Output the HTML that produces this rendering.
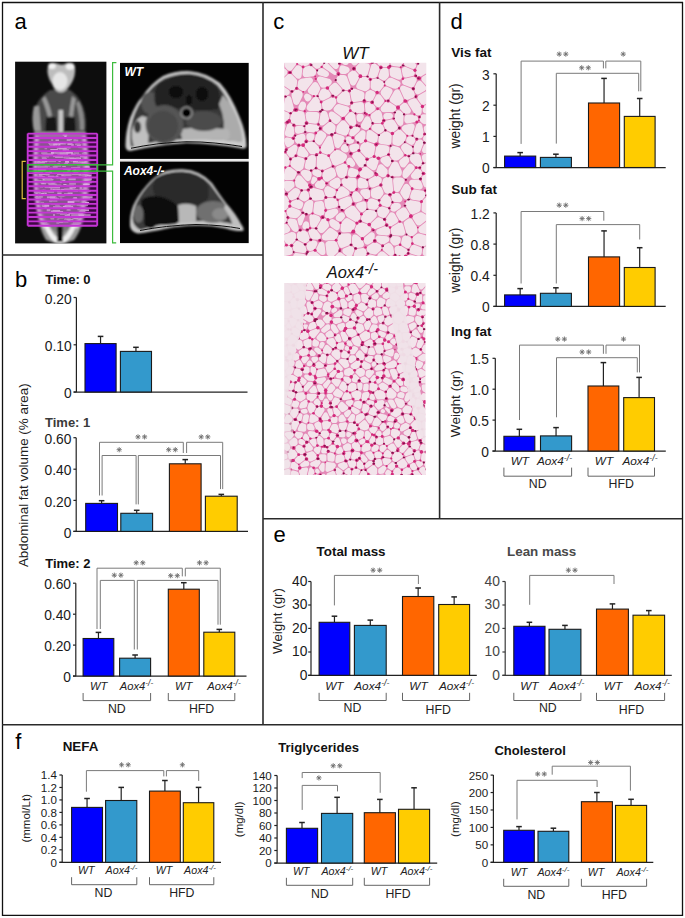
<!DOCTYPE html>
<html><head><meta charset="utf-8"><style>
html,body{margin:0;padding:0;background:#fff;}
svg{display:block;}
text{font-family:"Liberation Sans", sans-serif;}
</style></head><body>
<svg width="685" height="918" viewBox="0 0 685 918" font-family='"Liberation Sans", sans-serif'>
<rect width="685" height="918" fill="#fff"/>
<defs><filter id="mri" x="-10%" y="-10%" width="120%" height="120%"><feGaussianBlur stdDeviation="1.1"/></filter><filter id="mri2" x="-10%" y="-10%" width="120%" height="120%"><feGaussianBlur stdDeviation="0.6"/></filter><clipPath id="cor"><rect x="15.1" y="61.7" width="91.3" height="181.7"/></clipPath><clipPath id="ax1"><rect x="120" y="62.9" width="128.7" height="96"/></clipPath><clipPath id="ax2"><rect x="120" y="161.7" width="128.7" height="81.4"/></clipPath></defs>
<text x="14.6" y="28.9" font-size="22" fill="#000">a</text>
<rect x="15.1" y="61.7" width="91.3" height="181.7" fill="#0d0d0d"/>
<g clip-path="url(#cor)"><g filter="url(#mri)">
<path d="M50 90 L70 90 Q82 98 85 114 Q87 126 85 133 L35 133 Q31 122 34 110 Q39 97 50 90 Z" fill="#4a4a4a"/>
<path d="M34 106 Q31 118 34 131 L41 131 Q40 117 39 106 Z" fill="#9a9a9a"/>
<path d="M79 101 Q85 112 84 130 L80 130 Q80 115 76 103 Z" fill="#8a8a8a"/>
<path d="M45 96 Q50 105 52 116 L48 117 Q45 106 42 99 Z" fill="#9a9a9a"/>
<path d="M72 96 Q70 106 69 116 L73 117 Q74 106 76 99 Z" fill="#9a9a9a"/>
<path d="M46 117 L56 117 L57 133 L45 133 Z" fill="#151515"/>
<path d="M65 117 L75 117 L76 133 L64 133 Z" fill="#151515"/>
<rect x="58.5" y="110" width="4.5" height="22" fill="#c8c8c8"/>
<path d="M34 132 Q32 160 34 190 Q37 226 46 240 Q60 247 74 240 Q85 226 89 190 Q91 160 86 132 Z" fill="#9a9a9a"/>
<path d="M39 138 Q37 175 41 205 Q46 229 60 234 Q75 229 80 205 Q84 175 82 138 Z" fill="#7a7a7a"/>
<path d="M43 224 Q51 244 60 244 Q69 244 77 224 L72 224 Q66 238 60 238 Q54 238 48 224 Z" fill="#eeeeee"/>
<path d="M37 136 Q34 165 36 192 Q38 215 45 228" fill="none" stroke="#e0e0e0" stroke-width="3"/>
<path d="M84 136 Q87 165 85 192 Q83 215 76 228" fill="none" stroke="#e0e0e0" stroke-width="3"/>
<rect x="57" y="226" width="6" height="16" fill="#111"/>
<path d="M48 66 Q51 61.5 57 63.5 Q62 66 67 63 Q74 61.5 75 67 Q76 76 71 84 Q66 92.5 61 92.5 Q55 92.5 52 84 Q46 75 48 66 Z" fill="#bdbdbd"/>
<ellipse cx="60" cy="81" rx="7.5" ry="9" fill="#e6e6e6"/>
<ellipse cx="52" cy="66" rx="3.8" ry="3" fill="#f2f2f2"/>
<ellipse cx="70" cy="66.5" rx="4.2" ry="3.2" fill="#f2f2f2"/>
</g>
<g filter="url(#mri2)" opacity="0.9"><rect x="67.6" y="200.8" width="6.8" height="2.3" fill="rgb(247,247,247)"/><rect x="35.6" y="175.9" width="7.7" height="1.9" fill="rgb(200,200,200)"/><rect x="40.1" y="176.2" width="3.5" height="1.8" fill="rgb(211,211,211)"/><rect x="49.1" y="216.5" width="6.6" height="1.2" fill="rgb(189,189,189)"/><rect x="41.5" y="189.6" width="2.8" height="1.0" fill="rgb(180,180,180)"/><rect x="45.3" y="153.4" width="7.9" height="2.2" fill="rgb(217,217,217)"/><rect x="50.9" y="151.9" width="7.3" height="1.9" fill="rgb(203,203,203)"/><rect x="84.8" y="196.2" width="7.8" height="2.3" fill="rgb(218,218,218)"/><rect x="35.2" y="171.3" width="7.6" height="1.4" fill="rgb(222,222,222)"/><rect x="50.3" y="188.3" width="2.0" height="1.9" fill="rgb(223,223,223)"/><rect x="37.6" y="166.0" width="3.8" height="2.0" fill="rgb(203,203,203)"/><rect x="60.0" y="197.4" width="2.3" height="2.4" fill="rgb(182,182,182)"/><rect x="85.3" y="166.2" width="4.4" height="1.8" fill="rgb(233,233,233)"/><rect x="53.8" y="186.1" width="2.1" height="1.1" fill="rgb(203,203,203)"/><rect x="67.7" y="219.9" width="2.7" height="1.3" fill="rgb(239,239,239)"/><rect x="52.6" y="165.9" width="5.1" height="2.1" fill="rgb(193,193,193)"/><rect x="65.8" y="204.3" width="4.2" height="1.4" fill="rgb(235,235,235)"/><rect x="52.4" y="189.0" width="7.5" height="1.5" fill="rgb(249,249,249)"/><rect x="39.0" y="195.7" width="3.8" height="2.1" fill="rgb(199,199,199)"/><rect x="72.9" y="161.8" width="4.9" height="2.0" fill="rgb(190,190,190)"/><rect x="87.3" y="182.0" width="4.4" height="1.3" fill="rgb(224,224,224)"/><rect x="78.6" y="175.0" width="4.5" height="1.1" fill="rgb(184,184,184)"/><rect x="77.3" y="164.1" width="3.2" height="2.4" fill="rgb(196,196,196)"/><rect x="68.0" y="204.9" width="2.6" height="1.6" fill="rgb(199,199,199)"/><rect x="37.2" y="171.9" width="2.8" height="2.3" fill="rgb(201,201,201)"/><rect x="86.7" y="174.8" width="4.9" height="2.0" fill="rgb(241,241,241)"/><rect x="48.8" y="176.3" width="7.4" height="1.2" fill="rgb(248,248,248)"/><rect x="85.8" y="190.4" width="5.0" height="1.5" fill="rgb(191,191,191)"/><rect x="60.6" y="180.4" width="5.3" height="1.7" fill="rgb(188,188,188)"/><rect x="76.4" y="203.7" width="6.2" height="1.9" fill="rgb(219,219,219)"/><rect x="53.6" y="197.4" width="3.7" height="1.7" fill="rgb(217,217,217)"/><rect x="85.7" y="164.6" width="3.1" height="2.2" fill="rgb(240,240,240)"/><rect x="63.5" y="156.6" width="6.0" height="1.6" fill="rgb(244,244,244)"/><rect x="69.0" y="205.8" width="4.1" height="1.9" fill="rgb(232,232,232)"/><rect x="52.9" y="209.9" width="7.2" height="2.0" fill="rgb(226,226,226)"/><rect x="85.7" y="180.6" width="5.2" height="1.2" fill="rgb(226,226,226)"/><rect x="84.6" y="177.0" width="6.1" height="2.0" fill="rgb(233,233,233)"/><rect x="43.3" y="204.2" width="5.5" height="1.9" fill="rgb(233,233,233)"/><rect x="50.3" y="183.8" width="7.2" height="1.4" fill="rgb(183,183,183)"/><rect x="44.6" y="186.8" width="5.7" height="1.3" fill="rgb(203,203,203)"/><rect x="68.1" y="137.8" width="4.8" height="1.3" fill="rgb(186,186,186)"/><rect x="86.3" y="177.4" width="5.3" height="1.6" fill="rgb(224,224,224)"/><rect x="54.5" y="189.1" width="5.5" height="1.3" fill="rgb(227,227,227)"/><rect x="49.0" y="170.9" width="2.7" height="2.2" fill="rgb(227,227,227)"/><rect x="86.1" y="183.5" width="3.8" height="1.4" fill="rgb(245,245,245)"/><rect x="52.3" y="186.3" width="7.7" height="2.1" fill="rgb(233,233,233)"/><rect x="56.1" y="184.8" width="5.2" height="1.7" fill="rgb(200,200,200)"/><rect x="66.2" y="184.7" width="7.7" height="2.4" fill="rgb(191,191,191)"/><rect x="53.0" y="214.4" width="2.0" height="1.2" fill="rgb(249,249,249)"/><rect x="41.6" y="190.7" width="7.3" height="1.5" fill="rgb(235,235,235)"/><rect x="86.7" y="178.4" width="4.9" height="2.0" fill="rgb(229,229,229)"/><rect x="66.2" y="157.4" width="7.9" height="1.7" fill="rgb(233,233,233)"/><rect x="50.6" y="217.7" width="2.9" height="1.0" fill="rgb(236,236,236)"/><rect x="41.4" y="169.3" width="4.9" height="1.8" fill="rgb(211,211,211)"/><rect x="84.5" y="204.4" width="3.5" height="1.4" fill="rgb(199,199,199)"/><rect x="73.0" y="159.7" width="5.0" height="2.4" fill="rgb(246,246,246)"/><rect x="68.8" y="188.3" width="6.5" height="1.2" fill="rgb(196,196,196)"/><rect x="50.2" y="182.0" width="4.0" height="1.4" fill="rgb(247,247,247)"/><rect x="70.8" y="207.1" width="2.8" height="1.0" fill="rgb(250,250,250)"/><rect x="58.6" y="216.5" width="7.3" height="1.8" fill="rgb(181,181,181)"/><rect x="57.2" y="206.7" width="5.6" height="2.0" fill="rgb(241,241,241)"/><rect x="80.4" y="209.7" width="4.9" height="2.0" fill="rgb(205,205,205)"/><rect x="82.5" y="175.9" width="6.5" height="1.4" fill="rgb(180,180,180)"/><rect x="71.5" y="173.0" width="3.7" height="2.1" fill="rgb(219,219,219)"/><rect x="41.7" y="177.1" width="5.3" height="1.7" fill="rgb(222,222,222)"/><rect x="63.0" y="172.3" width="5.2" height="1.1" fill="rgb(209,209,209)"/><rect x="48.4" y="141.7" width="2.4" height="2.3" fill="rgb(222,222,222)"/><rect x="73.0" y="222.1" width="8.0" height="2.0" fill="rgb(186,186,186)"/><rect x="67.2" y="208.2" width="2.7" height="2.3" fill="rgb(217,217,217)"/><rect x="72.1" y="173.4" width="3.1" height="1.3" fill="rgb(200,200,200)"/><rect x="64.0" y="193.4" width="6.5" height="1.4" fill="rgb(195,195,195)"/><rect x="74.1" y="213.1" width="2.8" height="1.6" fill="rgb(220,220,220)"/><rect x="71.0" y="178.0" width="4.1" height="1.9" fill="rgb(187,187,187)"/><rect x="41.5" y="160.5" width="5.4" height="1.9" fill="rgb(217,217,217)"/><rect x="83.2" y="183.9" width="5.7" height="1.4" fill="rgb(250,250,250)"/><rect x="46.7" y="208.9" width="3.7" height="2.4" fill="rgb(210,210,210)"/><rect x="80.6" y="174.8" width="4.3" height="1.2" fill="rgb(182,182,182)"/><rect x="69.4" y="141.7" width="6.0" height="1.1" fill="rgb(195,195,195)"/><rect x="61.3" y="174.8" width="4.3" height="1.6" fill="rgb(221,221,221)"/><rect x="39.8" y="181.8" width="5.3" height="1.5" fill="rgb(199,199,199)"/><rect x="85.0" y="172.6" width="6.8" height="2.0" fill="rgb(190,190,190)"/><rect x="86.5" y="193.9" width="6.9" height="1.2" fill="rgb(228,228,228)"/><rect x="53.1" y="155.2" width="4.0" height="1.9" fill="rgb(224,224,224)"/><rect x="77.0" y="168.0" width="6.3" height="1.5" fill="rgb(217,217,217)"/><rect x="77.4" y="173.0" width="7.1" height="1.7" fill="rgb(207,207,207)"/><rect x="74.0" y="169.6" width="2.6" height="1.0" fill="rgb(205,205,205)"/><rect x="44.6" y="178.1" width="7.6" height="1.9" fill="rgb(224,224,224)"/><rect x="82.0" y="189.8" width="4.6" height="1.7" fill="rgb(192,192,192)"/><rect x="44.3" y="192.8" width="2.4" height="2.2" fill="rgb(240,240,240)"/><rect x="42.2" y="156.9" width="3.7" height="1.2" fill="rgb(216,216,216)"/><rect x="70.3" y="137.0" width="7.4" height="1.5" fill="rgb(227,227,227)"/><rect x="51.1" y="139.3" width="2.1" height="1.6" fill="rgb(199,199,199)"/><rect x="40.4" y="194.2" width="3.7" height="1.9" fill="rgb(200,200,200)"/><rect x="35.8" y="198.3" width="5.4" height="1.9" fill="rgb(231,231,231)"/><rect x="83.2" y="197.6" width="6.1" height="1.3" fill="rgb(226,226,226)"/><rect x="49.3" y="199.9" width="6.3" height="1.2" fill="rgb(210,210,210)"/><rect x="43.5" y="152.8" width="2.3" height="1.9" fill="rgb(214,214,214)"/><rect x="76.1" y="170.9" width="2.3" height="1.8" fill="rgb(246,246,246)"/><rect x="64.5" y="218.6" width="6.3" height="1.3" fill="rgb(242,242,242)"/><rect x="39.0" y="176.4" width="6.1" height="1.9" fill="rgb(243,243,243)"/><rect x="55.5" y="139.4" width="3.5" height="1.6" fill="rgb(219,219,219)"/><rect x="68.6" y="212.8" width="7.7" height="1.3" fill="rgb(245,245,245)"/><rect x="68.6" y="150.9" width="3.4" height="2.3" fill="rgb(193,193,193)"/><rect x="73.4" y="190.2" width="4.6" height="1.5" fill="rgb(234,234,234)"/><rect x="64.9" y="167.9" width="5.8" height="2.0" fill="rgb(219,219,219)"/><rect x="71.2" y="214.2" width="8.0" height="1.8" fill="rgb(197,197,197)"/><rect x="50.8" y="141.9" width="6.6" height="2.1" fill="rgb(220,220,220)"/><rect x="41.2" y="182.3" width="4.8" height="2.0" fill="rgb(234,234,234)"/><rect x="86.3" y="194.0" width="3.7" height="1.7" fill="rgb(211,211,211)"/><rect x="49.4" y="167.6" width="2.6" height="1.6" fill="rgb(220,220,220)"/><rect x="54.5" y="203.2" width="2.0" height="1.4" fill="rgb(196,196,196)"/><rect x="65.0" y="173.8" width="6.9" height="1.9" fill="rgb(182,182,182)"/><rect x="73.3" y="197.1" width="3.6" height="2.1" fill="rgb(228,228,228)"/><rect x="64.3" y="162.9" width="3.8" height="1.2" fill="rgb(243,243,243)"/><rect x="70.5" y="159.7" width="2.4" height="2.1" fill="rgb(183,183,183)"/><rect x="41.0" y="166.1" width="7.2" height="2.3" fill="rgb(182,182,182)"/><rect x="46.5" y="172.6" width="4.2" height="1.5" fill="rgb(181,181,181)"/><rect x="42.8" y="189.7" width="3.0" height="2.4" fill="rgb(214,214,214)"/><rect x="62.6" y="149.4" width="6.3" height="1.6" fill="rgb(235,235,235)"/><rect x="76.9" y="144.6" width="3.9" height="2.3" fill="rgb(239,239,239)"/><rect x="66.2" y="149.4" width="2.3" height="1.9" fill="rgb(200,200,200)"/><rect x="62.8" y="221.3" width="5.6" height="1.1" fill="rgb(233,233,233)"/><rect x="71.0" y="152.7" width="2.0" height="2.3" fill="rgb(210,210,210)"/><rect x="60.0" y="213.4" width="4.4" height="1.3" fill="rgb(215,215,215)"/><rect x="78.4" y="161.3" width="5.1" height="2.1" fill="rgb(210,210,210)"/><rect x="53.8" y="206.8" width="6.9" height="1.9" fill="rgb(187,187,187)"/><rect x="67.4" y="170.1" width="2.9" height="2.2" fill="rgb(242,242,242)"/><rect x="54.6" y="142.4" width="4.4" height="2.1" fill="rgb(216,216,216)"/><rect x="77.0" y="163.2" width="6.1" height="2.2" fill="rgb(191,191,191)"/><rect x="77.2" y="167.9" width="2.1" height="1.7" fill="rgb(203,203,203)"/><rect x="70.6" y="188.9" width="5.1" height="1.7" fill="rgb(249,249,249)"/><rect x="72.0" y="169.9" width="7.9" height="2.1" fill="rgb(187,187,187)"/><rect x="63.0" y="205.9" width="4.2" height="1.8" fill="rgb(246,246,246)"/><rect x="45.2" y="159.8" width="2.2" height="2.1" fill="rgb(232,232,232)"/><rect x="50.6" y="217.6" width="3.6" height="2.0" fill="rgb(189,189,189)"/><rect x="53.0" y="206.1" width="7.6" height="1.8" fill="rgb(206,206,206)"/><rect x="60.1" y="142.3" width="2.7" height="1.5" fill="rgb(249,249,249)"/><rect x="56.9" y="221.2" width="6.0" height="1.5" fill="rgb(247,247,247)"/><rect x="82.6" y="215.9" width="5.7" height="1.5" fill="rgb(193,193,193)"/><rect x="79.5" y="214.0" width="6.1" height="2.4" fill="rgb(211,211,211)"/><rect x="81.9" y="153.1" width="3.8" height="1.4" fill="rgb(189,189,189)"/><rect x="68.2" y="203.0" width="3.3" height="1.1" fill="rgb(249,249,249)"/><rect x="73.3" y="171.5" width="4.6" height="1.7" fill="rgb(211,211,211)"/><rect x="50.3" y="159.3" width="5.6" height="2.4" fill="rgb(203,203,203)"/><rect x="56.8" y="147.4" width="3.8" height="1.8" fill="rgb(203,203,203)"/><rect x="57.4" y="163.3" width="2.6" height="2.1" fill="rgb(222,222,222)"/><rect x="73.4" y="139.5" width="4.9" height="2.2" fill="rgb(189,189,189)"/><rect x="51.2" y="210.5" width="5.9" height="2.3" fill="rgb(209,209,209)"/><rect x="82.2" y="189.4" width="6.8" height="2.2" fill="rgb(180,180,180)"/><rect x="44.5" y="148.1" width="2.6" height="1.2" fill="rgb(193,193,193)"/><rect x="65.0" y="173.7" width="3.9" height="2.1" fill="rgb(203,203,203)"/><rect x="72.5" y="217.2" width="7.7" height="1.9" fill="rgb(193,193,193)"/><rect x="53.7" y="207.3" width="3.2" height="1.5" fill="rgb(202,202,202)"/><rect x="58.8" y="195.2" width="6.5" height="1.1" fill="rgb(231,231,231)"/><rect x="84.8" y="175.9" width="2.0" height="2.4" fill="rgb(227,227,227)"/><rect x="54.6" y="164.8" width="6.5" height="1.7" fill="rgb(217,217,217)"/><rect x="44.6" y="164.9" width="2.8" height="2.3" fill="rgb(191,191,191)"/><rect x="65.1" y="160.6" width="4.0" height="2.2" fill="rgb(246,246,246)"/><rect x="57.3" y="153.8" width="7.9" height="1.4" fill="rgb(189,189,189)"/><rect x="41.9" y="221.1" width="5.3" height="1.6" fill="rgb(203,203,203)"/><rect x="63.2" y="168.8" width="7.6" height="1.1" fill="rgb(225,225,225)"/><rect x="78.2" y="146.7" width="6.9" height="1.0" fill="rgb(238,238,238)"/><rect x="44.5" y="206.3" width="2.1" height="1.7" fill="rgb(215,215,215)"/><rect x="66.3" y="209.5" width="4.8" height="1.0" fill="rgb(200,200,200)"/><rect x="55.2" y="204.1" width="4.6" height="1.8" fill="rgb(184,184,184)"/><rect x="45.6" y="171.9" width="6.3" height="2.1" fill="rgb(235,235,235)"/><rect x="83.4" y="168.1" width="8.0" height="2.1" fill="rgb(223,223,223)"/><rect x="42.0" y="204.3" width="4.5" height="2.4" fill="rgb(227,227,227)"/><rect x="45.7" y="171.9" width="3.6" height="1.7" fill="rgb(216,216,216)"/><rect x="34.1" y="191.0" width="6.6" height="2.1" fill="rgb(189,189,189)"/><rect x="38.0" y="168.3" width="7.4" height="2.2" fill="rgb(205,205,205)"/><rect x="69.0" y="201.3" width="5.0" height="1.4" fill="rgb(238,238,238)"/><rect x="41.4" y="155.3" width="7.5" height="2.3" fill="rgb(183,183,183)"/><rect x="69.3" y="164.1" width="3.3" height="1.4" fill="rgb(191,191,191)"/><rect x="49.3" y="143.5" width="4.4" height="1.4" fill="rgb(241,241,241)"/><rect x="63.6" y="173.9" width="7.2" height="2.4" fill="rgb(197,197,197)"/><rect x="48.2" y="183.1" width="6.4" height="1.2" fill="rgb(241,241,241)"/><rect x="69.9" y="139.0" width="2.1" height="1.3" fill="rgb(209,209,209)"/><rect x="61.2" y="188.9" width="6.8" height="1.1" fill="rgb(244,244,244)"/><rect x="46.9" y="196.3" width="7.3" height="2.1" fill="rgb(218,218,218)"/><rect x="57.7" y="143.2" width="2.7" height="2.3" fill="rgb(247,247,247)"/><rect x="48.9" y="186.5" width="5.6" height="1.5" fill="rgb(228,228,228)"/><rect x="50.3" y="149.0" width="7.6" height="1.1" fill="rgb(237,237,237)"/><rect x="67.4" y="142.9" width="5.1" height="2.1" fill="rgb(227,227,227)"/><rect x="78.8" y="146.4" width="4.1" height="1.7" fill="rgb(206,206,206)"/><rect x="64.6" y="137.8" width="6.5" height="1.2" fill="rgb(198,198,198)"/><rect x="54.2" y="164.7" width="6.9" height="1.7" fill="rgb(198,198,198)"/><rect x="74.0" y="157.6" width="7.0" height="1.9" fill="rgb(229,229,229)"/><rect x="43.0" y="205.0" width="6.2" height="1.8" fill="rgb(236,236,236)"/><rect x="83.4" y="209.3" width="5.6" height="1.8" fill="rgb(225,225,225)"/><rect x="64.3" y="134.9" width="2.3" height="2.2" fill="rgb(243,243,243)"/><rect x="70.4" y="192.5" width="2.2" height="1.6" fill="rgb(232,232,232)"/><rect x="72.9" y="189.0" width="5.7" height="1.3" fill="rgb(194,194,194)"/><rect x="72.1" y="198.7" width="5.6" height="1.1" fill="rgb(238,238,238)"/><rect x="50.4" y="181.2" width="5.2" height="2.2" fill="rgb(214,214,214)"/><rect x="40.5" y="201.9" width="3.6" height="1.4" fill="rgb(180,180,180)"/><rect x="81.5" y="163.1" width="5.9" height="1.7" fill="rgb(228,228,228)"/><rect x="42.4" y="153.5" width="3.6" height="2.3" fill="rgb(206,206,206)"/><rect x="58.7" y="147.5" width="8.0" height="1.9" fill="rgb(236,236,236)"/><rect x="67.6" y="192.6" width="3.0" height="1.2" fill="rgb(242,242,242)"/><rect x="43.2" y="179.2" width="7.6" height="1.5" fill="rgb(182,182,182)"/><rect x="41.8" y="158.1" width="5.0" height="1.8" fill="rgb(207,207,207)"/><rect x="64.0" y="193.6" width="4.5" height="2.1" fill="rgb(220,220,220)"/><rect x="49.9" y="143.7" width="3.6" height="1.5" fill="rgb(246,246,246)"/><rect x="48.3" y="190.6" width="5.8" height="2.3" fill="rgb(194,194,194)"/><rect x="71.2" y="143.9" width="2.6" height="2.2" fill="rgb(216,216,216)"/><rect x="79.6" y="186.4" width="2.3" height="2.4" fill="rgb(229,229,229)"/><rect x="43.3" y="164.1" width="6.6" height="1.1" fill="rgb(222,222,222)"/><rect x="81.7" y="162.1" width="3.8" height="1.5" fill="rgb(232,232,232)"/><rect x="37.4" y="161.1" width="3.1" height="2.3" fill="rgb(244,244,244)"/><rect x="56.0" y="175.6" width="2.4" height="1.6" fill="rgb(249,249,249)"/><rect x="49.7" y="143.7" width="5.1" height="2.3" fill="rgb(189,189,189)"/><rect x="59.2" y="143.2" width="6.6" height="1.2" fill="rgb(248,248,248)"/><rect x="39.1" y="192.9" width="6.0" height="1.5" fill="rgb(194,194,194)"/><rect x="48.7" y="183.6" width="7.8" height="1.6" fill="rgb(206,206,206)"/><rect x="41.2" y="193.1" width="3.1" height="1.3" fill="rgb(247,247,247)"/><rect x="37.8" y="161.6" width="7.1" height="1.9" fill="rgb(219,219,219)"/><rect x="57.9" y="216.6" width="5.4" height="1.7" fill="rgb(216,216,216)"/><rect x="43.0" y="190.6" width="4.7" height="1.6" fill="rgb(192,192,192)"/><rect x="41.2" y="152.2" width="6.2" height="2.0" fill="rgb(193,193,193)"/><rect x="58.0" y="155.1" width="3.5" height="1.9" fill="rgb(237,237,237)"/><rect x="47.9" y="175.8" width="6.1" height="2.1" fill="rgb(241,241,241)"/><rect x="39.7" y="186.2" width="3.5" height="1.5" fill="rgb(186,186,186)"/><rect x="63.3" y="184.0" width="3.2" height="1.0" fill="rgb(241,241,241)"/><rect x="68.5" y="178.0" width="7.2" height="2.3" fill="rgb(216,216,216)"/><rect x="66.7" y="139.2" width="3.7" height="1.7" fill="rgb(217,217,217)"/><rect x="56.4" y="221.9" width="2.8" height="1.9" fill="rgb(184,184,184)"/><rect x="50.9" y="210.8" width="6.0" height="1.6" fill="rgb(239,239,239)"/><rect x="52.4" y="199.9" width="5.0" height="2.0" fill="rgb(181,181,181)"/><rect x="42.6" y="178.5" width="2.0" height="2.1" fill="rgb(239,239,239)"/><rect x="62.9" y="177.1" width="2.7" height="1.3" fill="rgb(201,201,201)"/><rect x="80.0" y="155.4" width="7.0" height="1.9" fill="rgb(229,229,229)"/><rect x="56.6" y="211.7" width="5.9" height="2.3" fill="rgb(206,206,206)"/><rect x="69.5" y="186.3" width="6.5" height="1.7" fill="rgb(235,235,235)"/><rect x="65.4" y="154.1" width="2.6" height="1.8" fill="rgb(250,250,250)"/><rect x="74.9" y="174.0" width="6.1" height="1.1" fill="rgb(213,213,213)"/><rect x="62.7" y="134.2" width="4.6" height="1.6" fill="rgb(204,204,204)"/><rect x="75.4" y="143.6" width="4.7" height="1.6" fill="rgb(240,240,240)"/><rect x="59.7" y="181.0" width="2.1" height="2.1" fill="rgb(239,239,239)"/><rect x="79.1" y="189.3" width="6.3" height="2.2" fill="rgb(206,206,206)"/><rect x="37.6" y="164.6" width="2.6" height="1.5" fill="rgb(191,191,191)"/><rect x="43.3" y="169.6" width="2.2" height="1.1" fill="rgb(204,204,204)"/><rect x="73.4" y="169.0" width="3.0" height="2.3" fill="rgb(229,229,229)"/><rect x="71.2" y="153.5" width="4.4" height="1.6" fill="rgb(232,232,232)"/><rect x="62.3" y="152.1" width="6.1" height="2.2" fill="rgb(214,214,214)"/><rect x="75.2" y="212.4" width="7.5" height="2.1" fill="rgb(233,233,233)"/><rect x="78.5" y="215.0" width="5.4" height="2.2" fill="rgb(236,236,236)"/><rect x="73.6" y="152.2" width="5.5" height="2.0" fill="rgb(185,185,185)"/><rect x="44.4" y="182.0" width="7.0" height="1.5" fill="rgb(192,192,192)"/><rect x="72.3" y="173.0" width="6.9" height="1.9" fill="rgb(203,203,203)"/><rect x="57.0" y="143.4" width="2.0" height="1.8" fill="rgb(221,221,221)"/><rect x="73.2" y="213.7" width="4.9" height="1.5" fill="rgb(187,187,187)"/><rect x="73.0" y="167.3" width="7.3" height="1.4" fill="rgb(237,237,237)"/><rect x="81.8" y="163.6" width="7.8" height="1.6" fill="rgb(230,230,230)"/><rect x="57.0" y="173.6" width="6.9" height="1.3" fill="rgb(217,217,217)"/><rect x="39.9" y="180.3" width="6.7" height="1.7" fill="rgb(190,190,190)"/><rect x="69.9" y="187.5" width="2.6" height="2.0" fill="rgb(232,232,232)"/><rect x="43.4" y="165.5" width="6.6" height="1.1" fill="rgb(195,195,195)"/><rect x="84.1" y="214.1" width="6.6" height="2.2" fill="rgb(190,190,190)"/><rect x="36.2" y="180.2" width="4.8" height="1.6" fill="rgb(199,199,199)"/><rect x="56.9" y="189.4" width="5.4" height="2.4" fill="rgb(246,246,246)"/><rect x="47.2" y="160.1" width="2.5" height="1.4" fill="rgb(228,228,228)"/><rect x="49.8" y="142.6" width="4.1" height="2.3" fill="rgb(191,191,191)"/><rect x="53.2" y="143.4" width="4.0" height="2.2" fill="rgb(243,243,243)"/><rect x="51.7" y="195.7" width="4.7" height="2.2" fill="rgb(187,187,187)"/><rect x="66.1" y="214.1" width="3.9" height="1.6" fill="rgb(244,244,244)"/><rect x="62.4" y="180.2" width="2.6" height="1.7" fill="rgb(237,237,237)"/><rect x="56.3" y="151.7" width="6.4" height="2.3" fill="rgb(195,195,195)"/><rect x="41.1" y="173.5" width="7.3" height="1.4" fill="rgb(226,226,226)"/><rect x="56.7" y="218.6" width="2.6" height="1.0" fill="rgb(198,198,198)"/><rect x="73.6" y="137.7" width="2.7" height="2.1" fill="rgb(186,186,186)"/><rect x="67.8" y="159.6" width="5.9" height="1.0" fill="rgb(238,238,238)"/><rect x="50.0" y="196.5" width="5.2" height="2.4" fill="rgb(230,230,230)"/><rect x="79.5" y="189.7" width="7.1" height="1.2" fill="rgb(240,240,240)"/><rect x="38.8" y="173.4" width="3.6" height="2.3" fill="rgb(223,223,223)"/><rect x="55.1" y="211.1" width="8.0" height="1.2" fill="rgb(249,249,249)"/><rect x="58.7" y="159.0" width="3.0" height="1.6" fill="rgb(231,231,231)"/><rect x="51.0" y="151.5" width="2.9" height="2.3" fill="rgb(246,246,246)"/><rect x="58.5" y="159.8" width="2.2" height="2.1" fill="rgb(231,231,231)"/><rect x="47.2" y="178.9" width="5.5" height="1.7" fill="rgb(194,194,194)"/><rect x="76.0" y="161.6" width="4.0" height="1.9" fill="rgb(200,200,200)"/><rect x="59.7" y="152.4" width="7.5" height="2.4" fill="rgb(222,222,222)"/><rect x="76.6" y="153.9" width="4.7" height="1.0" fill="rgb(195,195,195)"/><rect x="75.0" y="143.8" width="6.2" height="1.2" fill="rgb(188,188,188)"/><rect x="68.3" y="203.5" width="7.4" height="1.8" fill="rgb(224,224,224)"/><rect x="76.3" y="157.0" width="3.0" height="1.4" fill="rgb(188,188,188)"/><rect x="55.1" y="155.7" width="7.8" height="2.2" fill="rgb(219,219,219)"/><rect x="59.4" y="154.9" width="2.3" height="2.0" fill="rgb(207,207,207)"/><rect x="54.7" y="185.6" width="3.7" height="1.1" fill="rgb(213,213,213)"/><rect x="74.0" y="217.2" width="3.9" height="1.3" fill="rgb(242,242,242)"/><rect x="62.2" y="165.8" width="3.6" height="1.3" fill="rgb(217,217,217)"/><rect x="58.5" y="195.7" width="5.6" height="1.3" fill="rgb(180,180,180)"/><rect x="64.5" y="142.0" width="3.4" height="1.5" fill="rgb(207,207,207)"/><rect x="49.2" y="199.8" width="3.2" height="2.3" fill="rgb(195,195,195)"/><rect x="66.7" y="189.4" width="7.0" height="1.8" fill="rgb(208,208,208)"/><rect x="81.1" y="190.6" width="6.1" height="1.1" fill="rgb(203,203,203)"/><rect x="65.8" y="206.1" width="5.9" height="1.9" fill="rgb(224,224,224)"/><rect x="64.7" y="219.0" width="7.9" height="1.0" fill="rgb(181,181,181)"/><rect x="64.2" y="188.5" width="5.9" height="1.4" fill="rgb(215,215,215)"/><rect x="79.3" y="210.7" width="5.6" height="1.5" fill="rgb(204,204,204)"/><rect x="58.1" y="184.4" width="3.2" height="1.1" fill="rgb(182,182,182)"/><rect x="63.5" y="151.9" width="6.3" height="1.4" fill="rgb(214,214,214)"/><rect x="38.3" y="165.7" width="6.2" height="1.9" fill="rgb(182,182,182)"/><rect x="66.6" y="218.9" width="6.8" height="1.5" fill="rgb(212,212,212)"/><rect x="37.6" y="169.5" width="7.9" height="1.6" fill="rgb(241,241,241)"/><rect x="66.3" y="152.1" width="6.6" height="1.4" fill="rgb(244,244,244)"/><rect x="71.0" y="167.1" width="5.7" height="1.9" fill="rgb(200,200,200)"/><rect x="84.0" y="197.7" width="6.3" height="2.0" fill="rgb(209,209,209)"/><rect x="64.6" y="204.7" width="6.0" height="1.4" fill="rgb(209,209,209)"/><rect x="56.5" y="177.2" width="7.1" height="1.2" fill="rgb(239,239,239)"/><rect x="60.0" y="178.2" width="5.8" height="1.3" fill="rgb(210,210,210)"/><rect x="51.5" y="198.3" width="7.7" height="1.1" fill="rgb(237,237,237)"/><rect x="69.2" y="182.6" width="6.7" height="2.2" fill="rgb(198,198,198)"/><rect x="34.7" y="196.8" width="6.1" height="1.2" fill="rgb(194,194,194)"/><rect x="77.4" y="208.6" width="2.4" height="1.6" fill="rgb(203,203,203)"/><rect x="85.1" y="202.0" width="4.0" height="2.1" fill="rgb(248,248,248)"/><rect x="87.4" y="180.8" width="6.5" height="1.5" fill="rgb(208,208,208)"/><rect x="86.4" y="178.4" width="5.0" height="1.9" fill="rgb(221,221,221)"/><rect x="51.2" y="179.0" width="2.3" height="1.3" fill="rgb(212,212,212)"/><rect x="49.0" y="160.9" width="6.9" height="1.3" fill="rgb(188,188,188)"/><rect x="64.7" y="214.7" width="4.9" height="1.5" fill="rgb(213,213,213)"/><rect x="45.7" y="173.3" width="3.9" height="2.1" fill="rgb(210,210,210)"/><rect x="51.0" y="203.2" width="7.7" height="1.5" fill="rgb(211,211,211)"/><rect x="64.2" y="156.8" width="5.2" height="1.9" fill="rgb(185,185,185)"/><rect x="41.8" y="204.7" width="2.6" height="1.6" fill="rgb(198,198,198)"/><rect x="63.3" y="212.6" width="3.9" height="2.3" fill="rgb(185,185,185)"/><rect x="57.3" y="192.6" width="4.3" height="1.2" fill="rgb(247,247,247)"/><rect x="72.7" y="200.4" width="6.9" height="1.0" fill="rgb(219,219,219)"/><rect x="64.3" y="146.5" width="6.3" height="1.9" fill="rgb(226,226,226)"/></g>
<rect x="27.7" y="133.6" width="69.5" height="92.2" fill="#b000c0" opacity="0.3"/>
<path d="M27.7 133.60H97.2M27.7 137.99H97.2M27.7 142.38H97.2M27.7 146.77H97.2M27.7 151.16H97.2M27.7 155.55H97.2M27.7 159.94H97.2M27.7 164.33H97.2M27.7 168.72H97.2M27.7 173.11H97.2M27.7 177.50H97.2M27.7 181.90H97.2M27.7 186.29H97.2M27.7 190.68H97.2M27.7 195.07H97.2M27.7 199.46H97.2M27.7 203.85H97.2M27.7 208.24H97.2M27.7 212.63H97.2M27.7 217.02H97.2M27.7 221.41H97.2M27.7 225.80H97.2M27.7 133.6V225.8M97.2 133.6V225.8" stroke="#c535d5" stroke-width="1.9" fill="none"/>
</g>
<rect x="27.9" y="164.8" width="69.5" height="6.3" fill="none" stroke="#3dbb3d" stroke-width="1.6"/>
<polyline points="97.4,164.8 112.6,164.8 112.6,62.6 116.4,62.6" fill="none" stroke="#3dbb3d" stroke-width="1.2"/>
<polyline points="97.4,171.1 112.6,171.1 112.6,242.8 116.2,242.8" fill="none" stroke="#3dbb3d" stroke-width="1.2"/>
<polyline points="25.8,161.3 22.2,161.3 22.2,198.7 25.8,198.7" fill="none" stroke="#e0c040" stroke-width="1.2"/>
<rect x="120" y="62.9" width="128.7" height="96" fill="#030303"/>
<g clip-path="url(#ax1)"><g filter="url(#mri)">
<path d="M190.4 71.2 Q206 72.5 220 83 Q231 95 240 118 Q246 132 246.5 146 Q246 149 242 148.5 Q215 143.5 186.5 143 Q157 145 130 151 Q125 150.5 125.5 145 Q125.5 132 130 118 Q136 103 142 97 Q150 84 163 76 Q176 70.5 190.4 71.2 Z" fill="#cdcdcd"/>
<path d="M190 73.8 Q205 75 217.5 85 Q228 97 235 116 Q240 130 240.5 141.5 Q214 138 186 139 Q158 140 131 146.8 Q128.5 133 132.5 120 Q137.5 104 144.5 97 Q152.5 85 164 78.5 Q177 73.2 190 73.8 Z" fill="#383838"/>
<ellipse cx="150" cy="103" rx="9" ry="11" fill="#555"/>
<path d="M158 84 Q175 74 190 75 Q207 76 218 88 Q222 100 218 109 Q200 112 186 108 Q170 110 156 106 Q152 95 158 84 Z" fill="#202020"/>
<ellipse cx="176" cy="92" rx="7" ry="6" fill="#0c0c0c"/>
<ellipse cx="202" cy="94" rx="6" ry="7" fill="#0c0c0c"/>
<ellipse cx="189" cy="100" rx="3" ry="5" fill="#111"/>
<path d="M223 95 Q235 108 240 126 Q243 138 242 142 L222 140 Q227 122 219 104 Z" fill="#ababab"/>
<path d="M132 130 Q134 120 142 116 L150 118 L148 146 L134 147 Q131 140 132 130 Z" fill="#c0c0c0"/>
<ellipse cx="137.5" cy="127" rx="3.5" ry="6" fill="#3a3a3a"/>
<path d="M180 129 Q200 126 228 129 Q232 135 228 140 Q205 139 182 140 Z" fill="#b4b4b4"/>
<ellipse cx="164.5" cy="124.5" rx="19" ry="19.5" fill="#555"/>
<ellipse cx="163" cy="126" rx="15" ry="15" fill="#4a4a4a"/>
<ellipse cx="204" cy="121" rx="18" ry="10" fill="#4c4c4c"/>
<circle cx="186.5" cy="112.8" r="6.5" fill="#888"/>
<circle cx="186.5" cy="112.8" r="4.6" fill="#050505"/>
</g>
<path d="M131 148.3 Q158 142.5 186.5 141.8 Q215 142 242 146.5" fill="none" stroke="#111" stroke-width="1.1" filter="url(#mri2)"/>
</g>
<text x="124.4" y="76.2" font-size="12" font-weight="bold" font-style="italic" fill="#fff">WT</text>
<rect x="120" y="159.4" width="128.7" height="2.2" fill="#e6e6e6"/>
<rect x="120" y="161.6" width="128.7" height="81.5" fill="#030303"/>
<g clip-path="url(#ax2)"><g filter="url(#mri)">
<path d="M182.6 169.3 Q200 170 212 183 Q220 195 226 203 Q236 214 241 224 Q245 229 243 231 Q236 231.5 226 228.4 Q210 225 196 225.5 Q180 226 167 228.4 Q150 232 138 233.5 Q131 232 130 226 Q129.5 215 133 206 Q138 195 146 186 Q155 175 166 171 Q174 169 182.6 169.3 Z" fill="#c8c8c8"/>
<path d="M182.5 171.6 Q199 172.5 210 184 Q218 195 224 203 Q233 213 238.5 225 Q224 222 212 221 Q196 220.5 181 222 Q160 224 140.5 230 Q132.5 226 132.5 218 Q133.5 207 139.5 197 Q146.5 186 156 177.5 Q168 171.4 182.5 171.6 Z" fill="#3a3a3a"/>
<path d="M156 178 Q168 171 183 172 Q198 173 207 183 Q212 194 205 204 Q190 208 176 206 Q162 204 155 196 Q150 186 156 178 Z" fill="#2c2c2c"/>
<path d="M141 200 Q150 194 162 197 Q176 201 180 210 Q181 220 176 224 Q160 226 148 224 Q140 215 141 200 Z" fill="#0c0c0c"/>
<circle cx="150.5" cy="222" r="6.5" fill="#080808"/>
<ellipse cx="138.5" cy="214" rx="5" ry="9" fill="#6a6a6a"/>
<path d="M178 205 Q188 202 196 206 L196 221 Q186 224 179 222 Z" fill="#b8b8b8"/>
<ellipse cx="213" cy="212" rx="17" ry="11" fill="#707070"/>
<ellipse cx="220" cy="214" rx="8" ry="6" fill="#8a8a8a"/>
<path d="M226 204 Q236 214 240 226 L233 226 Q230 216 224 208 Z" fill="#c0c0c0"/>
</g>
<path d="M140 230.5 Q165 225.5 196 224.5 Q222 225 240 228.5" fill="none" stroke="#111" stroke-width="1.0" filter="url(#mri2)"/>
</g>
<text x="123.9" y="174.6" font-size="12" font-weight="bold" font-style="italic" fill="#fff">Aox4-/-</text>
<defs><filter id="soft" x="-5%" y="-5%" width="110%" height="110%"><feGaussianBlur stdDeviation="0.5"/></filter></defs>
<text x="273.3" y="28.9" font-size="22" fill="#000">c</text>
<text x="355.4" y="58.6" font-size="17" font-style="italic" text-anchor="middle" fill="#111">WT</text>
<text x="326.8" y="278.2" font-size="16.4" font-style="italic" fill="#111">Aox4<tspan font-size="14" dy="-4.6" letter-spacing="0.3">-/-</tspan></text>
<clipPath id="clip11"><rect x="284.2" y="62.8" width="142.10000000000002" height="193.2"/></clipPath>
<g clip-path="url(#clip11)" filter="url(#soft)">
<rect x="284.2" y="62.8" width="142.10000000000002" height="193.2" fill="#e48ab7"/>
<path d="M292.9 53.4L293.1 55.2L294.4 56.5L295.8 57.3L297.2 57.6L298.6 57.3L300.0 56.5L301.2 55.3L301.6 53.6L300.6 42.2L300.1 40.9L299.1 39.9L297.7 39.5L296.3 39.8L295.2 40.7L294.6 42.0ZM314.6 50.0L315.3 48.5L317.2 37.7L317.2 36.9L307.4 -70.9L306.9 -72.3L305.8 -73.3L304.3 -73.6L302.9 -73.2L301.8 -72.1L301.4 -70.7L299.0 14.1L299.0 14.4L302.4 53.3L303.1 55.0L304.7 56.0L306.6 56.4L308.1 56.4L309.5 55.6ZM323.1 59.9L324.3 61.0L325.9 61.2L327.4 60.6L329.6 58.9L330.5 57.7L330.7 56.2L330.2 54.8L322.1 44.0L320.7 42.9L319.0 42.8L317.5 43.7L316.7 45.2L316.2 48.2L316.7 50.4ZM337.5 58.2L338.5 58.7L339.7 58.7L345.3 57.8L346.5 57.3L347.4 56.3L351.6 48.8L351.9 47.5L351.7 46.2L348.5 38.7L347.4 37.4L345.7 36.9L344.1 37.4L343.0 38.7L336.2 54.4L336.0 55.7L336.4 57.0L337.2 58.0ZM372.7 57.8L373.3 59.2L374.5 60.2L376.1 60.4L377.6 59.8L382.1 56.1L383.1 54.5L383.0 52.6L380.0 45.4L379.0 44.1L377.5 43.5L375.9 43.8L374.7 44.9L372.4 48.7L371.9 50.6ZM385.6 41.2L384.2 40.3L382.5 40.3L381.1 41.2L380.3 42.7L380.5 44.3L384.3 53.6L385.5 55.1L387.8 56.4L389.1 56.8L390.4 56.7L391.5 56.0L393.2 54.3L393.9 53.0L394.0 51.5L393.3 50.2ZM280.4 67.8L282.2 67.5L283.4 66.1L283.7 64.4L282.7 58.6L281.6 56.7L281.5 56.6L280.0 56.0L278.4 56.2L267.7 61.0L266.5 62.0L265.9 63.4L266.2 65.0L267.1 66.2L268.6 66.7ZM287.6 69.9L289.1 70.8L290.8 70.7L292.1 69.7L296.1 64.6L296.7 62.8L296.7 60.6L296.3 59.0L295.1 57.9L292.9 56.7L291.0 56.3L286.4 57.1L285.0 57.7L284.1 59.0L283.9 60.5L284.8 66.3L285.6 67.9ZM297.5 61.8L298.0 63.4L299.2 64.6L302.1 66.0L304.2 66.2L307.3 65.4L308.7 64.6L309.5 63.2L309.4 61.6L308.6 59.2L307.8 58.0L306.5 57.3L303.4 56.5L301.3 56.8L299.2 57.9L298.0 59.0L297.6 60.5ZM322.8 64.4L323.3 62.7L322.8 61.0L317.6 53.4L316.3 52.2L314.5 52.1L312.9 53.0L310.1 56.1L309.4 57.5L309.5 59.1L311.1 63.9L311.9 65.2L315.2 68.1L316.4 68.7L317.7 68.8L319.0 68.3L320.9 66.9L321.6 66.2ZM333.7 68.2L335.1 69.0L336.8 68.9L338.1 67.9L338.8 66.4L339.0 64.0L338.9 62.9L338.3 60.6L337.2 59.0L335.7 58.0L334.6 57.5L333.4 57.4L333.4 57.4L332.1 58.0L330.0 59.7L329.0 61.0L328.9 62.7L329.7 64.2ZM344.3 58.8L342.9 59.4L342.0 60.7L341.8 62.3L342.5 63.7L343.7 64.6L344.8 65.0L346.3 65.1L347.7 64.5L348.6 63.3L348.8 61.8L348.3 60.4L347.9 59.9L346.6 58.9L345.0 58.7ZM348.4 56.2L348.1 57.9L348.6 59.4L352.1 64.3L353.5 65.4L355.3 65.5L356.8 64.6L358.2 63.1L358.8 62.0L358.9 60.7L357.9 53.3L356.8 51.3L355.6 50.4L354.0 49.8L352.4 50.1L351.1 51.3ZM361.4 51.7L360.1 52.3L359.2 53.5L359.0 55.0L359.6 59.4L360.1 60.7L361.0 61.6L362.3 62.0L368.8 62.5L370.5 62.1L371.7 60.9L372.0 59.2L371.4 53.2L370.8 51.7L369.5 50.7L367.8 50.5ZM389.5 60.1L389.1 58.6L388.0 57.5L386.1 56.4L384.4 56.0L382.7 56.7L378.3 60.3L377.3 61.8L377.3 63.6L378.4 65.0L380.2 66.3L382.0 66.9L386.6 66.9L388.1 66.4L389.1 65.3L389.5 63.8ZM404.1 55.1L403.6 53.7L402.4 52.7L400.9 52.4L397.0 52.7L395.1 53.5L391.2 57.4L390.5 58.4L390.3 59.6L390.3 63.1L390.7 64.5L391.7 65.6L393.1 66.1L399.2 66.7L400.5 66.5L401.6 65.8L401.8 65.6L402.5 64.4L404.3 59.4L404.5 58.1ZM408.1 60.4L406.5 60.3L405.1 60.9L404.2 62.2L404.2 62.4L404.0 63.9L404.6 65.3L405.9 66.2L412.0 68.7L413.6 68.9L415.0 68.3L415.9 67.1L416.1 66.7L416.3 65.1L415.7 63.7L414.4 62.7ZM407.8 52.3L406.3 52.8L405.3 54.1L405.0 55.7L405.1 56.7L405.8 58.2L407.1 59.2L416.3 62.5L417.8 62.7L419.2 62.1L421.0 60.8L421.9 59.7L422.2 58.4L421.9 57.1L421.1 56.0L416.7 52.6L414.7 51.9ZM428.8 57.1L427.6 57.8L426.8 59.0L426.6 60.3L427.1 61.6L431.5 68.5L432.5 69.5L433.9 69.9L435.3 69.6L474.4 50.8L475.5 49.8L476.1 48.5L475.9 47.0L475.1 45.8L473.8 45.1L472.3 45.2ZM256.2 66.4L255.1 66.5L238.9 71.0L237.5 71.8L236.7 73.3L236.9 75.0L238.0 76.3L239.5 76.9L270.9 78.5L272.2 78.3L273.3 77.4L276.9 73.0L277.6 71.6L277.4 70.0L276.4 68.7L274.9 68.2ZM286.6 74.5L287.4 73.1L287.5 71.6L286.7 70.2L285.7 69.2L284.3 68.4L282.7 68.4L282.5 68.5L281.0 69.4L276.2 75.3L275.6 76.6L275.7 78.1L276.4 79.3L277.7 80.1L278.2 80.2L279.8 80.2L281.1 79.5ZM292.6 70.5L292.0 71.8L292.1 73.2L292.8 74.4L296.4 78.0L297.8 78.8L299.5 78.7L300.8 77.7L301.5 76.2L302.3 69.3L302.0 67.5L300.7 66.2L299.4 65.6L298.1 65.3L296.8 65.6L295.7 66.4ZM313.2 76.3L314.9 75.5L315.8 73.9L316.2 72.1L316.1 70.5L315.2 69.2L312.0 66.4L310.7 65.7L309.3 65.8L305.4 66.8L303.9 67.7L303.2 69.3L302.6 73.8L302.9 75.6L304.2 76.9L306.0 77.2ZM325.2 76.9L326.9 76.9L328.3 76.0L329.0 74.5L328.8 72.8L327.7 71.5L323.3 68.6L321.6 68.1L319.9 68.6L318.3 69.8L317.1 71.6L317.1 71.7L317.2 73.1L317.9 74.4L319.2 75.2ZM333.9 74.7L334.7 75.0L335.6 74.9L336.3 74.4L336.7 73.6L336.7 72.7L336.2 71.9L327.5 63.1L326.5 62.6L325.4 62.7L325.2 62.9L324.4 63.5L323.2 65.3L322.9 66.2L323.1 67.1L323.7 67.8ZM339.1 70.8L339.4 72.5L340.6 73.7L342.3 74.1L345.5 73.9L347.1 73.3L348.6 72.2L349.5 71.0L349.7 69.4L349.1 67.9L347.8 67.0L343.5 65.4L341.7 65.3L340.2 66.2L339.5 67.9ZM356.2 66.5L355.5 67.8L355.5 69.2L356.1 70.5L359.8 74.8L360.7 75.5L361.9 75.9L364.7 76.1L366.0 75.9L367.2 75.1L367.8 73.9L369.8 67.0L369.7 65.3L368.7 63.8L367.1 63.2L361.2 62.7L359.8 62.9L358.7 63.7ZM368.5 74.7L368.4 76.3L369.2 77.6L370.5 78.4L372.0 78.5L375.4 77.7L376.7 77.0L377.5 75.7L379.6 69.6L379.7 67.7L378.6 66.2L375.7 64.1L374.4 63.5L372.9 63.6L371.7 64.4L371.0 65.7ZM378.6 75.2L378.5 76.5L378.9 77.8L379.9 78.7L382.2 80.1L383.5 80.6L384.8 80.4L385.9 79.7L388.2 77.4L388.8 76.3L389.0 75.0L388.6 70.5L388.2 69.1L387.1 68.1L385.6 67.7L383.3 67.8L381.5 68.3L380.5 69.8ZM392.7 66.9L391.0 67.2L389.8 68.4L389.5 70.1L389.8 74.4L390.4 76.0L391.6 77.0L397.9 79.6L399.5 79.8L401.0 79.2L401.9 77.9L402.0 76.3L400.8 69.8L399.9 68.2L398.1 67.4ZM405.9 67.1L404.3 66.9L402.8 67.5L401.9 68.8L401.8 70.4L402.7 75.1L403.4 76.5L404.7 77.4L406.3 77.5L412.5 76.1L413.8 75.4L414.7 74.2L414.8 72.8L414.8 72.4L414.2 70.9L412.9 70.0ZM415.7 69.7L415.5 71.2L415.9 74.4L416.9 76.3L417.1 76.5L418.9 77.2L420.6 76.8L428.9 71.7L430.0 70.5L430.3 69.0L429.8 67.5L426.2 61.9L425.0 60.8L423.4 60.6L421.9 61.1L418.9 63.4L417.9 64.6ZM209.1 92.7L209.7 92.8L274.6 92.2L276.1 91.8L277.1 90.7L280.2 85.9L280.6 84.5L280.4 83.1L280.2 82.8L279.5 81.7L278.3 81.1L272.8 79.5L272.2 79.4L218.9 76.6L218.4 76.6L180.5 81.6L178.9 82.3L178.0 83.6L177.9 85.3L178.8 86.8L180.3 87.5ZM291.9 74.6L290.6 73.9L289.1 73.8L287.7 74.6L282.1 79.8L281.2 81.4L281.4 83.2L281.5 83.5L282.5 84.7L290.3 90.0L292.0 90.5L293.7 89.9L295.2 88.9L296.1 88.0L296.5 86.8L297.2 81.6L297.0 80.3L296.3 79.1ZM302.5 90.9L303.8 91.3L305.1 91.0L306.2 90.2L312.4 82.4L313.0 81.1L312.9 79.7L312.2 78.5L311.1 77.7L309.7 77.6L302.3 78.5L301.3 78.8L299.7 79.6L298.5 80.5L298.0 81.9L297.4 86.0L297.7 87.8L299.0 89.1ZM313.2 95.4L314.7 95.7L315.4 95.7L316.9 95.2L317.9 94.0L319.9 89.8L320.2 88.4L319.8 87.0L317.8 83.5L316.8 82.5L315.5 82.0L314.0 82.3L312.9 83.1L308.3 88.9L307.7 90.5L308.1 92.2L309.3 93.4ZM320.7 76.5L319.3 76.4L318.1 77.0L317.2 78.1L316.9 79.5L317.3 80.8L320.3 86.3L321.5 87.4L323.1 87.8L326.1 87.6L328.0 86.9L330.9 84.2L331.7 82.9L331.8 81.3L331.0 79.9L329.7 79.1ZM336.4 78.8L336.2 80.4L336.9 81.9L342.9 89.0L345.0 90.0L347.3 90.2L348.7 90.0L349.9 89.1L350.5 87.7L350.3 86.2L347.0 76.9L345.8 75.4L344.0 74.9L340.0 75.1L338.0 76.1L337.3 76.8L336.8 77.8ZM350.3 83.7L351.4 85.1L353.0 85.7L354.6 85.3L355.8 84.1L359.0 78.0L359.3 76.3L358.6 74.7L355.8 71.4L354.6 70.5L353.1 70.3L351.7 70.9L348.8 73.1L347.7 74.7L347.8 76.5ZM356.5 84.7L356.1 86.3L356.7 87.9L358.0 88.9L363.8 91.1L365.1 91.3L366.4 90.9L368.3 89.8L369.4 88.7L369.8 87.2L369.8 80.8L369.6 79.6L368.9 78.6L368.0 77.8L366.3 77.1L362.6 76.8L360.9 77.1L359.7 78.4ZM373.0 79.1L371.8 79.7L371.0 80.7L370.7 82.0L370.6 86.9L371.1 88.6L372.3 89.7L376.5 91.6L377.8 91.9L379.1 91.6L380.1 90.7L383.6 86.2L384.2 84.0L384.1 83.6L383.7 82.3L382.7 81.4L378.3 78.7L376.0 78.4ZM385.9 80.9L385.1 82.2L385.1 83.6L385.7 84.9L386.8 85.8L393.5 88.6L395.6 88.7L397.6 88.1L399.3 86.7L400.2 85.1L400.6 83.5L400.0 81.9L398.7 80.9L391.5 77.8L389.8 77.7L388.2 78.5ZM402.3 80.4L401.9 82.1L402.5 83.7L403.8 84.8L410.5 87.3L412.0 87.5L413.3 86.9L414.3 85.8L416.6 81.0L416.8 79.3L416.2 77.8L414.9 76.9L413.2 76.8L404.4 78.8L403.3 79.2L402.5 80.1ZM415.0 92.4L416.0 93.8L417.7 94.4L419.3 94.0L424.9 90.8L426.1 89.5L426.4 87.8L425.7 86.2L421.7 81.8L420.5 81.0L419.1 80.8L417.7 81.4L416.8 82.5L414.3 87.7L414.0 88.9L414.2 90.0ZM427.3 86.7L428.6 87.6L430.1 87.7L431.5 87.0L435.0 83.9L435.9 82.5L435.9 80.8L434.0 74.0L433.4 72.8L432.2 72.0L430.9 71.8L429.6 72.3L422.8 76.4L421.7 77.7L421.4 79.4L422.1 81.0ZM279.2 99.0L279.7 97.6L279.6 96.2L278.7 95.0L277.2 93.7L275.2 93.0L234.9 93.4L233.3 93.9L232.2 95.2L232.0 96.9L232.7 98.4L234.2 99.3L268.9 108.4L270.2 108.4L271.9 108.1L273.8 106.9ZM284.8 96.0L285.5 95.9L287.8 95.1L289.2 94.2L289.8 92.7L289.6 91.0L288.5 89.8L284.2 86.9L282.7 86.4L281.1 86.7L280.0 87.8L278.4 90.3L278.0 91.6L278.2 93.0L279.0 94.2L280.6 95.4L282.7 96.1ZM293.4 102.8L294.1 104.1L295.3 104.8L296.7 105.0L298.1 104.4L299.0 103.4L302.4 96.6L302.7 95.3L302.7 93.9L302.3 92.3L301.1 91.2L298.4 89.7L296.8 89.4L295.2 89.9L293.1 91.5L292.1 92.7L291.6 93.7L291.5 95.7ZM308.3 93.9L306.9 93.6L305.5 93.9L304.5 94.9L304.0 96.3L304.2 97.7L305.0 99.6L305.9 100.8L307.3 101.4L308.9 101.2L310.1 100.3L311.0 99.2L311.6 97.6L311.2 95.9L309.9 94.7ZM318.6 94.5L318.3 95.9L318.7 97.3L319.9 99.2L320.9 100.2L322.3 100.6L323.8 100.3L329.2 97.5L330.5 96.3L330.9 94.7L330.4 93.1L328.1 89.8L327.0 88.8L325.5 88.5L323.1 88.6L321.6 89.2L320.5 90.4ZM334.1 96.1L335.8 96.3L337.4 95.6L340.9 92.3L341.7 91.0L341.8 89.5L341.1 88.1L337.3 83.7L336.0 82.8L334.4 82.7L333.0 83.4L329.8 86.3L329.0 87.5L328.9 88.9L329.4 90.2L332.7 95.0L334.0 96.1ZM347.2 105.6L348.6 105.6L349.8 105.0L350.7 104.0L350.8 103.7L351.0 101.9L349.5 93.5L348.5 91.8L346.8 91.0L345.0 90.9L343.8 91.0L342.7 91.7L337.6 96.5L336.9 97.7L336.7 99.1L337.0 100.9L337.7 102.4L339.2 103.3ZM351.5 99.6L352.1 101.0L353.3 101.9L354.8 102.0L361.6 101.0L362.8 100.5L363.7 99.6L364.2 98.3L364.5 94.7L364.1 92.8L362.6 91.6L355.3 88.7L353.3 88.7L352.5 88.9L351.4 89.6L351.1 89.8L350.3 91.1L350.2 92.6ZM365.0 97.8L365.3 99.3L366.1 100.4L367.4 101.1L369.6 101.5L371.5 101.3L372.9 99.9L375.2 95.4L375.5 93.8L375.0 92.3L373.8 91.3L371.6 90.3L370.2 90.0L368.8 90.4L366.9 91.6L365.9 92.6L365.4 93.9ZM384.2 98.5L385.3 99.5L386.8 99.7L388.2 99.3L389.2 98.2L392.3 92.6L392.7 91.0L392.1 89.4L390.8 88.4L387.0 86.8L385.7 86.5L384.5 86.9L383.5 87.7L381.1 90.8L380.5 92.6L381.1 94.4ZM399.9 91.0L399.0 89.9L397.7 89.3L396.3 89.4L395.9 89.5L394.2 90.9L390.1 98.3L389.7 99.8L390.1 101.2L391.1 102.3L396.0 105.4L397.9 105.8L399.6 105.1L402.7 102.3L403.6 100.7L403.4 98.8ZM404.1 85.8L402.7 85.6L401.4 86.1L400.4 87.1L400.0 88.4L400.3 89.8L404.1 98.2L405.0 99.3L406.4 99.9L407.9 99.7L412.9 97.8L414.2 96.9L414.8 95.5L414.7 94.0L413.4 90.5L412.8 89.4L411.7 88.7ZM418.9 95.2L417.7 96.4L417.4 98.0L417.9 99.6L420.9 103.7L422.0 104.7L423.5 105.0L424.9 104.6L431.5 100.8L432.6 99.8L433.0 98.4L432.7 96.9L430.6 92.3L429.5 91.0L428.0 90.5L426.4 90.9ZM431.8 87.8L430.9 89.4L431.1 91.3L434.3 98.3L435.7 99.8L441.8 102.7L443.2 103.0L486.6 100.8L488.2 100.2L489.2 98.9L489.4 97.2L488.6 95.7L487.1 94.8L438.5 83.6L437.1 83.6L435.8 84.2ZM282.8 105.5L282.7 103.9L281.7 102.6L280.2 101.9L278.6 102.1L277.4 103.2L276.7 104.1L276.2 105.5L276.4 107.0L277.3 108.2L278.6 108.8L279.1 108.9L280.6 108.7L281.8 107.9L282.5 106.6ZM287.2 96.2L285.9 97.0L285.2 98.4L283.3 107.1L283.3 108.5L283.9 109.7L285.0 110.6L289.0 112.2L290.5 112.4L292.0 111.7L292.9 111.0L293.9 109.6L293.9 107.9L291.3 98.2L290.5 96.8L289.1 96.0L287.5 96.1ZM302.0 110.5L303.4 110.4L304.5 109.6L305.3 108.4L306.0 106.3L306.0 104.2L305.6 103.2L304.5 101.9L302.9 101.4L301.3 101.8L300.1 103.0L298.6 106.0L298.3 107.3L298.6 108.7L299.5 109.7L300.8 110.3ZM306.7 106.9L306.6 108.3L307.1 109.6L308.1 110.5L309.5 110.9L318.5 111.1L320.2 110.6L321.3 109.3L321.6 107.6L320.8 102.8L320.4 101.7L318.1 98.0L317.1 97.0L315.8 96.5L314.3 96.8L313.2 97.7L307.5 105.0L307.0 105.9ZM335.9 99.4L335.4 98.1L334.3 97.2L333.0 96.9L331.6 97.2L323.5 101.3L322.2 102.6L321.9 104.4L322.4 107.7L323.2 109.3L324.8 110.2L326.5 110.5L327.8 110.5L330.3 109.9L332.0 108.8L335.7 104.0L336.2 102.9L336.3 101.7ZM341.0 116.4L342.3 117.0L343.8 116.8L345.0 116.0L349.0 111.5L349.6 110.4L349.7 109.2L349.7 109.0L349.0 107.5L347.5 106.5L339.0 104.1L337.3 104.2L335.9 105.2L334.1 107.5L333.4 109.0L333.7 110.5L334.6 111.8ZM361.5 112.9L363.1 112.4L364.1 111.2L364.4 109.7L364.0 104.7L363.5 103.2L362.2 102.2L360.6 102.0L353.5 103.1L352.2 103.6L351.2 104.8L350.6 106.0L350.4 107.7L350.5 108.9L351.0 110.2L352.1 111.1L355.0 112.7L356.5 113.0ZM368.5 102.1L367.1 102.2L365.9 102.8L365.1 104.0L364.9 105.3L365.4 111.4L366.1 113.0L367.6 114.0L367.8 114.1L369.2 114.2L370.5 113.6L374.4 110.7L375.4 109.4L375.6 107.8L374.9 106.3L372.5 103.6L370.9 102.6ZM376.0 106.3L377.4 107.3L379.2 107.2L380.6 106.3L383.5 102.8L384.0 101.6L384.1 100.3L383.5 99.1L380.9 95.5L379.8 94.6L378.3 94.3L376.8 94.8L375.8 96.0L373.5 100.6L373.2 102.3L373.9 103.9ZM396.0 109.9L396.5 108.4L396.1 106.9L395.0 105.7L388.8 101.8L387.2 101.4L387.1 101.4L385.8 101.7L384.8 102.5L381.2 106.9L380.6 108.1L380.6 109.4L381.1 110.6L381.4 111.0L382.5 111.9L383.9 112.2L393.1 112.0L394.5 111.6L395.5 110.6ZM400.6 105.2L399.8 106.6L399.7 108.2L400.5 109.6L403.5 112.8L405.6 113.7L407.9 113.8L409.5 113.4L410.6 112.3L411.0 110.7L410.5 109.2L407.3 104.0L406.0 102.9L404.3 102.7L402.8 103.4ZM416.9 99.6L415.9 98.7L414.7 98.3L413.4 98.5L409.9 99.8L408.5 100.9L407.9 102.6L408.4 104.3L414.3 113.4L415.4 114.5L417.0 115.3L418.3 115.6L419.6 115.4L420.7 114.5L421.0 114.2L421.6 112.5L421.9 107.6L421.3 105.7ZM435.9 100.8L434.4 100.5L433.1 100.9L424.2 105.9L423.1 106.9L422.7 108.3L422.6 110.3L422.9 111.8L423.9 112.9L425.4 113.4L431.7 113.9L433.1 113.7L434.2 112.8L439.3 106.6L440.0 104.9L439.6 103.2L438.3 102.0ZM275.3 109.0L273.7 109.2L272.4 110.2L271.8 111.7L272.1 113.3L275.6 120.7L276.8 122.0L278.5 122.4L286.3 121.9L287.5 121.6L288.5 120.7L289.0 119.5L289.7 116.0L289.7 114.6L289.0 113.4L287.9 112.6L282.4 110.4L281.8 110.2ZM290.0 119.1L290.1 120.6L290.9 121.9L293.3 124.1L295.1 124.9L302.6 125.4L304.2 125.1L305.3 124.0L305.4 124.0L305.9 121.8L304.5 113.8L303.7 112.2L302.1 111.3L296.6 110.4L295.3 110.5L294.2 111.0L291.9 112.9L290.8 114.6ZM308.7 111.7L307.0 112.1L305.8 113.4L305.6 115.2L306.5 120.5L307.4 122.1L309.1 122.9L315.1 123.7L316.6 123.5L317.8 122.6L318.4 121.2L319.4 115.4L319.2 113.7L318.1 112.4L316.5 111.9ZM319.1 122.2L319.2 123.6L319.9 124.9L321.2 125.6L322.6 125.6L323.9 125.0L328.0 121.7L329.0 120.2L329.0 118.5L327.3 113.1L326.5 111.8L325.1 111.1L324.1 110.9L322.6 111.0L321.2 111.9L320.6 113.3ZM333.5 112.0L332.1 111.4L330.6 111.6L329.4 112.4L328.8 113.8L328.8 115.3L330.1 119.5L331.1 120.9L334.2 123.4L335.5 124.0L337.0 123.9L338.3 123.0L340.2 120.9L340.9 119.5L340.7 117.8L339.7 116.5ZM355.3 115.3L354.9 114.0L353.8 113.0L352.5 112.3L351.2 112.0L349.9 112.2L348.9 113.0L345.8 116.4L345.1 117.6L345.1 119.0L345.7 120.3L349.8 125.3L351.2 126.2L352.9 126.2L354.0 125.9L355.2 125.2L356.0 124.1L356.2 122.7ZM356.7 119.4L357.2 120.7L358.3 121.7L359.8 122.0L361.2 121.6L362.2 120.5L363.5 118.3L363.9 116.8L363.5 115.2L362.4 114.1L360.9 113.8L359.3 113.8L357.7 114.3L356.7 115.5L356.4 117.1ZM380.4 111.0L379.1 110.0L377.6 109.8L376.1 110.4L371.7 113.8L370.6 115.3L370.7 117.3L372.2 121.2L373.4 122.6L375.1 123.1L380.2 122.9L381.8 122.4L382.9 121.0L383.0 119.3L381.8 113.5L381.3 112.3ZM390.6 118.8L391.9 118.2L392.8 117.0L393.0 115.6L392.5 114.2L391.3 113.2L389.9 112.9L386.2 113.0L384.6 113.5L383.5 114.9L383.3 116.6L383.5 117.3L384.1 118.7L385.5 119.5L387.0 119.6ZM400.7 111.0L399.1 110.2L397.3 110.3L396.0 111.5L395.6 112.1L395.2 113.1L394.4 117.4L394.7 119.5L397.8 124.5L398.9 125.6L400.3 126.0L401.8 125.6L402.9 124.6L403.3 123.1L403.7 115.5L403.5 114.3L402.9 113.3ZM416.0 121.7L417.3 121.0L418.1 119.9L418.3 118.4L417.8 117.1L416.7 116.1L414.9 115.2L413.6 114.8L407.5 114.6L406.0 115.0L404.9 116.0L404.4 117.5L404.3 120.4L404.8 122.1L406.1 123.3L407.9 123.4ZM433.2 124.9L434.8 124.6L436.0 123.5L436.5 122.0L436.1 120.5L433.9 116.3L432.9 115.2L431.5 114.7L423.7 114.2L422.3 114.4L421.2 115.3L420.2 116.4L419.6 118.0L419.5 118.9L419.6 120.2L420.2 121.3L421.9 123.1L423.8 124.0ZM280.9 136.2L282.5 135.6L283.5 134.1L285.6 126.8L285.6 125.4L285.0 124.1L283.9 123.3L282.5 123.0L278.0 123.3L276.7 123.7L275.7 124.7L273.5 128.4L273.0 130.1L273.6 131.8L276.4 135.3L277.6 136.2L279.0 136.4ZM291.8 123.9L290.5 123.2L289.0 123.2L287.7 124.0L286.9 125.3L284.8 132.6L284.8 134.3L285.6 135.7L287.1 136.4L290.8 137.2L292.2 137.1L293.4 136.5L294.2 135.3L294.4 133.9L293.6 126.5L292.6 124.6ZM294.9 131.2L295.6 132.8L297.0 133.8L298.8 133.8L302.5 132.7L303.7 132.0L304.5 130.8L304.6 129.4L304.5 128.7L304.0 127.5L303.0 126.5L301.7 126.1L297.9 125.9L296.2 126.3L295.0 127.5L294.7 129.2ZM305.5 129.5L305.9 130.8L307.0 131.7L308.3 132.1L314.6 132.5L316.6 131.9L318.2 130.6L319.1 129.6L319.4 128.2L319.0 126.9L318.7 126.3L317.8 125.2L316.4 124.7L308.5 123.7L306.9 124.0L305.7 125.0L305.6 125.1L305.2 127.1ZM323.6 126.4L322.6 127.9L322.7 129.7L323.7 131.1L327.2 133.7L329.0 134.3L331.0 134.3L332.5 133.9L333.5 133.3L334.5 132.4L335.0 131.3L335.6 127.7L335.5 126.1L334.6 124.8L331.9 122.6L330.7 122.1L329.4 122.1L328.1 122.7ZM345.5 121.4L344.1 120.5L342.4 120.4L341.0 121.3L337.4 125.3L336.7 126.8L336.1 130.0L336.1 131.4L336.9 132.7L338.1 133.4L344.2 135.5L345.7 135.6L347.1 134.9L348.0 133.7L349.8 129.0L349.9 127.4L349.3 126.0ZM359.0 131.4L359.9 130.1L359.9 128.5L359.3 127.2L358.0 126.3L357.8 126.3L356.0 126.2L352.6 127.2L351.4 127.9L350.7 129.0L349.3 132.5L349.1 134.0L349.7 135.3L350.8 136.3L350.9 136.3L352.7 136.6L354.2 135.8ZM370.2 118.2L369.2 116.9L367.6 116.3L366.0 116.6L364.8 117.8L361.1 124.2L360.7 125.5L360.9 126.8L361.6 127.9L362.1 128.3L362.9 128.8L364.8 129.8L366.3 130.1L367.7 129.6L368.9 128.9L369.9 127.8L371.6 124.7L371.9 123.5L371.7 122.2ZM382.9 125.5L381.7 124.2L380.1 123.8L374.7 123.9L373.2 124.4L372.1 125.5L371.7 126.3L371.3 127.7L371.7 129.1L372.6 130.2L377.0 133.3L378.7 133.9L380.4 133.4L382.9 131.7L383.9 130.7L384.3 129.3L384.0 127.9ZM385.6 120.8L384.1 121.6L383.3 123.2L383.5 125.0L385.5 129.1L387.0 130.6L390.7 132.3L392.3 132.5L393.7 132.0L396.8 129.7L397.7 128.6L397.9 127.1L397.5 125.7L394.6 120.9L393.2 119.7L391.4 119.5ZM409.9 135.4L411.7 134.8L412.8 133.3L414.6 127.5L414.7 125.9L414.0 124.5L412.7 123.7L411.1 123.6L404.6 125.0L403.3 125.7L402.8 126.1L401.9 127.4L401.8 129.1L402.6 130.5L406.6 134.5L407.6 135.2L408.7 135.4ZM421.4 123.8L420.1 123.0L418.5 122.9L417.2 123.6L416.3 124.9L413.5 133.6L413.5 135.4L414.6 136.9L416.1 138.1L418.0 138.6L420.0 138.6L421.5 138.1L422.6 137.0L423.6 135.1L423.8 133.1L422.2 125.3L421.5 123.9ZM427.5 133.5L429.2 132.8L431.7 130.7L432.6 129.2L432.6 127.5L431.6 126.1L430.0 125.4L427.0 125.2L425.6 125.4L424.5 126.2L423.8 127.4L423.8 128.8L424.3 131.2L424.9 132.4L426.1 133.3L427.5 133.5ZM287.7 137.4L286.2 137.5L284.9 138.3L284.2 139.7L284.3 141.2L285.4 144.9L286.1 146.1L287.3 146.9L288.7 147.0L290.0 146.4L293.0 144.3L293.9 143.3L294.2 142.0L294.0 140.7L293.7 140.0L292.8 138.8L291.5 138.2ZM296.4 135.4L294.6 136.8L294.6 136.9L294.2 138.2L294.4 139.5L295.4 141.9L296.6 143.2L298.3 144.3L299.9 144.8L301.5 144.7L302.8 144.5L303.8 143.7L305.0 142.2L305.7 140.1L305.4 136.5L304.8 134.8L303.3 133.8L301.6 133.8ZM314.5 136.9L314.4 135.1L313.3 133.7L311.7 133.2L309.4 133.0L307.8 133.4L306.6 134.6L306.3 136.3L306.4 138.1L306.9 139.6L308.0 140.6L309.5 140.9L311.2 140.8L313.0 140.2L314.0 138.6ZM325.9 137.1L326.3 135.7L326.0 134.3L325.1 133.1L322.4 131.2L320.6 130.6L318.8 131.2L317.1 132.6L316.0 134.3L314.7 139.5L314.7 140.9L315.4 142.2L317.2 144.1L318.3 144.8L319.7 145.0L321.0 144.6L321.9 143.6ZM336.8 133.9L335.2 133.8L333.8 134.5L333.0 135.8L332.9 137.4L334.7 145.8L335.5 147.3L337.0 148.1L338.7 148.0L340.1 146.9L344.1 141.3L344.6 139.8L344.7 139.0L344.5 137.6L343.8 136.5L342.7 135.8ZM349.8 136.7L348.4 136.4L347.0 136.8L346.0 137.8L345.5 139.1L345.5 139.6L346.0 141.6L346.7 142.7L348.0 143.8L349.8 143.9L351.6 143.6L353.0 142.9L353.9 141.5L353.9 139.9L353.1 138.5L352.9 138.4L352.1 137.8ZM358.3 142.3L358.5 142.5L358.6 142.6L360.4 143.3L362.2 142.7L364.0 141.4L364.9 140.4L365.2 139.2L365.7 133.5L365.5 132.0L364.6 130.9L363.3 130.3L361.9 130.3L360.7 131.0L355.8 135.5L354.9 136.9L354.9 138.5L355.7 139.9ZM368.0 130.4L367.0 131.4L366.6 132.7L366.2 138.2L366.3 139.5L367.1 140.6L368.2 141.3L373.5 143.1L375.2 143.2L376.7 142.3L377.4 140.7L378.0 137.0L377.8 135.4L376.7 134.2L371.5 130.4L369.8 129.9L368.2 130.3ZM388.1 144.9L389.7 144.7L391.0 143.7L391.5 142.1L391.8 135.8L391.4 134.1L390.1 132.9L387.2 131.6L385.7 131.3L384.3 131.8L380.2 134.5L379.3 135.4L378.9 136.6L378.3 140.5L378.5 142.1L379.4 143.3L380.9 143.9ZM401.4 130.5L400.2 129.7L398.8 129.6L397.5 130.2L393.9 132.9L393.1 133.9L392.7 135.1L392.4 142.1L392.6 143.4L393.4 144.5L394.6 145.1L397.7 146.0L399.2 146.0L400.5 145.3L404.0 142.3L404.8 141.1L406.1 137.7L406.2 136.0L405.4 134.5ZM415.2 141.5L415.5 140.1L415.2 138.8L414.3 137.7L413.1 136.8L411.3 136.2L409.6 136.2L407.9 136.8L406.8 138.1L406.3 139.5L406.1 140.8L406.6 142.2L407.6 143.1L410.1 144.6L411.7 145.0L413.2 144.5L414.3 143.3ZM424.1 141.3L425.6 142.5L435.2 145.9L436.7 146.0L438.0 145.5L438.9 144.4L439.2 143.0L438.9 141.6L437.9 140.6L429.4 134.9L427.5 134.4L426.4 134.4L425.0 134.9L424.0 136.0L423.3 137.3L423.0 138.9L423.5 140.4ZM440.4 126.3L438.8 126.2L437.4 126.9L432.3 131.3L431.5 132.4L431.3 133.7L431.7 135.0L432.6 136.0L446.5 145.3L447.6 145.8L448.8 145.8L465.7 141.9L467.1 141.2L467.9 140.0L468.0 138.5L467.4 137.1L466.2 136.2ZM282.8 139.3L282.1 138.1L281.0 137.4L279.7 137.2L279.1 137.2L277.7 137.8L276.7 138.9L273.7 144.8L273.4 146.2L273.8 147.6L274.8 148.7L278.5 151.1L280.1 151.6L282.4 151.6L283.8 151.3L284.9 150.4L285.4 149.1L285.3 147.7ZM287.4 149.3L286.5 150.6L286.2 152.1L286.8 153.6L289.0 156.4L290.2 157.3L291.6 157.5L292.9 157.1L294.6 156.2L295.9 154.4L297.5 148.6L297.6 147.2L296.9 145.8L295.7 145.0L294.2 144.8L292.9 145.4ZM297.3 152.6L297.3 154.2L298.0 155.5L299.4 156.3L304.2 157.6L305.7 157.6L307.0 157.0L307.5 156.5L308.3 155.3L308.5 153.8L307.9 152.5L303.9 147.0L302.6 145.9L300.9 145.8L299.5 146.5L298.6 147.9ZM315.7 154.3L317.2 153.9L318.2 153.3L319.4 152.1L319.7 150.5L319.6 148.9L318.8 147.0L314.6 142.6L313.6 141.9L312.3 141.6L307.7 141.8L306.5 142.1L305.6 142.9L305.2 143.4L304.5 144.5L304.5 145.8L305.0 147.1L309.4 153.1L310.5 154.0L311.8 154.3ZM332.2 138.3L331.6 137.0L330.5 136.1L329.1 135.9L327.7 136.3L326.7 137.3L320.9 146.9L320.4 148.7L320.5 150.4L321.1 152.0L322.5 153.0L326.9 154.6L328.5 154.7L330.0 153.9L333.4 150.7L334.2 149.4L334.3 147.9ZM347.6 145.9L346.6 144.6L345.2 144.0L343.6 144.2L342.3 145.2L341.3 146.7L340.7 148.2L341.1 149.8L342.2 151.0L344.3 152.2L345.7 152.6L347.1 152.3L348.2 151.4L348.8 150.0L348.6 148.5ZM350.2 150.4L351.1 151.6L352.5 152.3L354.1 152.1L357.1 150.8L358.3 150.0L358.9 148.8L359.3 147.3L359.3 145.8L358.5 144.5L357.3 143.7L355.8 143.6L351.7 144.4L350.2 145.2L349.3 146.7L349.4 148.4ZM372.2 156.7L373.4 155.8L374.0 154.4L375.3 147.3L375.2 145.9L374.5 144.7L373.3 144.0L367.1 141.8L365.7 141.7L364.3 142.2L361.6 144.2L360.5 145.9L359.8 148.9L359.8 150.3L360.5 151.6L365.8 157.2L367.3 158.1L369.1 157.9ZM377.3 157.4L379.6 157.5L386.7 154.9L387.9 154.0L388.6 152.7L389.4 149.2L389.3 147.6L388.3 146.3L386.9 145.6L379.6 144.6L378.1 144.8L376.8 145.7L376.2 147.0L375.0 153.9L375.3 155.8L376.7 157.1ZM394.2 145.9L392.6 145.9L391.2 146.7L390.5 148.1L389.3 153.4L389.7 155.6L391.9 159.1L393.0 160.2L394.5 160.6L396.6 160.5L398.5 159.9L402.4 156.9L403.4 155.7L403.6 154.2L403.1 152.8L399.8 148.1L398.1 147.0ZM412.7 148.7L412.3 147.2L411.2 146.2L406.8 143.6L405.0 143.3L403.3 144.0L402.0 145.2L401.2 146.4L401.0 147.8L401.5 149.2L404.9 153.9L406.6 155.1L407.2 155.2L408.4 155.3L409.6 154.8L411.4 153.6L412.4 152.5L412.7 151.1ZM423.3 144.0L423.5 142.6L423.0 141.2L422.7 140.7L421.6 139.8L420.2 139.4L418.9 139.5L417.4 139.9L416.3 141.1L413.8 146.2L413.5 147.6L413.6 149.9L413.9 151.3L414.9 152.4L416.3 152.8L417.4 152.9L419.3 152.5L420.5 151.1ZM422.2 149.1L422.0 150.6L422.5 152.0L423.7 152.9L425.2 153.2L434.5 152.7L436.1 152.1L437.1 150.9L437.3 149.3L436.7 147.8L435.4 146.8L427.4 144.0L425.9 143.8L424.5 144.5L423.6 145.7ZM273.0 148.6L271.8 148.1L270.6 148.2L224.0 161.5L222.6 162.3L221.9 163.8L222.0 165.5L223.1 166.8L224.6 167.3L261.5 170.1L262.7 170.0L274.0 166.2L275.3 165.4L276.0 164.0L278.2 154.2L278.0 152.4L276.9 151.1ZM285.8 153.6L284.7 152.7L283.4 152.4L281.9 152.4L280.6 152.7L279.5 153.6L278.9 154.8L277.2 162.6L277.3 164.2L278.2 165.5L279.7 166.2L284.5 166.9L285.9 166.8L287.6 166.3L289.0 165.3L289.6 163.7L290.0 160.4L289.4 158.2ZM296.6 170.7L298.3 171.3L300.0 170.9L302.1 169.6L303.0 168.8L303.5 167.6L304.8 161.6L304.7 160.1L304.0 158.8L302.7 158.1L297.2 156.6L296.0 156.5L294.9 156.9L292.2 158.5L291.2 159.5L290.8 160.8L290.4 164.1L290.7 165.6L291.6 166.8ZM310.2 170.0L312.0 169.7L314.0 168.8L315.3 167.7L315.7 166.2L316.0 158.3L315.7 156.7L314.6 155.6L313.0 155.1L311.4 155.1L309.4 155.9L307.0 158.1L306.1 159.7L304.8 165.8L304.8 167.4L305.7 168.7L307.2 169.4ZM316.6 165.9L317.0 167.6L318.4 168.8L321.2 170.0L322.4 170.3L323.6 170.0L329.9 167.1L331.1 166.2L331.6 164.8L331.4 163.3L328.9 157.2L328.2 156.2L327.2 155.6L321.6 153.5L320.3 153.4L319.1 153.8L318.4 154.1L317.4 155.2L316.9 156.6ZM332.6 163.9L333.5 165.1L335.0 165.7L336.5 165.5L343.7 162.5L345.2 161.1L346.8 158.0L347.1 156.5L346.7 155.1L345.7 154.0L339.5 150.3L337.8 149.9L336.4 150.0L334.4 150.8L330.7 154.4L329.9 155.9L330.0 157.7ZM352.3 158.7L351.1 157.7L349.7 157.5L348.2 157.9L347.2 159.1L346.5 160.4L346.2 162.2L347.0 163.9L348.6 165.5L349.8 166.2L351.3 166.8L352.8 166.9L354.1 166.3L355.0 165.1L355.2 163.6L354.7 162.2ZM353.9 153.1L352.5 154.2L352.0 155.9L352.5 157.6L358.5 166.2L359.7 167.2L361.3 167.4L362.8 166.9L364.2 165.8L365.3 164.2L366.2 160.9L366.2 159.4L365.4 158.1L360.2 152.6L358.7 151.7L356.9 151.8ZM371.8 169.7L373.1 170.3L374.5 170.2L375.7 169.4L376.5 168.2L378.5 161.9L378.5 159.9L378.5 159.8L377.9 158.8L376.9 158.1L375.3 157.4L374.1 157.1L372.9 157.3L368.8 158.9L367.7 159.7L367.0 160.9L366.4 163.3L366.5 165.0L367.5 166.4ZM382.4 157.3L381.2 158.2L380.5 159.5L380.5 161.0L381.3 162.3L385.1 166.0L386.3 166.8L387.7 166.9L389.0 166.3L389.9 165.3L391.3 162.5L391.6 161.0L391.2 159.6L389.7 157.2L388.8 156.3L387.5 155.8L386.1 156.0ZM408.8 158.3L408.0 157.1L406.8 156.3L405.4 156.1L404.0 156.7L400.2 159.7L399.4 160.7L399.0 162.0L399.3 163.3L400.4 165.8L401.4 167.0L402.8 167.6L404.3 167.4L405.5 166.5L408.6 162.5L409.2 161.3L409.2 159.9ZM420.5 156.0L419.5 154.5L417.9 153.8L414.4 153.5L412.4 154.0L410.9 155.0L409.7 156.4L409.6 158.3L410.2 160.5L411.0 161.8L415.6 166.5L417.7 167.3L418.0 167.3L419.3 167.0L420.4 166.1L421.7 164.4L422.2 163.1L422.1 161.8ZM434.4 158.0L434.7 156.5L434.2 155.0L433.0 154.0L431.5 153.7L424.6 154.1L423.0 154.7L421.9 156.2L421.9 157.9L422.6 160.4L423.3 161.6L424.4 162.4L425.8 162.6L430.7 162.2L432.2 161.7L433.2 160.5ZM279.1 181.2L280.4 181.0L281.5 180.1L282.1 178.9L284.0 171.0L283.9 169.4L283.0 168.0L281.6 167.3L276.8 166.6L275.3 166.7L268.8 168.9L267.4 169.8L266.8 171.3L267.0 172.9L268.0 174.2L277.4 180.7L279.0 181.2ZM296.5 174.6L296.8 173.3L296.5 172.0L295.6 171.0L291.0 167.4L289.7 166.8L288.2 166.9L287.2 167.3L285.9 168.1L285.2 169.4L283.5 176.6L283.5 177.9L284.1 179.2L285.2 180.0L286.6 180.3L292.2 180.1L293.7 179.6L294.8 178.3ZM311.7 175.7L311.7 174.2L311.3 172.8L310.5 171.4L309.0 170.6L304.8 169.8L302.7 170.2L302.2 170.5L301.0 171.8L300.8 173.5L301.5 175.1L305.7 180.0L307.1 180.9L308.7 181.0L310.1 180.2L310.9 178.8ZM317.1 177.1L318.5 177.5L319.9 177.2L321.0 176.3L321.5 174.9L321.7 173.5L321.3 171.6L319.9 170.4L317.4 169.2L316.1 169.0L314.8 169.3L313.9 169.8L312.8 170.6L312.3 171.8L312.3 173.2L312.4 173.4L312.9 174.5L313.8 175.3ZM334.7 169.6L333.7 168.2L332.2 167.5L330.6 167.8L324.3 170.6L323.2 171.6L322.6 173.0L322.2 176.4L322.3 177.7L323.0 178.8L324.9 180.9L326.0 181.6L327.4 181.8L328.7 181.3L334.9 177.2L336.0 175.7L336.1 173.8ZM337.4 175.1L338.3 176.5L339.5 177.5L340.9 178.1L342.3 178.0L344.4 177.4L345.8 176.5L346.5 175.1L348.0 168.1L348.0 166.6L347.3 165.3L346.3 164.4L344.7 163.5L343.0 163.7L337.3 166.1L336.1 167.0L335.5 168.3L335.6 169.8ZM355.2 177.0L356.6 176.8L357.7 175.9L358.3 174.6L358.6 172.9L358.6 171.5L357.9 170.2L356.7 169.5L352.3 168.0L350.7 167.9L349.2 168.7L348.4 170.2L347.8 173.2L347.9 175.0L348.9 176.3L350.6 176.9ZM359.4 173.5L359.4 174.9L360.1 176.2L361.3 176.9L366.1 178.7L367.3 178.9L368.6 178.5L372.3 176.4L373.4 175.4L373.9 174.0L373.6 172.6L372.7 171.4L367.2 167.3L365.4 166.7L363.6 167.3L361.0 169.2L359.9 171.0ZM376.3 171.3L376.2 172.6L376.7 173.9L377.7 174.8L381.6 177.0L383.0 177.3L384.4 177.0L386.0 176.2L387.2 175.2L387.6 173.6L387.7 171.1L387.5 169.9L386.8 168.9L382.9 165.1L381.6 164.3L380.1 164.3L378.8 165.0L378.0 166.3ZM398.3 163.2L397.2 161.9L395.6 161.4L394.7 161.4L393.1 161.8L392.0 163.0L388.9 169.1L388.5 170.4L388.5 173.1L389.0 174.9L390.6 176.0L392.0 176.5L392.9 176.6L398.7 176.6L400.1 176.3L401.2 175.3L401.7 173.9L401.9 172.0L401.6 170.5ZM402.4 175.0L402.7 176.5L403.6 177.7L405.0 178.3L406.5 178.1L407.7 177.2L413.9 169.9L414.6 168.5L414.5 167.1L413.8 165.8L412.4 164.5L411.0 163.7L409.3 163.8L408.0 164.7L403.3 170.6L402.7 172.2ZM420.4 169.6L419.4 168.6L418.1 168.2L416.7 168.4L415.6 169.3L411.6 173.9L410.9 175.5L411.2 177.2L412.4 178.5L414.0 178.9L418.5 178.7L420.0 178.2L421.0 177.1L422.1 175.1L422.4 173.5L422.0 172.0ZM421.4 166.1L420.9 167.8L421.3 169.5L422.9 172.0L423.8 172.9L425.0 173.3L431.4 174.3L432.9 174.1L434.1 173.3L434.8 171.9L434.7 170.4L433.1 165.2L432.4 164.0L431.3 163.3L430.0 163.1L424.6 163.6L423.4 163.9L422.4 164.8ZM276.3 184.1L276.6 182.7L276.3 181.3L275.3 180.3L262.7 171.5L261.2 171.0L205.7 166.8L205.2 166.8L-256.3 200.0L-257.8 200.5L-258.8 201.6L-259.1 203.1L-258.7 204.5L-257.6 205.6L-256.1 206.0L195.8 207.2L196.4 207.1L270.8 192.7L272.0 192.2L272.9 191.1ZM285.7 181.1L284.3 181.5L283.3 182.6L282.9 183.9L283.1 185.4L285.1 189.7L285.9 190.8L287.1 191.5L288.5 191.4L289.7 190.8L293.5 187.6L294.4 186.4L294.5 184.9L294.3 183.5L293.8 182.1L292.7 181.2L291.2 180.9ZM301.4 176.2L300.1 175.4L298.7 175.2L297.3 175.8L296.4 176.9L295.1 179.6L294.8 181.4L295.4 185.0L295.9 186.2L296.9 187.2L301.0 189.3L302.5 189.7L306.4 189.6L308.0 189.0L309.1 187.8L309.3 186.1L308.6 184.6ZM311.0 181.8L311.1 182.8L311.5 183.6L312.4 184.0L313.3 184.0L314.1 183.5L316.9 180.6L317.4 179.6L317.2 178.5L316.5 177.8L314.6 176.7L313.9 176.5L313.0 176.7L312.4 177.2L312.0 177.9ZM323.0 180.0L321.6 179.2L320.0 179.2L318.6 180.0L315.8 183.0L315.0 184.3L315.0 185.9L315.8 187.2L317.2 188.0L320.9 188.9L322.2 188.9L323.4 188.4L324.3 187.4L325.3 185.5L325.6 183.7L324.9 182.1ZM330.5 181.1L329.5 182.3L329.2 183.8L329.7 185.2L330.8 186.3L334.8 188.4L336.1 188.8L337.4 188.5L338.5 187.7L340.2 185.7L340.8 184.6L340.9 183.4L340.5 180.4L339.4 178.4L339.0 178.1L337.2 177.4L335.4 177.9ZM355.3 190.0L356.3 189.0L356.7 187.6L356.8 180.9L356.5 179.4L355.4 178.3L353.9 177.8L347.0 177.6L346.0 177.7L343.6 178.5L342.4 179.2L341.6 180.4L341.5 181.8L341.7 183.4L342.1 184.5L342.9 185.4L350.2 190.9L351.9 191.5L353.7 191.1ZM361.7 178.0L360.3 177.8L359.0 178.3L358.1 179.4L357.7 180.7L357.6 185.3L357.9 186.9L359.1 188.0L360.6 188.4L365.5 188.3L367.2 187.7L368.2 186.3L368.3 184.5L367.5 181.5L366.8 180.2L365.6 179.4ZM369.4 185.3L370.2 186.7L371.7 187.5L373.3 187.4L379.2 185.1L380.3 184.4L381.0 183.2L381.8 180.7L381.8 179.4L381.3 178.1L380.3 177.2L377.9 175.9L376.5 175.5L375.0 175.9L370.0 178.7L369.0 179.6L368.5 180.8L368.5 182.1ZM384.5 177.9L383.5 178.7L382.9 179.7L381.7 183.9L381.8 185.9L384.3 191.7L385.1 192.8L386.4 193.5L388.7 194.0L390.9 193.7L391.6 193.3L392.8 192.1L393.2 190.4L392.2 179.3L391.5 177.7L390.0 176.7L389.2 176.5L387.0 176.7ZM404.3 182.6L404.7 181.2L404.4 179.8L403.5 178.7L402.5 178.0L400.8 177.5L396.1 177.4L394.6 177.9L393.4 179.1L393.1 180.7L393.9 189.4L394.4 190.8L395.5 191.8L396.9 192.2L397.2 192.2L398.6 191.8L399.7 190.7ZM411.8 179.8L410.3 180.3L409.3 181.6L409.0 183.1L409.6 184.6L411.6 187.3L413.5 188.5L419.3 189.4L420.9 189.2L422.2 188.3L422.8 186.9L422.6 185.3L421.0 181.4L419.8 180.0L418.1 179.5ZM425.7 174.3L423.9 174.5L422.6 175.8L421.6 177.8L421.2 179.0L421.5 180.3L423.6 185.7L424.5 186.9L425.8 187.5L427.3 187.4L428.5 186.7L430.2 185.1L431.0 183.7L432.3 178.6L432.3 177.0L431.3 175.6L429.8 174.9ZM432.4 181.7L432.4 183.2L433.1 184.5L434.4 185.3L449.8 190.1L451.2 190.2L482.6 184.6L484.1 183.9L484.9 182.4L484.9 180.7L483.9 179.3L482.3 178.7L437.3 173.9L435.2 174.4L434.9 174.7L433.8 176.3ZM282.2 185.3L281.1 184.0L279.5 183.5L277.8 183.9L276.7 185.2L274.5 189.7L274.2 191.3L274.8 192.8L276.0 193.8L278.8 195.0L280.4 195.1L282.3 194.9L283.5 194.4L284.4 193.3L284.8 192.0L284.6 190.7ZM288.6 192.9L287.8 194.0L287.5 195.3L287.9 196.6L289.0 198.7L289.9 199.7L291.3 200.2L292.7 200.1L296.2 198.7L297.9 197.2L299.9 192.9L300.1 191.4L299.7 190.0L298.6 189.0L297.1 188.2L295.4 187.9L293.7 188.5ZM308.1 199.6L309.2 198.2L309.3 196.4L308.5 192.8L307.9 191.5L306.8 190.7L305.5 190.4L303.7 190.5L302.1 191.0L301.1 192.2L299.4 195.9L299.1 197.4L299.6 198.8L300.7 199.8L302.9 201.1L304.4 201.4L306.0 201.0ZM312.8 187.7L311.0 187.8L309.6 188.8L309.5 188.9L309.0 190.1L309.0 191.3L310.4 197.3L311.6 199.1L313.2 200.2L315.2 200.7L322.2 199.9L323.4 199.6L324.3 198.8L324.4 198.6L325.0 197.3L324.9 195.9L323.6 191.9L322.8 190.6L321.5 189.9ZM335.7 192.7L335.9 191.3L335.3 190.0L334.3 189.1L329.2 186.4L327.7 186.0L326.2 186.5L325.1 187.6L324.5 188.9L324.1 190.0L324.2 191.2L325.4 194.9L326.5 196.4L328.3 197.0L332.2 196.9L333.9 196.3L335.0 194.9ZM335.9 194.9L335.8 196.6L336.6 198.0L338.1 198.8L339.8 198.6L347.6 195.7L348.8 194.8L349.5 193.3L349.3 191.8L348.3 190.5L343.8 187.1L342.4 186.6L340.9 186.7L339.7 187.6L337.8 189.8L337.2 190.8ZM352.9 200.1L353.7 201.5L355.1 202.3L356.7 202.3L360.4 201.2L361.6 200.4L362.4 199.1L362.4 197.6L361.7 196.3L358.1 192.2L356.9 191.4L355.5 191.2L354.2 191.7L353.2 192.4L351.9 194.0L351.9 194.0L351.8 195.6ZM363.1 189.2L361.5 189.7L360.4 191.0L360.2 192.7L361.0 194.2L364.5 198.2L365.7 199.0L367.2 199.2L368.5 198.6L369.0 198.3L369.9 197.2L370.2 195.8L370.1 192.0L369.6 190.5L368.5 189.5L367.0 189.1ZM381.8 188.1L380.9 186.9L379.5 186.3L378.0 186.5L372.8 188.5L371.4 189.6L370.9 191.4L371.0 195.2L371.6 196.9L373.1 197.9L377.0 199.3L378.9 199.3L380.4 198.3L383.0 194.8L383.6 193.3L383.4 191.8ZM399.4 202.2L401.0 201.7L402.1 200.6L402.5 199.0L402.0 197.5L399.8 194.3L398.7 193.3L397.3 193.0L394.6 193.0L393.2 193.4L392.6 193.7L391.6 194.7L391.1 195.9L391.2 197.3L392.1 200.0L393.2 201.5L394.9 202.1ZM403.4 198.1L404.7 199.2L406.3 199.4L407.8 198.7L408.8 197.4L411.1 190.2L411.3 188.8L410.7 187.5L408.8 185.0L407.6 184.1L406.2 183.8L404.8 184.2L403.8 185.3L400.6 190.9L400.2 192.5L400.7 194.1ZM414.9 189.5L413.5 189.6L412.3 190.4L411.6 191.5L410.2 195.8L410.1 197.5L411.0 199.0L412.6 199.7L419.6 200.8L421.2 200.7L422.4 199.8L424.9 196.7L425.5 195.4L425.5 194.0L425.3 193.0L424.4 191.6L422.8 190.8ZM426.8 189.6L426.0 190.9L426.0 192.5L426.3 193.9L427.0 195.1L428.0 195.9L432.2 197.7L433.4 198.0L434.6 197.7L442.3 194.1L443.4 193.2L444.0 191.9L443.9 190.5L443.2 189.3L441.9 188.5L433.0 185.7L431.4 185.7L430.0 186.5ZM278.1 198.6L278.2 197.1L277.6 195.8L276.4 194.9L273.3 193.6L271.6 193.4L219.3 203.5L217.8 204.3L217.0 205.8L217.1 207.4L218.0 208.8L219.6 209.5L262.7 213.7L263.8 213.5L272.6 210.9L273.8 210.1L274.6 208.9ZM288.7 206.7L289.4 204.9L289.6 202.4L289.2 200.8L287.1 197.0L285.8 195.7L284.0 195.4L281.6 195.8L280.1 196.5L279.2 197.8L276.3 206.5L276.2 207.9L276.7 209.2L277.7 210.1L279.0 210.5L283.9 210.6L285.2 210.4L286.3 209.6ZM292.5 201.0L291.3 201.9L290.6 203.1L290.6 204.6L291.3 205.9L292.5 206.7L298.5 208.9L300.1 209.1L301.5 208.4L302.4 207.1L303.1 205.0L303.3 203.6L302.8 202.3L301.8 201.4L298.9 199.8L297.6 199.4L296.4 199.6ZM302.6 209.2L302.5 210.6L303.0 211.9L304.1 212.8L306.0 213.7L306.8 214.0L307.9 214.2L309.3 214.1L310.3 213.7L311.7 212.8L312.4 211.2L313.3 203.2L313.1 201.6L312.1 200.4L311.9 200.3L310.3 199.8L308.6 200.3L305.7 202.1L304.5 203.7ZM323.9 203.4L323.2 202.0L322.0 201.1L320.6 200.9L316.7 201.4L315.5 201.8L314.5 202.7L314.1 204.0L313.3 210.8L313.4 212.1L314.1 213.3L315.2 214.0L320.2 215.8L321.8 216.0L323.2 215.3L324.1 213.9L324.9 211.2L325.0 209.8ZM327.5 197.9L326.2 198.2L325.1 199.0L325.0 199.2L324.4 200.4L324.4 201.6L325.3 206.8L326.1 208.3L327.4 209.2L329.0 209.2L335.9 207.4L337.2 206.7L338.0 205.4L338.1 203.8L337.4 201.1L336.5 199.5L335.3 198.5L333.3 197.7ZM340.9 208.4L342.1 209.2L343.5 209.4L344.9 209.0L351.1 204.9L352.3 203.5L352.4 201.7L351.7 198.7L350.9 197.2L349.4 196.4L347.7 196.6L340.5 199.3L339.3 200.1L338.7 201.3L338.7 202.8L339.5 206.1L340.1 207.4ZM358.1 202.7L356.8 203.5L356.1 204.7L356.0 206.2L356.6 207.5L359.5 211.1L360.8 212.0L362.4 212.2L363.8 211.5L365.5 210.0L366.3 208.9L366.5 207.6L366.5 204.1L366.1 202.8L365.2 201.8L364.0 201.3L362.6 201.4ZM368.5 199.7L367.6 200.8L367.3 202.2L367.4 206.3L367.7 207.6L368.7 208.7L370.0 209.2L374.3 209.8L375.9 209.6L377.1 208.6L378.9 206.2L379.4 205.1L379.4 203.8L379.2 202.5L378.5 201.1L377.2 200.3L372.2 198.6L370.8 198.4L369.5 199.0ZM380.2 203.2L380.9 204.6L382.2 205.5L386.7 207.0L388.1 207.1L389.3 206.6L390.3 205.6L391.4 203.5L391.7 202.4L391.6 201.1L390.1 196.7L389.3 195.4L388.0 194.7L386.7 194.4L384.9 194.5L383.6 195.5L380.5 199.6L380.0 200.7L379.9 201.9ZM390.5 207.0L390.1 208.6L390.7 210.2L392.1 211.2L392.9 211.6L394.3 211.7L395.6 211.2L399.7 208.4L400.7 207.3L401.0 205.9L400.6 204.4L399.5 203.4L398.1 203.0L394.5 202.9L393.0 203.3L391.8 204.5ZM406.7 201.1L405.6 202.3L405.2 203.9L405.3 204.6L405.7 205.9L409.8 213.0L410.8 214.0L412.2 214.5L413.6 214.2L418.9 211.9L420.1 210.8L420.6 209.3L420.9 204.6L420.6 203.2L419.7 202.0L418.4 201.5L409.7 200.1L407.7 200.5ZM425.6 213.6L426.9 214.0L428.3 213.7L429.5 212.8L434.1 206.5L434.7 205.2L434.6 203.8L433.5 200.3L432.9 199.2L431.8 198.5L428.6 197.0L426.7 196.9L425.0 197.9L422.5 200.9L421.8 202.7L421.5 209.3L421.8 210.9L423.0 212.1ZM287.2 218.4L287.1 216.7L285.9 213.4L284.9 212.0L283.2 211.4L275.0 211.2L274.0 211.3L269.4 212.7L268.1 213.6L267.3 215.0L267.4 216.6L268.3 217.9L276.3 224.7L277.8 225.4L279.4 225.2L284.8 223.0L286.0 222.2L286.6 220.9ZM291.9 207.3L290.1 207.2L288.5 208.2L287.1 209.8L286.5 211.3L286.6 212.8L287.6 215.5L288.5 216.8L289.9 217.4L295.2 218.2L296.6 218.1L297.7 217.4L300.2 215.0L300.9 213.7L301.0 212.2L300.3 210.9L299.1 210.0ZM298.6 224.2L299.0 225.0L299.8 225.5L300.7 225.5L301.5 225.1L302.0 224.4L305.1 216.1L305.2 215.1L304.8 214.3L304.0 213.7L303.0 213.7L302.2 214.2L298.0 218.3L297.5 219.1L297.5 220.0ZM313.5 214.3L311.5 214.2L311.4 214.3L310.2 215.0L309.5 216.1L309.3 217.4L310.1 225.1L310.6 226.5L311.6 227.4L313.0 227.8L314.0 227.8L315.5 227.5L316.6 226.4L320.1 220.5L320.5 218.8L319.9 217.2L318.6 216.1ZM337.4 213.8L338.2 212.4L338.3 210.9L337.5 209.5L336.2 208.7L334.6 208.6L327.5 210.5L326.2 211.2L325.4 212.5L324.8 214.6L324.8 216.5L326.0 218.0L326.8 218.5L328.0 219.0L329.3 218.9L332.0 218.2L333.3 217.5ZM344.2 213.8L342.9 212.5L341.2 212.2L339.5 212.9L336.6 215.6L335.9 216.7L335.7 218.1L336.1 219.4L337.1 220.4L338.4 221.1L339.7 221.5L341.0 221.4L342.1 220.6L344.3 218.3L345.1 216.6L344.8 214.8ZM345.9 209.3L344.9 210.4L344.5 211.8L344.9 213.2L346.2 215.7L347.3 216.9L355.4 221.7L357.0 222.1L358.5 221.7L358.6 221.6L359.5 220.8L360.0 219.6L360.7 215.6L360.7 214.3L360.1 213.2L354.9 206.7L353.7 205.8L352.3 205.6L350.9 206.0ZM376.4 212.8L375.5 211.3L373.9 210.6L368.5 209.8L367.2 209.9L366.1 210.6L362.6 213.7L361.6 215.4L361.0 218.4L361.1 219.8L361.8 221.0L363.0 221.8L367.4 223.4L369.0 223.5L370.5 222.7L376.0 217.3L376.8 216.0L376.9 214.4ZM382.4 206.4L380.5 206.4L379.0 207.5L377.6 209.4L377.0 210.6L377.1 211.9L377.8 214.5L378.4 215.7L379.4 216.5L382.3 217.8L383.7 218.1L385.0 217.7L386.0 216.8L388.9 212.7L389.4 211.4L389.3 210.0L388.6 208.8L387.4 208.1ZM392.8 212.4L391.6 212.3L390.3 212.6L389.4 213.5L386.1 218.2L385.6 219.5L385.7 220.9L386.8 223.9L387.9 225.4L388.4 225.8L390.1 226.4L391.7 226.0L396.7 223.0L397.8 221.9L398.2 220.4L397.7 218.9L394.7 213.8L393.1 212.5ZM399.3 219.9L400.5 221.0L402.1 221.4L403.6 220.8L408.3 217.6L409.2 216.5L409.6 215.0L409.2 213.6L406.4 208.8L405.2 207.7L403.6 207.3L402.1 207.8L397.3 211.1L396.3 212.2L396.0 213.7L396.4 215.1ZM414.3 214.8L413.1 215.9L412.6 217.5L413.0 219.1L416.1 224.1L417.4 225.3L419.0 225.6L420.5 224.9L426.8 220.0L427.7 218.9L428.0 217.5L427.5 216.1L426.5 215.1L422.2 212.6L420.9 212.2L419.5 212.5ZM430.3 213.0L429.7 214.4L429.9 215.8L430.7 217.0L432.0 217.7L433.4 217.7L442.6 215.5L443.8 214.8L444.6 213.7L444.8 212.2L444.3 210.9L443.3 209.9L437.9 207.1L436.6 206.8L435.2 207.1L434.1 208.0ZM278.4 231.7L278.8 233.0L279.7 234.0L281.0 234.5L282.4 234.4L288.2 232.4L289.3 231.6L290.1 230.4L290.2 229.1L289.7 227.8L287.8 225.2L286.9 224.3L285.6 223.9L284.3 224.2L280.1 225.8L278.7 227.0L278.2 228.8ZM297.0 221.2L296.1 219.7L294.5 219.0L290.9 218.4L289.5 218.6L288.2 219.4L287.6 220.7L287.4 221.4L287.4 222.6L287.9 223.8L292.4 230.2L293.7 231.3L294.6 231.7L296.2 231.9L297.7 231.2L298.6 229.8L298.7 228.2ZM309.1 223.9L308.6 222.5L307.3 221.5L305.7 221.3L304.3 221.9L303.3 223.2L302.5 225.4L302.3 226.9L302.9 228.2L304.0 229.2L305.4 229.5L306.2 229.5L307.7 229.1L307.9 228.9L309.0 227.7L309.3 226.0ZM325.7 218.8L324.2 218.3L322.6 218.7L321.5 219.8L317.5 226.6L317.1 228.2L317.6 229.9L319.1 232.0L320.5 233.0L322.2 233.1L323.7 232.3L328.2 227.6L329.0 226.2L328.9 224.6L327.8 221.0L326.6 219.4ZM335.0 229.6L336.5 230.2L338.1 229.9L339.3 228.9L339.8 227.4L340.0 225.0L339.6 223.4L338.5 222.2L334.0 219.5L332.8 219.1L331.7 219.2L331.4 219.2L330.0 220.0L329.3 221.4L329.3 223.0L330.0 225.2L331.1 226.8ZM340.5 229.4L340.9 231.1L342.1 232.3L343.7 232.6L350.9 232.1L352.4 231.6L353.5 230.3L355.4 225.7L355.7 224.3L355.2 222.9L354.2 221.9L348.4 218.5L347.1 218.1L345.8 218.3L344.7 219.1L341.7 222.3L340.9 224.1ZM370.2 231.4L371.1 230.2L371.3 228.8L370.7 227.4L369.5 225.7L368.1 224.6L361.5 222.2L360.2 222.0L358.9 222.4L358.1 222.9L356.9 224.3L354.8 229.3L354.6 231.2L355.7 232.8L360.4 236.7L361.6 237.3L363.0 237.2L364.2 236.6ZM372.0 227.8L373.0 228.7L374.3 229.1L375.6 228.9L383.5 225.9L384.7 225.0L385.4 223.6L385.2 222.1L384.8 220.9L384.2 219.9L383.2 219.2L379.7 217.6L378.0 217.3L376.4 218.2L371.6 222.8L370.9 224.0L370.7 225.4L371.2 226.7ZM378.0 228.9L376.7 229.8L376.1 231.3L376.3 232.8L377.3 234.1L378.8 234.7L386.9 235.4L388.6 235.1L389.8 233.8L390.1 232.1L389.8 229.0L389.4 227.8L388.5 226.9L388.0 226.5L386.6 226.0L385.2 226.1ZM403.1 224.6L402.1 223.1L400.4 222.4L398.7 222.8L392.1 226.7L391.0 227.9L390.7 229.6L391.0 232.6L391.5 233.9L392.5 234.8L393.8 235.2L401.4 235.7L402.6 235.6L403.2 235.4L404.4 234.6L405.1 233.2L405.1 231.7ZM412.3 219.6L411.2 218.5L409.6 218.2L408.1 218.7L405.0 220.9L403.9 222.3L403.8 224.1L406.4 233.1L407.0 234.3L408.0 235.0L410.1 236.0L411.7 236.2L413.2 235.7L416.2 233.3L417.1 232.2L417.4 230.9L417.4 228.5L416.9 227.1ZM431.1 222.9L430.3 221.7L429.1 220.9L427.7 220.8L426.4 221.4L419.4 226.9L418.5 228.0L418.2 229.3L418.3 230.0L418.9 231.8L420.5 232.9L425.0 234.1L426.5 234.1L427.8 233.4L431.5 230.1L432.4 228.6L432.4 226.9ZM452.0 214.3L450.9 214.3L433.9 218.5L432.5 219.3L431.7 220.7L431.8 222.3L433.3 227.0L434.1 228.2L435.4 229.0L445.6 231.7L446.9 231.7L485.0 224.8L486.5 224.0L487.4 222.6L487.3 220.9L486.4 219.5L484.9 218.8ZM281.2 236.8L280.0 235.6L278.4 235.3L276.9 235.8L271.1 239.9L270.1 241.2L269.9 242.7L270.5 244.2L271.8 245.2L279.1 247.9L280.4 248.1L281.7 247.6L283.5 246.6L284.5 245.4L284.9 244.0L284.5 242.5ZM296.1 235.1L295.6 233.5L294.3 232.4L293.7 232.2L291.5 232.1L284.9 234.4L283.5 235.4L282.9 237.0L283.3 238.7L286.0 243.4L287.0 244.4L288.4 244.9L289.9 244.9L291.3 244.7L292.4 243.9L295.5 240.2L296.2 238.2ZM301.0 230.5L299.2 231.2L298.0 232.2L297.2 233.2L296.9 234.6L297.0 237.5L297.4 239.0L298.5 240.1L303.5 242.8L305.2 243.2L306.8 242.5L308.7 241.0L309.6 239.4L309.6 237.6L307.6 232.3L306.4 230.9L304.7 230.4ZM311.5 228.6L310.1 228.9L309.0 229.9L308.4 231.2L308.6 232.7L310.4 237.5L311.4 238.9L313.0 239.5L317.7 239.8L319.3 239.5L320.5 238.2L320.9 236.5L320.9 236.5L320.3 235.1L316.6 229.9L315.6 229.0L314.2 228.7ZM334.3 239.9L335.7 239.4L336.7 238.2L337.9 235.8L338.2 234.5L337.9 233.1L337.0 232.1L332.1 228.5L330.8 228.0L329.4 228.1L328.2 228.9L322.6 234.7L321.9 235.8L321.8 237.1L321.8 237.5L322.3 238.9L323.4 239.9L323.9 240.1L325.4 240.5ZM337.3 239.0L337.0 240.2L337.2 241.4L339.0 246.1L340.0 247.4L341.4 248.0L342.9 247.8L349.1 245.3L350.4 244.3L351.0 242.7L351.3 236.3L351.0 234.7L349.8 233.5L348.1 233.2L341.6 233.6L340.2 234.1L339.1 235.3ZM357.0 235.0L355.5 234.4L353.9 234.6L352.7 235.6L352.1 237.1L351.8 243.2L352.0 244.6L352.8 245.7L354.7 247.3L355.8 247.8L357.0 247.9L361.3 247.5L362.6 247.0L363.6 246.0L364.0 244.7L363.8 243.3L362.3 239.8L361.4 238.6ZM374.6 234.1L373.8 232.9L372.5 232.2L371.1 232.2L369.8 232.9L364.5 237.5L363.5 239.1L363.7 240.9L364.5 242.9L365.6 244.2L367.2 244.7L368.9 244.3L373.2 241.5L374.1 240.5L374.5 239.2L374.8 235.5L374.6 234.1ZM378.7 235.5L377.2 235.7L376.0 236.7L375.4 238.2L375.4 238.8L375.7 240.4L376.8 241.6L381.1 244.3L382.6 244.7L384.2 244.3L387.9 242.0L388.8 241.2L389.3 240.0L389.4 239.8L389.2 238.2L388.2 236.9L386.7 236.3ZM390.2 240.1L390.2 241.4L390.8 242.6L392.5 244.5L393.8 245.4L395.4 245.4L398.0 244.8L399.4 244.0L400.2 242.6L400.8 240.0L400.7 238.3L399.7 236.9L398.1 236.3L393.6 236.0L392.2 236.3L391.1 237.2L390.5 238.5ZM405.8 247.8L407.3 248.3L408.9 247.9L410.0 246.8L411.4 244.3L411.8 242.5L411.6 239.3L411.0 237.8L409.8 236.8L407.4 235.7L405.3 235.6L404.0 236.0L402.8 236.8L402.1 238.2L401.1 242.5L401.2 244.3L402.4 245.7ZM413.6 236.4L412.6 237.6L412.4 239.0L412.6 241.4L413.2 242.9L414.5 243.9L421.6 246.6L422.9 246.8L424.1 246.5L426.7 245.0L427.8 244.1L428.3 242.9L428.2 241.5L426.8 236.9L426.0 235.6L424.7 234.9L419.4 233.4L418.1 233.4L416.8 234.0ZM442.4 236.1L443.0 234.8L443.0 233.3L442.2 232.0L440.9 231.3L435.2 229.8L433.7 229.7L432.4 230.4L428.6 233.8L427.7 235.2L427.7 236.9L429.4 242.5L429.9 243.6L430.9 244.4L431.9 244.9L433.2 245.2L434.5 245.0L435.6 244.2ZM281.5 253.4L282.1 255.0L283.5 255.9L285.1 256.0L290.6 254.7L292.0 254.0L292.8 252.6L292.8 251.0L291.9 247.9L290.9 246.4L289.2 245.7L287.6 245.6L285.8 246.1L282.6 248.1L281.5 249.3L281.2 251.0ZM303.0 253.1L304.5 252.9L305.7 252.1L306.4 250.7L306.3 249.2L305.3 245.8L303.9 244.0L298.9 241.2L297.6 240.9L296.2 241.1L295.1 241.9L293.1 244.3L292.5 245.7L292.5 247.1L293.3 249.9L294.2 251.3L295.8 252.0ZM317.2 244.8L317.5 243.3L317.1 242.0L316.1 240.9L314.7 240.5L312.1 240.3L310.0 241.0L307.3 243.2L306.4 244.6L306.3 246.3L307.1 248.8L307.8 250.1L309.1 250.8L310.6 250.9L313.3 250.2L314.5 249.7L315.3 248.6ZM324.5 244.2L324.0 242.8L322.8 241.9L321.3 241.6L319.8 242.2L318.9 243.3L316.5 248.1L316.2 249.3L316.5 250.6L317.3 251.7L320.6 254.5L321.9 255.1L323.3 255.1L324.6 254.4L325.4 253.2L325.5 251.8ZM336.8 242.6L335.6 241.2L333.8 240.7L328.2 241.1L326.7 241.7L325.6 242.9L325.4 244.5L326.6 253.7L327.4 255.3L328.9 256.2L331.2 256.7L332.7 256.7L333.9 256.0L338.4 251.7L339.2 250.2L339.1 248.5ZM344.2 248.2L342.9 249.1L342.3 250.6L342.5 252.1L343.5 253.4L347.8 256.6L349.5 257.2L351.2 256.7L352.3 255.3L354.2 250.7L354.4 248.8L353.4 247.2L352.5 246.5L351.1 245.9L349.5 246.1ZM353.9 253.7L353.7 255.3L354.4 256.7L355.7 257.6L357.3 257.7L364.6 256.2L366.1 255.4L366.9 253.9L366.8 252.2L366.0 250.1L365.3 249.0L364.2 248.3L362.9 248.1L357.6 248.7L356.2 249.3L355.2 250.6ZM367.9 245.9L367.0 246.9L366.5 248.2L366.7 249.5L367.6 251.7L368.4 253.0L369.8 253.6L374.4 254.6L375.8 254.5L377.0 253.8L380.7 250.2L381.6 248.6L381.7 247.9L381.5 246.2L380.4 244.8L376.4 242.4L374.8 242.0L373.2 242.4ZM389.3 255.4L390.8 256.1L392.4 255.8L392.4 255.8L393.5 255.1L394.1 253.9L394.2 252.6L393.3 247.3L392.6 245.9L391.0 244.0L389.9 243.2L388.5 243.0L387.2 243.4L384.1 245.3L383.2 246.1L382.7 247.3L382.6 247.8L382.7 249.4L383.6 250.7ZM395.1 253.2L395.8 254.6L397.0 255.5L398.9 256.2L400.2 256.4L404.2 256.1L405.3 255.8L406.3 255.0L407.2 253.8L407.8 252.4L407.9 252.2L407.6 250.5L406.5 249.2L401.1 245.9L400.0 245.5L398.8 245.5L396.7 246.0L395.4 246.7L394.6 247.9L394.5 249.4ZM409.5 249.4L409.1 251.2L409.7 252.8L411.2 253.8L417.9 255.7L419.6 255.7L421.1 254.8L421.7 253.2L422.1 250.2L422.0 248.9L421.3 247.7L420.2 247.0L414.9 245.0L413.5 244.8L412.2 245.3L411.2 246.3ZM430.8 245.3L429.4 244.9L428.0 245.3L424.6 247.1L423.6 248.1L423.1 249.4L422.6 252.8L422.9 254.5L424.1 255.8L425.9 256.2L433.6 255.5L435.0 255.1L435.9 254.0L436.3 252.6L436.0 251.2L434.2 247.7L432.9 246.4ZM291.0 278.8L291.9 279.9L293.2 280.6L294.7 280.5L295.9 279.7L296.7 278.5L296.7 277.0L292.8 258.2L292.1 256.8L290.8 256.0L289.2 255.9L285.8 256.7L284.3 257.6L283.6 259.1L283.7 260.8ZM296.7 253.0L295.3 253.1L294.1 253.9L293.4 255.1L293.3 256.6L299.4 285.6L300.1 287.0L301.5 287.9L303.0 287.9L304.4 287.2L305.2 285.8L307.5 277.7L307.6 276.7L306.3 256.8L305.9 255.5L305.0 254.5L303.7 254.0ZM309.3 252.0L308.1 252.6L307.3 253.8L307.0 255.1L307.9 268.0L308.3 269.4L309.3 270.4L310.7 270.8L312.1 270.6L313.2 269.6L320.9 259.6L321.5 258.2L321.3 256.7L320.4 255.5L316.0 251.7L314.8 251.1L313.4 251.1ZM343.4 295.2L344.3 296.6L345.8 297.4L347.5 297.2L348.8 296.1L349.3 294.5L350.5 261.3L350.3 259.9L349.3 258.8L341.7 253.1L340.5 252.6L339.1 252.6L337.9 253.3L334.7 256.4L333.8 257.8L333.8 259.4ZM353.7 259.4L352.5 259.9L351.7 260.9L351.4 262.2L349.3 317.1L349.3 317.5L354.1 361.1L354.6 362.5L355.7 363.4L357.1 363.8L358.5 363.4L359.6 362.3L360.0 360.9L365.8 260.7L365.6 259.3L364.8 258.2L363.6 257.6L362.2 257.5ZM358.5 401.8L358.5 402.2L360.8 439.2L361.3 440.6L362.3 441.6L363.8 442.0L365.2 441.7L366.3 440.7L366.8 439.4L378.7 333.0L378.7 332.8L382.6 268.9L382.2 267.2L376.4 256.9L375.6 255.9L374.4 255.4L370.4 254.6L368.7 254.8L367.4 255.8L366.8 257.4ZM380.8 262.9L381.8 264.0L383.2 264.5L384.7 264.2L385.9 263.2L388.5 259.4L389.0 258.0L388.8 256.6L387.9 255.4L383.9 252.0L382.6 251.4L381.1 251.5L379.9 252.2L378.2 253.8L377.5 254.9L377.3 256.2L377.7 257.4ZM384.0 267.4L383.4 268.9L381.6 299.1L381.9 300.5L382.8 301.6L384.1 302.2L385.5 302.1L386.8 301.3L387.5 300.0L398.3 259.7L398.3 258.3L397.6 257.0L396.4 256.1L396.2 256.0L393.9 256.1L391.7 257.1L390.4 258.1ZM410.5 254.5L408.9 254.5L407.5 255.3L406.7 256.7L406.8 258.4L414.8 280.9L415.7 282.3L417.2 282.9L418.9 282.7L420.1 281.6L420.6 280.0L421.0 259.8L420.7 258.5L420.0 257.5L418.8 256.8Z" fill="#f3e4eb"/>
<g fill="#d42c7c"><circle cx="385.5" cy="101.0" r="0.9"/><circle cx="292.1" cy="91.6" r="1.4"/><circle cx="296.7" cy="88.3" r="1.6"/><circle cx="327.4" cy="88.0" r="1.8"/><circle cx="303.1" cy="145.1" r="1.9"/><circle cx="306.2" cy="141.4" r="1.8"/><circle cx="320.3" cy="152.6" r="1.3"/><circle cx="417.8" cy="227.6" r="0.9"/><circle cx="422.9" cy="247.6" r="1.0"/><circle cx="421.7" cy="256.9" r="1.1"/><circle cx="417.9" cy="63.6" r="1.1"/><circle cx="418.4" cy="78.1" r="1.6"/><circle cx="419.1" cy="78.2" r="1.9"/><circle cx="384.3" cy="81.9" r="0.9"/><circle cx="384.7" cy="85.4" r="0.9"/><circle cx="388.1" cy="101.0" r="1.5"/><circle cx="315.2" cy="76.4" r="0.9"/><circle cx="332.9" cy="96.1" r="1.6"/><circle cx="306.5" cy="123.1" r="1.9"/><circle cx="303.2" cy="91.8" r="0.9"/><circle cx="390.6" cy="145.7" r="0.9"/><circle cx="289.8" cy="166.0" r="1.0"/><circle cx="319.9" cy="147.6" r="1.1"/><circle cx="313.8" cy="141.2" r="1.1"/><circle cx="315.8" cy="133.0" r="1.4"/><circle cx="331.9" cy="134.7" r="1.7"/><circle cx="290.7" cy="113.3" r="1.2"/><circle cx="294.9" cy="109.9" r="1.7"/><circle cx="408.5" cy="199.5" r="0.8"/><circle cx="328.7" cy="155.7" r="1.4"/><circle cx="335.1" cy="149.6" r="0.9"/><circle cx="305.9" cy="158.5" r="1.5"/><circle cx="316.6" cy="154.7" r="1.6"/><circle cx="377.2" cy="92.4" r="1.6"/><circle cx="388.8" cy="67.3" r="1.7"/><circle cx="303.1" cy="66.9" r="1.4"/><circle cx="330.0" cy="120.6" r="1.3"/><circle cx="318.3" cy="124.5" r="1.3"/><circle cx="320.4" cy="128.5" r="1.7"/><circle cx="305.4" cy="132.2" r="0.9"/><circle cx="304.6" cy="125.9" r="1.0"/><circle cx="315.7" cy="78.9" r="1.1"/><circle cx="321.1" cy="102.1" r="1.4"/><circle cx="317.4" cy="96.0" r="1.0"/><circle cx="313.9" cy="96.2" r="1.1"/><circle cx="320.5" cy="111.6" r="1.1"/><circle cx="322.3" cy="110.1" r="1.0"/><circle cx="296.2" cy="109.9" r="1.9"/><circle cx="304.8" cy="111.2" r="1.1"/><circle cx="310.9" cy="64.9" r="1.3"/><circle cx="372.1" cy="102.4" r="1.8"/><circle cx="364.3" cy="100.9" r="1.7"/><circle cx="285.3" cy="167.5" r="1.2"/><circle cx="285.2" cy="96.4" r="1.2"/><circle cx="298.9" cy="145.2" r="1.6"/><circle cx="295.9" cy="155.8" r="1.5"/><circle cx="290.6" cy="159.0" r="1.5"/><circle cx="285.1" cy="152.0" r="1.6"/><circle cx="286.3" cy="149.6" r="1.6"/><circle cx="426.3" cy="195.6" r="1.0"/><circle cx="421.5" cy="201.5" r="1.5"/><circle cx="392.6" cy="161.0" r="1.2"/><circle cx="388.6" cy="154.6" r="1.5"/><circle cx="286.5" cy="245.2" r="1.4"/><circle cx="405.2" cy="201.5" r="1.0"/><circle cx="392.4" cy="177.0" r="1.2"/><circle cx="388.0" cy="175.7" r="1.7"/><circle cx="393.8" cy="192.6" r="1.4"/><circle cx="389.9" cy="194.7" r="1.8"/><circle cx="372.7" cy="62.2" r="1.4"/><circle cx="371.3" cy="63.1" r="0.9"/><circle cx="380.9" cy="67.4" r="1.8"/><circle cx="377.3" cy="77.7" r="0.8"/><circle cx="370.3" cy="79.3" r="1.6"/><circle cx="367.5" cy="76.7" r="1.0"/><circle cx="402.9" cy="78.7" r="1.2"/><circle cx="415.6" cy="75.8" r="1.5"/><circle cx="415.0" cy="70.3" r="1.6"/><circle cx="360.4" cy="76.2" r="1.9"/><circle cx="351.7" cy="88.8" r="1.3"/><circle cx="297.1" cy="64.0" r="0.9"/><circle cx="289.4" cy="72.4" r="1.5"/><circle cx="290.4" cy="72.6" r="1.5"/><circle cx="293.9" cy="125.2" r="1.6"/><circle cx="289.2" cy="120.9" r="1.8"/><circle cx="287.3" cy="122.3" r="1.8"/><circle cx="293.4" cy="138.2" r="1.7"/><circle cx="294.9" cy="135.4" r="1.2"/><circle cx="335.4" cy="80.3" r="0.9"/><circle cx="317.0" cy="70.2" r="1.0"/><circle cx="345.0" cy="140.8" r="1.3"/><circle cx="350.9" cy="127.2" r="1.8"/><circle cx="347.8" cy="135.3" r="0.9"/><circle cx="335.1" cy="132.9" r="0.9"/><circle cx="343.0" cy="118.4" r="1.5"/><circle cx="343.5" cy="118.3" r="1.5"/><circle cx="378.7" cy="135.0" r="1.1"/><circle cx="376.2" cy="144.5" r="1.9"/><circle cx="377.4" cy="143.9" r="1.1"/><circle cx="369.9" cy="128.8" r="1.1"/><circle cx="343.5" cy="90.3" r="1.1"/><circle cx="349.4" cy="90.8" r="1.6"/><circle cx="336.0" cy="97.4" r="1.2"/><circle cx="364.2" cy="101.1" r="1.4"/><circle cx="350.3" cy="110.7" r="1.4"/><circle cx="351.6" cy="102.9" r="1.7"/><circle cx="425.2" cy="190.6" r="1.3"/><circle cx="412.1" cy="188.7" r="1.4"/><circle cx="405.9" cy="179.9" r="1.0"/><circle cx="291.6" cy="245.5" r="1.8"/><circle cx="293.5" cy="252.1" r="0.8"/><circle cx="286.5" cy="194.1" r="1.7"/><circle cx="333.1" cy="166.2" r="1.3"/><circle cx="412.3" cy="243.6" r="1.3"/><circle cx="411.8" cy="237.2" r="1.1"/><circle cx="392.5" cy="202.4" r="1.2"/><circle cx="390.9" cy="235.4" r="1.1"/><circle cx="390.0" cy="227.5" r="1.2"/><circle cx="406.4" cy="234.8" r="0.8"/><circle cx="386.7" cy="225.1" r="1.8"/><circle cx="390.0" cy="66.2" r="1.2"/><circle cx="402.7" cy="65.3" r="1.1"/><circle cx="400.8" cy="67.2" r="0.9"/><circle cx="385.6" cy="130.4" r="1.1"/><circle cx="354.3" cy="68.0" r="1.1"/><circle cx="353.8" cy="68.8" r="1.8"/><circle cx="354.1" cy="68.7" r="1.6"/><circle cx="339.5" cy="63.4" r="1.5"/><circle cx="321.6" cy="66.9" r="1.1"/><circle cx="324.4" cy="62.7" r="1.0"/><circle cx="338.6" cy="74.8" r="1.1"/><circle cx="338.4" cy="73.6" r="1.7"/><circle cx="352.8" cy="137.7" r="1.5"/><circle cx="365.5" cy="140.8" r="1.6"/><circle cx="356.9" cy="125.5" r="1.5"/><circle cx="359.3" cy="126.3" r="1.3"/><circle cx="355.6" cy="113.5" r="1.1"/><circle cx="366.4" cy="114.1" r="1.4"/><circle cx="365.1" cy="113.2" r="1.2"/><circle cx="372.7" cy="123.5" r="1.3"/><circle cx="369.4" cy="115.0" r="1.1"/><circle cx="382.3" cy="123.3" r="1.3"/><circle cx="377.6" cy="108.8" r="1.4"/><circle cx="420.5" cy="179.0" r="1.5"/><circle cx="423.4" cy="173.5" r="1.8"/><circle cx="286.6" cy="222.8" r="1.0"/><circle cx="296.6" cy="239.5" r="1.1"/><circle cx="400.1" cy="244.8" r="1.2"/><circle cx="399.5" cy="256.8" r="1.6"/><circle cx="405.7" cy="256.4" r="1.9"/><circle cx="408.1" cy="253.4" r="1.5"/><circle cx="408.6" cy="250.1" r="1.1"/><circle cx="306.5" cy="254.0" r="0.9"/><circle cx="294.3" cy="180.4" r="1.0"/><circle cx="298.1" cy="172.3" r="1.1"/><circle cx="316.0" cy="228.3" r="1.2"/><circle cx="327.9" cy="219.7" r="1.6"/><circle cx="399.9" cy="221.6" r="1.2"/><circle cx="404.9" cy="205.4" r="1.0"/><circle cx="411.0" cy="215.9" r="1.3"/><circle cx="410.8" cy="216.3" r="1.8"/><circle cx="384.7" cy="219.4" r="1.6"/><circle cx="389.3" cy="208.3" r="1.2"/><circle cx="345.0" cy="162.4" r="1.2"/><circle cx="358.9" cy="150.6" r="1.6"/><circle cx="358.1" cy="142.7" r="1.3"/><circle cx="347.6" cy="144.8" r="1.1"/><circle cx="351.0" cy="153.8" r="1.8"/><circle cx="367.1" cy="159.2" r="1.8"/><circle cx="374.1" cy="156.4" r="1.5"/><circle cx="378.4" cy="158.3" r="1.8"/><circle cx="392.4" cy="133.5" r="1.7"/><circle cx="399.7" cy="128.2" r="0.8"/><circle cx="399.5" cy="128.2" r="1.4"/><circle cx="405.3" cy="155.2" r="1.2"/><circle cx="383.7" cy="120.7" r="1.8"/><circle cx="394.9" cy="112.4" r="1.0"/><circle cx="393.7" cy="118.6" r="1.2"/><circle cx="285.5" cy="211.1" r="1.0"/><circle cx="287.9" cy="217.5" r="1.5"/><circle cx="303.0" cy="212.8" r="1.4"/><circle cx="307.1" cy="229.9" r="1.6"/><circle cx="300.3" cy="230.1" r="1.6"/><circle cx="310.0" cy="228.2" r="1.2"/><circle cx="306.2" cy="214.3" r="1.5"/><circle cx="305.3" cy="244.3" r="1.4"/><circle cx="307.6" cy="252.0" r="1.3"/><circle cx="310.8" cy="239.7" r="1.5"/><circle cx="353.4" cy="231.5" r="1.9"/><circle cx="357.0" cy="223.1" r="1.6"/><circle cx="360.1" cy="221.2" r="1.8"/><circle cx="369.2" cy="224.6" r="1.8"/><circle cx="322.5" cy="217.2" r="1.9"/><circle cx="325.6" cy="210.5" r="1.4"/><circle cx="312.5" cy="213.5" r="1.1"/><circle cx="361.4" cy="214.2" r="1.4"/><circle cx="340.5" cy="222.9" r="1.1"/><circle cx="360.2" cy="169.3" r="1.8"/><circle cx="365.4" cy="165.4" r="1.2"/><circle cx="375.4" cy="172.9" r="1.0"/><circle cx="416.8" cy="121.9" r="1.5"/><circle cx="407.3" cy="135.8" r="1.0"/><circle cx="404.9" cy="142.0" r="0.8"/><circle cx="412.4" cy="135.8" r="1.0"/><circle cx="408.6" cy="156.0" r="1.2"/><circle cx="423.0" cy="163.3" r="1.2"/><circle cx="416.3" cy="167.7" r="1.4"/><circle cx="419.7" cy="167.8" r="1.6"/><circle cx="290.0" cy="201.5" r="1.3"/><circle cx="289.8" cy="206.1" r="1.6"/><circle cx="339.7" cy="251.0" r="0.9"/><circle cx="355.6" cy="248.5" r="1.5"/><circle cx="365.5" cy="247.4" r="1.2"/><circle cx="395.0" cy="255.2" r="1.4"/><circle cx="382.6" cy="245.7" r="1.5"/><circle cx="390.5" cy="236.2" r="1.2"/><circle cx="362.4" cy="238.8" r="1.7"/><circle cx="374.8" cy="240.9" r="1.9"/><circle cx="373.5" cy="230.1" r="1.2"/><circle cx="372.9" cy="229.7" r="1.5"/><circle cx="309.8" cy="185.3" r="1.7"/><circle cx="298.5" cy="172.2" r="1.3"/><circle cx="322.4" cy="171.0" r="1.4"/><circle cx="316.1" cy="168.2" r="1.4"/><circle cx="311.2" cy="170.6" r="1.3"/><circle cx="310.4" cy="187.1" r="1.7"/><circle cx="367.0" cy="209.2" r="0.8"/><circle cx="376.3" cy="210.5" r="0.8"/><circle cx="379.2" cy="200.5" r="1.3"/><circle cx="380.1" cy="205.2" r="1.5"/><circle cx="366.8" cy="200.4" r="1.4"/><circle cx="337.6" cy="199.9" r="1.1"/><circle cx="339.2" cy="207.0" r="1.2"/><circle cx="353.3" cy="204.0" r="1.7"/><circle cx="341.9" cy="210.2" r="1.2"/><circle cx="343.1" cy="210.6" r="1.2"/><circle cx="359.6" cy="170.0" r="1.5"/><circle cx="346.5" cy="177.2" r="1.5"/><circle cx="348.8" cy="166.4" r="1.4"/><circle cx="404.2" cy="114.1" r="0.9"/><circle cx="398.0" cy="107.0" r="1.1"/><circle cx="398.0" cy="107.5" r="1.9"/><circle cx="414.4" cy="114.4" r="1.1"/><circle cx="418.9" cy="120.4" r="0.9"/><circle cx="419.3" cy="117.0" r="1.5"/><circle cx="420.3" cy="153.9" r="0.8"/><circle cx="315.0" cy="250.3" r="1.5"/><circle cx="319.8" cy="240.4" r="1.7"/><circle cx="339.9" cy="249.4" r="1.2"/><circle cx="352.0" cy="232.5" r="0.9"/><circle cx="351.2" cy="244.9" r="1.4"/><circle cx="367.8" cy="253.7" r="1.3"/><circle cx="301.6" cy="190.2" r="1.3"/><circle cx="308.3" cy="189.9" r="1.7"/><circle cx="297.7" cy="198.6" r="1.0"/><circle cx="310.3" cy="198.7" r="1.4"/><circle cx="311.4" cy="186.9" r="1.6"/><circle cx="321.6" cy="177.9" r="1.3"/><circle cx="319.2" cy="178.8" r="1.9"/><circle cx="334.6" cy="197.3" r="1.3"/><circle cx="325.8" cy="197.5" r="1.6"/><circle cx="380.9" cy="184.9" r="1.7"/><circle cx="376.5" cy="174.6" r="1.8"/><circle cx="356.4" cy="189.8" r="1.2"/><circle cx="351.9" cy="192.7" r="1.1"/><circle cx="351.2" cy="194.8" r="1.1"/><circle cx="365.6" cy="200.0" r="0.9"/><circle cx="422.4" cy="106.5" r="1.7"/><circle cx="404.9" cy="101.0" r="1.4"/><circle cx="405.8" cy="101.0" r="1.5"/><circle cx="399.0" cy="88.1" r="0.9"/><circle cx="413.3" cy="88.8" r="1.7"/><circle cx="416.0" cy="96.4" r="1.4"/><circle cx="415.7" cy="97.2" r="0.9"/><circle cx="424.5" cy="134.2" r="1.4"/><circle cx="413.2" cy="153.0" r="0.9"/><circle cx="413.1" cy="146.8" r="0.9"/><circle cx="416.8" cy="139.1" r="1.6"/><circle cx="424.4" cy="142.5" r="0.9"/><circle cx="339.6" cy="233.4" r="1.3"/><circle cx="336.2" cy="240.2" r="1.4"/><circle cx="381.8" cy="249.8" r="0.9"/><circle cx="366.5" cy="256.2" r="0.8"/><circle cx="326.6" cy="183.3" r="1.4"/><circle cx="341.5" cy="184.8" r="1.2"/><circle cx="337.0" cy="190.1" r="1.2"/><circle cx="357.0" cy="188.9" r="1.1"/><circle cx="369.8" cy="188.6" r="1.0"/><circle cx="367.4" cy="179.6" r="1.1"/><circle cx="357.4" cy="177.5" r="1.2"/><circle cx="358.4" cy="176.3" r="1.7"/></g>
<g fill="#7a1449"><ellipse cx="291.9" cy="91.4" rx="1.2" ry="0.8"/><ellipse cx="296.2" cy="88.1" rx="0.7" ry="0.7"/><ellipse cx="306.2" cy="141.9" rx="0.9" ry="0.8"/><ellipse cx="422.9" cy="247.2" rx="1.0" ry="0.9"/><ellipse cx="421.6" cy="257.2" rx="1.1" ry="1.0"/><ellipse cx="418.3" cy="63.8" rx="1.1" ry="0.7"/><ellipse cx="418.5" cy="78.3" rx="1.2" ry="0.7"/><ellipse cx="384.3" cy="82.0" rx="0.8" ry="0.8"/><ellipse cx="388.1" cy="100.7" rx="0.9" ry="0.9"/><ellipse cx="332.8" cy="95.8" rx="1.3" ry="0.7"/><ellipse cx="306.5" cy="123.3" rx="1.3" ry="0.8"/><ellipse cx="390.6" cy="145.9" rx="0.9" ry="0.9"/><ellipse cx="313.7" cy="141.4" rx="1.0" ry="0.6"/><ellipse cx="331.7" cy="134.6" rx="1.4" ry="1.0"/><ellipse cx="290.5" cy="113.2" rx="1.0" ry="0.7"/><ellipse cx="295.3" cy="110.0" rx="0.8" ry="0.9"/><ellipse cx="408.6" cy="199.6" rx="1.4" ry="0.9"/><ellipse cx="306.1" cy="158.7" rx="0.9" ry="0.7"/><ellipse cx="316.4" cy="155.2" rx="1.2" ry="0.8"/><ellipse cx="330.3" cy="121.1" rx="1.0" ry="0.7"/><ellipse cx="318.7" cy="124.0" rx="0.9" ry="0.6"/><ellipse cx="319.9" cy="128.4" rx="1.1" ry="1.0"/><ellipse cx="305.1" cy="132.0" rx="1.2" ry="0.8"/><ellipse cx="304.2" cy="126.2" rx="0.9" ry="0.8"/><ellipse cx="317.9" cy="96.3" rx="1.0" ry="0.8"/><ellipse cx="320.4" cy="111.4" rx="1.3" ry="0.9"/><ellipse cx="322.2" cy="109.9" rx="1.3" ry="0.8"/><ellipse cx="296.2" cy="109.6" rx="1.2" ry="0.6"/><ellipse cx="311.4" cy="65.0" rx="1.3" ry="0.7"/><ellipse cx="372.4" cy="102.1" rx="1.1" ry="0.8"/><ellipse cx="364.1" cy="100.4" rx="0.9" ry="0.8"/><ellipse cx="285.7" cy="96.7" rx="1.2" ry="0.6"/><ellipse cx="299.0" cy="145.2" rx="0.7" ry="1.0"/><ellipse cx="295.8" cy="155.9" rx="0.9" ry="0.7"/><ellipse cx="290.3" cy="159.3" rx="0.9" ry="1.0"/><ellipse cx="285.4" cy="151.6" rx="0.8" ry="0.6"/><ellipse cx="286.2" cy="149.9" rx="1.1" ry="0.6"/><ellipse cx="426.3" cy="195.2" rx="1.3" ry="0.8"/><ellipse cx="392.1" cy="160.9" rx="1.2" ry="1.0"/><ellipse cx="388.4" cy="154.5" rx="1.2" ry="0.6"/><ellipse cx="392.0" cy="177.2" rx="1.4" ry="0.8"/><ellipse cx="388.4" cy="175.8" rx="0.8" ry="0.6"/><ellipse cx="389.9" cy="194.4" rx="1.4" ry="0.7"/><ellipse cx="372.5" cy="62.6" rx="1.4" ry="0.9"/><ellipse cx="380.9" cy="67.7" rx="0.8" ry="0.8"/><ellipse cx="377.8" cy="78.1" rx="1.2" ry="0.7"/><ellipse cx="370.4" cy="79.6" rx="0.7" ry="0.7"/><ellipse cx="367.5" cy="76.4" rx="1.1" ry="0.7"/><ellipse cx="416.1" cy="75.9" rx="1.0" ry="0.8"/><ellipse cx="352.1" cy="88.8" rx="1.1" ry="0.8"/><ellipse cx="290.1" cy="72.5" rx="1.1" ry="0.8"/><ellipse cx="293.6" cy="125.0" rx="1.0" ry="0.7"/><ellipse cx="287.6" cy="122.0" rx="1.2" ry="0.8"/><ellipse cx="293.4" cy="138.6" rx="0.7" ry="0.7"/><ellipse cx="295.3" cy="135.7" rx="1.0" ry="0.7"/><ellipse cx="335.8" cy="80.1" rx="1.0" ry="1.0"/><ellipse cx="317.4" cy="70.6" rx="0.8" ry="0.9"/><ellipse cx="345.3" cy="141.3" rx="0.8" ry="0.9"/><ellipse cx="350.5" cy="127.5" rx="0.9" ry="1.0"/><ellipse cx="334.9" cy="133.1" rx="0.8" ry="0.7"/><ellipse cx="379.1" cy="135.2" rx="0.9" ry="0.9"/><ellipse cx="376.2" cy="144.5" rx="0.7" ry="0.8"/><ellipse cx="343.2" cy="90.7" rx="1.4" ry="0.6"/><ellipse cx="349.8" cy="90.8" rx="0.8" ry="0.8"/><ellipse cx="351.7" cy="102.7" rx="1.0" ry="0.9"/><ellipse cx="425.3" cy="190.6" rx="0.7" ry="0.8"/><ellipse cx="405.9" cy="179.8" rx="1.0" ry="0.7"/><ellipse cx="291.7" cy="245.8" rx="0.9" ry="0.7"/><ellipse cx="293.7" cy="252.1" rx="0.9" ry="0.8"/><ellipse cx="286.3" cy="193.7" rx="1.2" ry="0.9"/><ellipse cx="332.8" cy="166.6" rx="0.7" ry="0.8"/><ellipse cx="392.4" cy="202.0" rx="0.7" ry="1.0"/><ellipse cx="391.0" cy="235.2" rx="1.0" ry="1.0"/><ellipse cx="406.6" cy="234.3" rx="0.9" ry="0.9"/><ellipse cx="386.6" cy="225.4" rx="1.0" ry="0.9"/><ellipse cx="390.0" cy="65.9" rx="0.8" ry="0.7"/><ellipse cx="403.2" cy="65.5" rx="1.3" ry="0.7"/><ellipse cx="385.3" cy="130.2" rx="1.0" ry="1.0"/><ellipse cx="353.9" cy="68.4" rx="1.0" ry="0.9"/><ellipse cx="353.6" cy="68.7" rx="0.8" ry="1.0"/><ellipse cx="353.6" cy="68.6" rx="0.9" ry="0.6"/><ellipse cx="339.3" cy="63.4" rx="1.1" ry="0.7"/><ellipse cx="324.2" cy="62.9" rx="1.0" ry="0.8"/><ellipse cx="338.3" cy="74.3" rx="0.7" ry="0.9"/><ellipse cx="356.9" cy="125.4" rx="0.7" ry="0.8"/><ellipse cx="359.0" cy="126.2" rx="1.0" ry="0.7"/><ellipse cx="355.4" cy="113.4" rx="0.8" ry="0.8"/><ellipse cx="364.7" cy="113.1" rx="0.7" ry="0.8"/><ellipse cx="372.5" cy="123.1" rx="0.9" ry="1.0"/><ellipse cx="420.4" cy="178.8" rx="1.3" ry="1.0"/><ellipse cx="423.0" cy="173.5" rx="0.9" ry="0.7"/><ellipse cx="286.8" cy="222.5" rx="0.7" ry="0.8"/><ellipse cx="296.8" cy="239.5" rx="1.1" ry="0.8"/><ellipse cx="408.2" cy="253.2" rx="0.9" ry="0.9"/><ellipse cx="408.4" cy="249.8" rx="1.1" ry="0.7"/><ellipse cx="306.7" cy="253.6" rx="1.0" ry="0.9"/><ellipse cx="298.4" cy="172.2" rx="1.2" ry="0.7"/><ellipse cx="316.2" cy="228.6" rx="1.3" ry="0.8"/><ellipse cx="405.0" cy="205.8" rx="1.4" ry="0.7"/><ellipse cx="384.3" cy="219.2" rx="1.2" ry="1.0"/><ellipse cx="389.3" cy="208.3" rx="1.0" ry="0.7"/><ellipse cx="359.2" cy="150.2" rx="0.8" ry="0.6"/><ellipse cx="357.9" cy="142.3" rx="1.1" ry="0.7"/><ellipse cx="347.6" cy="144.7" rx="0.9" ry="0.6"/><ellipse cx="350.6" cy="153.5" rx="1.0" ry="1.0"/><ellipse cx="367.0" cy="159.5" rx="1.0" ry="0.6"/><ellipse cx="399.3" cy="127.7" rx="1.0" ry="0.9"/><ellipse cx="399.2" cy="128.6" rx="0.7" ry="0.8"/><ellipse cx="383.9" cy="120.5" rx="1.3" ry="0.6"/><ellipse cx="394.8" cy="112.5" rx="1.3" ry="0.7"/><ellipse cx="394.1" cy="118.4" rx="0.8" ry="0.7"/><ellipse cx="287.5" cy="217.2" rx="0.9" ry="0.8"/><ellipse cx="302.8" cy="212.8" rx="1.4" ry="0.7"/><ellipse cx="307.6" cy="229.8" rx="1.4" ry="0.7"/><ellipse cx="300.1" cy="230.2" rx="1.4" ry="0.7"/><ellipse cx="306.4" cy="214.0" rx="1.1" ry="1.0"/><ellipse cx="304.9" cy="244.6" rx="1.2" ry="0.8"/><ellipse cx="307.3" cy="252.1" rx="1.1" ry="0.8"/><ellipse cx="310.9" cy="239.8" rx="1.4" ry="0.7"/><ellipse cx="360.6" cy="221.2" rx="0.9" ry="0.9"/><ellipse cx="322.9" cy="217.4" rx="0.9" ry="0.9"/><ellipse cx="364.9" cy="165.2" rx="1.3" ry="0.9"/><ellipse cx="375.7" cy="173.0" rx="1.3" ry="0.6"/><ellipse cx="404.7" cy="142.2" rx="0.9" ry="0.8"/><ellipse cx="412.6" cy="135.8" rx="0.8" ry="0.6"/><ellipse cx="409.1" cy="156.2" rx="1.2" ry="0.7"/><ellipse cx="423.1" cy="163.2" rx="1.3" ry="0.8"/><ellipse cx="419.8" cy="167.6" rx="1.3" ry="0.7"/><ellipse cx="339.5" cy="251.0" rx="1.4" ry="0.7"/><ellipse cx="355.5" cy="248.2" rx="1.3" ry="0.7"/><ellipse cx="395.4" cy="254.7" rx="1.0" ry="0.7"/><ellipse cx="383.0" cy="246.1" rx="0.7" ry="0.9"/><ellipse cx="390.3" cy="236.4" rx="1.1" ry="1.0"/><ellipse cx="374.7" cy="240.8" rx="1.2" ry="0.7"/><ellipse cx="373.4" cy="230.4" rx="0.8" ry="0.7"/><ellipse cx="298.8" cy="172.7" rx="1.3" ry="0.6"/><ellipse cx="322.0" cy="171.3" rx="0.9" ry="0.8"/><ellipse cx="315.7" cy="168.2" rx="0.9" ry="0.9"/><ellipse cx="310.9" cy="170.5" rx="1.1" ry="0.8"/><ellipse cx="310.8" cy="187.1" rx="1.0" ry="0.8"/><ellipse cx="367.3" cy="209.4" rx="1.2" ry="0.7"/><ellipse cx="376.1" cy="210.9" rx="1.2" ry="0.9"/><ellipse cx="379.0" cy="200.1" rx="1.3" ry="0.7"/><ellipse cx="339.2" cy="206.9" rx="1.0" ry="0.8"/><ellipse cx="353.3" cy="204.0" rx="1.0" ry="0.7"/><ellipse cx="341.9" cy="209.9" rx="1.2" ry="0.8"/><ellipse cx="346.3" cy="177.3" rx="1.1" ry="0.7"/><ellipse cx="403.9" cy="114.4" rx="1.0" ry="0.9"/><ellipse cx="419.7" cy="117.1" rx="0.7" ry="1.0"/><ellipse cx="320.1" cy="240.3" rx="1.0" ry="0.8"/><ellipse cx="350.9" cy="244.7" rx="1.4" ry="0.8"/><ellipse cx="368.2" cy="253.3" rx="1.3" ry="0.8"/><ellipse cx="301.8" cy="190.6" rx="1.0" ry="0.9"/><ellipse cx="308.5" cy="189.6" rx="1.1" ry="0.7"/><ellipse cx="297.8" cy="198.7" rx="1.0" ry="0.8"/><ellipse cx="310.8" cy="198.5" rx="1.2" ry="0.7"/><ellipse cx="311.2" cy="186.5" rx="1.3" ry="0.8"/><ellipse cx="334.9" cy="196.9" rx="0.9" ry="0.9"/><ellipse cx="325.9" cy="197.3" rx="0.8" ry="1.0"/><ellipse cx="380.6" cy="185.0" rx="1.1" ry="0.6"/><ellipse cx="350.7" cy="194.8" rx="0.9" ry="0.7"/><ellipse cx="365.3" cy="199.8" rx="0.9" ry="0.8"/><ellipse cx="413.3" cy="88.7" rx="1.2" ry="1.0"/><ellipse cx="415.7" cy="96.8" rx="0.8" ry="1.0"/><ellipse cx="425.0" cy="134.0" rx="1.3" ry="0.6"/><ellipse cx="413.3" cy="153.4" rx="1.2" ry="0.9"/><ellipse cx="412.8" cy="146.8" rx="0.9" ry="0.8"/><ellipse cx="416.8" cy="138.7" rx="1.0" ry="0.8"/><ellipse cx="424.3" cy="142.7" rx="1.4" ry="1.0"/><ellipse cx="339.8" cy="233.5" rx="1.1" ry="1.0"/><ellipse cx="326.8" cy="183.6" rx="0.7" ry="0.6"/><ellipse cx="341.0" cy="185.1" rx="0.9" ry="0.8"/><ellipse cx="369.8" cy="188.9" rx="0.9" ry="0.7"/><ellipse cx="367.2" cy="180.0" rx="0.8" ry="0.7"/><ellipse cx="358.0" cy="176.6" rx="0.9" ry="0.7"/></g>
</g>
<clipPath id="clip23"><rect x="284.2" y="283.0" width="141.40000000000003" height="192.0"/></clipPath>
<g clip-path="url(#clip23)" filter="url(#soft)">
<rect x="284.2" y="283.0" width="141.40000000000003" height="192.0" fill="#e389b7"/>
<path d="M342.4 275.7L342.3 276.7L342.7 277.6L343.6 278.2L343.9 278.3L344.9 278.4L345.9 278.0L348.6 275.7L349.1 274.9L349.3 273.9L349.0 273.0L347.4 270.6L346.6 269.9L345.4 269.7L344.4 270.2L343.8 271.1ZM363.7 278.9L364.9 279.1L366.0 278.5L368.4 276.3L369.0 274.9L369.6 256.3L369.3 255.2L368.5 254.4L367.3 254.2L366.3 254.6L365.7 255.6L359.4 274.7L359.3 275.6L359.6 276.5L360.4 277.1ZM374.5 251.0L374.1 250.1L373.4 249.5L372.4 249.4L371.5 249.7L370.8 250.4L370.6 251.3L369.9 274.6L370.1 275.6L370.8 276.3L374.7 278.9L375.5 279.2L376.5 279.1L377.6 278.7L378.4 278.2L378.8 277.4L378.9 276.4ZM395.5 275.5L395.5 276.5L395.9 277.3L396.7 277.9L397.6 278.1L401.4 277.7L402.4 277.3L403.0 276.6L403.2 275.6L402.9 274.6L400.4 270.6L399.6 269.8L398.5 269.6L397.4 270.1L396.8 271.1ZM414.2 281.3L415.0 281.8L415.8 281.8L416.6 281.5L420.0 279.4L420.8 278.5L420.9 277.3L418.7 266.6L418.3 265.7L417.5 265.1L416.5 265.0L415.6 265.3L414.9 266.1L410.4 275.8L410.2 277.1L410.8 278.2ZM284.9 279.9L285.1 281.1L285.9 282.0L290.0 284.3L291.1 284.5L292.1 284.2L292.8 283.3L292.9 282.1L292.0 277.9L291.7 277.0L290.9 276.4L290.1 276.1L289.3 275.9L288.5 276.1L286.3 277.0L285.6 277.6L285.2 278.5ZM293.5 281.1L294.0 282.0L294.7 282.5L295.7 282.7L296.6 282.4L297.2 282.0L297.8 281.4L298.1 280.6L298.4 278.6L298.3 277.7L297.8 276.9L297.0 276.4L296.1 276.3L294.7 276.6L293.8 277.0L293.2 277.9L293.1 278.9ZM307.6 282.0L308.0 281.1L308.0 280.0L307.4 279.1L304.6 276.7L303.9 276.3L303.1 276.2L301.1 276.3L300.3 276.6L299.7 277.2L299.3 278.0L299.0 280.1L299.2 281.3L300.0 282.2L303.6 284.1L304.9 284.3L306.0 283.7ZM314.9 288.3L315.8 289.1L316.9 289.3L318.0 288.9L319.4 287.7L319.9 287.0L320.1 286.2L319.9 285.3L317.6 280.5L317.0 279.8L316.2 279.4L313.7 279.0L312.2 279.3L312.0 279.5L311.3 280.2L311.1 281.2L311.4 282.1ZM326.3 278.5L325.8 277.3L324.7 276.7L323.2 276.3L322.3 276.3L321.6 276.7L319.3 278.4L318.7 279.1L318.5 279.9L318.7 280.8L319.9 283.3L320.6 284.2L321.7 284.5L322.8 284.2L325.4 282.5L326.2 281.7L326.4 280.7ZM330.3 284.3L331.2 284.7L332.1 284.7L332.9 284.2L335.7 281.6L336.3 280.7L336.3 279.7L335.9 278.8L332.6 275.1L331.8 274.6L330.8 274.5L329.9 274.8L327.9 276.2L327.3 277.0L327.1 278.0L327.2 281.0L327.5 281.8L328.0 282.4ZM339.6 279.2L338.8 280.0L338.6 281.1L339.0 282.2L342.0 286.0L342.9 286.7L344.1 286.7L346.0 286.2L346.8 285.7L347.4 285.0L347.5 284.0L347.2 283.2L345.1 280.1L344.2 279.3L342.2 278.5L341.3 278.4L340.5 278.7ZM347.9 282.8L348.6 283.4L349.5 283.7L350.4 283.5L353.2 282.3L353.9 281.8L354.3 281.1L354.8 279.7L354.9 278.8L354.6 278.0L354.0 277.4L351.8 275.9L350.6 275.6L349.4 276.1L347.0 278.1L346.4 278.9L346.3 279.9L346.6 280.8ZM365.0 284.5L365.6 283.5L365.5 282.3L365.0 281.0L364.0 280.0L359.3 277.5L358.4 277.3L357.4 277.6L356.8 278.0L355.9 279.0L355.2 281.2L355.1 282.1L355.4 283.0L358.3 287.5L359.2 288.2L360.3 288.3L361.4 287.8ZM373.6 281.7L374.0 280.7L373.8 279.6L373.1 278.8L370.8 277.3L369.9 277.0L369.1 277.1L368.3 277.5L366.5 279.2L365.9 280.2L366.0 281.4L366.5 282.6L366.9 283.2L367.6 283.7L369.6 284.5L370.4 284.7L371.3 284.5L371.9 283.9ZM372.6 284.5L372.2 285.4L372.3 286.4L372.9 287.2L375.9 289.6L376.7 290.0L377.6 290.0L378.4 289.5L380.4 287.9L380.9 287.2L381.1 286.4L381.2 281.2L381.0 280.2L380.3 279.5L379.4 279.1L378.5 279.2L376.3 280.0L375.4 280.7ZM385.2 288.5L386.0 288.6L386.9 288.4L387.5 287.8L388.1 287.0L388.5 285.9L388.6 281.5L388.4 280.4L387.5 279.6L386.4 279.4L383.7 279.8L382.9 280.1L382.2 280.8L382.0 281.7L381.9 285.8L382.3 287.0L383.2 287.7ZM391.5 279.7L390.5 280.0L389.8 280.7L389.5 281.6L389.4 284.5L389.6 285.5L390.2 286.2L391.0 286.6L393.6 287.0L394.7 286.8L395.5 286.2L395.9 285.1L395.7 284.1L394.0 280.8L393.2 280.0L392.2 279.7ZM397.1 279.0L396.1 279.3L395.5 280.0L395.3 280.9L395.5 281.9L397.1 285.1L397.9 285.9L399.0 286.1L401.0 286.1L402.1 285.7L402.8 284.7L404.1 281.1L404.2 280.1L403.8 279.2L403.0 278.6L402.0 278.5ZM410.9 285.3L411.7 285.0L412.4 284.5L413.0 283.7L413.3 282.8L413.2 281.9L412.7 281.1L409.8 278.4L409.0 277.9L408.1 277.9L407.1 278.1L406.1 278.5L405.6 279.4L404.4 282.8L404.3 283.8L404.7 284.7L405.4 285.3L406.4 285.5ZM419.4 288.4L420.1 289.2L421.0 289.5L421.9 289.4L422.7 288.9L425.9 285.5L426.4 284.1L426.3 282.2L425.9 281.1L425.0 280.4L422.6 279.6L421.8 279.5L421.0 279.8L418.2 281.6L417.5 282.3L417.2 283.2L417.4 284.1ZM427.2 284.0L427.8 285.4L430.2 287.8L431.2 288.3L432.3 288.3L441.8 284.7L442.6 284.2L443.0 283.2L443.0 282.2L442.4 281.4L441.5 280.9L432.2 278.7L430.8 278.8L428.2 280.2L427.5 280.9L427.2 282.0ZM281.8 291.7L282.7 292.7L283.9 292.9L289.1 292.1L290.0 291.8L290.6 291.1L290.8 290.2L290.9 287.0L290.6 285.9L289.9 285.2L285.8 282.9L284.9 282.6L284.0 282.8L283.3 283.3L280.6 286.3L280.1 287.3L280.3 288.4ZM292.3 292.8L293.4 293.4L294.6 293.2L297.7 291.6L298.5 290.9L298.8 289.7L298.4 288.7L296.0 285.3L295.2 284.7L294.2 284.5L293.3 284.8L292.7 285.2L292.0 285.9L291.7 286.9L291.6 291.2L291.8 292.0L292.2 292.7ZM300.1 283.2L299.1 282.9L298.1 283.3L297.4 284.1L297.2 285.1L297.6 286.1L300.0 289.4L300.8 290.1L301.7 290.3L302.5 290.2L303.4 290.0L304.1 289.3L304.4 288.4L304.5 286.9L304.3 285.7L303.5 284.9ZM311.1 283.3L310.4 282.6L309.5 282.3L308.6 282.4L307.9 282.9L305.9 285.0L305.4 286.2L305.3 287.7L305.5 288.6L306.1 289.4L307.0 289.8L311.4 290.3L312.5 290.2L313.4 289.4L313.7 288.4L313.4 287.3ZM327.4 293.8L327.5 292.9L327.2 292.0L326.5 291.3L321.6 288.6L320.4 288.3L319.4 288.8L318.2 289.7L317.6 290.5L317.5 291.5L317.8 292.4L318.5 293.4L319.1 294.0L319.8 294.3L325.2 295.2L326.1 295.1L326.8 294.7L327.4 294.0ZM323.0 285.0L322.3 285.8L322.1 286.8L322.4 287.7L323.1 288.5L327.6 290.9L328.6 291.2L329.6 290.9L330.2 290.5L330.9 289.8L331.1 288.9L331.2 287.2L331.0 286.3L330.5 285.5L328.0 283.5L326.8 283.1L325.6 283.4ZM332.0 288.7L332.3 289.8L333.1 290.5L335.8 291.9L336.9 292.0L338.0 291.5L340.9 289.0L341.4 288.1L341.5 287.2L341.1 286.3L338.6 283.1L337.7 282.4L336.6 282.3L335.7 282.8L332.7 285.6L332.1 287.0ZM345.0 287.3L344.0 288.0L343.6 289.0L343.8 290.2L345.7 293.9L346.4 294.6L347.3 294.9L348.3 294.8L348.7 294.6L349.5 294.0L349.9 293.0L349.7 292.0L348.1 288.3L347.5 287.5L346.7 287.1L345.7 287.1ZM349.7 284.8L348.9 285.4L348.5 286.4L348.6 287.4L351.0 292.9L351.5 293.6L352.2 294.0L352.6 294.1L353.9 294.1L357.7 292.8L358.7 292.1L359.1 291.0L359.1 290.8L358.8 289.7L355.1 284.2L354.5 283.5L353.6 283.3L352.7 283.4ZM360.8 289.5L360.2 290.5L360.2 291.6L360.9 292.6L362.0 293.0L365.2 293.2L366.2 293.0L367.0 292.4L369.9 288.2L370.3 287.1L370.0 286.0L369.1 285.2L367.7 284.7L366.6 284.5L365.6 285.0ZM374.4 292.7L375.0 292.0L375.2 291.1L375.0 290.2L374.4 289.5L373.3 288.6L372.3 288.2L371.2 288.3L370.4 289.0L368.1 292.2L367.8 293.1L367.9 294.1L368.4 294.9L368.5 295.0L369.3 295.4L370.2 295.5L371.0 295.1ZM378.8 290.3L378.2 291.4L378.3 292.7L378.9 293.9L379.5 294.6L380.3 295.0L381.3 294.9L382.1 294.5L384.5 292.2L385.0 291.3L385.1 290.3L384.7 289.4L383.8 288.9L382.7 288.4L381.6 288.3L380.6 288.8ZM388.1 288.5L387.7 289.7L388.1 290.9L389.6 292.6L390.3 293.2L391.2 293.4L392.1 293.1L394.0 292.0L394.9 291.0L395.1 290.5L395.2 289.3L394.6 288.3L393.5 287.8L390.3 287.3L389.2 287.4L388.3 288.1ZM398.6 287.0L397.8 287.2L397.1 287.8L397.1 287.8L396.7 288.4L396.0 290.6L395.9 291.7L396.6 292.7L398.8 294.7L399.6 295.1L400.6 295.1L401.4 294.7L403.6 292.9L404.2 292.2L404.4 291.3L404.2 290.5L402.9 288.0L402.1 287.2L401.0 286.9ZM406.2 286.3L405.2 286.6L404.5 287.3L404.2 288.3L404.5 289.2L405.4 291.1L406.4 292.0L407.5 292.4L409.0 292.4L409.3 292.3L410.2 291.7L410.6 290.8L411.0 288.6L410.9 287.4L410.1 286.5L409.0 286.2ZM411.6 290.1L411.6 291.1L412.1 291.9L413.0 292.4L416.8 293.5L418.1 293.5L418.5 293.3L419.3 292.7L419.7 291.7L419.6 290.6L416.8 284.8L416.2 284.1L415.2 283.7L414.2 283.9L413.4 284.5L412.7 285.5L412.4 286.2ZM422.1 290.9L421.6 291.9L421.7 293.0L422.4 293.8L423.4 294.2L427.5 294.5L428.4 294.3L429.1 293.8L429.5 293.0L430.3 290.5L430.3 289.4L429.7 288.5L428.3 287.1L427.4 286.6L426.3 286.6L425.4 287.2ZM432.4 289.2L431.6 289.7L431.1 290.5L430.2 293.8L430.2 294.8L430.7 295.7L431.8 296.7L432.8 297.3L485.3 306.3L485.6 306.3L799.3 302.0L799.3 302.0L838.2 300.1L839.2 299.8L839.9 299.0L840.1 298.0L839.8 297.1L839.1 296.3L838.2 296.1L449.8 282.8L449.0 282.9ZM259.8 300.0L258.9 300.5L258.4 301.4L258.3 302.4L258.8 303.3L259.6 303.8L260.6 303.9L280.1 300.5L281.0 300.1L281.6 299.3L281.7 298.4L281.7 297.1L281.3 296.0L280.4 295.3L279.2 295.3ZM284.2 293.7L283.3 294.1L282.6 294.8L282.5 295.8L282.6 299.1L282.9 300.0L283.5 300.7L284.4 301.0L287.8 301.4L288.8 301.3L289.6 300.8L292.6 297.4L293.0 296.6L293.1 295.7L293.0 295.2L292.4 294.1L291.7 293.4L291.0 292.9L290.0 292.8ZM295.3 293.8L294.5 294.5L294.2 295.4L294.3 296.4L294.9 297.2L296.9 298.7L298.2 299.1L302.7 298.8L303.7 298.4L304.4 297.6L304.5 296.5L304.1 292.8L303.7 291.9L303.0 291.3L302.0 291.1L301.0 291.1L300.2 291.3ZM307.1 290.7L306.0 290.9L305.1 291.7L304.9 292.9L305.6 298.1L306.2 299.3L306.8 299.8L307.8 300.4L309.0 300.2L309.9 299.4L312.9 294.2L313.1 293.2L312.9 292.3L312.3 291.5L311.4 291.2ZM311.3 298.6L311.0 299.6L311.2 300.5L311.9 301.3L312.8 301.6L313.8 301.5L317.0 300.1L317.9 299.4L318.2 298.3L318.3 295.3L318.0 294.2L317.6 293.6L316.8 292.9L315.8 292.6L314.9 292.9L314.1 293.6ZM322.8 301.8L323.8 302.0L324.8 301.7L325.9 301.1L326.6 300.3L326.9 299.2L326.7 297.8L326.5 297.0L325.9 296.4L325.1 296.0L321.4 295.4L320.3 295.6L319.4 296.3L319.1 297.4L319.0 298.4L319.3 299.5L320.1 300.2ZM330.6 301.7L331.5 301.8L332.3 301.6L336.9 299.2L337.5 298.6L337.9 297.8L337.8 296.9L337.0 294.1L336.6 293.4L335.9 292.9L332.5 291.2L331.5 291.0L330.6 291.3L329.5 291.9L328.7 292.9L327.6 295.5L327.5 296.4L327.7 299.2L328.1 300.2L328.9 300.9ZM338.6 296.7L339.1 297.5L339.9 298.0L340.8 298.1L343.5 297.8L344.8 297.2L344.9 297.0L345.4 295.9L345.2 294.7L343.4 291.2L342.5 290.3L341.3 290.1L340.2 290.6L338.5 292.2L337.9 293.2L337.9 294.3ZM346.1 296.9L345.7 297.7L345.6 298.6L346.0 299.5L346.7 300.5L347.5 301.2L348.5 301.3L349.5 301.0L351.6 299.6L352.2 298.9L352.5 298.1L352.6 297.0L352.4 296.0L351.8 295.2L350.8 294.9L349.8 295.0L347.0 296.2L346.3 296.7ZM360.0 295.4L359.5 294.4L358.6 293.8L357.4 293.8L354.9 294.7L353.9 295.3L353.5 296.4L353.3 298.5L353.6 299.7L355.4 302.9L356.2 303.6L357.3 303.9L358.3 303.5L359.9 302.4L360.6 301.5L360.8 300.4ZM369.2 298.7L369.4 297.9L369.2 297.0L368.7 296.3L366.9 294.6L365.7 294.1L363.1 293.9L362.0 294.2L361.2 295.0L361.0 296.2L361.6 300.5L362.0 301.4L362.8 302.0L364.9 302.9L365.8 303.1L366.8 302.8L367.5 302.0ZM372.4 295.2L371.7 296.0L371.6 297.1L372.0 298.0L372.9 298.7L375.0 299.5L376.2 299.5L377.3 298.9L378.4 297.4L378.8 296.4L378.7 295.3L378.0 294.0L377.3 293.2L376.2 292.9L375.1 293.3ZM388.4 292.6L387.6 292.0L386.5 291.9L385.5 292.4L383.1 294.6L382.6 295.4L382.5 296.4L382.9 297.2L383.6 297.9L385.4 298.8L386.3 299.0L387.3 298.8L388.4 298.2L389.0 297.7L389.4 296.9L389.8 295.6L389.8 294.6L389.4 293.8ZM391.6 294.3L391.0 294.9L390.7 295.6L390.4 296.6L390.4 297.8L391.1 298.7L394.3 301.0L395.1 301.4L396.0 301.3L396.8 300.9L399.0 298.9L399.6 297.5L399.6 297.5L399.4 296.6L398.9 295.9L396.0 293.4L394.9 292.9L393.8 293.2ZM401.5 295.7L400.9 296.5L400.7 297.5L401.0 298.4L401.7 299.0L404.2 300.4L405.0 300.7L405.9 300.6L406.6 300.1L407.3 299.4L407.7 298.7L407.9 297.9L407.9 294.8L407.5 293.7L406.6 293.0L406.6 293.0L405.6 292.8L404.6 293.2ZM412.5 300.1L413.5 300.2L414.4 299.8L415.1 299.0L416.1 296.5L416.2 295.4L415.7 294.4L414.8 293.8L411.4 292.9L410.1 292.9L410.0 293.0L409.0 293.7L408.7 294.9L408.7 297.3L409.1 298.4L410.0 299.1ZM415.6 299.9L415.5 300.9L415.9 301.9L416.7 302.5L417.7 302.6L420.5 302.3L421.5 301.9L422.1 301.2L422.3 300.3L422.2 295.7L422.0 294.9L421.4 294.2L421.4 294.1L420.4 293.7L419.4 293.9L418.6 294.2L417.9 294.6L417.4 295.3ZM425.2 295.2L424.1 295.4L423.4 296.2L423.1 297.2L423.2 301.3L423.4 302.3L424.1 303.0L425.1 303.6L426.1 304.0L427.1 303.8L427.9 303.1L430.6 299.0L430.9 298.1L430.8 297.2L430.3 296.5L429.8 296.0L428.5 295.4ZM264.1 304.2L263.1 304.7L262.5 305.6L262.5 306.8L263.2 307.7L264.3 308.1L279.2 309.4L280.2 309.3L281.0 308.7L281.4 307.8L282.0 303.7L281.9 302.7L281.4 301.9L280.6 301.4L279.7 301.4ZM285.1 301.9L284.1 302.1L283.3 302.7L282.9 303.6L282.3 307.1L282.4 308.2L283.1 309.1L284.1 309.4L288.5 309.8L289.5 309.6L290.2 309.0L290.6 308.1L290.5 307.1L289.2 303.5L288.6 302.7L287.6 302.3ZM295.2 298.5L294.3 298.1L293.3 298.2L292.5 298.7L290.3 301.2L289.9 302.2L290.0 303.2L291.4 307.1L292.0 307.9L292.8 308.3L293.8 308.3L295.0 308.0L296.1 307.3L296.5 306.2L296.9 300.8L296.7 299.9L296.1 299.1ZM297.4 305.6L297.6 306.7L298.4 307.5L299.5 307.7L300.6 307.3L305.1 304.0L305.6 303.3L306.1 302.4L306.3 301.4L306.0 300.4L305.2 299.7L304.2 299.5L299.5 299.9L298.6 300.1L297.9 300.8L297.6 301.7ZM309.8 301.7L308.7 301.5L307.7 301.7L307.0 302.5L306.6 303.4L306.4 304.8L308.1 311.8L308.7 312.8L309.8 313.3L310.2 313.3L311.3 313.1L312.1 312.4L313.9 309.5L314.2 308.6L314.0 307.6L312.1 303.5L311.3 302.6ZM320.0 308.3L321.2 307.9L322.0 306.9L322.8 304.6L322.8 303.7L322.5 302.8L321.9 302.2L319.4 300.8L318.6 300.6L317.7 300.7L314.6 302.0L313.8 302.7L313.4 303.7L313.6 304.7L314.6 307.0L315.4 307.9L316.4 308.2ZM327.0 312.7L327.8 313.0L328.7 312.9L329.5 312.5L330.0 311.7L331.7 307.1L331.8 306.0L331.3 303.8L330.9 303.0L330.2 302.4L328.4 301.6L327.4 301.4L326.5 301.7L324.8 302.7L323.9 303.8L322.6 307.7L322.5 308.6L322.8 309.5L323.0 309.7L323.5 310.2ZM332.4 305.0L332.9 306.0L333.9 306.5L337.8 307.5L338.9 307.5L339.8 306.9L340.3 306.0L340.2 305.0L339.3 301.6L338.6 300.6L337.6 300.2L336.4 300.4L333.3 302.1L332.4 303.0L332.3 304.2ZM341.8 298.8L340.7 299.3L340.1 300.2L340.1 301.4L341.7 307.2L342.3 308.1L343.2 308.6L344.3 308.6L346.2 308.0L346.9 307.5L347.4 306.8L347.5 305.9L347.4 303.4L347.0 302.3L344.9 299.5L344.1 298.8L343.1 298.7ZM348.4 306.2L348.8 307.2L349.7 307.9L352.1 308.8L353.0 308.9L353.9 308.6L354.2 308.3L355.0 307.5L355.5 306.3L355.7 305.4L355.4 304.5L353.8 301.7L353.0 301.0L352.0 300.7L350.9 301.0L349.2 302.2L348.5 303.0L348.3 304.0ZM357.2 305.3L356.5 306.1L356.5 306.2L356.3 307.3L356.7 308.2L357.5 308.9L362.3 311.0L363.5 311.2L364.5 310.7L366.9 308.4L367.5 307.3L367.3 306.1L366.8 305.2L365.8 304.3L362.5 302.8L361.5 302.6L360.5 303.0ZM371.9 299.2L370.9 299.1L370.0 299.4L369.4 300.1L367.7 303.3L367.5 304.2L367.7 305.2L368.4 306.4L368.9 307.0L369.6 307.4L372.2 308.2L373.0 308.3L373.8 308.0L375.0 307.3L375.8 306.6L376.0 305.6L376.0 302.2L375.7 301.0L374.8 300.3ZM381.3 297.7L380.5 297.4L379.6 297.6L378.9 298.2L377.3 300.1L376.9 301.3L376.9 304.9L377.1 305.8L377.7 306.5L378.6 306.8L380.5 307.1L381.8 306.9L383.8 305.7L384.4 305.2L384.7 304.5L385.5 301.5L385.5 300.6L385.1 299.8L384.4 299.3ZM390.5 299.3L389.5 298.9L388.4 299.1L387.5 299.6L386.8 300.2L386.5 300.9L385.7 304.0L385.8 305.2L386.6 306.2L387.3 306.6L388.0 306.9L388.8 306.8L393.6 305.7L394.6 305.1L395.1 304.1L395.0 303.0L394.4 302.1ZM401.3 299.7L400.1 299.5L399.0 300.0L396.8 302.0L396.3 302.8L396.2 303.7L396.4 304.9L396.7 305.8L397.7 307.3L398.4 308.0L399.4 308.2L400.4 307.9L404.2 305.5L405.0 304.8L405.2 303.8L405.2 303.1L404.9 302.1L404.2 301.4ZM406.6 301.3L406.0 302.7L406.1 303.8L406.3 304.8L407.0 305.5L408.4 306.3L409.7 306.6L412.7 306.1L413.7 305.7L414.3 304.7L414.5 303.9L414.5 302.8L414.5 302.6L414.0 301.9L413.3 301.4L409.7 299.9L408.5 299.8L407.5 300.4ZM416.8 303.6L415.7 304.0L415.1 305.0L415.0 305.4L414.9 306.2L415.2 307.0L415.7 307.8L416.4 308.5L417.4 308.8L418.3 308.6L419.1 307.9L420.0 306.5L420.4 305.5L420.1 304.4L419.3 303.6L418.2 303.4ZM421.3 306.2L420.9 307.2L421.1 308.3L421.8 309.1L422.9 309.4L425.0 309.4L425.9 309.2L426.6 308.6L427.0 307.8L426.9 306.8L426.7 306.3L425.9 305.2L424.9 304.5L423.9 304.2L422.9 304.3L422.1 305.0ZM428.1 304.2L427.8 305.2L428.0 306.2L428.8 307.0L429.8 307.3L465.0 307.7L465.9 307.4L466.7 306.8L467.0 305.9L466.8 304.9L466.2 304.1L465.3 303.7L433.5 298.2L432.4 298.4L431.5 299.1ZM278.3 318.6L279.4 318.8L280.3 318.4L281.0 317.6L281.1 316.6L280.8 312.1L280.5 311.2L279.8 310.6L278.9 310.3L266.9 309.2L265.8 309.4L265.0 310.2L264.7 311.2L265.1 312.3L265.9 313.0ZM283.8 310.3L282.7 310.5L281.9 311.3L281.6 312.4L282.0 316.4L282.3 317.4L283.1 318.0L284.1 318.2L287.9 318.0L288.9 317.7L289.9 317.0L290.5 316.3L290.7 315.3L290.6 312.6L290.4 311.7L289.7 311.0L288.8 310.7ZM292.9 309.4L292.1 309.9L291.6 310.6L291.4 311.5L291.6 315.2L291.9 316.2L292.6 316.9L297.3 319.5L298.7 319.6L298.8 319.6L299.7 319.2L300.7 318.3L301.1 317.7L301.8 316.2L302.0 315.3L301.8 314.4L299.3 309.8L298.3 308.9L297.4 308.6L296.2 308.6ZM306.2 307.6L305.8 306.8L305.0 306.2L304.0 306.1L303.1 306.5L301.2 307.9L300.6 308.7L300.4 309.6L300.6 310.5L302.2 313.3L302.8 314.0L303.6 314.3L304.5 314.2L305.8 313.8L306.7 313.3L307.2 312.4L307.2 311.4ZM313.9 317.1L314.6 317.8L315.5 318.1L316.5 317.9L317.3 317.3L320.9 312.3L321.3 311.3L321.1 310.2L320.4 309.4L319.3 309.1L316.3 309.0L315.3 309.3L314.5 310.0L312.8 313.0L312.5 313.9L312.7 314.9ZM321.8 312.5L321.4 313.4L321.5 314.4L322.1 315.2L323.0 315.7L324.0 315.6L324.8 315.1L324.9 315.0L325.4 314.0L325.3 312.9L324.6 312.0L324.6 312.0L323.6 311.6L322.6 311.8L321.8 312.5ZM331.4 310.3L331.3 311.3L331.7 312.2L332.5 312.8L333.5 313.0L334.4 312.6L336.2 311.4L337.0 310.5L337.1 309.4L336.6 308.4L335.6 307.8L334.3 307.5L333.4 307.5L332.5 307.9L332.0 308.7ZM334.4 313.7L333.8 314.4L333.6 315.5L333.9 316.4L334.7 317.1L335.8 317.3L339.7 316.9L340.6 316.6L341.2 315.9L342.0 314.5L342.3 313.7L342.4 312.1L342.2 311.0L341.4 310.2L340.3 309.9L339.3 310.3ZM347.9 315.9L348.9 316.0L349.9 315.6L350.5 314.8L351.7 311.8L351.9 310.7L351.4 309.7L350.6 309.1L348.7 308.5L347.4 308.4L344.7 309.3L343.8 310.0L343.3 311.0L343.2 312.5L343.5 313.7L344.5 314.5ZM358.0 310.0L357.0 309.9L356.1 310.2L355.4 311.0L355.2 311.9L355.5 312.9L357.1 315.7L357.8 316.5L358.8 316.7L359.9 316.5L361.9 315.2L362.7 314.5L362.9 313.4L362.5 312.4L361.7 311.7ZM366.9 318.3L367.8 318.9L368.9 319.0L369.9 318.4L372.7 315.6L373.2 314.9L373.3 314.0L372.9 310.5L372.4 309.5L371.5 308.9L369.7 308.3L368.6 308.3L367.7 308.8L364.6 311.7L364.0 313.1L364.0 313.9L364.4 315.2ZM381.3 309.3L380.7 308.3L379.7 307.9L377.2 307.5L375.9 307.7L374.6 308.5L373.9 309.3L373.7 310.4L374.1 313.8L374.4 314.7L375.1 315.3L375.6 315.6L376.3 315.9L377.1 315.8L380.8 314.8L381.7 314.3L382.2 313.4L382.2 312.3ZM385.9 306.7L384.9 306.4L383.8 306.7L383.1 307.1L382.5 307.7L382.1 308.5L382.2 309.4L383.4 313.7L384.1 314.7L385.0 315.4L385.8 315.8L386.7 315.8L387.8 315.5L388.8 315.0L389.3 314.1L389.3 313.0L387.8 308.5L387.0 307.4ZM390.6 307.3L389.6 307.8L389.1 308.8L389.1 309.8L390.2 313.1L390.7 314.0L391.5 314.4L392.5 314.5L393.3 314.1L397.0 311.1L397.6 310.3L397.7 309.4L397.4 308.5L396.6 307.2L395.7 306.4L394.5 306.4ZM400.8 308.6L400.0 309.5L399.9 310.7L400.4 311.7L403.8 315.1L404.8 315.7L406.0 315.6L406.3 315.4L407.1 314.8L407.5 313.8L408.3 308.7L408.1 307.5L407.3 306.7L406.7 306.3L405.6 306.0L404.6 306.3ZM414.8 307.9L413.9 307.1L412.8 307.0L410.8 307.3L409.7 307.9L409.1 309.0L408.5 313.0L408.6 314.0L409.2 314.8L410.2 315.2L413.3 315.7L414.3 315.6L415.2 315.0L415.6 314.1L416.1 310.9L415.8 309.6ZM418.8 310.1L417.9 310.3L417.2 310.9L416.8 311.8L416.6 313.1L416.7 314.1L417.2 314.9L418.1 315.3L421.5 316.2L422.3 316.2L423.0 315.9L425.5 314.3L426.2 313.5L426.4 312.5L426.3 312.1L426.0 311.2L425.3 310.5L424.4 310.2ZM453.8 312.3L454.6 311.9L455.2 311.1L455.3 310.2L455.0 309.3L454.3 308.6L453.3 308.4L429.2 308.1L428.1 308.4L427.3 309.3L427.3 309.5L427.1 310.5L427.2 312.8L427.5 313.6L428.0 314.2L431.0 316.7L431.8 317.1L432.7 317.1ZM282.8 319.1L281.4 319.8L281.3 319.8L280.8 320.8L280.6 321.9L280.8 323.2L281.8 324.1L283.7 325.0L284.6 325.2L285.6 324.9L286.3 324.2L287.6 322.0L287.8 321.0L287.6 320.0L286.8 319.2L285.7 319.0ZM291.2 325.6L291.9 326.5L293.0 326.8L294.1 326.5L294.9 325.7L296.5 322.2L296.7 321.2L296.4 320.2L295.7 319.5L292.3 317.7L291.3 317.5L290.2 317.8L289.9 318.0L289.3 318.8L289.1 319.8L289.1 320.5L289.3 321.2ZM302.3 319.3L301.7 319.2L301.1 319.3L300.6 319.8L300.5 320.4L300.6 321.0L301.7 322.8L302.2 323.2L302.7 323.4L305.0 323.4L305.6 323.3L306.1 322.9L306.3 322.3L306.1 321.6L305.6 321.2ZM312.7 321.0L313.5 320.3L313.8 319.3L313.6 318.2L311.9 315.2L311.3 314.5L310.4 314.2L308.6 314.0L307.7 314.1L303.9 315.3L303.2 315.7L302.7 316.4L302.7 316.4L302.5 317.4L302.8 318.3L303.5 319.0L308.7 322.0L309.6 322.2L310.5 322.0ZM317.8 319.6L316.8 319.8L316.1 320.5L315.8 321.4L316.0 322.4L318.1 327.1L318.7 327.9L318.8 328.0L319.6 328.3L320.5 328.3L321.3 327.9L324.1 325.5L324.7 324.6L324.8 323.5L324.3 322.6L321.9 320.1L321.3 319.7L320.5 319.5ZM328.4 314.0L327.3 314.0L326.5 314.6L323.4 317.7L322.9 318.6L322.9 319.6L323.4 320.5L325.7 322.9L326.6 323.4L327.6 323.4L329.5 322.9L330.4 322.4L330.6 322.3L331.2 321.3L331.6 318.7L331.5 317.5L330.8 316.0L330.5 315.5L329.9 314.8L328.8 314.1ZM332.1 320.6L332.3 321.7L333.0 322.6L334.7 323.7L335.5 324.0L336.4 323.9L340.7 322.5L341.6 321.9L342.0 320.8L341.8 319.7L341.3 318.8L340.5 318.0L339.4 317.8L334.0 318.3L332.9 318.8L332.3 319.9ZM344.5 315.4L343.5 315.3L342.6 315.7L342.0 316.4L341.7 317.3L342.0 318.3L343.7 321.3L344.5 322.1L345.6 322.3L346.6 321.9L348.7 320.4L349.4 319.6L349.5 318.5L349.1 317.5L348.2 316.9ZM350.6 318.2L351.0 319.2L351.8 319.8L354.4 320.8L355.5 320.9L356.4 320.5L357.0 319.6L357.2 319.0L357.3 318.1L357.1 317.3L355.2 314.1L354.4 313.3L353.3 313.1L352.3 313.5L351.6 314.3L350.6 316.7L350.5 317.7ZM357.7 320.0L357.7 321.1L358.2 322.0L359.1 322.6L361.8 323.4L363.0 323.4L363.9 322.8L365.7 320.8L366.1 319.9L366.1 319.0L365.7 318.2L364.5 316.7L363.7 316.1L362.8 315.9L361.9 316.2L359.0 318.0L358.1 319.0ZM375.6 323.8L376.7 323.7L377.5 323.1L377.9 322.1L377.8 321.0L376.2 317.4L375.4 316.5L375.2 316.4L374.4 316.1L373.5 316.2L372.8 316.7L371.0 318.5L370.5 319.2L370.5 320.1L370.8 321.0L371.7 322.5L372.3 323.1L373.1 323.4ZM379.0 321.8L379.6 322.5L380.4 322.9L381.3 322.9L381.8 322.8L382.6 322.4L383.2 321.6L384.6 318.0L384.7 316.7L384.0 315.7L384.0 315.7L383.1 315.3L382.2 315.3L379.0 316.2L378.1 316.8L377.6 317.8L377.8 318.9ZM384.1 321.4L384.1 322.7L384.8 323.7L386.7 325.2L387.8 325.6L388.9 325.3L392.5 323.2L393.2 322.5L393.5 321.6L393.4 320.7L392.1 317.2L391.5 316.4L390.7 316.0L389.7 316.0L387.0 316.6L386.1 317.0L385.5 317.8ZM397.8 323.6L398.8 323.8L399.7 323.5L402.2 322.0L403.1 320.8L403.9 317.8L403.9 316.7L403.4 315.9L399.8 312.3L398.9 311.8L398.0 311.7L397.1 312.1L393.6 315.0L392.9 316.0L393.0 317.2L394.6 321.4L395.5 322.5ZM404.1 320.3L404.2 321.5L405.0 322.4L406.6 323.4L407.5 323.7L408.5 323.6L413.1 321.4L414.0 320.6L414.3 319.5L414.2 318.4L414.0 317.5L413.4 316.8L412.5 316.5L408.3 315.8L407.3 315.9L405.9 316.5L405.2 317.0L404.7 317.8ZM417.5 316.1L416.6 316.1L415.8 316.5L415.3 317.2L415.1 318.1L415.1 320.4L415.5 321.4L417.4 324.3L418.1 325.0L419.0 325.2L420.5 325.2L421.5 325.0L422.2 324.4L422.4 324.2L422.7 322.7L422.2 318.5L421.7 317.4L420.7 316.8ZM423.3 320.8L423.8 321.8L424.7 322.5L425.8 322.5L428.8 321.7L429.5 321.3L430.1 320.5L430.6 319.3L430.7 318.1L430.0 317.0L428.0 315.3L426.8 314.9L425.6 315.2L423.9 316.3L423.2 317.2L423.0 318.3ZM285.4 330.4L286.2 329.5L286.4 328.3L285.9 327.3L285.5 326.9L284.9 326.5L281.4 324.8L280.1 324.7L279.0 325.3L277.7 326.9L277.3 327.7L277.3 328.7L277.7 329.5L279.7 331.9L280.4 332.4L281.4 332.6L282.3 332.3ZM289.7 329.0L290.4 329.0L290.9 328.6L291.1 328.0L291.0 327.4L289.6 324.0L289.2 323.5L288.6 323.3L287.9 323.4L287.4 323.8L286.5 325.5L286.3 326.2L286.6 326.9L288.1 328.5L288.8 328.8ZM300.7 322.7L299.9 321.9L298.9 321.7L297.9 322.0L297.2 322.8L296.1 325.1L295.9 326.0L296.1 326.9L296.7 327.6L300.1 330.1L301.1 330.4L302.1 330.3L302.9 329.6L303.3 328.6L303.1 327.6L301.5 324.1L301.4 323.9ZM304.5 328.7L305.0 329.2L305.7 329.4L306.3 329.2L306.7 328.6L307.8 326.0L307.9 325.4L307.7 324.9L307.3 324.5L306.7 324.4L304.4 324.3L303.8 324.4L303.4 324.8L303.2 325.4L303.3 326.0ZM308.2 327.2L308.1 328.3L308.6 329.3L309.6 329.9L310.7 329.9L315.3 328.3L316.2 327.7L316.6 326.7L316.5 325.6L315.3 322.9L314.7 322.1L313.7 321.8L312.6 322.0L310.5 323.0L309.6 323.8L309.5 324.1L309.4 324.3ZM321.7 328.7L321.1 329.7L321.1 330.9L321.8 331.8L322.9 332.6L324.1 332.9L325.2 332.6L329.4 329.6L330.0 328.8L330.2 327.8L330.1 326.1L329.7 325.0L328.7 324.3L327.6 324.3L327.0 324.4L326.2 324.8ZM334.0 324.3L332.9 323.9L331.9 324.2L331.1 325.0L330.9 326.1L331.1 328.4L331.5 329.4L334.1 332.9L334.9 333.6L335.8 333.7L336.7 333.5L337.8 332.8L338.5 332.0L338.8 331.0L338.4 330.0L335.4 325.3L334.8 324.8ZM339.5 330.0L340.4 330.8L341.6 330.8L343.4 330.4L344.6 329.5L344.9 329.0L345.1 327.9L344.9 324.7L344.5 323.5L343.5 322.9L342.3 322.9L338.6 324.1L337.8 324.6L337.3 325.3L337.2 326.3L337.5 327.1ZM351.4 320.6L350.4 320.4L349.5 320.8L346.6 323.0L345.9 323.8L345.8 324.8L345.9 326.1L346.2 327.1L347.0 327.8L348.0 328.0L353.0 327.7L354.0 327.3L354.7 326.4L355.5 324.3L355.6 323.2L355.2 322.3L354.4 321.7ZM358.7 323.3L357.7 323.3L356.9 323.7L356.3 324.6L355.3 327.1L355.2 327.9L355.4 328.7L357.5 332.5L358.2 333.3L359.3 333.5L360.3 333.2L363.5 331.1L364.1 330.5L364.4 329.7L364.3 328.8L363.2 325.5L362.7 324.7L361.9 324.3ZM365.2 328.7L365.9 329.6L367.0 330.0L368.1 329.8L368.9 328.9L371.0 324.7L371.2 323.7L370.9 322.7L369.9 321.1L369.2 320.5L368.3 320.2L367.4 320.4L366.7 320.9L364.4 323.4L364.0 324.4L364.1 325.4ZM369.7 329.1L369.5 330.2L370.0 331.2L370.9 331.9L372.0 331.9L375.7 331.0L376.8 330.3L377.1 329.9L377.5 328.9L377.8 327.0L377.7 326.0L377.1 325.2L376.2 324.8L373.7 324.3L372.4 324.5L371.5 325.4ZM380.4 324.0L379.3 324.6L378.8 325.7L378.5 327.7L378.6 328.6L379.1 329.4L379.9 329.9L384.7 331.6L385.7 331.6L386.6 331.3L387.2 330.6L387.4 329.6L387.4 327.7L387.1 326.8L386.6 326.2L383.7 324.0L383.0 323.6L382.1 323.6ZM389.2 326.2L388.4 326.9L388.2 327.9L388.2 330.9L388.4 331.7L389.0 332.4L389.8 332.8L393.7 333.7L394.5 333.7L395.3 333.4L397.6 331.7L398.2 331.0L398.4 330.1L398.4 326.1L398.1 325.0L397.3 324.3L395.5 323.4L394.5 323.2L393.6 323.5ZM407.3 332.1L408.2 331.9L408.9 331.2L409.2 330.3L409.0 329.3L407.4 325.4L406.6 324.5L404.3 323.0L403.2 322.7L402.2 323.0L400.2 324.2L399.5 325.0L399.2 326.0L399.3 329.9L399.5 330.9L400.3 331.6L401.2 332.1L402.2 332.3ZM409.9 329.1L410.4 329.8L411.2 330.3L412.2 330.3L413.0 329.8L415.9 327.3L416.1 327.0L416.4 326.7L416.8 325.6L416.4 324.4L415.5 323.1L414.9 322.4L414.0 322.2L413.0 322.4L409.8 323.9L409.0 324.5L408.6 325.5L408.8 326.5ZM419.5 326.1L418.5 326.3L417.7 327.0L417.5 328.1L417.7 329.1L419.4 332.0L420.1 332.6L421.0 332.9L421.9 332.8L422.7 332.2L423.1 331.4L423.4 330.1L423.1 328.6L422.1 327.0L421.4 326.3L420.5 326.1ZM428.2 329.0L429.4 328.6L430.4 328.0L431.0 327.3L431.3 326.4L431.1 325.5L430.4 323.9L429.9 323.1L429.0 322.7L428.1 322.8L424.2 323.8L423.1 324.6L423.1 324.6L422.7 325.7L423.0 326.8L423.7 327.9L424.4 328.6L425.3 328.8ZM283.3 332.6L282.7 333.3L282.4 334.2L282.5 335.1L283.1 335.9L285.0 337.5L285.9 337.9L286.9 337.8L287.8 337.3L290.5 334.5L290.9 333.6L291.0 332.7L290.7 331.3L290.1 330.3L289.1 329.8L289.0 329.7L287.6 330.0ZM296.1 336.0L297.2 336.2L298.2 335.9L298.9 335.2L300.0 333.1L300.2 332.2L300.0 331.3L299.4 330.6L295.8 328.0L294.7 327.6L293.7 327.9L292.5 328.5L292.0 328.9L291.9 329.0L291.5 329.8L291.4 330.7L291.8 332.7L292.2 333.5L292.8 334.0ZM299.3 336.2L299.1 337.2L299.4 338.3L300.2 339.0L301.8 339.7L302.5 339.9L303.3 339.8L307.6 338.2L308.4 337.7L308.9 336.7L308.8 335.7L307.7 332.1L307.0 331.2L306.9 331.0L305.8 330.5L305.3 330.5L304.2 330.6L302.3 331.5L301.3 332.4ZM311.4 338.3L312.2 338.6L313.1 338.5L314.1 338.2L315.0 337.5L319.4 332.1L319.9 331.1L319.7 330.1L319.1 329.2L318.7 329.0L317.8 328.6L316.8 328.6L310.2 330.9L309.4 331.5L308.9 332.4L309.0 333.4L310.1 336.9L310.9 337.9ZM319.5 341.0L320.7 341.3L324.4 341.1L325.4 340.8L326.1 340.0L326.3 339.5L326.5 338.5L326.1 337.6L323.9 334.5L323.5 334.0L322.1 333.1L321.2 332.7L320.2 332.8L319.4 333.4L316.9 336.6L316.5 337.6L316.6 338.7L317.3 339.5ZM326.7 336.9L327.6 337.6L328.7 337.8L332.5 337.0L333.4 336.6L334.0 335.8L334.1 334.8L333.8 333.9L331.8 331.3L331.0 330.6L330.0 330.5L329.0 330.8L326.3 332.8L325.6 333.6L325.4 334.7L325.8 335.6ZM336.4 341.2L337.3 342.1L338.5 342.2L340.0 341.9L341.0 341.4L341.6 340.4L341.5 339.3L340.0 335.2L339.3 334.3L338.2 333.9L337.1 334.2L335.8 335.0L335.1 335.7L334.8 336.3L334.5 337.3L334.8 338.3ZM341.9 331.6L340.9 332.2L340.4 333.2L340.5 334.3L342.8 340.4L343.3 341.1L344.2 341.6L345.1 341.6L346.0 341.2L347.8 339.7L348.3 338.9L348.4 338.0L348.1 337.1L345.0 332.2L344.1 331.5L342.9 331.4ZM347.4 328.9L346.4 329.2L345.8 330.0L345.5 331.0L345.9 332.0L348.9 336.7L349.6 337.3L350.5 337.6L351.4 337.4L355.7 335.4L356.5 334.7L356.8 333.7L356.6 332.6L354.9 329.5L354.1 328.7L353.0 328.5ZM369.1 338.8L369.9 338.0L370.2 336.9L370.0 333.8L369.8 333.1L369.3 332.4L368.5 331.8L367.6 331.4L366.2 331.1L364.7 331.3L360.7 334.0L360.0 334.7L359.7 335.6L359.9 336.5L361.8 340.3L362.5 341.1L363.4 341.4L364.5 341.2ZM372.5 339.5L373.3 339.9L374.3 340.0L375.1 339.6L377.5 337.7L378.1 337.0L378.3 336.1L378.1 335.3L377.1 333.2L376.5 332.5L375.7 332.1L374.8 332.1L372.4 332.7L371.6 333.1L371.0 333.9L370.9 334.8L371.1 337.4L371.3 338.2L371.7 338.8ZM380.8 331.1L379.6 331.0L378.6 331.6L378.2 332.7L378.3 333.8L379.2 335.7L379.7 336.3L380.5 336.7L382.8 337.4L383.6 337.4L384.5 337.1L385.0 336.5L385.7 335.3L386.0 334.2L385.6 333.1L384.6 332.4ZM385.4 337.5L385.2 338.5L385.5 339.6L386.4 340.3L387.3 340.7L388.4 340.8L389.4 340.3L392.5 337.5L393.0 336.6L393.1 335.5L392.5 334.6L391.6 334.1L389.3 333.5L388.1 333.6L387.2 334.5ZM396.0 333.9L395.3 334.8L395.2 336.0L396.7 341.4L397.3 342.4L398.3 342.9L399.5 342.7L401.3 341.8L402.0 341.3L402.4 340.5L402.4 339.6L401.3 334.0L401.0 333.1L400.3 332.6L400.0 332.4L398.9 332.2L397.9 332.5ZM411.0 334.2L410.2 333.2L409.0 332.9L404.4 333.1L403.3 333.4L402.6 334.3L402.5 335.4L403.3 339.7L403.8 340.7L404.9 341.3L405.7 341.4L406.8 341.3L407.7 340.6L410.8 336.2L411.2 335.3L411.0 334.3ZM412.3 331.6L411.7 332.6L411.7 333.8L412.0 334.4L412.9 335.4L417.6 337.9L418.6 338.1L419.6 337.8L420.3 337.0L420.6 336.1L420.3 335.1L417.4 330.2L416.6 329.4L415.4 329.2L414.4 329.7ZM423.0 335.8L423.1 336.8L423.6 337.6L424.4 338.1L425.4 338.1L428.1 337.6L429.0 337.1L429.6 336.2L429.7 335.2L428.9 331.4L428.6 330.6L427.9 330.0L427.1 329.8L426.0 329.7L425.1 329.9L424.4 330.5L424.0 331.3ZM446.5 336.1L447.3 335.5L447.8 334.7L447.8 333.7L447.3 332.8L446.5 332.2L433.3 328.0L432.4 327.9L431.5 328.2L430.5 328.9L429.8 329.8L429.7 330.9L430.6 335.8L431.2 336.8L432.2 337.4L438.0 338.5L438.9 338.4ZM282.5 336.4L281.5 336.0L280.5 336.1L279.6 336.7L275.0 342.3L274.6 343.2L274.7 344.1L275.1 344.9L275.9 345.5L280.1 347.0L281.6 347.0L285.3 345.4L286.2 344.6L286.5 343.4L286.2 340.3L286.0 339.5L285.5 338.9ZM296.9 339.9L297.2 338.9L297.0 337.8L296.2 337.0L293.1 335.2L292.2 334.9L291.4 335.0L290.6 335.5L287.6 338.7L287.1 339.5L287.0 340.3L287.3 342.7L287.6 343.6L288.2 344.2L289.1 344.5L292.1 344.7L293.1 344.6L293.9 343.9ZM302.2 347.7L303.0 346.8L303.1 345.6L302.3 341.8L302.0 341.0L301.2 340.4L300.0 339.8L299.1 339.6L298.2 339.8L297.5 340.4L294.8 344.0L294.5 345.2L294.9 346.4L296.8 348.9L297.5 349.5L298.5 349.7L299.4 349.4ZM308.6 348.2L309.8 348.1L310.8 347.4L311.1 347.0L311.4 346.0L311.7 340.6L311.4 339.6L310.7 338.8L310.7 338.8L309.9 338.5L309.0 338.6L304.6 340.2L303.8 340.7L303.4 341.5L303.3 342.5L304.0 345.7L304.4 346.6L305.4 347.2ZM312.3 344.4L312.6 345.4L313.2 346.1L314.2 346.5L316.4 346.7L317.3 346.5L318.0 346.0L318.5 345.3L319.0 343.4L319.0 342.1L318.2 341.1L315.6 339.4L314.8 339.0L313.9 339.1L313.9 339.1L312.9 339.8L312.5 340.9ZM324.5 345.0L324.8 344.0L324.5 343.0L323.7 342.3L322.7 342.1L321.7 342.1L320.5 342.5L319.9 343.5L319.2 345.8L319.2 347.0L319.8 347.9L320.1 348.2L321.2 348.6L322.3 348.4L323.1 347.6ZM326.6 340.9L326.5 342.2L327.1 343.2L332.2 347.8L333.3 348.3L334.4 348.1L334.5 348.1L335.2 347.5L335.6 346.8L336.3 343.8L336.1 342.3L334.2 339.0L333.3 338.1L332.1 338.0L328.6 338.6L327.8 339.0L327.2 339.8ZM336.5 346.2L336.7 347.5L337.5 348.5L340.3 350.0L341.1 350.2L342.0 350.1L342.4 349.9L343.2 349.4L343.7 348.6L344.7 344.8L344.7 343.8L344.2 342.9L343.4 342.4L342.4 342.3L338.5 343.1L337.5 343.6L336.9 344.6ZM347.0 341.4L346.4 342.3L346.4 343.5L347.0 344.4L349.2 346.3L350.0 346.8L350.9 346.8L351.8 346.4L351.9 346.3L352.5 345.5L352.7 344.6L352.4 343.7L350.8 341.2L350.0 340.4L348.9 340.2L347.8 340.7ZM352.4 337.9L351.6 338.6L351.3 339.6L351.5 340.7L353.8 344.4L354.8 345.2L358.1 346.5L359.4 346.6L360.4 346.0L361.4 344.7L361.9 343.8L361.9 343.4L361.8 342.2L359.2 336.9L358.5 336.1L357.5 335.7L356.5 335.9ZM365.2 341.8L364.4 342.5L364.1 343.6L364.4 344.7L365.3 345.4L368.2 346.6L369.2 346.8L372.0 346.5L373.0 346.1L373.7 345.2L373.9 344.5L374.0 343.2L373.6 341.9L373.0 341.0L371.7 339.9L370.6 339.4L369.4 339.6ZM376.1 339.8L375.5 340.6L375.4 341.6L375.7 342.5L376.4 343.2L377.4 343.4L381.4 343.4L382.4 343.1L383.2 342.3L383.8 341.0L384.0 339.9L383.5 338.8L382.5 338.2L380.4 337.6L379.4 337.5L378.6 337.9ZM383.6 343.2L383.5 344.5L384.4 348.3L384.9 349.2L385.8 349.8L386.9 349.7L391.2 348.4L392.1 347.8L392.6 346.9L392.5 345.8L391.9 344.9L388.5 342.2L388.1 341.9L386.7 341.3L385.7 341.2L384.8 341.5L384.1 342.3ZM393.0 344.7L393.9 345.1L394.9 345.1L395.7 344.5L396.2 343.6L396.2 342.7L395.4 339.9L394.9 339.0L394.0 338.5L393.0 338.5L392.1 338.9L390.9 340.1L390.3 341.1L390.3 342.2L391.0 343.1ZM399.3 343.7L398.5 344.4L398.1 345.5L398.4 346.5L399.2 347.3L401.4 348.4L402.8 348.5L406.6 347.5L407.5 346.9L408.0 345.9L407.9 344.8L407.3 343.4L406.7 342.6L405.8 342.3L403.9 341.9L402.7 342.1ZM417.3 340.6L417.4 339.6L417.0 338.8L416.3 338.1L413.6 336.7L412.7 336.5L411.7 336.7L411.0 337.3L408.3 341.2L407.9 342.1L408.1 343.2L409.6 346.6L410.1 347.2L410.4 347.5L411.5 348.0L412.6 347.9L414.3 347.1L415.0 346.6L415.4 345.9ZM422.8 338.7L421.4 338.5L419.8 338.9L418.9 339.3L418.3 340.1L416.6 345.1L416.5 346.1L416.9 347.0L417.6 347.6L418.9 348.2L419.9 348.4L420.8 348.1L421.5 347.3L423.9 342.7L424.1 341.4L423.8 340.0L423.4 339.3L422.8 338.7ZM435.8 341.8L436.2 340.9L436.1 339.9L435.5 339.1L434.6 338.7L430.9 338.0L430.1 338.0L426.4 338.8L425.5 339.3L424.9 340.1L424.9 341.2L425.0 341.5L425.4 342.3L429.0 346.7L430.0 347.4L431.2 347.4L432.1 346.7ZM280.3 353.0L280.7 351.7L280.6 349.3L280.2 348.3L279.3 347.6L272.9 345.2L272.1 345.1L198.3 348.1L197.4 348.4L196.7 349.1L196.4 350.1L196.6 351.0L197.3 351.8L198.2 352.1L273.9 359.9L274.9 359.8L275.7 359.2ZM284.6 355.4L285.6 355.9L286.6 355.9L287.5 355.3L288.2 354.6L288.7 353.7L288.6 352.6L286.9 347.9L286.3 347.0L285.3 346.6L284.2 346.8L282.6 347.4L281.7 348.2L281.4 349.4L281.6 351.6L282.1 352.9ZM289.9 345.4L288.9 345.6L288.1 346.2L287.8 347.1L287.9 348.1L289.4 352.3L290.0 353.2L291.0 353.6L292.4 353.7L293.5 353.5L295.5 352.6L296.3 351.8L296.6 350.6L296.2 349.5L293.8 346.4L293.1 345.8L292.3 345.6ZM299.5 350.4L298.8 351.1L298.6 352.1L298.8 353.0L300.1 355.3L301.0 356.2L302.3 356.3L307.0 355.3L308.0 354.7L308.5 353.6L308.9 350.9L308.8 350.0L308.3 349.2L307.5 348.7L304.7 347.9L303.9 347.8L303.1 348.1ZM309.3 353.8L309.5 355.0L310.3 355.8L311.4 356.1L314.0 356.0L315.1 355.6L315.8 354.6L315.8 353.5L315.2 352.5L313.0 350.4L312.0 350.0L311.0 350.1L310.1 350.7L309.7 351.6ZM316.3 347.5L315.4 347.7L314.6 348.3L314.2 349.2L314.3 350.2L314.8 351.0L318.1 353.9L318.8 354.3L319.7 354.4L320.5 354.1L321.1 353.7L321.9 352.8L322.0 351.6L321.9 351.3L321.2 350.1L318.6 348.0L317.5 347.6ZM331.8 350.8L332.1 349.9L331.9 349.0L331.4 348.3L328.1 345.3L327.1 344.8L325.9 345.0L325.0 345.8L322.9 349.8L322.7 351.1L322.8 351.7L323.3 352.6L324.1 353.2L326.8 354.2L328.0 354.3L329.2 354.0L329.9 353.6L330.5 353.0ZM334.0 349.3L333.2 350.1L331.6 352.7L331.3 353.6L331.5 354.4L331.9 355.2L336.0 359.2L336.9 359.7L337.8 359.8L338.7 359.4L339.5 358.7L340.0 358.1L340.2 357.3L340.6 352.4L340.3 351.3L339.5 350.5L336.6 348.9L335.7 348.7L334.8 348.9ZM346.7 350.7L347.7 350.9L348.7 350.5L349.3 349.6L349.4 349.4L349.5 348.2L348.9 347.2L348.1 346.5L347.2 346.0L346.2 346.1L345.3 346.6L344.8 347.5L344.7 348.0L344.7 348.9L345.1 349.8L345.8 350.3ZM350.1 353.4L350.8 354.1L351.8 354.4L353.6 354.3L354.4 354.1L355.1 353.5L357.7 350.0L358.1 348.9L357.8 347.7L356.9 346.9L355.0 346.2L354.0 346.1L353.0 346.5L351.2 347.9L350.6 348.7L349.6 351.1L349.5 352.0L349.8 352.9ZM360.9 346.6L360.5 347.5L360.5 348.4L361.0 349.2L363.8 352.5L364.8 353.1L365.9 353.2L366.8 352.6L367.3 351.6L367.8 349.1L367.8 348.2L367.4 347.4L366.6 346.9L363.7 345.6L362.4 345.5L361.3 346.1ZM373.9 348.7L373.1 347.7L371.8 347.4L370.4 347.5L369.3 348.0L368.6 349.1L368.0 352.6L368.1 353.8L368.8 354.6L369.9 355.0L373.4 355.1L374.4 354.8L375.1 354.2L375.5 353.3L375.3 352.3ZM374.3 346.1L374.3 347.5L376.3 352.5L377.0 353.4L378.0 353.8L380.8 354.1L381.9 353.9L382.7 353.1L383.7 351.5L383.9 350.8L383.9 350.0L382.9 345.7L382.5 344.9L381.8 344.4L380.9 344.2L376.3 344.3L375.1 344.6L374.4 345.6ZM385.9 350.9L385.1 351.5L384.6 352.3L384.5 353.3L385.0 354.2L385.8 354.7L390.8 356.5L391.9 356.6L392.9 356.0L393.4 355.0L394.1 351.5L394.1 350.4L393.5 349.6L392.6 349.1L391.6 349.2ZM399.9 348.6L398.9 348.4L397.8 348.8L397.2 349.7L397.1 350.8L397.6 351.8L398.8 353.0L399.7 353.5L400.8 353.5L401.7 353.0L402.2 352.0L402.1 351.0L401.9 350.3L401.5 349.6L400.9 349.1ZM403.8 353.6L404.2 354.4L404.9 354.9L406.6 355.7L407.6 355.8L408.6 355.5L409.5 354.9L410.1 354.2L410.4 353.4L410.8 350.1L410.7 349.2L410.1 348.4L410.1 348.4L409.3 347.9L408.3 347.9L404.6 348.9L403.6 349.5L403.1 350.4L403.2 351.5ZM412.8 348.7L412.0 349.4L411.6 350.3L411.3 353.0L411.5 354.2L412.3 355.0L415.1 356.7L416.2 356.9L417.2 356.6L421.0 354.1L421.7 353.3L421.8 352.3L421.5 351.3L420.9 350.4L420.1 349.7L416.3 347.9L415.4 347.7L414.6 347.9ZM423.1 352.1L424.2 352.9L426.9 353.6L428.2 353.5L428.6 353.3L429.5 352.7L429.9 351.7L430.0 350.4L430.0 349.6L429.6 348.8L426.7 345.3L425.9 344.7L424.9 344.5L424.0 344.9L423.4 345.6L421.9 348.5L421.7 349.5L422.0 350.6ZM284.5 360.3L285.3 359.7L285.7 358.8L285.6 357.9L285.1 357.1L282.9 354.8L281.9 354.3L280.8 354.3L279.9 355.0L277.0 358.8L276.6 359.7L276.8 360.8L277.4 361.6L278.2 362.1L279.2 362.5L280.2 362.3ZM287.6 356.5L287.1 357.4L287.1 358.4L287.6 359.3L288.4 359.8L289.4 359.9L290.3 359.7L291.4 359.1L291.9 358.1L292.1 357.1L292.0 356.0L291.5 355.2L290.6 354.7L289.5 354.8L288.7 355.3ZM294.6 360.5L295.5 360.7L296.4 360.4L298.9 359.1L299.6 358.3L299.9 357.3L299.7 356.3L298.5 354.1L297.8 353.4L296.8 353.1L295.8 353.3L294.3 354.0L293.6 354.6L293.3 355.5L292.8 358.0L292.8 358.9L293.2 359.7L293.9 360.2ZM302.7 357.1L301.8 357.5L301.3 358.2L301.1 359.1L301.3 360.0L302.7 362.5L303.3 363.2L304.3 363.5L305.2 363.3L306.0 362.7L308.6 359.4L309.0 358.5L308.9 357.5L308.4 356.7L307.5 356.2L306.6 356.2ZM313.1 356.8L312.2 357.2L311.5 357.9L311.3 358.9L311.6 359.9L312.8 361.8L313.7 362.6L314.8 362.7L315.9 362.2L317.6 360.6L318.2 359.3L318.2 358.8L318.0 357.7L317.2 356.9L316.1 356.7ZM320.0 355.4L319.4 356.1L319.2 357.0L319.0 359.0L319.2 359.9L319.8 360.7L322.7 362.9L323.7 363.2L324.7 363.1L325.5 362.5L325.9 361.6L326.6 356.7L326.6 355.8L326.1 355.1L325.4 354.6L323.7 354.0L322.8 353.8L321.9 354.2ZM331.0 355.4L330.1 354.9L329.1 354.9L329.0 354.9L328.0 355.5L327.5 356.5L326.7 361.9L326.8 362.8L327.3 363.6L328.1 364.1L329.0 364.1L334.2 363.3L335.4 362.7L335.4 362.6L335.9 361.7L335.9 360.6L335.4 359.8ZM349.2 355.9L349.6 354.8L349.3 353.7L348.8 352.9L347.9 352.2L344.5 350.7L343.0 350.6L342.7 350.7L341.8 351.4L341.4 352.5L341.1 356.0L341.3 357.0L342.0 357.8L343.0 358.1L346.3 358.4L347.3 358.2L348.1 357.5ZM351.7 355.2L350.8 355.4L350.1 356.1L348.7 358.1L348.4 359.0L348.4 359.9L349.0 361.8L349.5 362.6L350.3 363.1L351.2 363.2L352.1 362.8L355.6 360.3L356.2 359.5L356.4 358.5L356.1 357.6L355.1 356.1L354.4 355.4L353.4 355.2ZM356.1 353.6L355.7 354.8L356.0 355.9L357.8 358.6L358.4 359.2L360.5 360.4L361.5 360.7L362.6 360.3L362.8 360.2L363.5 359.5L364.8 357.0L365.1 355.8L364.6 354.7L361.2 350.8L360.2 350.2L359.1 350.2L358.1 350.9ZM367.6 355.8L366.6 356.1L365.8 356.8L365.1 358.2L364.9 359.2L365.2 360.2L366.0 361.0L369.2 362.6L370.1 362.8L371.1 362.6L371.8 361.9L373.1 360.0L373.4 359.2L373.5 358.2L373.4 357.1L372.7 356.2L371.6 355.9ZM381.9 356.4L381.2 355.3L380.1 354.8L377.4 354.5L376.0 354.9L375.5 355.3L374.7 356.5L374.3 358.7L374.4 359.6L374.8 360.4L377.1 362.9L377.9 363.4L378.8 363.5L381.1 363.3L382.1 362.9L382.8 362.0L382.8 360.9ZM385.7 355.6L384.6 355.5L383.7 355.9L383.1 356.8L383.0 357.9L383.8 361.3L384.2 362.2L384.9 362.7L385.8 362.9L386.7 362.7L390.3 360.8L391.1 360.0L391.4 358.9L391.0 357.8L390.0 357.1ZM394.0 358.5L394.7 359.3L395.7 359.7L396.7 359.5L397.5 358.9L399.0 356.7L399.3 355.8L399.3 354.9L398.8 354.2L397.8 353.2L396.9 352.7L395.8 352.7L394.9 353.3L394.4 354.2L393.8 357.2L394.0 358.4ZM401.6 355.6L400.8 355.8L400.2 356.4L397.6 360.2L397.3 361.2L397.5 362.3L397.5 362.3L398.3 363.1L399.3 363.3L403.8 363.2L405.0 362.8L405.7 361.8L406.7 358.5L406.7 357.6L406.3 356.7L405.6 356.1L404.2 355.5L403.1 355.3ZM416.0 359.7L415.8 358.5L415.0 357.6L411.8 355.7L410.7 355.4L409.6 355.8L408.6 356.5L407.9 357.5L406.7 361.4L406.7 362.4L407.1 363.2L407.9 363.8L412.3 365.6L413.4 365.7L414.5 365.2L415.0 364.2ZM419.0 356.4L418.3 357.2L418.1 358.2L418.5 359.2L419.3 359.9L422.8 361.5L423.9 361.6L424.9 361.1L425.5 360.2L426.5 356.4L426.5 355.4L426.0 354.5L425.1 354.0L424.2 353.7L423.4 353.7L422.6 354.0ZM426.2 360.8L426.1 361.7L426.5 362.5L427.1 363.1L429.2 364.3L430.2 364.6L431.2 364.4L432.0 363.6L435.0 358.6L435.3 357.6L435.0 356.5L434.2 355.8L430.9 354.0L430.1 353.8L429.2 354.0L428.9 354.1L428.1 354.6L427.7 355.4ZM287.5 362.4L286.9 361.4L285.9 360.9L284.7 361.1L281.1 362.8L280.4 363.4L280.0 364.2L280.0 365.1L280.5 367.1L280.8 367.8L281.5 368.4L283.7 369.6L284.6 369.8L285.5 369.6L286.2 369.1L287.9 367.0L288.3 366.1L288.3 365.2ZM294.7 363.2L294.7 362.3L294.3 361.5L293.6 361.0L292.6 360.5L291.4 360.4L290.1 360.6L289.2 361.1L288.6 362.0L288.6 363.1L289.0 364.6L289.6 365.6L290.7 366.0L292.3 366.2L293.2 366.0L294.0 365.5L294.4 364.6ZM295.1 365.2L295.2 366.2L295.7 367.1L296.6 367.6L300.6 368.5L301.8 368.4L302.7 367.5L303.1 367.0L303.3 366.0L303.1 365.0L301.0 361.2L300.3 360.4L299.3 360.1L298.3 360.3L296.7 361.2L296.0 361.8L295.7 362.6ZM307.0 362.8L306.6 363.8L306.7 364.8L307.4 365.7L308.4 366.0L309.6 366.2L310.4 366.1L311.3 365.7L312.3 365.0L312.7 363.9L312.4 362.8L311.5 361.4L310.8 360.7L309.9 360.4L309.0 360.6L308.2 361.2ZM315.4 363.8L314.9 364.6L314.8 365.5L315.2 366.4L316.4 367.9L317.2 368.5L318.3 368.6L322.4 367.8L323.4 367.3L323.9 366.3L323.8 365.1L323.2 364.2L319.9 361.8L319.1 361.4L318.2 361.5L317.4 361.9ZM327.2 365.3L326.2 365.8L325.6 366.8L325.5 366.9L325.7 368.3L327.2 371.4L327.8 372.1L328.6 372.5L329.5 372.5L330.3 372.1L333.7 369.1L334.4 367.7L334.5 366.6L334.2 365.4L333.3 364.6L332.1 364.5ZM338.9 363.6L337.9 363.1L336.8 363.1L335.8 363.8L335.4 364.8L335.2 367.4L335.4 368.4L336.1 369.2L337.9 370.5L339.2 370.9L341.0 370.9L342.1 370.5L342.8 369.6L342.9 368.5L342.4 367.5ZM339.4 359.8L338.8 360.7L338.7 361.8L339.2 362.8L343.7 367.6L344.7 368.2L346.0 368.1L348.0 367.2L348.8 366.6L349.2 365.7L349.1 364.8L347.8 360.6L347.1 359.6L346.0 359.2L341.5 358.9L340.1 359.3ZM351.3 364.4L350.7 365.2L350.5 366.1L350.7 367.0L351.4 367.7L353.7 369.2L354.7 369.5L355.7 369.2L359.7 366.9L360.3 366.3L360.6 365.4L360.9 363.0L360.8 361.9L360.0 361.1L358.9 360.4L357.8 360.2L356.7 360.5ZM364.7 361.3L363.8 361.0L362.9 361.3L362.2 361.9L361.8 362.8L361.5 365.4L361.6 366.4L362.2 367.2L364.9 369.3L365.8 369.7L366.7 369.6L369.5 368.8L370.4 368.4L370.9 367.5L370.9 366.6L370.7 365.2L370.4 364.3L369.6 363.7ZM371.6 365.1L372.0 366.1L372.9 366.7L374.0 366.7L375.0 366.2L375.7 365.4L376.2 364.5L376.2 363.5L375.8 362.6L375.5 362.3L374.4 361.7L373.3 361.8L372.3 362.6L371.8 363.3L371.5 364.8ZM375.0 367.4L374.5 368.2L374.5 369.2L374.9 370.1L375.8 370.6L376.7 370.7L382.7 369.9L384.0 369.2L384.2 368.9L384.6 368.2L384.6 367.3L384.3 365.6L383.9 364.8L383.1 364.2L382.1 364.0L378.6 364.4L377.3 365.0ZM396.3 361.9L395.7 361.2L394.9 360.6L393.9 360.2L392.8 360.4L386.2 363.8L385.4 364.8L385.2 366.0L385.4 366.7L385.9 367.7L386.8 368.3L388.0 368.6L388.7 368.6L394.4 367.8L395.3 367.4L395.9 366.7L396.9 364.7L397.1 363.8L396.9 362.9ZM399.3 364.2L398.3 364.5L397.6 365.3L396.6 367.2L396.4 368.0L396.6 368.9L398.1 372.2L398.8 373.0L399.8 373.4L400.8 373.1L403.8 371.6L404.6 370.9L404.8 369.8L404.9 366.1L404.6 365.1L403.9 364.3L402.8 364.1ZM408.5 365.0L407.5 364.8L406.6 365.2L406.0 365.9L405.7 366.8L405.7 369.9L405.9 370.9L406.6 371.6L408.2 372.6L409.3 372.9L410.4 372.5L413.5 370.3L414.1 369.5L414.3 368.5L413.9 367.5L413.1 366.8ZM415.8 367.9L416.4 368.6L417.2 368.9L418.1 368.9L420.3 368.2L421.4 367.4L422.9 365.0L423.2 363.9L422.9 362.8L422.1 362.1L419.1 360.7L417.9 360.6L416.9 361.1L416.3 362.1L415.4 366.3L415.6 367.7ZM426.9 363.9L425.9 363.7L424.9 363.9L424.2 364.6L423.0 366.5L422.6 367.5L422.9 368.5L423.6 369.3L424.9 370.0L425.8 370.3L426.8 370.1L427.6 369.4L428.8 367.5L429.2 366.5L428.9 365.5L428.2 364.7ZM285.2 371.9L284.3 370.8L281.5 369.4L280.4 369.1L279.3 369.6L275.1 373.2L274.5 373.9L274.4 374.9L274.7 375.8L275.4 376.5L280.3 379.2L281.4 379.5L282.5 379.1L285.4 376.9L286.0 376.1L286.1 375.9L286.1 374.5ZM293.8 369.7L294.0 368.8L293.7 367.9L293.0 367.3L292.1 367.0L290.2 366.8L289.3 367.0L288.5 367.6L286.5 370.1L286.0 371.0L286.1 372.0L286.5 373.2L287.0 373.9L287.8 374.4L288.7 374.5L291.1 374.1L292.1 373.7L292.7 372.8ZM297.0 368.5L296.1 368.5L295.2 369.0L294.7 369.8L293.7 372.5L293.6 373.4L293.9 374.3L294.6 375.0L298.0 376.9L299.2 377.1L300.2 376.7L301.1 376.0L301.6 375.3L302.1 374.4L302.3 373.3L302.0 371.0L301.5 369.9L300.4 369.3ZM305.6 366.6L304.5 366.8L303.7 367.6L303.0 368.8L302.7 370.0L302.9 371.8L303.3 372.7L304.0 373.3L304.9 373.5L307.6 373.5L308.6 373.3L309.4 372.5L309.6 371.5L309.6 368.8L309.4 367.9L308.7 367.2L307.8 366.8ZM314.6 367.0L313.6 366.3L312.4 366.3L311.8 366.5L310.8 367.2L310.5 368.4L310.5 372.5L310.8 373.5L311.6 374.2L312.6 374.8L313.8 374.9L314.8 374.4L315.5 373.5L316.2 370.4L316.3 369.5L315.9 368.6ZM316.0 374.7L316.0 375.7L316.4 376.5L317.3 377.1L318.2 377.2L325.6 376.1L326.5 375.8L327.1 375.1L327.4 374.2L327.2 373.3L325.4 369.6L324.8 368.9L324.0 368.5L323.2 368.5L318.5 369.4L317.5 369.9L317.0 370.9ZM329.4 374.0L328.9 374.8L328.8 375.7L329.1 376.6L329.3 376.9L329.7 377.3L330.2 377.7L331.0 378.1L331.8 378.1L332.3 378.0L333.5 377.2L336.6 373.1L336.9 372.1L336.8 371.1L336.1 370.3L336.1 370.2L335.2 369.9L334.3 369.9L333.5 370.3ZM339.5 371.7L338.7 372.0L338.0 372.6L336.2 375.0L335.8 376.0L336.0 377.0L336.6 377.8L337.6 378.2L340.5 378.5L341.7 378.2L342.5 377.4L343.2 376.0L343.3 375.0L343.2 373.5L342.9 372.6L342.2 371.9L341.2 371.7ZM344.2 370.8L344.0 371.8L344.1 373.7L344.4 374.6L344.9 375.2L345.8 375.5L349.9 376.3L351.0 376.2L351.8 375.5L353.9 372.9L354.3 371.9L354.1 370.8L353.4 370.0L350.4 368.1L349.4 367.7L348.5 367.9L345.5 369.2L344.5 370.1ZM356.3 369.8L355.5 370.7L355.3 371.9L355.8 372.9L358.9 376.3L360.0 376.9L361.2 376.8L363.5 375.8L364.3 375.1L364.7 374.2L365.0 371.7L364.9 370.7L364.3 369.8L361.9 368.0L360.8 367.6L359.7 367.9ZM372.8 369.9L371.9 369.4L370.8 369.4L367.3 370.3L366.3 370.9L365.8 372.0L365.5 374.3L365.6 375.3L366.2 376.1L367.7 377.4L368.6 377.9L369.7 377.8L370.5 377.2L373.6 373.4L374.0 372.5L374.0 371.6L373.6 370.8ZM377.4 371.5L376.5 371.8L375.9 372.6L375.7 373.5L376.0 374.5L377.0 376.2L377.7 376.9L378.6 377.2L381.2 377.4L382.2 377.2L383.0 376.6L383.0 376.5L383.4 375.3L383.3 372.9L383.0 371.9L382.2 371.1L381.1 371.0ZM386.6 369.1L385.7 369.1L384.9 369.5L384.3 370.2L384.2 371.1L384.2 374.6L384.5 375.6L385.4 376.4L387.6 377.3L388.5 377.5L389.4 377.2L390.1 376.6L390.4 375.7L390.2 374.7L388.4 370.4L387.9 369.6L387.1 369.2ZM392.7 378.4L393.3 379.2L394.1 379.6L395.1 379.6L395.9 379.1L397.4 377.8L398.0 376.7L398.2 375.3L398.1 374.2L396.1 369.9L395.2 368.9L394.0 368.7L391.5 369.1L390.4 369.6L389.8 370.6L389.9 371.8ZM400.4 374.3L399.5 375.1L399.3 376.2L399.7 377.3L400.6 378.0L402.9 378.8L403.6 378.9L406.8 378.9L407.7 378.7L408.5 378.0L408.8 377.0L408.9 375.2L408.6 374.2L407.9 373.4L406.2 372.4L405.2 372.1L404.2 372.3ZM409.7 375.3L410.0 376.4L410.9 377.2L412.1 377.3L416.1 376.5L417.1 376.0L417.6 375.1L417.7 374.1L417.2 372.1L416.8 371.2L416.0 370.7L415.0 370.6L414.1 370.9L410.5 373.5L410.0 374.1L409.7 375.0ZM419.0 375.9L419.2 376.5L419.3 376.6L420.0 377.3L421.0 377.6L421.9 377.3L425.8 375.3L426.6 374.6L426.9 373.6L426.7 372.6L426.6 372.4L425.8 371.6L422.0 369.3L421.2 369.0L420.4 369.1L419.4 369.4L418.5 369.9L418.0 370.8L418.0 371.7ZM427.9 370.5L427.5 371.6L427.9 372.7L428.7 373.5L429.8 373.6L433.9 373.0L434.9 372.6L435.5 371.6L435.5 370.5L434.9 369.6L432.7 367.5L431.6 367.0L430.5 367.1L429.6 367.8ZM282.7 379.9L282.0 380.9L282.0 382.1L283.7 388.1L284.2 389.0L285.0 389.5L286.0 389.5L286.9 389.1L287.5 388.3L289.5 383.0L289.6 381.9L289.1 380.9L287.3 378.8L286.5 378.3L285.5 378.2L284.6 378.5ZM289.4 375.2L288.4 375.7L287.8 376.5L287.7 377.6L288.2 378.5L290.1 380.8L291.4 381.5L294.5 381.9L295.9 381.6L297.2 380.7L297.9 379.9L298.1 379.0L297.8 378.0L297.1 377.3L293.1 375.1L291.8 374.9ZM301.6 384.2L302.3 384.8L303.2 385.1L304.1 385.0L304.8 384.4L306.3 382.8L306.7 381.8L306.6 380.8L306.0 379.9L303.0 377.5L302.2 377.2L301.3 377.2L300.5 377.5L300.1 377.9L299.4 378.9L299.3 379.3L299.3 380.1L299.6 380.9ZM306.1 374.4L305.2 374.6L304.4 375.3L304.1 376.2L304.3 377.1L304.9 377.9L307.9 380.4L309.0 380.8L312.7 381.0L313.6 380.9L314.3 380.4L314.8 379.6L315.0 378.7L315.1 377.8L314.7 376.9L314.0 376.3L310.4 374.6L309.5 374.4ZM315.4 380.4L315.4 381.5L315.9 382.4L316.8 382.9L320.6 384.0L321.7 384.1L322.6 383.5L325.5 380.6L326.0 379.8L326.0 378.8L325.6 377.9L324.8 377.3L323.8 377.2L317.3 378.2L316.3 378.6L315.7 379.6ZM330.4 382.5L330.7 381.5L330.6 380.6L330.0 379.8L329.1 379.4L328.1 379.5L327.3 380.0L323.6 383.7L323.1 384.5L323.0 385.4L323.4 386.3L324.0 387.2L324.7 387.9L325.7 388.1L326.6 387.9L327.3 387.2ZM333.7 378.7L332.5 378.9L331.7 379.8L331.5 380.9L331.6 381.2L332.0 382.2L335.4 386.0L336.2 386.6L337.1 386.7L338.0 386.4L338.7 385.7L340.6 382.1L340.9 381.2L340.6 380.2L340.0 379.5L339.0 379.2ZM343.2 377.9L343.0 379.2L343.7 380.3L346.8 383.1L347.9 383.6L349.2 383.3L350.2 382.6L351.0 381.8L351.2 380.7L351.0 378.8L350.7 378.0L350.1 377.3L349.3 377.0L345.5 376.4L344.3 376.6L343.4 377.5ZM356.4 374.8L355.5 374.2L354.3 374.3L353.4 374.9L352.2 376.4L351.8 377.8L352.0 380.4L352.5 381.5L353.5 382.1L355.5 382.6L356.4 382.6L357.2 382.1L358.3 381.3L358.9 380.1L359.2 379.0L359.1 378.1L358.7 377.3ZM359.9 379.4L360.1 380.7L360.9 381.6L362.7 382.7L364.0 383.0L367.3 382.6L368.4 382.2L369.0 381.2L369.0 380.1L368.4 379.1L365.8 376.9L364.8 376.5L363.7 376.6L361.1 377.8L360.4 378.4L360.0 379.2ZM370.5 378.5L370.1 379.5L370.3 380.5L370.9 381.4L371.9 381.7L373.4 381.9L374.6 381.6L375.4 380.7L376.4 378.5L376.6 377.5L376.3 376.6L376.0 376.1L375.3 375.4L374.4 375.1L373.4 375.3L372.7 375.8ZM376.8 383.3L378.0 383.7L379.2 383.4L381.2 381.9L381.8 381.2L382.0 380.3L382.0 380.2L381.8 379.2L381.1 378.5L380.2 378.1L378.9 378.0L377.8 378.3L377.0 379.2L376.2 380.9L376.0 381.8L376.2 382.6L376.8 383.3ZM385.7 377.4L384.8 377.3L383.8 377.6L383.2 378.3L382.9 379.2L382.9 380.2L383.1 381.2L383.8 381.9L388.3 384.8L389.2 385.1L390.2 385.0L391.0 384.4L392.1 383.0L392.5 381.9L392.2 380.7L391.3 379.9ZM401.5 385.8L402.4 385.4L403.0 384.7L403.1 383.7L402.9 380.9L402.5 379.9L401.6 379.2L399.5 378.5L398.4 378.4L397.5 378.9L396.6 379.7L396.0 380.6L396.0 381.7L396.5 382.6L399.2 385.4L400.1 385.9L401.0 385.9ZM406.3 386.4L407.4 386.5L408.5 386.0L409.0 384.9L409.4 382.7L409.3 381.5L409.0 380.9L408.3 380.1L407.2 379.8L405.8 379.8L404.8 380.1L404.0 380.9L403.8 381.9L404.0 384.3L404.4 385.3L405.3 386.0ZM414.4 377.7L413.6 378.1L413.0 378.9L412.8 379.8L413.2 380.8L413.9 381.4L414.8 381.6L417.6 381.7L418.6 381.4L419.4 380.7L419.7 379.7L419.7 379.5L419.4 378.4L419.2 378.1L418.3 377.3L417.1 377.1ZM420.4 381.4L420.7 382.4L421.4 383.1L422.4 383.4L427.1 383.6L428.0 383.4L428.7 382.8L429.1 382.0L429.0 381.0L428.1 377.8L427.5 376.8L426.4 376.3L425.3 376.5L421.6 378.5L420.8 379.2L420.5 380.2ZM430.4 374.4L429.4 374.8L428.8 375.8L428.8 376.9L430.5 383.0L430.8 383.7L431.4 384.2L434.7 386.0L435.7 386.2L468.5 385.9L469.6 385.6L470.3 384.7L470.5 383.6L470.0 382.6L469.1 382.0L439.3 373.3L438.4 373.2ZM281.8 384.6L281.2 383.6L280.0 383.1L278.9 383.4L271.2 387.9L270.5 388.6L270.2 389.6L270.5 390.6L271.1 391.3L272.1 391.6L274.2 391.8L275.0 391.7L281.3 389.6L282.1 389.1L282.6 388.2L282.5 387.2ZM291.6 390.5L292.5 390.3L293.2 389.7L293.6 388.9L294.4 384.9L294.3 383.8L293.7 383.0L292.7 382.5L292.3 382.5L291.4 382.5L290.6 383.0L290.1 383.7L288.6 387.8L288.5 388.7L288.8 389.6L289.5 390.3L290.4 390.5ZM302.7 387.7L302.4 386.9L299.7 382.6L298.9 381.9L297.8 381.6L296.8 382.0L296.4 382.3L295.6 383.5L294.4 389.3L294.5 390.5L295.3 391.4L295.5 391.6L296.7 391.9L301.0 391.6L302.1 391.2L302.8 390.4L302.9 389.3ZM303.9 390.0L304.3 391.0L305.3 391.6L306.4 391.6L307.3 391.0L312.5 385.1L313.0 384.1L312.9 383.0L312.2 382.2L311.2 381.8L309.4 381.7L308.5 381.8L307.8 382.3L304.1 386.6L303.6 387.3L303.6 388.2ZM309.7 389.6L309.2 390.6L309.4 391.7L310.1 392.6L311.2 392.9L315.3 393.0L316.2 392.8L317.0 392.1L317.3 391.2L317.2 390.3L315.9 387.0L315.3 386.1L314.4 385.7L313.4 385.8L312.5 386.4ZM319.3 384.5L318.2 384.5L317.3 385.1L316.8 386.1L316.9 387.2L318.6 391.5L319.3 392.5L320.5 392.8L323.0 392.7L324.0 392.4L324.7 391.7L324.9 390.6L324.6 389.6L322.1 385.8L321.0 385.0ZM326.7 389.8L326.3 390.8L326.6 391.8L327.2 392.5L328.2 392.9L330.6 393.0L331.5 392.8L332.3 392.3L334.8 389.2L335.3 388.4L335.2 387.4L334.8 386.6L333.0 384.6L332.3 384.1L331.4 383.9L330.5 384.2L329.9 384.8ZM344.4 382.1L343.3 381.6L342.2 381.8L341.3 382.6L339.3 386.3L339.0 387.2L339.2 388.2L339.9 388.9L343.3 391.3L344.2 391.7L345.2 391.5L345.5 391.4L346.3 390.8L346.7 389.9L347.2 385.8L347.1 384.9L346.6 384.1ZM356.4 385.0L355.9 383.9L354.8 383.3L352.6 382.8L351.1 383.1L349.0 384.4L348.4 385.0L348.1 385.8L347.6 389.5L347.7 390.4L348.1 391.1L348.8 391.6L349.3 391.8L350.8 391.8L355.5 389.9L356.2 389.4L356.6 388.7L356.7 387.8ZM360.4 382.3L359.3 382.0L358.1 382.5L357.8 382.7L357.3 383.5L357.2 384.5L357.6 388.4L358.0 389.2L358.7 389.9L359.2 390.2L360.2 390.4L361.1 390.2L361.8 389.6L362.2 388.7L362.6 385.0L362.4 383.8L361.6 383.0ZM363.0 389.1L363.1 390.0L363.6 390.8L364.4 391.3L365.3 391.3L367.0 391.0L367.8 390.6L368.4 390.0L368.6 389.1L368.8 385.6L368.5 384.5L367.7 383.8L366.6 383.5L365.2 383.7L364.3 384.0L363.7 384.6L363.4 385.4ZM371.9 382.6L370.8 382.8L370.0 383.5L369.7 384.5L369.4 389.7L369.7 390.7L370.4 391.4L370.5 391.5L371.1 391.8L372.2 392.0L373.0 392.0L373.8 391.7L377.1 389.3L377.7 388.5L377.9 387.4L377.7 385.8L376.9 384.5L375.4 383.2L374.3 382.8ZM388.0 388.1L388.4 387.1L388.2 386.1L387.5 385.3L383.6 382.8L382.5 382.5L381.3 382.9L379.4 384.3L378.7 385.1L378.6 386.2L378.7 387.4L379.1 388.3L379.9 389.0L384.1 390.8L385.0 390.9L385.8 390.7L386.5 390.1ZM395.9 383.2L394.9 382.6L393.8 382.7L392.9 383.3L391.8 384.7L391.4 385.6L391.4 386.6L391.9 387.4L396.1 391.5L396.9 391.9L397.8 392.0L398.7 391.6L399.3 390.9L399.5 390.0L399.4 387.6L398.9 386.2ZM407.7 391.4L408.4 390.6L408.7 389.5L408.3 388.4L407.4 387.8L404.2 386.5L403.1 386.4L401.9 386.6L401.1 387.0L400.5 387.7L400.3 388.6L400.3 389.6L400.5 390.4L401.1 391.1L401.9 391.5L405.0 392.2L406.4 392.0ZM409.4 387.1L409.5 388.0L409.9 388.8L410.7 389.3L411.6 389.4L412.5 389.1L416.8 386.1L417.5 385.4L417.7 384.4L417.4 383.5L416.7 382.8L415.7 382.5L412.0 382.5L411.1 382.7L410.4 383.2L410.0 384.1ZM414.5 388.7L413.9 389.5L413.6 390.4L413.9 391.4L414.6 392.1L415.5 392.4L416.5 392.2L419.8 390.7L420.8 389.9L421.0 388.6L420.9 387.9L420.5 386.9L419.7 386.3L418.7 386.2L417.8 386.5ZM423.6 384.3L422.5 384.6L421.7 385.5L421.6 386.6L422.0 389.6L422.4 390.6L423.0 391.3L423.7 391.8L425.5 392.7L426.6 392.9L427.7 392.4L432.1 388.6L432.7 387.9L432.8 386.9L432.5 386.0L431.8 385.4L430.6 384.7L429.7 384.5ZM169.8 398.2L168.9 398.5L168.2 399.3L168.0 400.3L168.2 401.2L169.0 401.9L169.9 402.2L259.0 404.4L259.6 404.3L276.2 399.4L277.1 398.9L277.6 398.1L277.6 397.1L277.2 396.2L275.0 393.4L274.3 392.8L273.6 392.6L264.7 391.8L264.4 391.8ZM281.1 399.2L282.1 399.5L283.2 399.3L284.0 398.5L285.5 395.9L285.7 395.1L286.1 392.6L285.9 391.4L285.1 390.6L284.3 390.2L283.5 389.9L282.7 390.0L278.0 391.6L277.2 392.1L276.7 392.9L276.7 393.9L277.1 394.7L279.9 398.2L280.3 398.6ZM288.8 391.3L287.9 391.6L287.2 392.2L286.8 393.1L286.7 394.3L286.9 395.4L287.6 396.2L291.4 398.8L292.4 399.1L293.3 399.0L294.1 398.4L294.5 397.5L295.2 393.9L295.1 392.7L294.3 391.8L293.9 391.6L292.9 391.3ZM304.2 392.7L302.9 392.3L297.9 392.6L297.0 392.9L296.4 393.4L296.0 394.2L295.4 397.5L295.5 398.8L296.4 399.7L299.3 401.2L300.3 401.5L301.3 401.2L304.8 399.1L305.5 398.3L305.7 397.2L305.5 394.5L305.2 393.7L304.7 393.1ZM308.5 393.7L307.4 394.0L306.7 394.8L306.5 395.9L306.6 397.8L307.1 399.0L308.5 400.6L309.5 401.2L311.0 401.5L312.0 401.5L312.9 401.0L316.5 397.2L317.1 396.2L316.9 395.0L316.2 394.2L315.1 393.8ZM320.4 393.7L319.2 394.1L318.5 395.0L318.3 395.8L318.2 396.6L318.5 397.4L319.8 399.4L320.5 400.1L321.6 400.3L322.6 400.0L323.2 399.2L324.6 396.5L324.9 395.5L324.5 394.5L323.8 393.8L322.8 393.6ZM328.8 393.7L327.7 394.0L327.0 394.7L326.7 395.7L327.0 396.8L328.6 399.5L329.4 400.2L330.4 400.4L331.4 400.2L332.1 399.4L333.1 397.6L333.3 396.4L332.9 395.3L332.2 394.5L331.5 394.0L330.8 393.9ZM338.5 389.0L337.6 388.6L336.6 388.8L335.8 389.3L333.5 392.2L333.0 393.0L333.1 393.9L333.5 394.8L334.2 395.6L335.0 396.2L339.2 397.6L340.1 397.7L341.0 397.3L341.6 396.6L342.9 394.1L343.1 393.2L342.8 392.3L342.2 391.6ZM342.2 397.3L342.0 398.4L342.4 399.4L343.2 400.1L344.3 400.2L350.0 399.3L350.8 398.9L351.4 398.2L351.6 397.3L351.4 396.4L350.1 393.6L349.0 392.6L347.7 392.1L346.9 391.9L346.2 392.1L345.1 392.5L344.1 393.4ZM361.5 394.0L361.3 392.7L360.5 391.8L358.2 390.6L357.3 390.3L356.5 390.5L352.6 392.0L351.7 392.7L351.3 393.7L351.5 394.7L353.4 398.7L353.7 399.1L354.2 399.6L355.0 400.2L356.0 400.3L358.9 399.9L360.0 399.4L360.6 398.3ZM362.2 401.0L363.0 401.5L363.9 401.5L364.8 401.2L367.5 399.2L368.2 398.2L369.4 394.4L369.5 393.4L369.0 392.4L368.2 391.9L367.1 391.8L363.9 392.5L362.9 393.0L362.3 394.0L361.3 398.8L361.4 399.8L361.9 400.7ZM373.8 394.9L373.2 394.2L372.3 393.8L371.3 393.9L370.5 394.4L370.1 395.2L369.5 396.9L369.5 398.0L370.0 398.9L370.8 399.4L372.5 400.0L373.6 400.0L374.6 399.4L375.1 398.3L374.9 397.2ZM385.4 393.4L385.1 392.4L384.2 391.8L379.6 389.7L378.6 389.6L377.6 390.0L375.0 391.8L374.4 392.5L374.2 393.4L374.4 394.3L376.4 398.4L377.2 399.2L378.3 399.5L383.9 399.2L384.9 398.9L385.6 398.1L385.8 397.0ZM391.7 388.4L390.7 387.8L389.6 387.9L388.7 388.6L386.6 391.4L386.2 392.8L386.6 396.6L386.9 397.4L387.5 398.1L388.4 398.4L392.5 398.7L393.9 398.3L395.3 397.3L396.0 396.3L396.5 394.5L396.5 393.4L396.0 392.5ZM404.6 395.2L404.6 394.1L404.1 393.2L403.2 392.6L400.9 392.1L400.1 392.1L399.3 392.4L398.3 393.1L397.5 394.2L397.3 395.0L397.2 396.0L397.7 396.9L398.6 397.4L401.5 398.3L402.5 398.4L403.4 397.9L404.0 397.0ZM411.0 392.3L410.2 391.8L409.3 391.6L408.5 391.9L406.9 392.8L405.9 393.9L404.4 398.6L404.4 400.1L404.7 400.6L405.3 401.3L406.1 401.7L407.1 401.6L407.9 401.2L412.3 396.8L412.8 395.9L412.8 394.8L412.8 394.8L412.4 394.1ZM415.6 393.5L414.8 394.1L414.4 395.0L414.5 396.0L415.1 396.8L415.5 397.3L416.7 397.8L416.9 397.8L417.8 397.6L418.6 397.0L419.5 395.9L419.9 395.0L419.7 393.9L419.1 393.1L418.1 392.7L417.1 392.9ZM420.2 396.3L419.8 397.4L420.0 398.5L420.8 399.3L423.7 400.8L424.7 401.1L425.7 400.8L426.4 400.0L426.7 398.9L426.4 395.2L426.1 394.2L425.3 393.6L424.6 393.2L423.7 393.0L422.8 393.2L422.1 393.8ZM427.5 398.6L427.9 399.8L429.0 400.4L435.9 402.1L436.5 402.1L531.9 396.3L532.8 396.0L533.5 395.3L533.8 394.4L533.6 393.4L532.9 392.7L532.0 392.3L484.9 386.6L484.7 386.6L435.9 387.1L434.7 387.6L427.9 393.3L427.4 394.1L427.2 395.0ZM271.8 401.6L270.9 402.2L270.4 403.1L270.6 404.2L271.2 405.1L272.3 405.5L278.7 406.0L279.6 405.9L280.3 405.4L282.0 403.6L282.5 402.6L282.4 401.4L281.7 400.6L280.5 399.8L279.7 399.5L278.8 399.5ZM283.8 400.4L283.6 401.5L283.9 402.6L284.8 403.3L288.6 404.8L289.7 404.9L290.6 404.4L291.2 403.6L291.8 401.9L292.0 401.1L291.7 400.2L291.1 399.6L288.0 397.5L287.0 397.2L285.9 397.4L285.2 398.1ZM291.6 404.9L291.5 405.8L291.8 406.7L292.5 407.4L293.4 407.6L296.2 407.7L297.4 407.4L298.2 406.5L299.1 404.1L299.3 403.2L298.9 402.3L298.2 401.6L295.8 400.3L294.7 400.0L293.6 400.4L293.0 401.3ZM299.4 405.7L299.2 406.8L299.7 407.8L300.5 408.4L301.6 408.5L305.3 407.8L306.3 407.3L306.8 406.4L307.9 402.5L308.0 401.6L307.5 400.7L307.3 400.5L306.6 399.9L305.7 399.8L304.8 400.1L301.2 402.2L300.4 403.2ZM319.4 405.9L320.2 405.6L320.9 405.0L321.2 404.1L321.2 404.1L320.9 402.7L318.9 399.6L318.0 398.8L316.8 398.7L315.7 399.3L314.3 400.8L313.8 401.7L313.8 402.8L314.4 403.7L316.5 405.5L317.2 405.9L318.0 406.0ZM325.1 408.0L326.0 408.3L327.0 408.1L329.0 407.3L329.9 406.5L330.2 405.2L330.1 403.8L329.8 403.0L327.6 399.3L326.8 398.6L325.8 398.4L324.8 398.7L324.1 399.5L322.3 403.1L322.1 403.7L321.9 404.6L322.1 405.7L322.9 406.6ZM331.2 402.7L330.9 403.9L331.0 404.9L331.4 405.9L332.2 406.5L333.2 406.7L335.5 406.4L336.3 406.1L336.9 405.6L339.9 401.5L340.2 400.6L340.2 399.7L339.7 398.9L338.9 398.4L336.1 397.4L335.2 397.3L334.3 397.6L333.7 398.3ZM343.1 402.2L342.1 401.7L341.0 401.8L340.2 402.5L338.1 405.4L337.7 406.2L337.7 407.1L338.2 407.9L341.1 411.4L341.9 411.9L342.9 412.1L343.8 411.7L347.3 409.4L348.0 408.5L348.1 407.3L347.5 406.3ZM353.2 402.8L353.4 401.8L353.1 400.7L352.2 400.0L351.1 399.9L347.3 400.5L346.3 401.0L345.7 402.0L345.7 403.1L346.3 404.0L348.5 406.0L349.3 406.4L350.3 406.5L351.1 406.0L351.4 405.8L351.9 405.2ZM356.0 401.2L355.1 401.5L354.5 402.2L353.6 403.8L353.4 404.8L353.7 405.9L354.5 406.6L358.7 408.7L359.6 408.9L360.5 408.7L361.2 408.1L361.5 407.2L362.2 403.3L362.1 402.4L361.6 401.6L361.2 401.2L360.4 400.7L359.5 400.6ZM374.1 403.7L374.3 402.6L373.8 401.6L372.9 401.0L369.4 399.9L368.5 399.8L367.7 400.2L367.4 400.4L366.7 401.1L366.5 402.1L366.8 403.1L367.5 403.8L370.4 405.3L371.1 405.6L371.9 405.5L372.6 405.3L373.4 404.9L373.9 404.2ZM376.1 401.4L375.8 401.9L374.8 404.2L374.6 405.3L375.1 406.3L377.3 409.1L378.1 409.7L379.0 409.8L379.9 409.5L382.4 407.9L383.2 407.0L383.9 405.4L384.0 405.0L384.5 402.5L384.3 401.3L383.6 400.4L382.4 400.1L377.8 400.4L377.0 400.6L376.4 401.1ZM387.4 402.6L387.0 402.3L386.5 402.1L385.9 402.2L385.5 402.5L385.2 403.1L385.0 404.4L385.0 405.1L385.5 405.6L387.4 407.0L388.0 407.2L388.7 407.1L389.2 406.7L389.3 406.0L389.1 405.4ZM390.1 399.4L389.1 399.6L388.3 400.3L388.0 401.4L388.3 402.4L391.6 407.8L392.3 408.5L393.2 408.7L394.1 408.6L395.1 408.1L395.9 407.4L396.3 406.4L396.1 405.4L393.7 400.6L393.0 399.9L392.1 399.5ZM404.6 405.2L405.1 404.2L404.9 403.1L403.7 400.6L403.2 399.9L402.5 399.5L397.2 397.9L396.3 397.8L395.4 398.2L395.3 398.4L394.7 399.1L394.5 400.0L394.7 400.8L397.6 406.4L398.7 407.4L400.4 408.0L401.6 408.1L402.6 407.5ZM408.4 401.9L407.8 402.7L407.8 403.8L408.3 404.7L409.2 405.2L412.0 406.0L413.1 406.0L414.1 405.4L414.6 404.4L415.2 400.2L415.1 399.2L414.5 398.4L413.6 398.0L412.6 398.0L411.8 398.5ZM418.9 399.2L417.9 399.0L417.0 399.2L416.3 399.8L415.9 400.7L415.4 404.8L415.6 406.0L416.5 406.9L417.5 407.3L418.4 407.5L419.2 407.3L422.4 405.8L423.4 404.8L423.7 403.8L423.9 402.9L423.5 402.0L422.8 401.3ZM425.8 401.9L425.0 402.8L424.3 404.7L424.2 405.7L424.5 406.6L426.4 409.2L427.4 409.9L428.5 409.9L429.5 409.3L433.1 405.3L433.6 404.4L433.5 403.4L433.0 402.5L432.1 402.0L428.1 401.1L427.3 401.1L426.5 401.4ZM-62.9 416.0L-62.9 416.0L196.4 424.6L196.6 424.6L273.1 418.6L274.3 418.1L280.0 412.5L280.5 411.6L280.5 410.6L279.9 408.3L279.2 407.3L278.1 406.8L259.4 405.3L259.3 405.3L117.5 401.8L117.4 401.8L-131.1 408.3L-132.1 408.6L-132.8 409.3L-133.1 410.2L-132.8 411.2L-132.1 412.0L-131.2 412.3ZM281.1 405.8L280.6 406.7L280.6 407.7L281.4 410.8L282.4 412.0L285.3 413.6L286.5 413.9L288.0 413.6L288.9 413.3L289.5 412.5L291.1 409.0L291.2 408.0L290.9 407.1L290.8 406.9L289.8 406.1L284.4 404.1L283.3 404.0L282.3 404.6ZM290.3 412.7L290.1 413.8L290.6 414.8L292.7 417.6L293.5 418.2L294.5 418.3L295.4 418.0L296.1 417.3L298.8 412.6L299.0 411.1L298.7 410.1L298.0 409.0L296.9 408.6L293.6 408.5L292.5 408.8L291.7 409.6ZM302.5 409.2L301.6 409.5L301.0 410.3L300.8 411.2L301.1 412.1L301.8 412.8L302.8 413.5L304.1 413.8L305.9 413.6L306.8 413.3L307.4 412.6L307.7 411.8L307.6 410.8L307.2 409.9L306.7 409.2L305.9 408.7L305.0 408.7ZM307.5 407.2L307.5 408.5L309.0 412.2L309.6 413.0L310.4 413.4L311.4 413.4L312.3 413.1L313.1 412.7L313.6 412.1L315.7 408.0L316.0 407.1L315.8 406.3L315.3 405.6L312.4 403.0L311.6 402.6L310.9 402.4L309.9 402.4L309.0 402.9L308.5 403.8ZM324.4 410.8L324.6 409.8L324.4 408.8L323.7 408.1L321.8 406.9L320.5 406.6L318.3 406.8L317.4 407.1L316.7 407.9L314.8 411.7L314.5 412.6L314.7 413.5L315.2 414.2L318.2 416.7L319.2 417.1L320.3 416.9L321.2 416.1ZM328.4 408.4L327.6 409.1L327.2 410.0L327.4 411.1L329.3 415.4L330.0 416.3L331.1 416.6L332.2 416.3L332.4 416.2L333.2 415.2L333.3 414.0L332.2 409.4L331.6 408.4L330.6 407.9L329.5 408.0ZM337.1 408.0L336.3 407.4L335.4 407.3L334.8 407.3L333.8 407.8L333.2 408.7L333.1 409.8L334.2 414.2L334.7 415.1L335.6 415.6L336.9 416.0L338.0 416.0L338.9 415.5L340.1 414.2L340.6 413.4L340.6 412.4L340.2 411.5ZM350.8 413.4L351.2 412.3L350.9 411.2L350.6 410.7L349.8 410.0L348.8 409.7L347.8 410.1L344.9 412.0L344.2 412.8L344.0 413.8L344.3 414.8L345.3 416.4L346.0 417.0L347.0 417.3L347.9 417.1L348.6 416.5ZM353.7 407.1L352.7 406.9L351.8 407.2L351.1 408.0L350.8 409.0L351.1 410.0L352.3 411.8L352.7 412.3L354.9 414.0L355.9 414.4L357.0 414.2L358.8 413.3L359.6 412.6L359.9 411.5L359.6 410.5L358.8 409.7ZM361.9 410.2L361.9 410.9L362.0 411.2L362.3 411.9L362.9 412.5L364.5 413.5L365.6 413.7L366.6 413.4L367.4 412.6L369.6 408.1L369.8 407.1L369.5 406.1L368.8 405.4L365.7 403.7L364.8 403.4L363.9 403.6L363.1 404.2L362.7 405.1ZM374.3 415.9L375.3 416.0L376.2 415.6L376.8 414.8L377.7 412.7L377.8 412.1L377.8 412.0L377.7 411.2L377.4 410.5L374.5 406.9L373.5 406.3L372.4 406.3L372.2 406.3L371.5 406.7L370.9 407.3L368.8 411.7L368.6 412.8L369.0 413.9L369.9 414.5ZM381.6 409.5L380.9 410.3L380.7 411.5L381.2 412.5L382.2 413.1L382.5 413.2L383.6 413.2L384.4 412.7L385.0 411.8L385.0 410.8L384.5 409.9L384.3 409.7L383.6 409.2L382.7 409.0L381.8 409.3ZM386.7 407.5L386.2 407.3L385.6 407.4L385.1 407.7L384.9 408.2L384.9 408.8L385.1 409.3L388.2 412.7L388.6 413.0L389.2 413.1L389.7 412.9L390.1 412.5L390.6 411.6L390.7 411.1L390.6 410.5L390.2 410.1ZM390.9 412.7L390.6 413.8L390.9 414.8L391.7 415.5L394.7 417.1L395.8 417.3L396.8 417.0L401.1 414.2L401.8 413.3L402.0 412.2L401.6 410.4L401.2 409.5L400.4 408.9L398.4 408.2L396.9 408.2L393.0 410.0L392.4 410.4L392.2 410.7L391.9 411.0ZM407.1 405.4L405.9 405.4L405.0 406.0L402.9 408.4L402.5 409.2L402.4 410.1L402.7 411.5L403.3 412.5L404.4 413.1L409.0 413.5L409.9 413.4L410.6 412.9L411.1 412.1L412.0 409.0L412.0 408.0L411.5 407.1L410.7 406.5ZM411.8 412.9L411.7 413.9L412.3 414.9L413.4 415.9L414.2 416.3L415.1 416.4L415.9 416.0L416.5 415.3L417.8 412.7L418.0 411.7L418.0 409.7L417.7 408.7L416.8 408.0L415.8 407.4L414.6 407.3L413.6 407.7L413.0 408.7ZM420.0 407.9L419.1 408.7L418.8 409.8L418.8 410.6L419.2 411.8L420.2 412.5L424.3 413.8L425.3 413.8L426.2 413.4L426.7 412.6L426.9 411.6L426.5 410.7L424.3 407.7L423.6 407.1L422.7 406.9L421.8 407.1ZM428.6 414.1L429.1 415.1L430.0 415.7L432.5 416.4L433.0 416.5L490.0 418.4L490.4 418.4L604.6 402.4L605.5 402.0L606.1 401.3L606.3 400.3L606.1 399.4L605.4 398.7L604.5 398.4L558.7 395.5L558.4 395.5L437.2 402.9L435.8 403.6L428.9 411.2L428.5 412.0L428.4 412.9ZM276.7 416.9L276.2 417.7L276.2 418.6L276.5 419.5L277.3 420.1L280.3 421.5L281.4 421.7L282.4 421.3L283.0 420.4L284.6 416.2L284.8 415.2L284.4 414.4L283.8 413.7L282.7 413.1L281.4 412.9L280.3 413.4ZM284.0 420.1L283.9 421.1L284.2 422.0L285.0 422.6L285.9 422.9L289.4 422.9L290.3 422.7L291.1 422.1L292.2 420.6L292.6 419.4L292.2 418.2L289.9 415.2L289.0 414.6L288.0 414.5L287.2 414.6L286.3 415.0L285.7 415.9ZM298.7 420.9L299.6 421.2L300.5 421.0L301.3 420.4L301.7 419.6L302.5 415.8L302.4 414.6L301.6 413.7L301.5 413.7L300.5 413.3L299.5 413.6L298.7 414.4L296.9 417.5L296.7 418.5L296.9 419.5L297.6 420.2ZM305.5 423.2L306.6 423.3L307.6 422.7L308.1 421.7L309.0 416.7L309.0 415.8L308.5 415.0L307.8 414.5L306.9 414.3L305.1 414.5L303.9 415.0L303.3 416.1L302.4 420.2L302.4 421.2L302.9 422.0L303.7 422.6ZM317.5 421.0L318.3 420.4L318.7 419.4L318.6 418.4L318.0 417.6L314.2 414.4L313.3 414.0L312.4 414.0L311.5 414.2L310.6 414.8L310.0 415.8L309.2 420.5L309.3 421.5L309.9 422.4L310.9 422.8L312.4 423.0L313.4 422.8ZM321.4 417.5L321.1 418.5L321.4 419.6L322.2 420.3L323.3 420.5L327.5 420.1L328.4 419.8L329.1 419.2L329.4 418.3L329.2 417.3L327.5 413.4L326.8 412.6L325.8 412.2L324.7 412.4L323.9 413.2ZM331.1 418.0L330.2 419.3L330.2 419.3L330.2 420.2L330.6 421.0L331.7 422.3L332.4 422.9L333.2 423.0L335.5 423.1L336.4 422.8L337.2 422.1L337.5 421.2L337.7 418.7L337.5 417.9L337.0 417.1L336.2 416.7L335.1 416.3L334.2 416.3L333.4 416.6ZM343.6 415.3L342.7 414.5L341.5 414.4L340.5 415.0L339.1 416.5L338.6 417.7L338.4 420.1L338.7 421.2L339.6 422.0L340.8 422.2L344.4 421.5L345.3 421.1L345.9 420.3L346.0 419.4L345.7 418.4ZM348.0 418.8L347.6 419.8L347.8 420.9L348.5 421.7L349.6 422.0L352.5 421.9L353.4 421.7L354.1 421.1L354.5 420.3L355.1 416.6L355.0 415.5L354.4 414.6L353.8 414.2L352.9 413.8L351.8 414.0L351.0 414.6ZM357.1 415.0L356.4 415.6L356.0 416.5L355.2 421.1L355.2 422.1L355.8 422.9L356.1 423.2L356.9 423.6L357.9 423.7L358.7 423.2L364.0 418.7L364.7 417.5L364.9 416.1L364.7 414.9L363.9 414.1L362.7 413.3L361.8 413.1L360.8 413.3ZM368.3 414.8L367.1 414.8L366.1 415.4L365.7 416.5L365.5 417.6L365.8 419.0L368.4 422.7L369.2 423.4L370.2 423.6L371.1 423.2L371.8 422.4L373.5 418.9L373.7 417.8L373.3 416.8L372.3 416.2ZM372.5 423.1L372.3 424.0L372.5 425.0L373.2 425.6L374.2 425.9L377.5 426.1L378.4 426.0L379.1 425.5L380.8 423.6L381.2 422.7L381.2 421.7L380.7 420.8L377.8 418.0L377.0 417.5L376.1 417.4L375.2 417.8L374.6 418.5ZM380.1 413.4L379.2 413.4L378.3 413.8L377.8 414.6L377.6 414.8L377.5 416.0L378.1 417.0L382.0 420.9L383.1 421.5L384.3 421.3L385.2 420.5L386.8 417.8L387.1 416.9L386.9 416.0L386.4 415.2L385.6 414.8ZM391.0 416.1L390.0 415.9L389.1 416.1L388.3 416.8L387.5 418.2L387.2 419.2L387.5 420.2L388.2 420.9L389.2 421.2L392.9 421.4L393.9 421.1L394.7 420.4L395.0 419.4L394.7 418.3L393.9 417.6ZM397.1 417.8L396.5 418.5L396.2 419.4L396.4 420.3L397.0 421.0L400.0 423.4L401.1 423.8L402.2 423.5L403.5 422.8L404.2 422.2L404.5 421.3L404.4 420.4L403.1 416.8L402.4 415.9L401.3 415.5L400.1 415.8ZM406.0 414.1L405.0 414.2L404.2 414.8L403.8 415.7L403.9 416.7L405.6 421.1L406.6 422.2L408.6 423.2L409.9 423.4L410.9 422.8L413.6 420.1L414.2 419.2L414.1 418.2L413.6 417.3L411.2 415.0L410.1 414.5ZM416.8 416.7L416.6 417.7L416.9 418.7L417.7 419.4L420.6 420.7L421.5 420.9L422.4 420.6L423.8 419.8L424.3 419.4L425.6 418.1L426.1 417.2L426.1 416.2L425.6 415.3L424.7 414.8L420.3 413.4L419.4 413.3L418.5 413.7L417.9 414.4ZM426.3 418.6L425.8 419.5L425.8 420.5L426.3 421.4L427.3 422.4L428.1 423.0L429.2 423.0L430.1 422.5L430.6 421.7L431.4 419.2L431.5 418.1L431.0 417.2L430.1 416.6L429.8 416.5L428.7 416.5L427.8 417.0ZM220.9 423.5L220.0 423.8L219.3 424.5L219.0 425.5L219.3 426.4L219.9 427.2L220.8 427.5L259.0 432.1L259.4 432.1L279.5 430.7L280.4 430.5L281.1 429.9L281.4 429.0L281.9 424.8L281.7 423.6L280.8 422.7L274.4 419.7L273.3 419.5ZM282.2 429.4L282.3 430.3L282.8 431.1L283.6 431.6L284.5 431.6L289.6 430.9L290.6 430.4L291.2 429.6L291.3 428.5L290.6 425.3L290.3 424.5L289.6 424.0L288.7 423.7L284.7 423.7L283.8 423.9L283.1 424.5L282.7 425.4ZM292.4 429.6L292.8 430.5L293.6 431.0L294.6 431.1L295.5 430.8L296.1 430.0L298.9 424.1L299.1 423.1L298.8 422.2L298.1 421.5L295.8 420.1L294.9 419.9L294.0 420.1L293.2 420.7L291.6 422.7L291.3 423.5L291.3 424.3ZM302.4 423.0L301.4 422.9L300.5 423.3L299.9 424.0L297.8 428.4L297.6 429.3L297.9 430.2L298.5 430.9L299.4 431.2L304.0 431.7L305.0 431.6L305.1 431.5L306.1 430.6L306.1 430.5L306.3 429.6L306.3 425.8L305.9 424.6L305.0 423.9ZM309.4 423.4L308.3 423.6L307.4 424.4L307.1 425.4L307.1 428.0L307.4 429.0L308.0 429.7L308.9 430.0L312.4 430.4L313.5 430.3L314.3 429.6L314.6 428.6L314.5 427.6L313.2 424.9L312.5 424.1L311.6 423.7ZM321.1 423.1L320.8 422.2L320.1 421.6L319.2 421.4L318.3 421.6L315.4 422.8L314.6 423.5L314.2 424.5L314.4 425.5L316.8 430.5L317.5 431.4L318.0 431.7L318.9 432.0L319.8 431.9L320.6 431.4L321.4 430.6L321.8 429.8L321.9 428.9ZM330.0 421.6L329.3 421.0L328.3 420.9L323.8 421.3L322.8 421.7L322.2 422.5L322.0 423.6L322.6 427.9L323.0 428.8L323.7 429.4L324.6 429.6L327.1 429.7L328.2 429.4L328.9 428.6L331.0 424.7L331.2 423.6L330.8 422.5ZM329.9 428.7L329.6 429.8L330.1 430.9L331.0 431.5L335.8 433.1L337.0 433.1L338.0 432.4L338.7 431.5L339.1 430.6L339.1 429.6L337.7 425.3L336.9 424.3L335.8 423.9L333.6 423.9L332.6 424.2L331.8 425.0ZM340.2 423.1L339.2 423.6L338.7 424.6L338.7 425.7L339.7 428.9L340.5 429.9L341.7 430.3L344.1 430.3L345.3 429.9L346.0 428.9L347.3 424.8L347.4 423.8L346.9 422.9L346.1 422.3L345.0 422.2ZM353.2 432.6L354.4 432.7L355.3 432.1L357.5 429.8L358.0 428.9L357.9 427.8L357.2 425.6L356.6 424.8L354.9 423.3L353.6 422.8L350.3 422.8L349.1 423.2L348.4 424.2L347.0 428.4L347.0 429.4L347.4 430.3L348.3 430.9ZM364.0 430.2L365.1 430.3L367.0 429.8L368.2 428.9L369.1 427.4L369.4 426.3L369.1 425.2L366.1 420.9L365.3 420.2L364.2 420.1L363.2 420.5L358.9 424.2L358.3 425.2L358.3 426.3L358.8 427.8L359.3 428.5L360.1 429.0ZM371.8 426.7L370.7 426.9L370.0 427.6L369.4 428.6L369.1 429.8L369.6 431.0L371.9 433.4L372.9 434.0L374.1 433.9L375.0 433.2L377.2 430.0L377.5 429.0L377.3 428.0L376.6 427.2L375.6 426.9ZM379.8 425.9L379.3 426.7L379.3 427.6L379.6 428.4L380.8 430.1L381.7 430.8L382.8 430.9L383.9 430.4L386.1 428.2L386.6 427.4L386.6 426.5L386.3 425.6L385.1 423.8L384.1 423.0L382.9 423.0L381.9 423.6ZM388.8 422.1L387.7 422.3L386.9 423.1L386.7 424.1L387.0 425.2L387.8 426.4L388.5 426.9L389.9 427.8L390.8 428.1L391.7 428.0L392.5 427.4L392.9 426.7L393.4 424.7L393.4 423.5L392.7 422.6L391.6 422.2ZM397.7 422.7L396.9 422.3L395.9 422.4L395.1 422.9L394.6 423.7L394.0 425.8L394.0 426.8L394.6 427.8L395.5 428.3L397.1 428.6L398.0 428.6L398.8 428.2L399.4 427.5L399.9 426.2L400.1 425.4L399.8 424.6L399.3 423.9ZM406.5 423.1L405.5 422.9L404.6 423.2L401.9 424.7L401.1 425.6L399.8 428.5L399.7 429.4L400.0 430.3L400.1 430.5L400.8 431.2L401.7 431.4L402.7 431.2L408.8 428.1L409.7 427.2L409.8 426.0L409.8 425.7L409.4 424.8L408.7 424.2ZM416.9 419.9L415.7 419.8L414.6 420.3L411.2 423.8L410.7 424.6L410.6 425.5L410.9 427.0L411.2 427.9L412.4 429.5L413.5 430.2L414.8 430.6L415.8 430.5L420.2 429.2L421.0 428.8L421.5 428.0L421.6 427.1L421.2 423.0L420.9 422.0L420.1 421.4ZM422.4 426.9L422.8 427.9L423.6 428.5L424.6 428.7L427.4 428.5L428.5 428.2L429.1 427.3L429.2 426.2L428.7 425.2L425.6 421.8L424.7 421.3L423.7 421.3L422.9 421.7L422.3 422.4L422.1 423.4ZM430.3 425.2L430.3 426.2L430.5 427.5L430.8 428.3L431.6 428.9L437.4 431.8L438.8 432.0L474.2 422.7L475.1 422.1L475.6 421.1L475.5 419.9L474.8 419.1L473.7 418.7L434.4 417.4L433.2 417.8L432.5 418.8ZM269.0 432.3L268.0 432.7L267.4 433.5L267.2 434.5L267.5 435.5L268.4 436.1L277.5 440.2L278.6 440.3L279.6 439.9L280.2 439.1L282.1 434.3L282.2 433.3L281.8 432.4L281.1 431.7L280.1 431.6ZM286.4 432.2L285.5 432.6L284.9 433.4L284.7 434.5L285.1 435.4L287.8 438.7L288.7 439.4L289.7 439.5L290.7 439.0L293.2 436.6L293.7 435.9L293.9 435.1L293.8 433.4L293.5 432.5L292.9 431.8L292.7 431.8L291.4 431.5ZM296.9 431.8L295.8 432.0L294.9 432.8L294.7 433.9L294.7 435.2L295.4 436.5L297.2 438.2L298.1 438.7L299.1 438.6L300.8 438.1L301.5 437.7L302.0 437.0L302.8 435.1L303.0 434.2L302.7 433.3L302.1 432.6L301.2 432.3ZM307.4 434.6L306.6 433.9L305.6 433.6L304.6 434.0L303.9 434.8L303.1 436.7L302.9 438.0L303.6 439.0L305.7 440.8L306.7 441.3L307.9 441.1L308.7 440.4L309.2 439.7L309.5 438.6L309.2 437.5ZM310.0 431.0L308.9 431.2L308.1 431.9L307.7 433.0L308.0 434.0L309.9 437.0L310.7 437.8L311.9 438.0L315.3 437.5L316.5 436.9L317.9 435.4L318.4 434.4L318.2 433.2L317.5 432.4L316.9 432.0L316.1 431.7ZM320.7 432.5L320.2 433.4L320.2 434.5L320.7 435.3L323.3 437.8L324.0 438.3L324.9 438.3L326.9 438.0L328.0 437.5L328.6 436.5L329.3 433.0L329.3 431.8L328.5 430.9L327.4 430.5L323.5 430.5L322.7 430.6L322.1 431.1ZM336.0 436.7L336.3 435.9L336.3 434.9L335.8 434.2L335.0 433.7L332.5 432.9L331.4 432.8L330.4 433.4L329.9 434.3L329.3 436.9L329.4 438.0L330.0 438.9L331.1 439.9L332.1 440.3L333.2 440.2L334.1 439.5ZM338.4 433.3L337.9 434.2L338.0 435.2L338.6 436.0L339.0 436.4L340.0 436.9L343.1 437.4L344.3 437.3L345.2 436.5L345.4 435.3L345.3 433.0L345.0 432.1L344.3 431.4L343.3 431.1L341.0 431.2L340.2 431.4L339.5 431.9ZM348.9 432.0L347.9 431.9L347.0 432.3L346.4 433.0L346.2 434.0L346.3 435.4L346.7 436.4L347.6 437.1L348.7 437.2L349.7 436.7L350.7 435.7L351.2 434.8L351.3 433.8L350.8 432.9L350.0 432.4ZM356.2 438.1L356.6 438.9L357.3 439.5L358.2 439.7L359.1 439.5L362.6 437.7L363.4 437.0L363.7 436.1L364.0 432.7L363.8 431.9L363.3 431.1L362.6 430.7L360.1 429.9L359.0 429.9L358.1 430.4L356.0 432.6L355.5 433.4L355.5 434.4ZM364.5 436.6L364.8 437.9L365.6 439.2L366.4 439.9L367.4 440.1L368.4 439.8L369.1 439.1L371.0 435.7L371.2 434.5L370.7 433.4L368.7 431.3L367.8 430.7L366.8 430.7L366.3 430.8L365.3 431.5L364.8 432.6ZM375.9 433.3L375.6 434.4L375.9 435.5L376.7 436.2L377.8 436.4L379.9 436.2L380.8 435.9L381.5 435.2L381.7 434.2L381.7 433.5L381.3 432.4L380.6 431.3L379.9 430.7L378.9 430.4L378.0 430.7L377.3 431.3ZM382.6 434.3L382.9 435.4L383.9 436.1L385.1 436.2L388.5 435.2L389.5 434.6L390.0 433.5L390.3 430.4L390.1 429.3L389.4 428.5L389.2 428.4L388.4 428.1L387.5 428.2L386.8 428.7L383.1 432.3L382.7 433.0L382.5 433.8ZM393.6 428.7L392.5 428.8L391.6 429.4L391.2 430.4L390.8 434.0L390.9 434.9L391.4 435.7L393.7 437.8L394.6 438.3L395.6 438.3L397.2 437.8L398.4 436.9L400.0 434.1L400.3 433.0L400.0 432.0L399.1 430.6L398.6 430.0L397.9 429.7ZM404.5 431.2L403.7 432.0L403.4 433.0L403.8 434.1L404.6 434.8L407.1 436.0L408.1 436.2L409.1 435.9L409.7 435.1L411.4 431.7L411.7 430.7L411.4 429.8L410.7 429.1L409.7 428.8L408.7 429.0ZM415.5 433.1L415.0 432.3L414.2 431.8L413.3 431.8L412.4 432.1L411.8 432.8L409.8 436.9L409.6 438.1L409.8 439.3L410.2 440.3L411.1 440.9L412.2 440.9L415.5 440.2L416.4 439.6L417.0 438.7L416.9 437.6ZM418.0 438.1L418.5 438.9L419.4 439.4L420.5 439.4L421.3 438.8L422.9 437.2L423.3 436.4L423.4 435.4L422.6 431.7L422.1 430.7L421.2 430.1L420.1 430.1L417.8 430.8L416.9 431.4L416.4 432.3L416.5 433.4ZM425.4 429.5L424.3 429.9L423.6 430.8L423.5 431.9L424.1 434.9L424.7 435.9L425.7 436.5L431.2 437.5L432.2 437.5L433.0 437.0L435.3 434.7L435.8 433.9L435.9 433.0L435.5 432.1L434.8 431.5L430.7 429.4L429.6 429.2ZM280.6 440.4L280.5 441.4L280.9 442.3L281.7 443.0L282.7 443.1L286.0 442.7L286.9 442.3L287.6 441.5L287.7 440.5L287.3 439.5L285.2 436.9L284.4 436.2L283.4 436.1L282.4 436.5L281.8 437.4ZM297.5 440.4L296.9 439.1L295.7 438.0L294.8 437.5L293.9 437.5L293.0 438.0L289.9 440.9L289.3 441.8L289.3 442.0L289.2 442.7L289.5 443.5L291.2 446.4L291.8 447.0L292.7 447.3L292.7 447.3L293.5 447.3L294.2 446.9L297.0 444.7L297.5 443.9L297.7 443.0ZM302.7 439.4L301.8 438.9L300.8 439.0L299.8 439.3L299.1 439.7L298.6 440.4L298.4 441.3L298.5 442.6L298.9 443.6L299.9 444.3L302.4 445.2L303.7 445.2L304.7 444.4L305.1 443.8L305.5 442.9L305.3 441.9L304.8 441.1ZM309.9 440.1L309.6 441.3L310.0 442.4L312.8 446.0L313.6 446.5L314.6 446.7L315.5 446.4L315.9 446.1L316.6 445.2L316.8 444.1L316.2 440.2L315.8 439.3L314.9 438.6L313.9 438.5L311.5 438.9L310.7 439.2L310.1 439.8ZM317.4 437.2L316.9 438.0L316.8 438.9L317.6 444.0L318.1 445.0L319.1 445.6L321.3 446.2L322.2 446.2L323.1 445.8L323.7 445.1L323.8 444.1L323.5 439.9L322.9 438.6L320.7 436.5L319.8 436.0L318.8 436.1L317.9 436.6ZM324.7 444.7L325.1 445.8L325.9 446.4L326.1 446.5L327.0 446.6L327.9 446.3L331.0 444.2L331.7 443.2L331.8 442.0L331.2 441.0L329.2 439.3L328.4 438.9L327.6 438.8L326.1 439.0L325.2 439.4L324.6 440.2L324.4 441.1ZM333.9 441.2L333.6 442.1L333.8 443.2L334.4 444.0L337.0 445.7L338.3 446.1L339.3 446.0L340.2 445.7L340.9 445.1L341.2 444.2L341.0 443.3L339.4 438.9L338.7 438.0L337.7 437.6L336.7 437.7L335.9 438.4ZM343.3 438.3L342.3 438.4L341.4 439.0L341.0 440.0L341.1 441.0L341.7 442.7L342.4 443.6L343.5 444.0L344.6 443.7L345.9 443.0L346.6 442.1L346.8 441.0L346.7 440.4L346.4 439.5L346.3 439.4L345.0 438.6ZM355.1 436.9L354.7 435.9L353.8 435.3L352.7 435.3L351.8 435.8L348.2 439.2L347.7 440.0L347.6 440.9L347.7 441.0L348.1 442.0L348.9 442.6L350.0 443.0L350.9 443.2L351.8 442.9L354.7 441.1L355.4 440.2L355.6 439.0ZM364.8 439.5L364.1 438.8L363.2 438.6L362.2 438.8L360.0 440.0L359.2 440.8L358.9 441.9L359.3 443.0L360.0 443.8L360.8 444.4L361.8 444.6L362.8 444.2L364.7 442.7L365.3 441.9L365.5 441.0L365.2 440.0ZM374.5 436.0L373.5 435.5L372.3 435.7L371.5 436.5L369.3 440.4L369.1 441.3L369.2 442.2L369.8 442.9L370.8 443.8L371.9 444.3L373.0 444.1L373.5 443.9L374.1 443.3L374.5 442.6L375.6 438.3L375.5 437.2L374.9 436.3ZM382.9 438.7L382.5 437.8L381.7 437.2L380.8 437.0L378.1 437.2L377.0 437.7L376.3 438.7L375.6 441.8L375.6 442.7L376.0 443.6L376.8 444.1L378.9 444.9L380.3 444.9L382.1 444.3L382.9 443.8L383.3 443.0L383.4 442.1ZM392.4 442.2L393.3 441.1L393.5 440.5L393.5 439.3L393.0 438.4L390.9 436.4L390.1 435.9L389.0 435.9L385.3 437.0L384.4 437.5L383.9 438.3L383.8 439.2L384.4 442.9L384.7 443.7L385.2 444.3L385.8 444.7L386.9 445.0L388.0 444.8ZM394.1 441.1L394.0 442.0L394.3 442.8L396.5 446.4L397.2 447.0L398.1 447.3L399.0 447.2L399.7 446.7L401.6 444.6L402.1 443.8L402.1 442.8L401.6 441.9L399.0 439.3L398.1 438.7L397.0 438.8L395.7 439.2L394.9 439.6L394.4 440.4ZM399.6 436.5L399.3 437.8L399.9 438.9L403.2 442.3L404.4 442.9L407.0 443.1L408.2 442.9L409.0 442.0L409.1 440.8L408.8 438.7L408.5 437.9L407.7 437.3L402.7 434.8L401.7 434.6L400.8 434.9L400.1 435.6ZM410.9 442.1L410.0 442.6L409.5 443.5L409.5 444.6L409.7 445.5L410.3 446.4L413.8 449.7L414.6 450.1L415.6 450.2L417.2 449.8L418.2 449.4L418.7 448.5L420.3 443.7L420.3 442.4L420.1 441.9L419.6 441.2L419.0 440.8L418.7 440.7L417.5 440.6ZM421.6 439.8L421.1 440.6L421.1 441.7L421.7 442.5L422.5 443.1L428.0 444.6L429.4 444.5L430.0 444.2L430.7 443.6L431.1 442.8L431.5 440.5L431.5 439.5L430.9 438.6L429.9 438.1L425.3 437.2L424.3 437.3L423.4 437.8ZM277.1 449.5L276.6 450.2L276.4 451.2L276.7 452.1L277.1 452.6L277.9 453.3L278.9 453.6L282.0 453.3L283.0 453.0L283.6 452.3L283.9 451.3L283.6 450.4L282.9 449.6L280.7 448.3L279.5 448.0L278.4 448.4ZM282.2 444.0L281.3 444.4L280.7 445.1L280.5 446.0L280.7 447.0L281.4 447.7L286.0 450.6L286.9 450.9L287.8 450.7L288.6 450.2L290.0 448.7L290.4 447.5L290.2 446.3L289.0 444.4L288.2 443.6L287.1 443.4ZM303.1 454.2L304.2 453.8L304.9 452.9L305.0 451.7L303.9 447.6L303.5 446.7L302.6 446.1L299.3 445.0L298.3 445.0L297.4 445.4L295.7 446.8L295.1 447.6L295.0 448.6L295.4 449.5L298.3 453.4L299.0 454.0L299.9 454.2ZM309.6 443.3L308.9 442.7L308.0 442.5L307.1 442.8L306.4 443.4L305.0 445.5L304.7 446.3L304.7 447.1L305.5 450.2L306.0 451.2L307.0 451.7L308.1 451.6L311.7 450.4L312.3 449.9L312.8 449.3L312.9 449.1L313.0 448.1L312.6 447.1ZM314.7 447.9L314.0 448.8L313.8 449.1L313.7 450.2L314.2 451.3L316.4 453.5L317.3 454.1L318.3 454.1L319.2 453.6L319.7 452.7L320.9 449.1L320.9 448.1L320.4 447.1L319.5 446.6L318.4 446.3L317.5 446.2L316.8 446.5ZM323.5 446.9L322.6 447.4L322.0 448.3L321.2 450.9L321.2 451.8L321.5 452.6L322.2 453.2L323.1 453.5L325.4 453.5L326.5 453.2L327.2 452.4L327.4 452.0L327.6 450.6L327.0 448.6L326.6 447.8L325.9 447.3L325.0 446.9L323.7 446.9ZM328.8 446.7L328.0 447.7L328.0 448.9L328.3 450.0L328.8 450.8L329.6 451.3L332.8 452.3L333.7 452.4L334.6 452.0L335.2 451.1L336.4 448.2L336.5 447.3L336.2 446.5L335.6 445.8L334.0 444.7L332.9 444.3L331.7 444.7ZM336.1 451.2L336.0 452.3L336.4 453.2L337.2 453.8L338.3 453.9L341.7 453.4L342.8 452.8L343.3 451.8L343.2 450.6L342.1 448.0L341.3 447.1L340.1 446.8L339.0 446.9L337.9 447.3L337.3 448.2ZM343.7 445.2L343.0 445.9L342.8 446.8L342.9 447.7L343.8 449.9L344.3 450.6L345.1 451.0L346.0 451.1L350.0 450.5L351.0 450.0L351.6 449.1L351.6 448.0L350.9 445.2L350.5 444.3L349.7 443.8L348.4 443.3L347.5 443.2L346.6 443.5ZM357.7 442.3L357.0 441.7L356.0 441.5L355.1 441.8L352.7 443.3L351.9 444.2L351.8 445.5L352.7 448.9L353.2 449.8L354.2 450.4L358.2 451.2L359.4 451.1L360.3 450.4L360.6 449.3L360.7 446.8L360.3 445.6ZM361.5 450.1L361.7 451.0L362.3 451.7L363.1 452.1L364.1 452.0L369.2 450.4L370.0 449.9L370.5 449.0L371.1 446.5L371.0 445.5L370.4 444.6L368.5 442.9L367.7 442.5L366.8 442.5L365.9 442.8L362.3 445.6L361.7 446.3L361.5 447.2ZM377.4 450.7L378.2 450.1L378.6 449.2L378.9 447.5L378.8 446.6L378.4 445.8L377.6 445.3L375.5 444.5L374.7 444.4L373.9 444.6L373.0 445.1L372.3 445.6L371.9 446.4L371.4 449.1L371.4 450.2L372.0 451.1L372.5 451.5L373.5 451.9L374.6 451.8ZM381.3 451.8L382.2 452.2L383.2 452.0L383.9 451.5L386.2 449.1L386.6 448.3L386.7 447.4L386.6 447.0L386.3 446.2L385.8 445.7L384.9 445.1L384.0 444.7L383.1 444.8L381.1 445.5L380.2 446.2L379.8 447.1L379.5 449.2L379.6 450.2L380.3 451.1ZM391.7 451.8L392.8 452.2L393.9 452.1L395.9 451.1L396.7 450.3L397.0 449.3L396.7 448.2L394.2 444.3L393.5 443.6L392.5 443.4L391.5 443.6L388.5 445.4L387.7 446.3L387.5 447.5L387.5 447.5L388.2 448.8ZM399.3 448.4L398.8 449.4L398.9 450.5L399.5 451.4L401.1 452.6L402.0 452.9L403.0 452.8L403.8 452.2L408.1 447.2L408.6 446.2L408.4 445.2L407.8 444.3L406.7 443.9L404.7 443.8L403.8 443.9L403.0 444.4ZM404.5 452.8L404.1 453.7L404.1 454.7L404.7 455.6L405.6 456.0L406.7 455.9L412.1 454.1L412.9 453.6L413.3 452.8L413.6 452.2L413.6 451.1L413.0 450.1L411.1 448.3L410.1 447.8L409.0 447.8L408.2 448.4ZM419.6 448.4L419.6 449.6L420.4 450.7L421.0 451.1L422.1 451.5L424.3 451.6L425.5 451.3L426.3 450.3L427.4 447.6L427.5 446.5L427.0 445.5L426.1 444.9L423.1 444.1L422.1 444.1L421.2 444.5L420.7 445.4ZM427.7 449.1L427.6 450.3L428.1 451.3L429.1 451.8L430.2 451.7L433.3 450.6L434.1 450.1L434.6 449.2L434.5 448.2L434.0 447.3L432.2 445.5L431.1 445.0L429.9 445.2L429.8 445.2L428.8 446.3ZM279.0 458.9L279.5 459.8L280.4 460.4L281.5 460.4L286.1 459.0L286.9 458.5L287.4 457.7L287.5 456.7L287.3 455.6L286.9 454.7L286.1 454.1L285.2 453.9L280.3 454.3L279.3 454.7L278.6 455.6L278.5 456.7ZM288.3 451.8L287.9 452.8L287.8 453.0L287.8 453.7L288.5 457.7L288.8 458.4L289.4 459.0L290.7 459.9L291.4 460.2L292.2 460.2L292.3 460.1L293.3 459.6L296.9 455.9L297.4 455.1L297.5 454.1L297.1 453.3L294.0 449.0L293.0 448.3L291.9 448.3L290.9 448.9ZM295.4 458.7L294.9 459.7L294.9 460.8L295.6 461.7L297.6 463.2L298.8 463.5L300.0 463.2L304.7 459.7L305.5 458.7L305.4 457.4L305.0 456.3L304.3 455.4L303.1 455.0L299.7 455.1L298.3 455.7ZM306.8 453.0L306.0 453.6L305.5 454.5L305.6 455.6L306.7 458.4L307.1 459.0L308.8 460.9L309.9 461.5L311.1 461.4L316.3 458.9L317.1 458.2L317.4 457.1L317.4 456.6L316.8 455.2L313.6 451.8L312.6 451.3L311.5 451.3ZM326.5 456.3L326.3 455.3L325.5 454.6L324.6 454.3L320.8 454.3L319.4 454.8L318.9 455.2L318.4 455.9L318.3 456.7L318.3 457.4L318.5 458.3L319.1 459.0L321.7 461.0L322.6 461.4L324.2 461.6L325.4 461.5L326.2 460.7L326.5 459.6ZM330.1 452.4L329.1 452.3L328.3 452.7L327.7 453.4L327.6 453.6L327.3 454.5L327.4 459.3L327.6 460.2L328.2 460.9L329.1 461.3L332.3 461.7L333.3 461.6L334.2 461.0L334.5 460.0L335.0 455.6L334.9 454.7L334.4 453.9L333.6 453.5ZM335.3 461.0L335.4 462.0L336.0 462.8L336.9 463.2L337.9 463.1L343.4 461.2L344.2 460.6L344.7 459.7L344.7 458.7L343.8 455.7L343.4 454.9L342.5 454.3L341.6 454.2L337.4 454.9L336.3 455.5L335.7 456.7ZM346.0 451.9L345.0 452.4L344.4 453.3L344.4 454.4L345.5 458.5L346.1 459.5L347.1 460.0L348.2 459.8L348.8 459.5L349.4 459.0L349.8 458.3L351.1 454.1L351.1 453.1L350.7 452.2L349.8 451.6L348.9 451.5ZM354.7 451.3L353.7 451.3L352.8 451.9L352.3 452.7L351.1 456.8L351.2 458.0L351.8 458.9L352.8 459.4L355.9 459.7L357.3 459.4L358.6 458.5L359.3 457.5L360.2 454.8L360.3 453.7L359.7 452.7L358.8 452.2ZM364.3 454.9L363.4 454.3L362.4 454.3L361.4 454.7L360.8 455.6L360.3 457.2L360.3 458.2L360.7 459.1L363.0 461.9L363.8 462.4L364.8 462.6L365.7 462.2L366.9 461.4L367.5 460.5L367.7 459.4L367.2 458.5ZM371.4 451.6L370.5 451.2L369.5 451.2L366.6 452.1L365.8 452.6L365.3 453.5L365.3 454.4L365.7 455.3L368.9 459.2L370.2 459.9L372.1 460.2L373.1 460.1L373.9 459.5L374.3 458.6L374.3 457.6L373.2 453.6L372.5 452.6ZM380.5 458.1L381.5 457.8L382.1 457.0L382.4 456.1L382.4 454.6L382.2 453.7L381.5 453.0L379.6 451.7L378.7 451.3L377.8 451.5L375.5 452.3L374.8 452.9L374.3 453.8L374.4 454.7L375.0 456.8L375.4 457.6L376.1 458.2L377.0 458.3ZM383.8 453.0L383.2 454.3L383.2 455.1L383.4 456.0L384.1 456.7L384.9 457.1L389.2 457.7L390.1 457.7L390.9 457.1L391.4 456.3L391.9 454.5L391.8 453.4L391.2 452.5L388.8 450.3L387.8 449.9L386.8 450.0L386.0 450.5ZM391.9 457.8L392.0 459.1L392.5 460.3L393.3 461.2L394.4 461.8L395.5 462.1L396.5 461.7L402.0 458.1L402.6 457.4L402.9 456.6L402.8 455.7L402.5 455.1L401.8 454.1L398.7 451.8L397.7 451.4L396.6 451.6L393.8 453.0L393.2 453.6L392.8 454.3ZM406.9 456.8L405.9 457.5L405.5 458.6L405.8 459.8L407.8 462.7L408.5 463.4L409.5 463.6L410.5 463.3L413.6 461.4L414.2 460.8L414.5 460.0L414.4 459.1L413.7 456.6L413.1 455.7L412.2 455.3L411.1 455.3ZM415.2 458.6L415.9 459.6L417.1 460.0L418.3 460.0L419.2 459.8L419.9 459.2L420.3 458.2L420.8 453.2L420.6 452.2L420.0 451.4L419.3 450.9L418.5 450.6L417.7 450.6L415.9 451.0L415.0 451.4L414.4 452.3L414.0 453.5L414.0 454.7ZM423.6 452.4L422.6 452.6L421.9 453.3L421.5 454.2L421.0 459.0L421.2 460.1L421.9 460.9L422.7 461.4L423.8 461.8L424.9 461.5L427.4 459.9L428.0 459.3L428.3 458.4L428.2 457.5L426.9 453.9L426.5 453.2L426.4 453.1L425.0 452.5ZM437.8 450.6L437.0 450.3L436.2 450.5L429.6 452.9L428.7 453.5L428.3 454.4L428.3 455.4L429.2 457.8L429.8 458.7L430.7 459.1L447.2 462.7L447.6 462.7L453.2 463.0L454.2 462.7L455.0 462.0L455.3 461.0L455.0 459.9L454.2 459.2ZM280.0 463.5L279.3 462.6L278.4 462.3L277.4 462.4L275.4 463.3L274.5 464.0L274.2 465.1L274.5 466.2L278.1 472.0L278.9 472.7L279.9 472.9L280.9 472.6L281.6 471.9L282.3 470.6L282.5 469.7L282.3 468.8ZM288.3 467.9L289.3 467.4L289.8 466.4L290.6 462.3L290.4 461.1L289.7 460.2L289.0 459.8L288.2 459.4L287.3 459.5L282.3 461.0L281.4 461.6L280.9 462.6L281.0 463.7L282.8 467.7L283.3 468.4L284.2 468.8L285.1 468.8ZM290.6 466.8L290.6 467.8L291.1 468.6L292.0 469.1L296.3 470.3L297.3 470.4L298.2 469.9L298.8 469.2L299.0 468.6L299.1 467.3L298.6 465.5L297.9 464.4L294.4 461.8L293.5 461.5L292.5 461.6L291.7 462.2L291.3 463.1ZM301.0 463.5L300.3 464.3L300.2 465.4L300.6 466.3L301.4 467.0L302.5 467.1L307.6 466.2L308.5 465.8L309.1 465.1L309.3 464.2L309.3 463.4L308.8 462.1L307.6 460.9L306.8 460.3L305.9 460.2L305.0 460.6ZM313.3 467.1L314.2 467.4L316.5 467.3L317.4 467.1L318.1 466.4L320.3 463.4L320.6 462.4L320.4 461.4L319.8 460.6L318.8 459.8L317.8 459.4L316.7 459.6L311.3 462.2L310.4 463.0L310.1 464.1L310.1 464.4L310.4 465.4L311.2 466.1ZM319.1 466.5L318.8 467.7L319.2 468.8L321.0 471.2L321.8 471.8L322.7 472.0L323.7 471.7L324.3 471.0L324.6 470.1L324.8 464.8L324.6 463.8L323.9 463.0L322.9 462.7L321.9 462.9L321.2 463.6ZM325.4 469.9L325.7 470.9L326.3 471.6L327.2 472.0L328.2 471.8L333.6 469.7L334.2 469.3L334.7 468.6L335.8 465.9L335.9 465.1L335.9 465.1L335.3 463.7L335.0 463.4L333.9 462.8L327.9 462.0L326.9 462.1L326.0 462.8L325.7 463.9ZM339.3 463.5L338.4 464.1L338.0 465.1L338.1 466.1L338.7 467.0L342.1 469.6L342.9 470.0L343.7 470.0L344.5 469.6L347.1 467.7L347.6 467.0L347.9 466.2L347.7 465.3L346.7 462.9L346.1 462.1L345.2 461.7L344.2 461.8ZM351.1 468.1L352.0 468.5L353.0 468.4L354.5 467.8L355.4 467.1L355.8 466.1L356.2 462.6L356.0 461.6L355.4 460.8L354.4 460.4L350.6 459.9L349.5 460.1L348.7 460.5L347.9 461.1L347.6 462.1L347.7 463.1L349.0 466.1L349.6 466.9ZM360.6 460.4L359.7 459.7L358.5 459.7L357.6 460.4L357.1 461.4L356.7 465.9L356.9 467.1L357.8 468.0L361.0 469.4L362.3 469.5L362.4 469.5L363.3 469.1L363.9 468.3L364.0 467.4L363.8 464.7L363.3 463.5ZM364.8 466.2L365.1 467.2L365.9 467.8L367.0 468.0L367.9 467.6L372.2 464.5L372.8 463.8L373.0 462.9L372.8 461.9L372.2 461.2L371.3 460.9L370.1 460.7L368.7 461.1L365.5 463.4L364.9 464.2L364.7 465.2ZM381.6 465.6L382.3 464.7L382.4 463.4L381.6 460.5L381.1 459.7L380.4 459.1L379.5 459.0L376.3 459.2L375.4 459.4L374.8 460.0L374.5 460.4L374.1 461.6L374.2 463.0L374.7 464.1L376.7 466.7L377.5 467.3L378.5 467.4L379.4 467.1ZM384.7 457.9L383.7 458.0L382.9 458.5L382.4 459.4L382.4 460.4L383.3 463.6L383.8 464.5L384.6 465.0L385.4 465.3L386.4 465.3L387.3 464.9L390.6 462.2L391.2 461.2L391.2 460.1L390.6 459.1L389.6 458.7ZM388.1 465.3L387.6 466.1L387.4 467.0L387.7 467.9L388.4 468.5L390.7 470.0L391.6 470.3L392.6 470.1L393.3 469.6L395.4 466.9L395.8 466.0L395.8 465.0L395.4 463.9L394.5 462.8L393.7 462.4L392.5 462.1L391.4 462.6ZM404.8 459.6L404.0 458.9L403.0 458.7L402.0 459.1L397.3 462.2L396.7 462.8L396.4 463.7L396.5 464.5L396.7 465.2L397.5 466.2L400.8 468.5L401.9 468.8L403.0 468.5L406.7 466.4L407.4 465.7L407.7 464.6L407.4 463.6ZM410.5 464.2L409.8 465.0L409.6 466.1L410.0 467.1L411.7 469.5L412.7 470.2L413.9 470.3L415.6 469.8L416.6 469.2L417.1 468.1L416.9 467.0L415.3 463.8L414.6 463.0L413.5 462.7L412.5 463.0ZM418.0 460.9L417.0 461.1L416.3 461.8L416.0 462.8L416.2 463.8L417.4 466.1L418.2 467.0L419.3 467.2L420.3 466.9L422.3 465.5L423.0 464.8L423.2 463.9L423.0 462.9L422.3 462.2L420.8 461.2L419.7 460.9ZM425.1 462.3L424.4 463.0L424.1 463.9L424.1 464.4L424.4 465.6L425.8 467.7L426.8 468.4L428.0 468.5L438.2 465.4L439.1 464.9L439.6 464.0L439.5 462.9L439.0 462.0L438.0 461.6L430.1 459.9L428.7 460.1ZM281.7 473.4L281.4 474.6L281.9 475.7L282.9 476.3L287.2 477.5L288.3 477.5L289.3 476.8L289.7 475.8L290.3 471.1L290.2 470.2L289.6 469.4L288.7 468.9L287.8 469.0L284.3 469.9L283.6 470.2L283.1 470.8ZM293.6 470.4L292.4 470.4L291.5 471.0L291.0 472.1L290.6 475.3L290.7 476.3L291.2 477.0L292.0 477.5L293.0 477.5L297.4 476.7L298.4 476.2L299.0 475.2L298.9 474.1L298.4 472.6L297.8 471.9L297.0 471.4ZM299.1 470.6L299.0 472.1L300.4 475.8L301.1 476.7L301.6 477.1L302.5 477.4L303.5 477.3L305.5 476.6L306.3 476.0L306.7 475.2L308.1 469.8L308.1 468.8L307.6 468.0L306.8 467.5L305.8 467.4L301.1 468.2L300.2 468.6L299.6 469.4ZM307.9 473.8L307.9 474.8L308.4 475.6L309.1 476.2L310.1 476.3L311.0 476.0L313.6 474.3L314.4 473.3L314.4 472.0L313.5 468.9L313.1 468.2L312.5 467.7L312.0 467.5L310.9 467.3L309.8 467.7L309.2 468.8ZM318.6 469.4L317.7 468.8L316.6 468.7L315.6 469.2L315.1 470.2L315.1 471.2L315.4 472.2L315.9 473.1L316.8 473.5L317.4 473.7L318.3 473.6L319.2 473.2L319.7 472.3L319.8 471.4L319.4 470.5ZM335.1 472.3L334.5 471.4L333.5 470.9L332.4 471.1L327.8 472.9L326.9 473.5L326.5 474.5L326.7 475.6L328.0 478.3L328.6 479.0L329.4 479.4L330.3 479.3L334.7 478.3L335.6 477.8L336.2 476.8L336.1 475.7ZM336.8 475.0L337.3 475.9L338.2 476.4L339.2 476.4L340.1 475.9L342.3 473.7L342.9 472.8L342.8 471.6L342.2 470.7L338.6 467.9L337.8 467.5L336.9 467.6L336.1 468.0L335.5 468.7L335.4 469.1L335.3 470.4ZM345.1 470.2L344.5 471.0L344.3 472.0L344.6 473.0L345.4 473.6L348.1 475.0L349.0 475.2L350.0 475.0L350.7 474.3L351.0 473.4L351.3 470.5L351.2 469.5L350.6 468.7L350.0 468.3L349.3 468.0L348.4 468.0L347.6 468.3ZM351.8 474.1L352.0 475.3L352.8 476.1L353.9 476.3L356.8 476.2L357.7 475.9L358.4 475.1L360.0 472.2L360.2 471.1L359.9 470.1L359.0 469.4L356.8 468.4L356.0 468.2L355.3 468.4L353.4 469.1L352.5 469.8L352.1 470.8ZM362.8 470.3L362.0 470.6L361.4 471.3L359.3 475.2L359.0 476.4L359.5 477.5L360.8 479.0L361.8 479.6L362.9 479.6L363.9 478.9L366.9 475.1L367.4 474.0L367.0 472.7L365.7 470.9L364.8 470.2L363.6 470.1ZM375.6 475.1L376.7 474.4L377.2 473.2L377.3 469.6L376.9 468.3L375.0 465.9L374.2 465.3L373.2 465.1L372.2 465.5L367.7 468.9L367.0 469.7L366.9 470.7L367.2 471.6L368.3 473.1L369.2 473.9L373.1 475.4L374.3 475.4ZM384.2 465.8L383.3 465.7L382.5 466.0L379.0 468.4L378.4 469.0L378.2 469.9L378.1 471.8L378.3 472.9L379.1 473.7L380.2 473.9L382.5 473.8L383.5 473.5L384.1 472.7L386.2 468.9L386.5 467.8L386.0 466.7L385.1 466.0ZM390.5 474.4L391.3 473.7L391.6 472.7L391.3 471.7L390.6 470.9L389.0 469.9L388.0 469.6L387.0 469.9L386.2 470.7L385.3 472.3L385.1 473.3L385.3 474.3L386.0 475.0L386.7 475.4L387.7 475.7L388.7 475.4ZM392.7 472.7L393.0 473.6L393.6 474.3L395.9 476.0L396.8 476.4L397.9 476.2L400.0 475.3L400.9 474.6L401.2 473.6L401.4 471.0L401.2 470.0L400.5 469.2L398.2 467.7L397.3 467.4L396.3 467.5L395.5 468.1L393.2 471.1L392.7 472.4ZM402.1 473.6L402.2 474.5L402.8 475.2L403.6 475.6L404.5 475.6L410.3 474.3L411.3 473.6L411.8 472.5L411.8 472.0L411.5 470.6L409.5 467.8L408.7 467.2L407.8 467.0L406.9 467.3L403.2 469.4L402.5 470.1L402.2 471.0ZM414.5 478.5L415.3 479.3L416.3 479.7L417.4 479.3L420.4 477.5L421.1 476.7L421.3 475.6L420.9 474.6L418.3 471.2L417.4 470.5L416.2 470.5L414.1 471.1L413.1 471.7L412.6 472.8L412.5 473.6L412.7 474.7ZM419.8 468.3L419.1 469.1L418.9 470.1L419.3 471.1L422.1 474.8L422.8 475.4L423.8 475.5L424.7 475.3L425.4 474.6L425.7 473.7L425.9 470.2L425.6 469.0L424.7 467.5L423.9 466.7L422.8 466.5L421.9 466.9ZM285.0 477.8L284.1 477.7L283.3 478.1L282.7 478.9L282.5 479.8L287.6 571.6L287.9 572.5L288.7 573.2L289.6 573.5L290.6 573.2L291.3 572.5L291.6 571.6L292.9 547.7L292.9 547.4L289.4 480.4L289.0 479.2L287.9 478.5ZM291.9 478.6L291.0 479.0L290.5 479.7L290.3 480.7L292.4 521.0L292.7 522.0L293.4 522.6L294.3 522.9L295.3 522.7L296.0 522.1L296.4 521.2L301.8 479.5L301.7 478.5L301.0 477.7L300.9 477.6L300.1 477.2L299.3 477.2ZM314.1 481.4L314.9 481.9L315.9 481.9L316.7 481.5L317.3 480.7L318.8 477.3L318.9 476.1L318.4 475.1L317.4 474.5L316.3 474.3L315.5 474.3L314.7 474.5L312.2 476.2L311.5 477.1L311.3 478.2L311.9 479.3ZM317.0 483.6L317.0 484.9L319.6 493.7L320.2 494.6L321.0 495.1L322.0 495.1L322.9 494.6L323.4 493.8L327.8 481.0L327.7 479.5L325.5 474.9L324.7 474.1L323.5 473.8L322.9 473.9L322.0 474.2L321.2 474.7L320.4 475.6ZM344.9 474.3L343.7 474.1L342.6 474.6L339.7 477.4L339.2 478.1L339.1 479.1L339.4 479.9L339.7 480.3L340.5 481.0L341.6 481.2L342.6 480.8L346.1 478.2L346.7 477.4L346.9 476.4L346.6 475.4L345.8 474.8ZM351.6 479.0L351.3 478.0L350.5 477.3L349.4 477.1L348.4 477.5L342.2 482.2L341.5 483.0L341.4 484.1L350.8 538.6L351.2 539.5L352.0 540.1L353.0 540.2L354.0 539.9L354.6 539.1L354.8 538.1ZM355.3 531.6L355.6 532.5L356.3 533.2L357.2 533.5L358.2 533.3L358.9 532.6L359.3 531.7L362.6 506.2L362.6 505.9L362.0 482.4L361.5 481.1L358.6 477.7L357.8 477.1L356.9 477.0L354.4 477.2L353.4 477.5L352.7 478.2L352.5 479.3ZM363.1 493.0L363.4 494.1L364.3 494.8L365.3 494.9L366.3 494.5L367.0 493.6L372.5 478.1L372.6 477.1L372.1 476.2L371.3 475.6L369.9 475.0L368.6 474.9L367.6 475.6L363.3 481.1L362.8 482.4ZM388.9 501.1L388.8 500.8L377.4 477.2L376.8 476.5L376.0 476.1L375.1 476.1L375.1 476.1L374.2 476.6L373.6 477.4L363.5 506.0L363.4 506.4L356.7 558.0L356.7 558.1L356.0 568.4L356.0 568.6L678.9 31723.8L679.2 31724.8L679.9 31725.6L680.9 31725.8L681.9 31725.6L682.7 31724.8L682.9 31723.8L400.2 639.6L400.2 639.5L389.1 501.7L389.0 501.3ZM380.2 474.8L379.3 475.0L378.6 475.7L378.3 476.7L378.5 477.6L384.2 489.4L384.9 490.2L386.0 490.5L387.0 490.2L387.8 489.4L388.0 488.4L387.3 477.7L387.0 476.8L386.4 476.2L384.3 474.9L383.1 474.6ZM388.9 488.5L389.2 489.5L390.1 490.2L391.2 490.3L392.2 489.9L392.8 488.9L395.9 478.7L395.8 477.5L395.1 476.5L393.3 475.1L392.3 474.8L391.2 475.0L389.2 476.1L388.4 476.9L388.2 478.0ZM398.0 477.1L397.3 477.6L396.8 478.4L390.0 501.1L389.9 501.8L398.4 607.4L398.8 608.3L399.5 609.0L400.4 609.2L401.4 609.0L402.1 608.3L402.4 607.4L410.1 497.1L410.0 496.3L403.0 477.3L402.4 476.4L401.4 476.0L400.3 476.1ZM414.6 481.9L414.5 480.5L412.5 476.2L411.9 475.5L411.1 475.1L410.2 475.1L405.9 476.2L404.9 476.7L404.4 477.7L404.4 478.8L408.5 489.7L409.0 490.5L409.9 491.0L410.9 491.0L411.7 490.5L412.3 489.6Z" fill="#f3e4eb"/>
<g fill="#d42c7c"><circle cx="346.4" cy="461.1" r="1.2"/><circle cx="347.8" cy="384.6" r="0.8"/><circle cx="385.3" cy="368.3" r="0.9"/><circle cx="421.5" cy="421.6" r="1.1"/><circle cx="398.7" cy="374.7" r="1.2"/><circle cx="395.7" cy="368.0" r="1.0"/><circle cx="414.6" cy="282.2" r="1.3"/><circle cx="418.3" cy="468.8" r="1.2"/><circle cx="426.4" cy="469.4" r="1.2"/><circle cx="423.8" cy="462.6" r="1.1"/><circle cx="420.4" cy="460.5" r="0.9"/><circle cx="399.0" cy="429.5" r="1.1"/><circle cx="376.4" cy="437.0" r="1.6"/><circle cx="382.6" cy="422.1" r="0.8"/><circle cx="317.8" cy="458.6" r="1.7"/><circle cx="283.2" cy="469.7" r="0.8"/><circle cx="299.7" cy="468.0" r="1.8"/><circle cx="291.3" cy="460.8" r="1.8"/><circle cx="290.9" cy="469.2" r="1.0"/><circle cx="325.3" cy="462.2" r="0.8"/><circle cx="306.5" cy="459.0" r="1.8"/><circle cx="304.8" cy="454.6" r="1.8"/><circle cx="298.7" cy="454.7" r="1.4"/><circle cx="298.8" cy="464.5" r="0.8"/><circle cx="293.1" cy="460.4" r="1.7"/><circle cx="349.9" cy="459.5" r="0.9"/><circle cx="412.4" cy="471.1" r="1.1"/><circle cx="420.8" cy="349.6" r="1.4"/><circle cx="424.7" cy="342.1" r="1.0"/><circle cx="349.6" cy="408.3" r="1.5"/><circle cx="334.1" cy="415.6" r="1.7"/><circle cx="332.1" cy="407.2" r="1.0"/><circle cx="336.6" cy="406.7" r="1.4"/><circle cx="341.0" cy="398.7" r="0.9"/><circle cx="346.9" cy="391.3" r="1.3"/><circle cx="318.6" cy="393.4" r="1.6"/><circle cx="325.6" cy="393.1" r="1.3"/><circle cx="313.5" cy="413.3" r="1.3"/><circle cx="300.2" cy="422.3" r="1.2"/><circle cx="316.7" cy="431.3" r="1.8"/><circle cx="308.3" cy="422.9" r="0.8"/><circle cx="294.6" cy="399.2" r="1.5"/><circle cx="308.7" cy="401.4" r="1.2"/><circle cx="295.4" cy="419.4" r="1.7"/><circle cx="369.9" cy="382.0" r="1.3"/><circle cx="383.7" cy="370.2" r="1.4"/><circle cx="384.4" cy="364.3" r="1.4"/><circle cx="295.3" cy="283.7" r="1.6"/><circle cx="320.4" cy="287.4" r="1.3"/><circle cx="423.4" cy="405.8" r="1.6"/><circle cx="424.9" cy="402.0" r="1.9"/><circle cx="418.4" cy="408.2" r="1.8"/><circle cx="409.3" cy="373.8" r="1.5"/><circle cx="405.3" cy="363.6" r="1.8"/><circle cx="397.9" cy="363.8" r="1.1"/><circle cx="416.1" cy="282.4" r="1.9"/><circle cx="409.7" cy="441.9" r="1.5"/><circle cx="424.0" cy="436.6" r="1.2"/><circle cx="415.3" cy="431.1" r="0.8"/><circle cx="420.1" cy="440.8" r="1.8"/><circle cx="422.2" cy="429.1" r="1.0"/><circle cx="422.6" cy="429.3" r="1.0"/><circle cx="409.0" cy="437.4" r="1.3"/><circle cx="412.6" cy="430.4" r="1.7"/><circle cx="410.5" cy="427.6" r="1.6"/><circle cx="395.5" cy="462.9" r="1.0"/><circle cx="408.5" cy="465.9" r="1.6"/><circle cx="373.8" cy="463.8" r="1.4"/><circle cx="373.7" cy="460.8" r="1.3"/><circle cx="375.1" cy="458.9" r="1.2"/><circle cx="374.6" cy="443.7" r="1.4"/><circle cx="373.4" cy="452.8" r="1.0"/><circle cx="357.4" cy="424.9" r="1.4"/><circle cx="375.1" cy="416.6" r="1.2"/><circle cx="378.9" cy="428.1" r="1.0"/><circle cx="370.5" cy="426.2" r="1.4"/><circle cx="374.2" cy="435.2" r="1.4"/><circle cx="361.8" cy="412.3" r="1.0"/><circle cx="367.1" cy="414.0" r="1.6"/><circle cx="365.5" cy="414.5" r="1.3"/><circle cx="378.5" cy="388.8" r="1.5"/><circle cx="382.2" cy="436.5" r="1.4"/><circle cx="313.6" cy="467.8" r="1.4"/><circle cx="365.5" cy="469.9" r="1.2"/><circle cx="368.4" cy="474.0" r="1.3"/><circle cx="334.7" cy="469.7" r="1.2"/><circle cx="344.2" cy="451.8" r="1.1"/><circle cx="352.5" cy="450.5" r="1.9"/><circle cx="345.6" cy="460.8" r="1.6"/><circle cx="343.7" cy="453.5" r="1.7"/><circle cx="353.8" cy="433.3" r="1.1"/><circle cx="359.5" cy="458.4" r="1.7"/><circle cx="356.8" cy="460.3" r="1.8"/><circle cx="356.0" cy="467.6" r="1.3"/><circle cx="364.2" cy="463.9" r="1.2"/><circle cx="361.6" cy="470.1" r="1.0"/><circle cx="361.4" cy="452.7" r="1.4"/><circle cx="371.8" cy="445.2" r="1.6"/><circle cx="412.0" cy="474.3" r="1.5"/><circle cx="415.9" cy="369.1" r="1.3"/><circle cx="417.8" cy="325.6" r="0.9"/><circle cx="422.4" cy="316.8" r="1.6"/><circle cx="423.1" cy="302.8" r="1.5"/><circle cx="418.4" cy="309.7" r="1.8"/><circle cx="403.2" cy="341.4" r="1.8"/><circle cx="334.8" cy="453.4" r="1.0"/><circle cx="328.6" cy="430.1" r="1.4"/><circle cx="319.5" cy="433.1" r="1.1"/><circle cx="354.5" cy="422.4" r="1.5"/><circle cx="347.4" cy="421.4" r="1.2"/><circle cx="339.9" cy="430.8" r="1.3"/><circle cx="345.6" cy="430.7" r="0.9"/><circle cx="350.0" cy="392.6" r="1.1"/><circle cx="353.2" cy="399.1" r="1.4"/><circle cx="293.7" cy="447.9" r="1.9"/><circle cx="317.6" cy="396.7" r="1.0"/><circle cx="317.0" cy="406.5" r="1.4"/><circle cx="321.7" cy="403.2" r="1.1"/><circle cx="321.3" cy="406.1" r="1.8"/><circle cx="330.8" cy="407.0" r="1.6"/><circle cx="330.4" cy="403.2" r="1.6"/><circle cx="320.1" cy="418.8" r="1.5"/><circle cx="321.2" cy="421.1" r="1.7"/><circle cx="320.3" cy="420.2" r="1.5"/><circle cx="329.5" cy="420.4" r="1.4"/><circle cx="299.6" cy="411.9" r="1.0"/><circle cx="290.7" cy="423.4" r="1.1"/><circle cx="292.0" cy="408.0" r="1.4"/><circle cx="289.3" cy="413.9" r="0.8"/><circle cx="358.0" cy="318.1" r="1.6"/><circle cx="383.8" cy="376.1" r="1.8"/><circle cx="366.0" cy="355.7" r="1.6"/><circle cx="360.9" cy="366.7" r="1.4"/><circle cx="361.6" cy="361.5" r="1.6"/><circle cx="383.8" cy="363.5" r="1.6"/><circle cx="305.1" cy="285.3" r="1.7"/><circle cx="320.7" cy="286.0" r="1.8"/><circle cx="326.9" cy="282.1" r="1.8"/><circle cx="415.5" cy="418.8" r="0.9"/><circle cx="415.4" cy="418.4" r="1.8"/><circle cx="415.9" cy="398.2" r="1.3"/><circle cx="420.0" cy="382.1" r="1.3"/><circle cx="410.0" cy="382.0" r="1.3"/><circle cx="420.1" cy="378.8" r="1.0"/><circle cx="420.5" cy="293.0" r="1.2"/><circle cx="408.8" cy="443.7" r="1.9"/><circle cx="397.8" cy="450.6" r="1.6"/><circle cx="421.0" cy="443.1" r="1.5"/><circle cx="426.0" cy="452.1" r="1.5"/><circle cx="421.4" cy="451.9" r="1.8"/><circle cx="401.9" cy="469.7" r="1.3"/><circle cx="396.6" cy="466.1" r="1.7"/><circle cx="401.5" cy="475.1" r="1.4"/><circle cx="392.3" cy="471.5" r="1.0"/><circle cx="392.3" cy="473.9" r="1.5"/><circle cx="381.5" cy="458.4" r="0.9"/><circle cx="386.6" cy="466.1" r="1.1"/><circle cx="386.8" cy="445.9" r="1.0"/><circle cx="384.1" cy="444.0" r="1.1"/><circle cx="378.8" cy="450.6" r="1.0"/><circle cx="364.0" cy="402.2" r="1.6"/><circle cx="371.0" cy="406.2" r="1.7"/><circle cx="315.4" cy="473.6" r="0.9"/><circle cx="320.3" cy="474.7" r="1.5"/><circle cx="343.5" cy="473.2" r="1.0"/><circle cx="351.9" cy="469.2" r="1.4"/><circle cx="358.8" cy="429.0" r="1.4"/><circle cx="354.8" cy="433.2" r="1.6"/><circle cx="352.6" cy="450.4" r="0.9"/><circle cx="356.3" cy="440.5" r="1.9"/><circle cx="405.7" cy="363.4" r="1.0"/><circle cx="414.8" cy="367.1" r="0.8"/><circle cx="410.7" cy="354.6" r="1.1"/><circle cx="416.2" cy="357.8" r="0.9"/><circle cx="416.5" cy="359.1" r="0.9"/><circle cx="423.3" cy="323.6" r="1.3"/><circle cx="421.8" cy="325.7" r="1.4"/><circle cx="417.4" cy="294.2" r="1.9"/><circle cx="384.7" cy="340.0" r="1.7"/><circle cx="407.1" cy="342.1" r="1.0"/><circle cx="411.3" cy="348.9" r="1.0"/><circle cx="409.4" cy="347.2" r="1.8"/><circle cx="402.0" cy="349.2" r="1.8"/><circle cx="403.8" cy="354.8" r="1.8"/><circle cx="400.5" cy="355.3" r="1.1"/><circle cx="332.9" cy="443.4" r="1.2"/><circle cx="337.4" cy="446.6" r="1.8"/><circle cx="317.8" cy="455.6" r="1.3"/><circle cx="369.0" cy="391.0" r="1.0"/><circle cx="360.6" cy="400.0" r="1.2"/><circle cx="352.1" cy="405.8" r="0.9"/><circle cx="292.2" cy="430.9" r="1.6"/><circle cx="291.4" cy="447.6" r="1.4"/><circle cx="287.6" cy="452.0" r="1.0"/><circle cx="286.1" cy="395.7" r="1.9"/><circle cx="355.0" cy="308.3" r="1.8"/><circle cx="382.5" cy="377.9" r="1.5"/><circle cx="377.3" cy="377.5" r="1.8"/><circle cx="375.1" cy="382.5" r="1.3"/><circle cx="394.1" cy="381.2" r="1.2"/><circle cx="351.1" cy="294.0" r="1.0"/><circle cx="354.4" cy="282.2" r="1.2"/><circle cx="373.1" cy="308.9" r="1.6"/><circle cx="366.8" cy="304.2" r="1.3"/><circle cx="379.3" cy="336.8" r="1.4"/><circle cx="367.3" cy="319.5" r="1.4"/><circle cx="369.3" cy="319.5" r="0.9"/><circle cx="377.6" cy="364.0" r="0.8"/><circle cx="373.7" cy="359.8" r="1.5"/><circle cx="372.7" cy="369.2" r="0.8"/><circle cx="371.7" cy="368.7" r="1.5"/><circle cx="315.1" cy="291.2" r="1.2"/><circle cx="316.3" cy="290.8" r="0.8"/><circle cx="315.9" cy="290.8" r="1.0"/><circle cx="302.8" cy="315.2" r="1.8"/><circle cx="308.1" cy="313.5" r="1.4"/><circle cx="305.8" cy="393.4" r="1.4"/><circle cx="325.7" cy="390.5" r="1.8"/><circle cx="385.1" cy="421.5" r="1.3"/><circle cx="387.8" cy="427.0" r="1.4"/><circle cx="394.7" cy="421.9" r="0.9"/><circle cx="392.9" cy="428.1" r="0.9"/><circle cx="390.9" cy="428.9" r="0.9"/><circle cx="392.4" cy="409.8" r="1.2"/><circle cx="391.7" cy="410.6" r="1.8"/><circle cx="384.4" cy="405.3" r="1.0"/><circle cx="388.8" cy="415.2" r="1.1"/><circle cx="378.2" cy="412.5" r="1.8"/><circle cx="402.4" cy="413.9" r="1.7"/><circle cx="395.7" cy="420.6" r="1.8"/><circle cx="413.1" cy="406.8" r="1.8"/><circle cx="410.9" cy="414.2" r="1.4"/><circle cx="413.6" cy="396.1" r="1.7"/><circle cx="413.1" cy="394.2" r="1.1"/><circle cx="405.4" cy="292.0" r="1.5"/><circle cx="403.5" cy="443.2" r="1.8"/><circle cx="397.9" cy="449.3" r="1.4"/><circle cx="398.3" cy="437.9" r="1.7"/><circle cx="394.4" cy="439.1" r="0.9"/><circle cx="414.4" cy="450.8" r="1.8"/><circle cx="409.5" cy="446.2" r="1.1"/><circle cx="402.7" cy="454.2" r="0.9"/><circle cx="392.7" cy="453.1" r="1.4"/><circle cx="391.3" cy="458.5" r="1.1"/><circle cx="382.8" cy="457.2" r="1.4"/><circle cx="382.8" cy="453.4" r="1.0"/><circle cx="368.4" cy="399.1" r="1.2"/><circle cx="370.6" cy="392.1" r="1.7"/><circle cx="373.1" cy="392.7" r="1.2"/><circle cx="375.6" cy="401.4" r="1.5"/><circle cx="368.0" cy="441.9" r="1.4"/><circle cx="372.2" cy="434.4" r="1.2"/><circle cx="361.1" cy="446.0" r="1.2"/><circle cx="357.2" cy="441.0" r="0.9"/><circle cx="366.7" cy="441.7" r="1.4"/><circle cx="364.0" cy="437.4" r="1.0"/><circle cx="424.0" cy="329.2" r="0.9"/><circle cx="423.9" cy="338.9" r="1.6"/><circle cx="403.3" cy="321.9" r="1.1"/><circle cx="408.3" cy="298.9" r="1.1"/><circle cx="408.9" cy="307.1" r="1.4"/><circle cx="414.3" cy="306.3" r="1.7"/><circle cx="414.5" cy="301.4" r="1.2"/><circle cx="392.0" cy="315.8" r="1.9"/><circle cx="398.6" cy="309.5" r="1.9"/><circle cx="396.0" cy="305.5" r="1.1"/><circle cx="394.9" cy="349.6" r="0.8"/><circle cx="397.0" cy="344.3" r="1.6"/><circle cx="394.8" cy="335.9" r="1.4"/><circle cx="388.5" cy="341.7" r="1.5"/><circle cx="398.8" cy="331.3" r="1.5"/><circle cx="418.4" cy="338.7" r="0.9"/><circle cx="410.8" cy="332.3" r="1.0"/><circle cx="422.2" cy="337.5" r="1.1"/><circle cx="328.6" cy="438.2" r="1.4"/><circle cx="332.9" cy="441.9" r="1.0"/><circle cx="330.1" cy="431.7" r="1.6"/><circle cx="337.4" cy="435.5" r="1.7"/><circle cx="306.7" cy="442.2" r="1.7"/><circle cx="304.0" cy="446.2" r="1.6"/><circle cx="328.2" cy="451.4" r="1.6"/><circle cx="327.1" cy="447.3" r="1.3"/><circle cx="324.4" cy="446.2" r="1.8"/><circle cx="322.0" cy="446.8" r="1.0"/><circle cx="357.4" cy="389.6" r="0.8"/><circle cx="359.2" cy="381.0" r="1.8"/><circle cx="294.2" cy="432.2" r="1.3"/><circle cx="301.9" cy="438.2" r="0.9"/><circle cx="286.9" cy="390.9" r="1.1"/><circle cx="286.7" cy="391.0" r="1.4"/><circle cx="286.2" cy="376.8" r="1.0"/><circle cx="290.4" cy="381.8" r="1.5"/><circle cx="350.5" cy="348.0" r="1.7"/><circle cx="356.4" cy="305.4" r="1.6"/><circle cx="360.1" cy="293.2" r="1.2"/><circle cx="359.5" cy="292.7" r="1.3"/><circle cx="353.1" cy="309.6" r="1.6"/><circle cx="348.7" cy="284.7" r="1.1"/><circle cx="346.4" cy="296.0" r="1.6"/><circle cx="398.3" cy="377.6" r="1.1"/><circle cx="403.2" cy="379.4" r="1.9"/><circle cx="386.4" cy="398.6" r="1.6"/><circle cx="385.7" cy="391.9" r="1.3"/><circle cx="390.1" cy="386.2" r="1.6"/><circle cx="371.5" cy="286.7" r="1.7"/><circle cx="376.6" cy="331.2" r="1.2"/><circle cx="368.3" cy="331.1" r="1.1"/><circle cx="384.6" cy="350.9" r="1.1"/><circle cx="382.9" cy="343.8" r="1.3"/><circle cx="381.9" cy="354.6" r="1.0"/><circle cx="348.1" cy="307.8" r="0.8"/><circle cx="297.9" cy="320.3" r="1.0"/><circle cx="291.2" cy="316.6" r="1.7"/><circle cx="288.7" cy="320.9" r="1.2"/><circle cx="312.1" cy="302.6" r="1.6"/><circle cx="299.2" cy="308.9" r="1.1"/><circle cx="297.4" cy="299.6" r="1.8"/><circle cx="289.1" cy="302.0" r="1.3"/><circle cx="291.2" cy="292.3" r="1.0"/><circle cx="293.3" cy="294.4" r="0.8"/><circle cx="293.7" cy="296.8" r="1.4"/><circle cx="299.2" cy="378.0" r="1.6"/><circle cx="314.9" cy="382.8" r="1.9"/><circle cx="328.3" cy="376.2" r="1.0"/><circle cx="357.7" cy="359.3" r="1.6"/><circle cx="314.7" cy="320.5" r="1.6"/><circle cx="345.4" cy="343.6" r="1.3"/><circle cx="317.0" cy="369.3" r="0.9"/><circle cx="317.9" cy="327.8" r="1.8"/><circle cx="405.7" cy="403.8" r="1.0"/><circle cx="413.4" cy="454.1" r="0.8"/><circle cx="414.5" cy="461.3" r="1.4"/><circle cx="403.8" cy="457.4" r="0.8"/><circle cx="385.6" cy="316.5" r="1.1"/><circle cx="381.3" cy="307.7" r="0.9"/><circle cx="384.9" cy="305.6" r="1.1"/><circle cx="400.1" cy="296.3" r="0.9"/><circle cx="387.9" cy="332.7" r="1.5"/><circle cx="383.1" cy="323.0" r="1.5"/><circle cx="377.9" cy="329.6" r="1.7"/><circle cx="317.4" cy="445.6" r="1.4"/><circle cx="316.2" cy="437.8" r="1.0"/><circle cx="310.4" cy="438.6" r="1.2"/><circle cx="362.2" cy="344.5" r="1.8"/><circle cx="362.5" cy="342.7" r="1.6"/><circle cx="368.6" cy="347.3" r="0.9"/><circle cx="373.8" cy="341.1" r="1.2"/><circle cx="374.6" cy="343.9" r="1.9"/><circle cx="342.6" cy="287.6" r="0.9"/><circle cx="342.3" cy="288.2" r="1.7"/><circle cx="399.8" cy="386.6" r="0.9"/><circle cx="408.8" cy="387.9" r="1.7"/><circle cx="409.7" cy="390.7" r="1.8"/><circle cx="396.5" cy="287.9" r="1.8"/><circle cx="301.8" cy="323.8" r="1.8"/><circle cx="310.1" cy="374.0" r="1.8"/><circle cx="314.6" cy="381.6" r="1.1"/><circle cx="315.1" cy="376.4" r="1.3"/><circle cx="315.7" cy="378.0" r="1.5"/><circle cx="295.4" cy="382.5" r="1.2"/><circle cx="298.7" cy="380.2" r="1.6"/><circle cx="293.6" cy="390.9" r="1.3"/><circle cx="295.9" cy="392.3" r="1.2"/><circle cx="303.0" cy="387.1" r="1.0"/><circle cx="330.8" cy="378.8" r="1.6"/><circle cx="342.4" cy="379.7" r="1.1"/><circle cx="351.2" cy="376.9" r="1.8"/><circle cx="354.7" cy="370.3" r="1.4"/><circle cx="314.9" cy="308.6" r="1.8"/><circle cx="311.7" cy="313.9" r="1.5"/><circle cx="314.9" cy="319.7" r="1.4"/><circle cx="313.9" cy="365.3" r="1.6"/><circle cx="328.2" cy="374.5" r="1.3"/><circle cx="358.2" cy="334.7" r="1.3"/><circle cx="349.8" cy="338.6" r="1.8"/><circle cx="345.6" cy="328.6" r="1.8"/><circle cx="354.5" cy="328.0" r="1.8"/><circle cx="356.6" cy="322.1" r="0.8"/><circle cx="350.3" cy="319.7" r="1.3"/><circle cx="337.1" cy="293.0" r="0.9"/><circle cx="327.0" cy="295.9" r="1.4"/><circle cx="328.6" cy="292.0" r="1.4"/><circle cx="331.5" cy="290.2" r="1.4"/><circle cx="342.2" cy="379.1" r="1.1"/><circle cx="333.3" cy="378.2" r="0.9"/><circle cx="331.0" cy="315.5" r="1.7"/><circle cx="302.2" cy="369.3" r="1.8"/><circle cx="304.1" cy="366.0" r="1.2"/><circle cx="295.0" cy="367.6" r="0.9"/><circle cx="370.0" cy="298.0" r="1.4"/><circle cx="340.9" cy="317.2" r="0.8"/><circle cx="340.9" cy="308.7" r="0.9"/><circle cx="338.9" cy="298.7" r="0.9"/><circle cx="338.8" cy="298.7" r="1.6"/><circle cx="287.0" cy="344.8" r="0.9"/><circle cx="338.4" cy="371.4" r="1.7"/><circle cx="334.7" cy="368.7" r="1.3"/><circle cx="316.5" cy="319.1" r="1.2"/><circle cx="314.0" cy="364.5" r="1.2"/><circle cx="289.5" cy="353.8" r="1.9"/><circle cx="286.4" cy="359.9" r="0.9"/><circle cx="286.1" cy="357.5" r="1.3"/><circle cx="347.7" cy="358.9" r="1.2"/><circle cx="341.1" cy="350.9" r="1.5"/><circle cx="348.8" cy="352.1" r="1.6"/><circle cx="335.1" cy="363.6" r="1.3"/><circle cx="337.3" cy="361.1" r="1.2"/><circle cx="381.5" cy="287.5" r="0.8"/><circle cx="377.2" cy="291.2" r="1.2"/><circle cx="386.8" cy="289.5" r="1.9"/><circle cx="387.1" cy="290.3" r="1.3"/><circle cx="335.1" cy="335.0" r="1.4"/><circle cx="331.4" cy="322.1" r="1.8"/><circle cx="344.4" cy="330.5" r="1.6"/><circle cx="349.6" cy="338.6" r="1.3"/><circle cx="327.3" cy="338.4" r="0.9"/><circle cx="336.9" cy="343.0" r="1.2"/><circle cx="335.7" cy="347.9" r="1.5"/><circle cx="332.3" cy="306.6" r="1.9"/><circle cx="327.1" cy="313.3" r="1.5"/><circle cx="286.5" cy="339.2" r="1.7"/><circle cx="288.2" cy="329.2" r="1.2"/><circle cx="304.7" cy="330.0" r="1.1"/><circle cx="307.8" cy="331.3" r="1.7"/><circle cx="308.7" cy="355.3" r="1.4"/><circle cx="293.4" cy="345.2" r="1.8"/><circle cx="298.4" cy="338.6" r="1.1"/><circle cx="300.2" cy="358.8" r="0.8"/><circle cx="300.6" cy="357.1" r="1.5"/><circle cx="287.5" cy="360.6" r="1.7"/><circle cx="292.1" cy="359.8" r="1.0"/><circle cx="325.5" cy="365.5" r="1.5"/><circle cx="319.2" cy="355.5" r="1.2"/><circle cx="318.8" cy="356.1" r="1.3"/><circle cx="290.8" cy="329.6" r="1.5"/><circle cx="294.8" cy="326.8" r="1.3"/><circle cx="291.6" cy="333.8" r="1.1"/><circle cx="301.4" cy="331.5" r="1.6"/><circle cx="298.1" cy="337.6" r="1.3"/><circle cx="322.1" cy="350.4" r="1.0"/><circle cx="327.4" cy="354.9" r="1.4"/><circle cx="333.1" cy="349.3" r="1.2"/><circle cx="309.9" cy="337.8" r="1.5"/><circle cx="312.2" cy="339.2" r="1.2"/><circle cx="303.8" cy="347.2" r="1.2"/><circle cx="310.9" cy="348.0" r="1.0"/><circle cx="309.6" cy="348.9" r="1.7"/></g>
<g fill="#7a1449"><ellipse cx="346.2" cy="461.1" rx="1.1" ry="0.7"/><ellipse cx="347.5" cy="384.7" rx="1.3" ry="0.8"/><ellipse cx="398.8" cy="375.0" rx="0.8" ry="0.8"/><ellipse cx="414.7" cy="282.0" rx="1.0" ry="1.0"/><ellipse cx="418.0" cy="468.9" rx="1.2" ry="0.6"/><ellipse cx="426.5" cy="469.1" rx="1.1" ry="0.8"/><ellipse cx="423.9" cy="462.4" rx="0.9" ry="0.9"/><ellipse cx="376.5" cy="436.6" rx="0.8" ry="0.9"/><ellipse cx="382.7" cy="421.7" rx="1.4" ry="0.6"/><ellipse cx="318.1" cy="458.7" rx="1.3" ry="0.9"/><ellipse cx="283.5" cy="469.8" rx="1.0" ry="0.8"/><ellipse cx="291.3" cy="461.1" rx="0.8" ry="0.9"/><ellipse cx="306.2" cy="459.0" rx="1.2" ry="0.6"/><ellipse cx="305.0" cy="454.5" rx="1.4" ry="0.9"/><ellipse cx="350.4" cy="459.8" rx="0.9" ry="0.8"/><ellipse cx="420.8" cy="349.2" rx="0.7" ry="0.9"/><ellipse cx="425.1" cy="342.0" rx="0.9" ry="0.8"/><ellipse cx="350.1" cy="408.1" rx="0.9" ry="0.8"/><ellipse cx="331.7" cy="406.9" rx="1.1" ry="0.9"/><ellipse cx="340.7" cy="399.2" rx="1.2" ry="0.7"/><ellipse cx="319.0" cy="393.4" rx="1.2" ry="0.8"/><ellipse cx="299.8" cy="421.9" rx="0.8" ry="0.7"/><ellipse cx="295.3" cy="419.7" rx="1.3" ry="0.9"/><ellipse cx="369.9" cy="381.7" rx="1.0" ry="0.8"/><ellipse cx="383.8" cy="369.7" rx="0.8" ry="0.8"/><ellipse cx="320.1" cy="287.8" rx="1.2" ry="0.9"/><ellipse cx="423.4" cy="405.6" rx="0.9" ry="1.0"/><ellipse cx="408.9" cy="374.0" rx="0.7" ry="1.0"/><ellipse cx="405.5" cy="363.5" rx="1.2" ry="0.7"/><ellipse cx="409.6" cy="441.7" rx="0.9" ry="0.8"/><ellipse cx="423.8" cy="436.9" rx="0.9" ry="1.0"/><ellipse cx="415.3" cy="430.9" rx="1.0" ry="0.9"/><ellipse cx="420.2" cy="440.6" rx="1.2" ry="0.8"/><ellipse cx="422.0" cy="429.4" rx="1.3" ry="0.8"/><ellipse cx="409.0" cy="437.3" rx="1.4" ry="1.0"/><ellipse cx="410.2" cy="428.0" rx="1.1" ry="0.9"/><ellipse cx="395.9" cy="462.9" rx="1.2" ry="0.9"/><ellipse cx="373.8" cy="463.5" rx="1.1" ry="0.9"/><ellipse cx="373.5" cy="461.2" rx="1.2" ry="0.6"/><ellipse cx="374.7" cy="459.0" rx="1.0" ry="0.9"/><ellipse cx="374.8" cy="443.3" rx="1.3" ry="0.8"/><ellipse cx="357.2" cy="425.4" rx="0.8" ry="0.7"/><ellipse cx="374.6" cy="416.8" rx="1.4" ry="0.7"/><ellipse cx="366.6" cy="414.4" rx="0.9" ry="0.8"/><ellipse cx="365.8" cy="415.0" rx="0.9" ry="0.7"/><ellipse cx="365.6" cy="470.1" rx="0.9" ry="0.8"/><ellipse cx="335.1" cy="470.1" rx="0.7" ry="0.8"/><ellipse cx="345.6" cy="460.9" rx="0.8" ry="0.6"/><ellipse cx="343.6" cy="453.6" rx="0.8" ry="0.7"/><ellipse cx="353.4" cy="433.2" rx="1.1" ry="0.9"/><ellipse cx="359.3" cy="458.1" rx="0.9" ry="0.9"/><ellipse cx="356.7" cy="460.4" rx="0.7" ry="0.8"/><ellipse cx="356.2" cy="467.8" rx="0.7" ry="0.8"/><ellipse cx="364.5" cy="463.5" rx="0.9" ry="0.7"/><ellipse cx="361.4" cy="470.4" rx="0.7" ry="0.7"/><ellipse cx="412.4" cy="474.6" rx="0.9" ry="0.8"/><ellipse cx="415.7" cy="369.4" rx="0.8" ry="0.8"/><ellipse cx="417.9" cy="325.9" rx="1.3" ry="0.6"/><ellipse cx="422.7" cy="317.3" rx="0.9" ry="0.8"/><ellipse cx="418.4" cy="309.2" rx="1.0" ry="0.7"/><ellipse cx="319.9" cy="433.4" rx="0.9" ry="0.8"/><ellipse cx="354.2" cy="422.7" rx="1.3" ry="0.8"/><ellipse cx="340.1" cy="431.1" rx="1.4" ry="0.9"/><ellipse cx="345.7" cy="430.8" rx="0.7" ry="1.0"/><ellipse cx="293.7" cy="447.8" rx="0.7" ry="0.7"/><ellipse cx="317.2" cy="406.8" rx="1.2" ry="0.7"/><ellipse cx="330.4" cy="407.0" rx="1.1" ry="0.6"/><ellipse cx="330.8" cy="403.1" rx="1.2" ry="0.7"/><ellipse cx="320.1" cy="419.0" rx="1.1" ry="0.7"/><ellipse cx="299.4" cy="411.9" rx="0.8" ry="0.9"/><ellipse cx="290.3" cy="423.8" rx="1.2" ry="0.9"/><ellipse cx="292.2" cy="407.9" rx="0.8" ry="1.0"/><ellipse cx="289.1" cy="413.9" rx="0.7" ry="0.8"/><ellipse cx="357.5" cy="317.6" rx="0.8" ry="0.9"/><ellipse cx="366.3" cy="355.3" rx="1.4" ry="0.9"/><ellipse cx="360.5" cy="367.0" rx="0.8" ry="0.7"/><ellipse cx="361.4" cy="361.6" rx="0.9" ry="0.7"/><ellipse cx="384.3" cy="363.2" rx="1.1" ry="0.7"/><ellipse cx="327.1" cy="281.9" rx="1.1" ry="0.9"/><ellipse cx="415.8" cy="418.7" rx="1.0" ry="0.9"/><ellipse cx="415.4" cy="418.8" rx="0.7" ry="0.8"/><ellipse cx="419.6" cy="382.0" rx="1.0" ry="0.9"/><ellipse cx="420.2" cy="379.2" rx="0.8" ry="0.8"/><ellipse cx="420.1" cy="292.9" rx="1.0" ry="0.8"/><ellipse cx="397.3" cy="450.8" rx="0.8" ry="0.9"/><ellipse cx="421.1" cy="442.6" rx="1.3" ry="0.9"/><ellipse cx="426.2" cy="451.8" rx="1.4" ry="0.6"/><ellipse cx="401.8" cy="475.2" rx="1.3" ry="0.9"/><ellipse cx="383.9" cy="443.6" rx="0.8" ry="0.8"/><ellipse cx="363.8" cy="401.9" rx="1.1" ry="0.8"/><ellipse cx="371.1" cy="405.8" rx="0.9" ry="1.0"/><ellipse cx="320.4" cy="475.1" rx="0.8" ry="1.0"/><ellipse cx="343.8" cy="473.5" rx="0.8" ry="0.9"/><ellipse cx="351.9" cy="469.5" rx="0.8" ry="0.6"/><ellipse cx="352.3" cy="450.7" rx="1.3" ry="0.6"/><ellipse cx="415.0" cy="367.3" rx="0.8" ry="1.0"/><ellipse cx="410.8" cy="354.8" rx="1.3" ry="0.6"/><ellipse cx="423.0" cy="324.1" rx="0.7" ry="0.6"/><ellipse cx="417.4" cy="294.0" rx="1.4" ry="0.8"/><ellipse cx="406.7" cy="341.6" rx="1.4" ry="0.8"/><ellipse cx="409.4" cy="347.1" rx="1.1" ry="0.8"/><ellipse cx="401.8" cy="348.7" rx="0.9" ry="0.8"/><ellipse cx="292.0" cy="430.5" rx="0.8" ry="0.9"/><ellipse cx="288.1" cy="452.0" rx="1.2" ry="0.7"/><ellipse cx="382.1" cy="377.7" rx="1.0" ry="0.8"/><ellipse cx="350.6" cy="294.2" rx="1.3" ry="0.8"/><ellipse cx="354.0" cy="282.3" rx="1.3" ry="0.9"/><ellipse cx="372.9" cy="309.2" rx="0.7" ry="0.8"/><ellipse cx="366.5" cy="304.7" rx="1.0" ry="0.7"/><ellipse cx="367.0" cy="320.0" rx="0.9" ry="0.8"/><ellipse cx="369.3" cy="319.3" rx="1.3" ry="0.7"/><ellipse cx="377.2" cy="363.7" rx="0.7" ry="0.7"/><ellipse cx="373.6" cy="360.1" rx="0.8" ry="0.9"/><ellipse cx="371.4" cy="368.7" rx="0.9" ry="1.0"/><ellipse cx="314.7" cy="291.2" rx="1.1" ry="0.7"/><ellipse cx="316.3" cy="291.3" rx="1.2" ry="0.7"/><ellipse cx="308.3" cy="313.1" rx="1.4" ry="0.8"/><ellipse cx="387.7" cy="426.8" rx="1.1" ry="0.8"/><ellipse cx="394.9" cy="421.5" rx="1.3" ry="0.7"/><ellipse cx="391.8" cy="410.7" rx="1.1" ry="0.9"/><ellipse cx="384.7" cy="405.3" rx="1.0" ry="1.0"/><ellipse cx="378.4" cy="412.4" rx="1.3" ry="0.8"/><ellipse cx="402.7" cy="414.0" rx="1.2" ry="0.9"/><ellipse cx="413.1" cy="406.3" rx="1.0" ry="0.6"/><ellipse cx="410.5" cy="414.6" rx="0.9" ry="0.7"/><ellipse cx="413.2" cy="395.7" rx="0.9" ry="0.9"/><ellipse cx="413.3" cy="394.0" rx="1.0" ry="0.8"/><ellipse cx="403.9" cy="443.2" rx="1.2" ry="0.7"/><ellipse cx="394.1" cy="439.5" rx="0.9" ry="0.9"/><ellipse cx="414.4" cy="451.3" rx="0.8" ry="0.9"/><ellipse cx="409.9" cy="446.6" rx="1.3" ry="0.7"/><ellipse cx="392.5" cy="452.7" rx="1.2" ry="0.9"/><ellipse cx="383.2" cy="457.4" rx="1.1" ry="0.7"/><ellipse cx="373.1" cy="392.6" rx="0.8" ry="1.0"/><ellipse cx="357.0" cy="440.6" rx="1.0" ry="0.8"/><ellipse cx="424.2" cy="329.1" rx="1.4" ry="0.9"/><ellipse cx="402.8" cy="321.8" rx="0.8" ry="0.7"/><ellipse cx="415.0" cy="301.6" rx="1.0" ry="0.9"/><ellipse cx="391.5" cy="315.3" rx="1.3" ry="0.7"/><ellipse cx="399.0" cy="309.9" rx="1.1" ry="0.6"/><ellipse cx="396.3" cy="305.3" rx="1.0" ry="0.6"/><ellipse cx="397.3" cy="344.6" rx="1.0" ry="0.9"/><ellipse cx="399.3" cy="330.8" rx="1.1" ry="0.8"/><ellipse cx="418.6" cy="339.1" rx="1.3" ry="0.9"/><ellipse cx="411.0" cy="332.2" rx="0.8" ry="0.9"/><ellipse cx="333.3" cy="441.5" rx="1.4" ry="0.8"/><ellipse cx="337.7" cy="435.5" rx="1.3" ry="0.6"/><ellipse cx="307.0" cy="441.9" rx="1.1" ry="0.6"/><ellipse cx="304.0" cy="446.2" rx="0.8" ry="0.7"/><ellipse cx="328.3" cy="450.9" rx="1.3" ry="0.6"/><ellipse cx="326.7" cy="447.1" rx="1.3" ry="0.7"/><ellipse cx="324.8" cy="445.9" rx="0.9" ry="0.8"/><ellipse cx="357.1" cy="389.5" rx="1.1" ry="0.8"/><ellipse cx="359.1" cy="380.6" rx="1.0" ry="1.0"/><ellipse cx="294.1" cy="432.5" rx="0.9" ry="1.0"/><ellipse cx="286.4" cy="391.4" rx="1.3" ry="0.8"/><ellipse cx="285.8" cy="376.6" rx="0.7" ry="0.7"/><ellipse cx="353.3" cy="309.5" rx="1.0" ry="1.0"/><ellipse cx="403.4" cy="379.2" rx="0.7" ry="0.6"/><ellipse cx="386.1" cy="398.5" rx="1.1" ry="0.8"/><ellipse cx="386.1" cy="391.6" rx="0.9" ry="0.6"/><ellipse cx="390.3" cy="385.8" rx="0.9" ry="0.7"/><ellipse cx="376.6" cy="331.5" rx="0.7" ry="0.8"/><ellipse cx="384.5" cy="351.1" rx="0.9" ry="0.7"/><ellipse cx="381.6" cy="354.3" rx="1.1" ry="1.0"/><ellipse cx="298.2" cy="320.0" rx="0.8" ry="1.0"/><ellipse cx="288.6" cy="321.2" rx="0.9" ry="0.6"/><ellipse cx="312.0" cy="302.5" rx="0.9" ry="1.0"/><ellipse cx="298.8" cy="308.5" rx="1.2" ry="0.9"/><ellipse cx="297.4" cy="300.1" rx="1.3" ry="0.9"/><ellipse cx="289.5" cy="302.5" rx="1.3" ry="0.9"/><ellipse cx="314.9" cy="383.2" rx="1.3" ry="0.7"/><ellipse cx="357.8" cy="358.9" rx="1.2" ry="0.7"/><ellipse cx="315.0" cy="320.9" rx="1.1" ry="1.0"/><ellipse cx="406.0" cy="403.7" rx="0.9" ry="0.8"/><ellipse cx="413.1" cy="454.2" rx="1.1" ry="0.7"/><ellipse cx="403.9" cy="457.4" rx="1.1" ry="0.6"/><ellipse cx="385.2" cy="316.9" rx="1.3" ry="0.6"/><ellipse cx="384.6" cy="305.2" rx="1.1" ry="0.6"/><ellipse cx="388.3" cy="332.3" rx="1.3" ry="0.7"/><ellipse cx="383.0" cy="322.9" rx="0.9" ry="0.8"/><ellipse cx="316.5" cy="437.6" rx="1.0" ry="0.7"/><ellipse cx="361.9" cy="345.0" rx="0.9" ry="0.9"/><ellipse cx="362.9" cy="342.2" rx="0.7" ry="0.8"/><ellipse cx="368.9" cy="346.9" rx="1.2" ry="0.9"/><ellipse cx="375.0" cy="343.7" rx="1.3" ry="0.9"/><ellipse cx="409.6" cy="391.0" rx="1.0" ry="1.0"/><ellipse cx="301.9" cy="323.3" rx="1.0" ry="1.0"/><ellipse cx="295.8" cy="382.0" rx="1.3" ry="0.6"/><ellipse cx="293.2" cy="391.0" rx="1.2" ry="0.8"/><ellipse cx="296.1" cy="392.3" rx="1.4" ry="0.9"/><ellipse cx="302.6" cy="386.7" rx="1.0" ry="0.6"/><ellipse cx="330.7" cy="378.7" rx="1.2" ry="0.9"/><ellipse cx="315.3" cy="308.5" rx="1.2" ry="0.7"/><ellipse cx="311.8" cy="314.3" rx="0.8" ry="0.8"/><ellipse cx="315.2" cy="319.4" rx="1.1" ry="0.9"/><ellipse cx="358.6" cy="334.5" rx="0.7" ry="0.7"/><ellipse cx="356.4" cy="322.5" rx="1.4" ry="1.0"/><ellipse cx="350.6" cy="319.2" rx="1.2" ry="0.6"/><ellipse cx="326.6" cy="295.6" rx="0.9" ry="0.7"/><ellipse cx="331.8" cy="290.4" rx="1.3" ry="0.8"/><ellipse cx="302.4" cy="369.8" rx="1.3" ry="0.9"/><ellipse cx="295.2" cy="367.3" rx="0.9" ry="0.9"/><ellipse cx="369.6" cy="298.5" rx="1.4" ry="0.9"/><ellipse cx="341.3" cy="317.4" rx="1.2" ry="0.9"/><ellipse cx="340.9" cy="308.2" rx="1.3" ry="1.0"/><ellipse cx="286.8" cy="345.1" rx="0.8" ry="0.6"/><ellipse cx="316.5" cy="319.3" rx="1.3" ry="0.9"/><ellipse cx="313.6" cy="364.1" rx="1.0" ry="0.9"/><ellipse cx="290.0" cy="354.1" rx="0.8" ry="0.9"/><ellipse cx="286.6" cy="359.8" rx="1.3" ry="0.9"/><ellipse cx="347.4" cy="358.9" rx="0.9" ry="1.0"/><ellipse cx="341.3" cy="350.9" rx="1.1" ry="0.6"/><ellipse cx="348.7" cy="352.5" rx="0.8" ry="0.8"/><ellipse cx="337.1" cy="361.0" rx="0.9" ry="0.8"/><ellipse cx="381.4" cy="287.2" rx="1.0" ry="0.8"/><ellipse cx="376.8" cy="291.2" rx="0.8" ry="1.0"/><ellipse cx="387.0" cy="290.1" rx="1.0" ry="0.7"/><ellipse cx="334.7" cy="335.3" rx="0.7" ry="0.7"/><ellipse cx="349.2" cy="338.6" rx="1.2" ry="1.0"/><ellipse cx="335.6" cy="347.6" rx="1.2" ry="0.7"/><ellipse cx="326.8" cy="313.0" rx="1.4" ry="0.9"/><ellipse cx="288.4" cy="329.5" rx="0.8" ry="1.0"/><ellipse cx="304.3" cy="330.3" rx="1.2" ry="0.9"/><ellipse cx="293.9" cy="345.4" rx="0.8" ry="0.7"/><ellipse cx="298.7" cy="338.8" rx="0.9" ry="0.7"/><ellipse cx="325.2" cy="365.3" rx="1.2" ry="0.6"/><ellipse cx="319.7" cy="355.9" rx="1.3" ry="0.7"/><ellipse cx="290.5" cy="329.8" rx="0.7" ry="0.7"/><ellipse cx="292.1" cy="333.6" rx="1.1" ry="0.8"/><ellipse cx="327.2" cy="354.7" rx="1.2" ry="0.7"/><ellipse cx="333.2" cy="349.1" rx="0.8" ry="0.8"/><ellipse cx="303.6" cy="347.0" rx="1.3" ry="0.7"/><ellipse cx="310.6" cy="348.4" rx="1.0" ry="0.7"/><ellipse cx="310.0" cy="348.8" rx="1.4" ry="0.6"/></g>
<path d="M284 283 L288 283 L307 283 L305 300 L303 325 L297 345 L292 370 L288 395 L284 405 Z" fill="#efe2e8" opacity="0.96"/>
<path d="M284 390 L292 395 L293 430 L291 475 L284 475 Z" fill="#efe2e8" opacity="0.6"/>
<path d="M387.5 283 L403 283 L405 310 L411 345 L420 390 L425.6 415 L425.6 445 L419 432 L410 400 L398 350 L392 320 Z" fill="#efe2e8" opacity="0.96"/>
</g>
<text x="15.00" y="286.50" font-size="22" font-weight="normal" font-style="normal" text-anchor="start" fill="#000" >b</text>
<text x="45.30" y="283.80" font-size="13" font-weight="bold" font-style="normal" text-anchor="start" fill="#111" >Time: 0</text>
<line x1="76.40" y1="297.50" x2="76.40" y2="392.00" stroke="#222" stroke-width="1.2"/>
<line x1="73.60" y1="392.00" x2="247.50" y2="392.00" stroke="#222" stroke-width="1.25"/>
<line x1="73.60" y1="297.50" x2="76.40" y2="297.50" stroke="#222" stroke-width="1.2"/>
<text x="71.63" y="303.80" font-size="13.8" font-weight="normal" font-style="normal" text-anchor="end" fill="#1a1a1a" >0.20</text>
<line x1="73.60" y1="344.80" x2="76.40" y2="344.80" stroke="#222" stroke-width="1.2"/>
<text x="71.63" y="351.10" font-size="13.8" font-weight="normal" font-style="normal" text-anchor="end" fill="#1a1a1a" >0.10</text>
<line x1="73.60" y1="392.00" x2="76.40" y2="392.00" stroke="#222" stroke-width="1.2"/>
<text x="71.63" y="398.30" font-size="13.8" font-weight="normal" font-style="normal" text-anchor="end" fill="#1a1a1a" >0</text>
<line x1="100.55" y1="343.60" x2="100.55" y2="336.40" stroke="#222" stroke-width="1.2"/>
<line x1="97.75" y1="336.40" x2="103.35" y2="336.40" stroke="#222" stroke-width="1.5"/>
<rect x="85.00" y="343.60" width="31.10" height="48.40" fill="#0000FF" stroke="#1a1a1a" stroke-width="1.1"/>
<line x1="135.95" y1="351.40" x2="135.95" y2="347.30" stroke="#222" stroke-width="1.2"/>
<line x1="133.15" y1="347.30" x2="138.75" y2="347.30" stroke="#222" stroke-width="1.5"/>
<rect x="120.40" y="351.40" width="31.10" height="40.60" fill="#3399CC" stroke="#1a1a1a" stroke-width="1.1"/>
<text x="45.00" y="426.60" font-size="13" font-weight="bold" font-style="normal" text-anchor="start" fill="#3a3a3a" >Time: 1</text>
<line x1="76.20" y1="437.70" x2="76.20" y2="531.40" stroke="#222" stroke-width="1.2"/>
<line x1="73.40" y1="531.40" x2="248.00" y2="531.40" stroke="#222" stroke-width="1.25"/>
<line x1="73.40" y1="437.70" x2="76.20" y2="437.70" stroke="#222" stroke-width="1.2"/>
<text x="71.43" y="443.90" font-size="13.8" font-weight="normal" font-style="normal" text-anchor="end" fill="#1a1a1a" >0.60</text>
<line x1="73.40" y1="469.20" x2="76.20" y2="469.20" stroke="#222" stroke-width="1.2"/>
<text x="71.43" y="475.40" font-size="13.8" font-weight="normal" font-style="normal" text-anchor="end" fill="#1a1a1a" >0.40</text>
<line x1="73.40" y1="500.40" x2="76.20" y2="500.40" stroke="#222" stroke-width="1.2"/>
<text x="71.43" y="506.60" font-size="13.8" font-weight="normal" font-style="normal" text-anchor="end" fill="#1a1a1a" >0.20</text>
<line x1="73.40" y1="531.40" x2="76.20" y2="531.40" stroke="#222" stroke-width="1.2"/>
<text x="71.43" y="537.60" font-size="13.8" font-weight="normal" font-style="normal" text-anchor="end" fill="#1a1a1a" >0</text>
<polyline points="99.50,495.50 99.50,442.30 183.30,442.30 183.30,453.00" fill="none" stroke="#7a7a7a" stroke-width="1.0"/>
<polyline points="186.60,453.00 186.60,442.30 222.70,442.30 222.70,489.10" fill="none" stroke="#7a7a7a" stroke-width="1.0"/>
<polyline points="102.10,495.50 102.10,455.50 136.10,455.50 136.10,504.40" fill="none" stroke="#7a7a7a" stroke-width="1.0"/>
<polyline points="138.30,504.40 138.30,455.50 220.50,455.50 220.50,489.10" fill="none" stroke="#7a7a7a" stroke-width="1.0"/>
<path d="M135.40 436.90H140.60M138.00 434.30V439.50M136.13 435.03L139.87 438.77M136.13 438.77L139.87 435.03M142.00 436.90H147.20M144.60 434.30V439.50M142.73 435.03L146.47 438.77M142.73 438.77L146.47 435.03" stroke="#6e6e6e" stroke-width="0.9" fill="none"/>
<path d="M116.60 449.70H121.80M119.20 447.10V452.30M117.33 447.83L121.07 451.57M117.33 451.57L121.07 447.83" stroke="#6e6e6e" stroke-width="0.9" fill="none"/>
<path d="M166.10 449.70H171.30M168.70 447.10V452.30M166.83 447.83L170.57 451.57M166.83 451.57L170.57 447.83M172.70 449.70H177.90M175.30 447.10V452.30M173.43 447.83L177.17 451.57M173.43 451.57L177.17 447.83" stroke="#6e6e6e" stroke-width="0.9" fill="none"/>
<path d="M198.60 436.90H203.80M201.20 434.30V439.50M199.33 435.03L203.07 438.77M199.33 438.77L203.07 435.03M205.20 436.90H210.40M207.80 434.30V439.50M205.93 435.03L209.67 438.77M205.93 438.77L209.67 435.03" stroke="#6e6e6e" stroke-width="0.9" fill="none"/>
<line x1="101.60" y1="503.40" x2="101.60" y2="500.70" stroke="#222" stroke-width="1.2"/>
<line x1="98.80" y1="500.70" x2="104.40" y2="500.70" stroke="#222" stroke-width="1.5"/>
<rect x="85.70" y="503.40" width="31.80" height="28.00" fill="#0000FF" stroke="#1a1a1a" stroke-width="1.1"/>
<line x1="136.70" y1="513.30" x2="136.70" y2="510.30" stroke="#222" stroke-width="1.2"/>
<line x1="133.90" y1="510.30" x2="139.50" y2="510.30" stroke="#222" stroke-width="1.5"/>
<rect x="120.80" y="513.30" width="31.80" height="18.10" fill="#3399CC" stroke="#1a1a1a" stroke-width="1.1"/>
<line x1="185.25" y1="463.80" x2="185.25" y2="459.60" stroke="#222" stroke-width="1.2"/>
<line x1="182.45" y1="459.60" x2="188.05" y2="459.60" stroke="#222" stroke-width="1.5"/>
<rect x="169.40" y="463.80" width="31.70" height="67.60" fill="#FF6600" stroke="#1a1a1a" stroke-width="1.1"/>
<line x1="221.30" y1="496.20" x2="221.30" y2="494.40" stroke="#222" stroke-width="1.2"/>
<line x1="218.50" y1="494.40" x2="224.10" y2="494.40" stroke="#222" stroke-width="1.5"/>
<rect x="205.40" y="496.20" width="31.80" height="35.20" fill="#FFCC00" stroke="#1a1a1a" stroke-width="1.1"/>
<text x="45.20" y="567.70" font-size="13" font-weight="bold" font-style="normal" text-anchor="start" fill="#111" >Time: 2</text>
<line x1="75.80" y1="583.20" x2="75.80" y2="676.00" stroke="#222" stroke-width="1.2"/>
<line x1="73.00" y1="676.00" x2="246.50" y2="676.00" stroke="#222" stroke-width="1.25"/>
<line x1="73.00" y1="583.20" x2="75.80" y2="583.20" stroke="#222" stroke-width="1.2"/>
<text x="71.03" y="589.40" font-size="13.8" font-weight="normal" font-style="normal" text-anchor="end" fill="#1a1a1a" >0.60</text>
<line x1="73.00" y1="614.20" x2="75.80" y2="614.20" stroke="#222" stroke-width="1.2"/>
<text x="71.03" y="620.40" font-size="13.8" font-weight="normal" font-style="normal" text-anchor="end" fill="#1a1a1a" >0.40</text>
<line x1="73.00" y1="645.10" x2="75.80" y2="645.10" stroke="#222" stroke-width="1.2"/>
<text x="71.03" y="651.30" font-size="13.8" font-weight="normal" font-style="normal" text-anchor="end" fill="#1a1a1a" >0.20</text>
<line x1="73.00" y1="676.00" x2="75.80" y2="676.00" stroke="#222" stroke-width="1.2"/>
<text x="71.03" y="682.20" font-size="13.8" font-weight="normal" font-style="normal" text-anchor="end" fill="#1a1a1a" >0</text>
<polyline points="97.00,629.00 97.00,568.20 182.30,568.20 182.30,576.40" fill="none" stroke="#7a7a7a" stroke-width="1.0"/>
<polyline points="185.30,576.40 185.30,568.20 220.30,568.20 220.30,624.70" fill="none" stroke="#7a7a7a" stroke-width="1.0"/>
<polyline points="100.30,629.00 100.30,580.40 134.30,580.40 134.30,649.50" fill="none" stroke="#7a7a7a" stroke-width="1.0"/>
<polyline points="137.30,649.50 137.30,580.40 218.00,580.40 218.00,624.70" fill="none" stroke="#7a7a7a" stroke-width="1.0"/>
<path d="M133.60 562.80H138.80M136.20 560.20V565.40M134.33 560.93L138.07 564.67M134.33 564.67L138.07 560.93M140.20 562.80H145.40M142.80 560.20V565.40M140.93 560.93L144.67 564.67M140.93 564.67L144.67 560.93" stroke="#6e6e6e" stroke-width="0.9" fill="none"/>
<path d="M111.70 575.20H116.90M114.30 572.60V577.80M112.43 573.33L116.17 577.07M112.43 577.07L116.17 573.33M118.30 575.20H123.50M120.90 572.60V577.80M119.03 573.33L122.77 577.07M119.03 577.07L122.77 573.33" stroke="#6e6e6e" stroke-width="0.9" fill="none"/>
<path d="M168.10 575.70H173.30M170.70 573.10V578.30M168.83 573.83L172.57 577.57M168.83 577.57L172.57 573.83M174.70 575.70H179.90M177.30 573.10V578.30M175.43 573.83L179.17 577.57M175.43 577.57L179.17 573.83" stroke="#6e6e6e" stroke-width="0.9" fill="none"/>
<path d="M196.90 562.80H202.10M199.50 560.20V565.40M197.63 560.93L201.37 564.67M197.63 564.67L201.37 560.93M203.50 562.80H208.70M206.10 560.20V565.40M204.23 560.93L207.97 564.67M204.23 564.67L207.97 560.93" stroke="#6e6e6e" stroke-width="0.9" fill="none"/>
<line x1="98.45" y1="638.50" x2="98.45" y2="632.40" stroke="#222" stroke-width="1.2"/>
<line x1="95.65" y1="632.40" x2="101.25" y2="632.40" stroke="#222" stroke-width="1.5"/>
<rect x="83.10" y="638.50" width="30.70" height="37.50" fill="#0000FF" stroke="#1a1a1a" stroke-width="1.1"/>
<line x1="135.10" y1="658.20" x2="135.10" y2="655.00" stroke="#222" stroke-width="1.2"/>
<line x1="132.30" y1="655.00" x2="137.90" y2="655.00" stroke="#222" stroke-width="1.5"/>
<rect x="119.60" y="658.20" width="31.00" height="17.80" fill="#3399CC" stroke="#1a1a1a" stroke-width="1.1"/>
<line x1="183.80" y1="589.20" x2="183.80" y2="582.70" stroke="#222" stroke-width="1.2"/>
<line x1="181.00" y1="582.70" x2="186.60" y2="582.70" stroke="#222" stroke-width="1.5"/>
<rect x="168.30" y="589.20" width="31.00" height="86.80" fill="#FF6600" stroke="#1a1a1a" stroke-width="1.1"/>
<line x1="219.30" y1="632.20" x2="219.30" y2="629.40" stroke="#222" stroke-width="1.2"/>
<line x1="216.50" y1="629.40" x2="222.10" y2="629.40" stroke="#222" stroke-width="1.5"/>
<rect x="203.80" y="632.20" width="31.00" height="43.80" fill="#FFCC00" stroke="#1a1a1a" stroke-width="1.1"/>
<text x="98.60" y="689.80" font-size="11.2" font-weight="normal" font-style="italic" text-anchor="middle" fill="#222" >WT</text>
<text x="136.50" y="689.80" font-size="11.2" font-style="italic" text-anchor="middle" fill="#222">Aox4<tspan font-size="8.29" dy="-4.03">-/-</tspan></text>
<text x="183.70" y="689.80" font-size="11.2" font-weight="normal" font-style="italic" text-anchor="middle" fill="#222" >WT</text>
<text x="224.00" y="689.80" font-size="11.2" font-style="italic" text-anchor="middle" fill="#222">Aox4<tspan font-size="8.29" dy="-4.03">-/-</tspan></text>
<polyline points="83.10,693.00 83.10,700.60 150.60,700.60 150.60,693.00" fill="none" stroke="#666" stroke-width="1.0"/>
<text x="116.85" y="713.40" font-size="12.3" font-weight="normal" font-style="normal" text-anchor="middle" fill="#222" >ND</text>
<polyline points="168.30,693.00 168.30,700.60 234.80,700.60 234.80,693.00" fill="none" stroke="#666" stroke-width="1.0"/>
<text x="201.55" y="713.40" font-size="12.3" font-weight="normal" font-style="normal" text-anchor="middle" fill="#222" >HFD</text>
<text x="0" y="0" font-size="13.4" text-anchor="middle" fill="#222" transform="translate(27.90,475.20) rotate(-90)">Abdominal fat volume (% area)</text>
<text x="450.50" y="28.60" font-size="22" font-weight="normal" font-style="normal" text-anchor="start" fill="#000" >d</text>
<text x="451.20" y="57.20" font-size="13.5" font-weight="bold" font-style="normal" text-anchor="start" fill="#111" >Vis fat</text>
<line x1="496.20" y1="73.80" x2="496.20" y2="167.50" stroke="#222" stroke-width="1.2"/>
<line x1="493.40" y1="167.50" x2="665.70" y2="167.50" stroke="#222" stroke-width="1.25"/>
<line x1="493.40" y1="73.80" x2="496.20" y2="73.80" stroke="#222" stroke-width="1.2"/>
<text x="489.73" y="79.60" font-size="13.8" font-weight="normal" font-style="normal" text-anchor="end" fill="#1a1a1a" >3</text>
<line x1="493.40" y1="105.20" x2="496.20" y2="105.20" stroke="#222" stroke-width="1.2"/>
<text x="489.73" y="111.00" font-size="13.8" font-weight="normal" font-style="normal" text-anchor="end" fill="#1a1a1a" >2</text>
<line x1="493.40" y1="136.40" x2="496.20" y2="136.40" stroke="#222" stroke-width="1.2"/>
<text x="489.73" y="142.20" font-size="13.8" font-weight="normal" font-style="normal" text-anchor="end" fill="#1a1a1a" >1</text>
<line x1="493.40" y1="167.50" x2="496.20" y2="167.50" stroke="#222" stroke-width="1.2"/>
<text x="489.73" y="173.30" font-size="13.8" font-weight="normal" font-style="normal" text-anchor="end" fill="#1a1a1a" >0</text>
<polyline points="521.10,143.90 521.10,61.10 603.40,61.10 603.40,68.40" fill="none" stroke="#7a7a7a" stroke-width="1.0"/>
<polyline points="605.80,68.40 605.80,61.10 640.80,61.10 640.80,91.30" fill="none" stroke="#7a7a7a" stroke-width="1.0"/>
<polyline points="556.30,143.60 556.30,73.30 638.70,73.30 638.70,91.30" fill="none" stroke="#7a7a7a" stroke-width="1.0"/>
<path d="M556.60 54.10H561.80M559.20 51.50V56.70M557.33 52.23L561.07 55.97M557.33 55.97L561.07 52.23M563.20 54.10H568.40M565.80 51.50V56.70M563.93 52.23L567.67 55.97M563.93 55.97L567.67 52.23" stroke="#6e6e6e" stroke-width="0.9" fill="none"/>
<path d="M579.10 67.80H584.30M581.70 65.20V70.40M579.83 65.93L583.57 69.67M579.83 69.67L583.57 65.93M585.70 67.80H590.90M588.30 65.20V70.40M586.43 65.93L590.17 69.67M586.43 69.67L590.17 65.93" stroke="#6e6e6e" stroke-width="0.9" fill="none"/>
<path d="M620.60 54.10H625.80M623.20 51.50V56.70M621.33 52.23L625.07 55.97M621.33 55.97L625.07 52.23" stroke="#6e6e6e" stroke-width="0.9" fill="none"/>
<line x1="520.15" y1="156.10" x2="520.15" y2="152.60" stroke="#222" stroke-width="1.2"/>
<line x1="517.35" y1="152.60" x2="522.95" y2="152.60" stroke="#222" stroke-width="1.5"/>
<rect x="504.60" y="156.10" width="31.10" height="11.40" fill="#0000FF" stroke="#1a1a1a" stroke-width="1.1"/>
<line x1="555.90" y1="157.40" x2="555.90" y2="154.20" stroke="#222" stroke-width="1.2"/>
<line x1="553.10" y1="154.20" x2="558.70" y2="154.20" stroke="#222" stroke-width="1.5"/>
<rect x="540.40" y="157.40" width="31.00" height="10.10" fill="#3399CC" stroke="#1a1a1a" stroke-width="1.1"/>
<line x1="604.05" y1="103.00" x2="604.05" y2="78.40" stroke="#222" stroke-width="1.2"/>
<line x1="601.25" y1="78.40" x2="606.85" y2="78.40" stroke="#222" stroke-width="1.5"/>
<rect x="588.50" y="103.00" width="31.10" height="64.50" fill="#FF6600" stroke="#1a1a1a" stroke-width="1.1"/>
<line x1="639.70" y1="116.40" x2="639.70" y2="98.50" stroke="#222" stroke-width="1.2"/>
<line x1="636.90" y1="98.50" x2="642.50" y2="98.50" stroke="#222" stroke-width="1.5"/>
<rect x="624.30" y="116.40" width="30.80" height="51.10" fill="#FFCC00" stroke="#1a1a1a" stroke-width="1.1"/>
<text x="0" y="0" font-size="13.8" text-anchor="middle" fill="#222" transform="translate(460.30,116.00) rotate(-90)">weight (gr)</text>
<text x="451.20" y="194.00" font-size="13.5" font-weight="bold" font-style="normal" text-anchor="start" fill="#111" >Sub fat</text>
<line x1="496.20" y1="212.90" x2="496.20" y2="306.40" stroke="#222" stroke-width="1.2"/>
<line x1="493.40" y1="306.40" x2="665.70" y2="306.40" stroke="#222" stroke-width="1.25"/>
<line x1="493.40" y1="212.90" x2="496.20" y2="212.90" stroke="#222" stroke-width="1.2"/>
<text x="489.73" y="218.70" font-size="13.8" font-weight="normal" font-style="normal" text-anchor="end" fill="#1a1a1a" >1.2</text>
<line x1="493.40" y1="244.10" x2="496.20" y2="244.10" stroke="#222" stroke-width="1.2"/>
<text x="489.73" y="249.90" font-size="13.8" font-weight="normal" font-style="normal" text-anchor="end" fill="#1a1a1a" >0.8</text>
<line x1="493.40" y1="275.30" x2="496.20" y2="275.30" stroke="#222" stroke-width="1.2"/>
<text x="489.73" y="281.10" font-size="13.8" font-weight="normal" font-style="normal" text-anchor="end" fill="#1a1a1a" >0.4</text>
<line x1="493.40" y1="306.40" x2="496.20" y2="306.40" stroke="#222" stroke-width="1.2"/>
<text x="489.73" y="312.20" font-size="13.8" font-weight="normal" font-style="normal" text-anchor="end" fill="#1a1a1a" >0</text>
<polyline points="521.10,283.50 521.10,211.50 603.80,211.50 603.80,220.70" fill="none" stroke="#7a7a7a" stroke-width="1.0"/>
<polyline points="556.30,283.50 556.30,224.60 639.70,224.60 639.70,239.50" fill="none" stroke="#7a7a7a" stroke-width="1.0"/>
<path d="M556.60 205.20H561.80M559.20 202.60V207.80M557.33 203.33L561.07 207.07M557.33 207.07L561.07 203.33M563.20 205.20H568.40M565.80 202.60V207.80M563.93 203.33L567.67 207.07M563.93 207.07L567.67 203.33" stroke="#6e6e6e" stroke-width="0.9" fill="none"/>
<path d="M579.50 218.60H584.70M582.10 216.00V221.20M580.23 216.73L583.97 220.47M580.23 220.47L583.97 216.73M586.10 218.60H591.30M588.70 216.00V221.20M586.83 216.73L590.57 220.47M586.83 220.47L590.57 216.73" stroke="#6e6e6e" stroke-width="0.9" fill="none"/>
<line x1="520.15" y1="294.90" x2="520.15" y2="288.60" stroke="#222" stroke-width="1.2"/>
<line x1="517.35" y1="288.60" x2="522.95" y2="288.60" stroke="#222" stroke-width="1.5"/>
<rect x="504.60" y="294.90" width="31.10" height="11.50" fill="#0000FF" stroke="#1a1a1a" stroke-width="1.1"/>
<line x1="555.90" y1="293.30" x2="555.90" y2="287.80" stroke="#222" stroke-width="1.2"/>
<line x1="553.10" y1="287.80" x2="558.70" y2="287.80" stroke="#222" stroke-width="1.5"/>
<rect x="540.40" y="293.30" width="31.00" height="13.10" fill="#3399CC" stroke="#1a1a1a" stroke-width="1.1"/>
<line x1="604.05" y1="256.90" x2="604.05" y2="230.90" stroke="#222" stroke-width="1.2"/>
<line x1="601.25" y1="230.90" x2="606.85" y2="230.90" stroke="#222" stroke-width="1.5"/>
<rect x="588.50" y="256.90" width="31.10" height="49.50" fill="#FF6600" stroke="#1a1a1a" stroke-width="1.1"/>
<line x1="639.70" y1="267.50" x2="639.70" y2="247.70" stroke="#222" stroke-width="1.2"/>
<line x1="636.90" y1="247.70" x2="642.50" y2="247.70" stroke="#222" stroke-width="1.5"/>
<rect x="624.30" y="267.50" width="30.80" height="38.90" fill="#FFCC00" stroke="#1a1a1a" stroke-width="1.1"/>
<text x="0" y="0" font-size="13.8" text-anchor="middle" fill="#222" transform="translate(460.30,260.20) rotate(-90)">weight (gr)</text>
<text x="451.10" y="335.70" font-size="13.5" font-weight="bold" font-style="normal" text-anchor="start" fill="#111" >Ing fat</text>
<line x1="495.30" y1="358.30" x2="495.30" y2="451.00" stroke="#222" stroke-width="1.2"/>
<line x1="492.50" y1="451.00" x2="665.80" y2="451.00" stroke="#222" stroke-width="1.25"/>
<line x1="492.50" y1="358.30" x2="495.30" y2="358.30" stroke="#222" stroke-width="1.2"/>
<text x="488.83" y="364.10" font-size="13.8" font-weight="normal" font-style="normal" text-anchor="end" fill="#1a1a1a" >1.5</text>
<line x1="492.50" y1="389.20" x2="495.30" y2="389.20" stroke="#222" stroke-width="1.2"/>
<text x="488.83" y="395.00" font-size="13.8" font-weight="normal" font-style="normal" text-anchor="end" fill="#1a1a1a" >1.0</text>
<line x1="492.50" y1="420.10" x2="495.30" y2="420.10" stroke="#222" stroke-width="1.2"/>
<text x="488.83" y="425.90" font-size="13.8" font-weight="normal" font-style="normal" text-anchor="end" fill="#1a1a1a" >0.5</text>
<line x1="492.50" y1="451.00" x2="495.30" y2="451.00" stroke="#222" stroke-width="1.2"/>
<text x="488.83" y="456.80" font-size="13.8" font-weight="normal" font-style="normal" text-anchor="end" fill="#1a1a1a" >0</text>
<polyline points="519.50,420.00 519.50,345.10 603.40,345.10 603.40,353.80" fill="none" stroke="#7a7a7a" stroke-width="1.0"/>
<polyline points="606.00,353.80 606.00,345.10 639.50,345.10 639.50,372.40" fill="none" stroke="#7a7a7a" stroke-width="1.0"/>
<polyline points="556.50,417.30 556.50,357.70 637.30,357.70 637.30,372.40" fill="none" stroke="#7a7a7a" stroke-width="1.0"/>
<path d="M555.20 339.10H560.40M557.80 336.50V341.70M555.93 337.23L559.67 340.97M555.93 340.97L559.67 337.23M561.80 339.10H567.00M564.40 336.50V341.70M562.53 337.23L566.27 340.97M562.53 340.97L566.27 337.23" stroke="#6e6e6e" stroke-width="0.9" fill="none"/>
<path d="M579.50 352.00H584.70M582.10 349.40V354.60M580.23 350.13L583.97 353.87M580.23 353.87L583.97 350.13M586.10 352.00H591.30M588.70 349.40V354.60M586.83 350.13L590.57 353.87M586.83 353.87L590.57 350.13" stroke="#6e6e6e" stroke-width="0.9" fill="none"/>
<path d="M620.90 339.10H626.10M623.50 336.50V341.70M621.63 337.23L625.37 340.97M621.63 340.97L625.37 337.23" stroke="#6e6e6e" stroke-width="0.9" fill="none"/>
<line x1="519.35" y1="436.30" x2="519.35" y2="429.30" stroke="#222" stroke-width="1.2"/>
<line x1="516.55" y1="429.30" x2="522.15" y2="429.30" stroke="#222" stroke-width="1.5"/>
<rect x="503.90" y="436.30" width="30.90" height="14.70" fill="#0000FF" stroke="#1a1a1a" stroke-width="1.1"/>
<line x1="556.05" y1="435.90" x2="556.05" y2="427.60" stroke="#222" stroke-width="1.2"/>
<line x1="553.25" y1="427.60" x2="558.85" y2="427.60" stroke="#222" stroke-width="1.5"/>
<rect x="540.50" y="435.90" width="31.10" height="15.10" fill="#3399CC" stroke="#1a1a1a" stroke-width="1.1"/>
<line x1="603.40" y1="386.00" x2="603.40" y2="362.60" stroke="#222" stroke-width="1.2"/>
<line x1="600.60" y1="362.60" x2="606.20" y2="362.60" stroke="#222" stroke-width="1.5"/>
<rect x="588.00" y="386.00" width="30.80" height="65.00" fill="#FF6600" stroke="#1a1a1a" stroke-width="1.1"/>
<line x1="639.10" y1="397.60" x2="639.10" y2="377.40" stroke="#222" stroke-width="1.2"/>
<line x1="636.30" y1="377.40" x2="641.90" y2="377.40" stroke="#222" stroke-width="1.5"/>
<rect x="623.70" y="397.60" width="30.80" height="53.40" fill="#FFCC00" stroke="#1a1a1a" stroke-width="1.1"/>
<text x="0" y="0" font-size="13.6" text-anchor="middle" fill="#222" transform="translate(459.60,403.70) rotate(-90)">Weight (gr)</text>
<text x="519.80" y="465.20" font-size="11.8" font-weight="normal" font-style="italic" text-anchor="middle" fill="#222" >WT</text>
<text x="554.50" y="465.20" font-size="11.8" font-style="italic" text-anchor="middle" fill="#222">Aox4<tspan font-size="8.73" dy="-4.25">-/-</tspan></text>
<text x="604.00" y="465.20" font-size="11.8" font-weight="normal" font-style="italic" text-anchor="middle" fill="#222" >WT</text>
<text x="640.00" y="465.20" font-size="11.8" font-style="italic" text-anchor="middle" fill="#222">Aox4<tspan font-size="8.73" dy="-4.25">-/-</tspan></text>
<polyline points="503.90,467.60 503.90,476.20 571.60,476.20 571.60,467.60" fill="none" stroke="#666" stroke-width="1.0"/>
<text x="537.75" y="488.20" font-size="12.3" font-weight="normal" font-style="normal" text-anchor="middle" fill="#222" >ND</text>
<polyline points="588.00,467.60 588.00,476.20 654.50,476.20 654.50,467.60" fill="none" stroke="#666" stroke-width="1.0"/>
<text x="621.25" y="488.40" font-size="12.3" font-weight="normal" font-style="normal" text-anchor="middle" fill="#222" >HFD</text>
<text x="273.50" y="542.00" font-size="22" font-weight="normal" font-style="normal" text-anchor="start" fill="#000" >e</text>
<text x="316.60" y="556.40" font-size="13.4" font-weight="bold" font-style="normal" text-anchor="start" fill="#111" >Total mass</text>
<line x1="311.00" y1="581.50" x2="311.00" y2="675.30" stroke="#222" stroke-width="1.2"/>
<line x1="308.20" y1="675.30" x2="476.80" y2="675.30" stroke="#222" stroke-width="1.25"/>
<line x1="308.20" y1="581.50" x2="311.00" y2="581.50" stroke="#222" stroke-width="1.2"/>
<text x="307.43" y="585.90" font-size="13.8" font-weight="normal" font-style="normal" text-anchor="end" fill="#1a1a1a" >40</text>
<line x1="308.20" y1="605.00" x2="311.00" y2="605.00" stroke="#222" stroke-width="1.2"/>
<text x="307.43" y="609.40" font-size="13.8" font-weight="normal" font-style="normal" text-anchor="end" fill="#1a1a1a" >30</text>
<line x1="308.20" y1="628.40" x2="311.00" y2="628.40" stroke="#222" stroke-width="1.2"/>
<text x="307.43" y="632.80" font-size="13.8" font-weight="normal" font-style="normal" text-anchor="end" fill="#1a1a1a" >20</text>
<line x1="308.20" y1="652.00" x2="311.00" y2="652.00" stroke="#222" stroke-width="1.2"/>
<text x="307.43" y="656.40" font-size="13.8" font-weight="normal" font-style="normal" text-anchor="end" fill="#1a1a1a" >10</text>
<line x1="308.20" y1="675.30" x2="311.00" y2="675.30" stroke="#222" stroke-width="1.2"/>
<text x="307.43" y="679.70" font-size="13.8" font-weight="normal" font-style="normal" text-anchor="end" fill="#1a1a1a" >0</text>
<polyline points="334.40,605.40 334.40,575.40 418.40,575.40 418.40,584.00" fill="none" stroke="#7a7a7a" stroke-width="1.0"/>
<path d="M370.50 570.20H375.70M373.10 567.60V572.80M371.23 568.33L374.97 572.07M371.23 572.07L374.97 568.33M377.10 570.20H382.30M379.70 567.60V572.80M377.83 568.33L381.57 572.07M377.83 572.07L381.57 568.33" stroke="#6e6e6e" stroke-width="0.9" fill="none"/>
<line x1="334.45" y1="622.30" x2="334.45" y2="616.20" stroke="#222" stroke-width="1.2"/>
<line x1="331.65" y1="616.20" x2="337.25" y2="616.20" stroke="#222" stroke-width="1.5"/>
<rect x="319.10" y="622.30" width="30.70" height="53.00" fill="#0000FF" stroke="#1a1a1a" stroke-width="1.1"/>
<line x1="370.30" y1="625.40" x2="370.30" y2="620.10" stroke="#222" stroke-width="1.2"/>
<line x1="367.50" y1="620.10" x2="373.10" y2="620.10" stroke="#222" stroke-width="1.5"/>
<rect x="354.40" y="625.40" width="31.80" height="49.90" fill="#3399CC" stroke="#1a1a1a" stroke-width="1.1"/>
<line x1="418.15" y1="596.50" x2="418.15" y2="588.00" stroke="#222" stroke-width="1.2"/>
<line x1="415.35" y1="588.00" x2="420.95" y2="588.00" stroke="#222" stroke-width="1.5"/>
<rect x="402.50" y="596.50" width="31.30" height="78.80" fill="#FF6600" stroke="#1a1a1a" stroke-width="1.1"/>
<line x1="454.15" y1="604.50" x2="454.15" y2="596.90" stroke="#222" stroke-width="1.2"/>
<line x1="451.35" y1="596.90" x2="456.95" y2="596.90" stroke="#222" stroke-width="1.5"/>
<rect x="438.70" y="604.50" width="30.90" height="70.80" fill="#FFCC00" stroke="#1a1a1a" stroke-width="1.1"/>
<text x="334.30" y="690.30" font-size="11.8" font-weight="normal" font-style="italic" text-anchor="middle" fill="#222" >WT</text>
<text x="371.80" y="690.30" font-size="11.8" font-style="italic" text-anchor="middle" fill="#222">Aox4<tspan font-size="8.73" dy="-4.25">-/-</tspan></text>
<text x="418.50" y="690.30" font-size="11.8" font-weight="normal" font-style="italic" text-anchor="middle" fill="#222" >WT</text>
<text x="456.50" y="690.30" font-size="11.8" font-style="italic" text-anchor="middle" fill="#222">Aox4<tspan font-size="8.73" dy="-4.25">-/-</tspan></text>
<polyline points="319.10,692.80 319.10,700.50 386.20,700.50 386.20,692.80" fill="none" stroke="#666" stroke-width="1.0"/>
<text x="352.40" y="712.30" font-size="12.3" font-weight="normal" font-style="normal" text-anchor="middle" fill="#222" >ND</text>
<polyline points="402.50,692.80 402.50,700.50 469.60,700.50 469.60,692.80" fill="none" stroke="#666" stroke-width="1.0"/>
<text x="438.20" y="714.30" font-size="12.3" font-weight="normal" font-style="normal" text-anchor="middle" fill="#222" >HFD</text>
<text x="507.00" y="556.40" font-size="13.4" font-weight="bold" font-style="normal" text-anchor="start" fill="#4a4a4a" >Lean mass</text>
<line x1="505.20" y1="581.50" x2="505.20" y2="675.30" stroke="#3a3a3a" stroke-width="1.2"/>
<line x1="502.40" y1="675.30" x2="671.80" y2="675.30" stroke="#3a3a3a" stroke-width="1.25"/>
<line x1="502.40" y1="581.50" x2="505.20" y2="581.50" stroke="#3a3a3a" stroke-width="1.2"/>
<text x="499.93" y="585.90" font-size="13.8" font-weight="normal" font-style="normal" text-anchor="end" fill="#454545" >40</text>
<line x1="502.40" y1="605.00" x2="505.20" y2="605.00" stroke="#3a3a3a" stroke-width="1.2"/>
<text x="499.93" y="609.40" font-size="13.8" font-weight="normal" font-style="normal" text-anchor="end" fill="#454545" >30</text>
<line x1="502.40" y1="628.40" x2="505.20" y2="628.40" stroke="#3a3a3a" stroke-width="1.2"/>
<text x="499.93" y="632.80" font-size="13.8" font-weight="normal" font-style="normal" text-anchor="end" fill="#454545" >20</text>
<line x1="502.40" y1="652.00" x2="505.20" y2="652.00" stroke="#3a3a3a" stroke-width="1.2"/>
<text x="499.93" y="656.40" font-size="13.8" font-weight="normal" font-style="normal" text-anchor="end" fill="#454545" >10</text>
<line x1="502.40" y1="675.30" x2="505.20" y2="675.30" stroke="#3a3a3a" stroke-width="1.2"/>
<text x="499.93" y="679.70" font-size="13.8" font-weight="normal" font-style="normal" text-anchor="end" fill="#454545" >0</text>
<polyline points="529.70,604.80 529.70,575.40 614.00,575.40 614.00,584.00" fill="none" stroke="#7a7a7a" stroke-width="1.0"/>
<path d="M565.80 570.20H571.00M568.40 567.60V572.80M566.53 568.33L570.27 572.07M566.53 572.07L570.27 568.33M572.40 570.20H577.60M575.00 567.60V572.80M573.13 568.33L576.87 572.07M573.13 572.07L576.87 568.33" stroke="#6e6e6e" stroke-width="0.9" fill="none"/>
<line x1="529.40" y1="626.30" x2="529.40" y2="622.30" stroke="#222" stroke-width="1.2"/>
<line x1="526.60" y1="622.30" x2="532.20" y2="622.30" stroke="#222" stroke-width="1.5"/>
<rect x="513.80" y="626.30" width="31.20" height="49.00" fill="#0000FF" stroke="#1a1a1a" stroke-width="1.1"/>
<line x1="564.95" y1="629.30" x2="564.95" y2="625.40" stroke="#222" stroke-width="1.2"/>
<line x1="562.15" y1="625.40" x2="567.75" y2="625.40" stroke="#222" stroke-width="1.5"/>
<rect x="549.00" y="629.30" width="31.90" height="46.00" fill="#3399CC" stroke="#1a1a1a" stroke-width="1.1"/>
<line x1="612.45" y1="609.10" x2="612.45" y2="603.90" stroke="#222" stroke-width="1.2"/>
<line x1="609.65" y1="603.90" x2="615.25" y2="603.90" stroke="#222" stroke-width="1.5"/>
<rect x="596.50" y="609.10" width="31.90" height="66.20" fill="#FF6600" stroke="#1a1a1a" stroke-width="1.1"/>
<line x1="648.80" y1="615.20" x2="648.80" y2="610.60" stroke="#222" stroke-width="1.2"/>
<line x1="646.00" y1="610.60" x2="651.60" y2="610.60" stroke="#222" stroke-width="1.5"/>
<rect x="633.00" y="615.20" width="31.60" height="60.10" fill="#FFCC00" stroke="#1a1a1a" stroke-width="1.1"/>
<text x="529.30" y="690.30" font-size="11.8" font-weight="normal" font-style="italic" text-anchor="middle" fill="#222" >WT</text>
<text x="566.80" y="690.30" font-size="11.8" font-style="italic" text-anchor="middle" fill="#222">Aox4<tspan font-size="8.73" dy="-4.25">-/-</tspan></text>
<text x="613.00" y="690.30" font-size="11.8" font-weight="normal" font-style="italic" text-anchor="middle" fill="#222" >WT</text>
<text x="652.30" y="690.30" font-size="11.8" font-style="italic" text-anchor="middle" fill="#222">Aox4<tspan font-size="8.73" dy="-4.25">-/-</tspan></text>
<polyline points="513.80,692.80 513.80,700.50 580.90,700.50 580.90,692.80" fill="none" stroke="#666" stroke-width="1.0"/>
<text x="547.80" y="712.30" font-size="12.3" font-weight="normal" font-style="normal" text-anchor="middle" fill="#222" >ND</text>
<polyline points="596.50,692.80 596.50,700.50 664.60,700.50 664.60,692.80" fill="none" stroke="#666" stroke-width="1.0"/>
<text x="631.50" y="714.30" font-size="12.3" font-weight="normal" font-style="normal" text-anchor="middle" fill="#222" >HFD</text>
<text x="0" y="0" font-size="13.4" text-anchor="middle" fill="#222" transform="translate(281.80,621.00) rotate(-90)">Weight (gr)</text>
<text x="15.30" y="749.30" font-size="22" font-weight="normal" font-style="normal" text-anchor="start" fill="#000" >f</text>
<text x="62.70" y="751.30" font-size="13.4" font-weight="bold" font-style="normal" text-anchor="start" fill="#111" >NEFA</text>
<line x1="62.20" y1="775.00" x2="62.20" y2="862.30" stroke="#222" stroke-width="1.2"/>
<line x1="59.40" y1="862.30" x2="221.00" y2="862.30" stroke="#222" stroke-width="1.25"/>
<line x1="59.40" y1="775.00" x2="62.20" y2="775.00" stroke="#222" stroke-width="1.2"/>
<text x="56.90" y="779.40" font-size="11.6" font-weight="normal" font-style="normal" text-anchor="end" fill="#1a1a1a" >1.4</text>
<line x1="59.40" y1="787.47" x2="62.20" y2="787.47" stroke="#222" stroke-width="1.2"/>
<text x="56.90" y="791.87" font-size="11.6" font-weight="normal" font-style="normal" text-anchor="end" fill="#1a1a1a" >1.2</text>
<line x1="59.40" y1="799.94" x2="62.20" y2="799.94" stroke="#222" stroke-width="1.2"/>
<text x="56.90" y="804.34" font-size="11.6" font-weight="normal" font-style="normal" text-anchor="end" fill="#1a1a1a" >1.0</text>
<line x1="59.40" y1="812.41" x2="62.20" y2="812.41" stroke="#222" stroke-width="1.2"/>
<text x="56.90" y="816.81" font-size="11.6" font-weight="normal" font-style="normal" text-anchor="end" fill="#1a1a1a" >0.8</text>
<line x1="59.40" y1="824.88" x2="62.20" y2="824.88" stroke="#222" stroke-width="1.2"/>
<text x="56.90" y="829.28" font-size="11.6" font-weight="normal" font-style="normal" text-anchor="end" fill="#1a1a1a" >0.6</text>
<line x1="59.40" y1="837.35" x2="62.20" y2="837.35" stroke="#222" stroke-width="1.2"/>
<text x="56.90" y="841.75" font-size="11.6" font-weight="normal" font-style="normal" text-anchor="end" fill="#1a1a1a" >0.4</text>
<line x1="59.40" y1="849.82" x2="62.20" y2="849.82" stroke="#222" stroke-width="1.2"/>
<text x="56.90" y="854.22" font-size="11.6" font-weight="normal" font-style="normal" text-anchor="end" fill="#1a1a1a" >0.2</text>
<line x1="59.40" y1="862.29" x2="62.20" y2="862.29" stroke="#222" stroke-width="1.2"/>
<text x="56.90" y="866.69" font-size="11.6" font-weight="normal" font-style="normal" text-anchor="end" fill="#1a1a1a" >0</text>
<polyline points="86.40,791.70 86.40,770.60 163.80,770.60 163.80,776.40" fill="none" stroke="#7a7a7a" stroke-width="1.0"/>
<polyline points="166.40,776.40 166.40,770.60 198.70,770.60 198.70,780.90" fill="none" stroke="#7a7a7a" stroke-width="1.0"/>
<path d="M119.00 764.80H124.20M121.60 762.20V767.40M119.73 762.93L123.47 766.67M119.73 766.67L123.47 762.93M125.60 764.80H130.80M128.20 762.20V767.40M126.33 762.93L130.07 766.67M126.33 766.67L130.07 762.93" stroke="#6e6e6e" stroke-width="0.9" fill="none"/>
<path d="M179.80 764.80H185.00M182.40 762.20V767.40M180.53 762.93L184.27 766.67M180.53 766.67L184.27 762.93" stroke="#6e6e6e" stroke-width="0.9" fill="none"/>
<line x1="87.05" y1="807.40" x2="87.05" y2="798.50" stroke="#222" stroke-width="1.2"/>
<line x1="84.25" y1="798.50" x2="89.85" y2="798.50" stroke="#222" stroke-width="1.5"/>
<rect x="71.60" y="807.40" width="30.90" height="54.90" fill="#0000FF" stroke="#1a1a1a" stroke-width="1.1"/>
<line x1="121.20" y1="800.50" x2="121.20" y2="787.40" stroke="#222" stroke-width="1.2"/>
<line x1="118.40" y1="787.40" x2="124.00" y2="787.40" stroke="#222" stroke-width="1.5"/>
<rect x="105.60" y="800.50" width="31.20" height="61.80" fill="#3399CC" stroke="#1a1a1a" stroke-width="1.1"/>
<line x1="164.90" y1="791.10" x2="164.90" y2="780.50" stroke="#222" stroke-width="1.2"/>
<line x1="162.10" y1="780.50" x2="167.70" y2="780.50" stroke="#222" stroke-width="1.5"/>
<rect x="149.50" y="791.10" width="30.80" height="71.20" fill="#FF6600" stroke="#1a1a1a" stroke-width="1.1"/>
<line x1="198.55" y1="802.70" x2="198.55" y2="787.40" stroke="#222" stroke-width="1.2"/>
<line x1="195.75" y1="787.40" x2="201.35" y2="787.40" stroke="#222" stroke-width="1.5"/>
<rect x="183.30" y="802.70" width="30.50" height="59.60" fill="#FFCC00" stroke="#1a1a1a" stroke-width="1.1"/>
<text x="0" y="0" font-size="11.5" text-anchor="middle" fill="#222" transform="translate(30.30,818.30) rotate(-90)">(mmol/Lt)</text>
<text x="86.30" y="874.20" font-size="10.7" font-weight="normal" font-style="italic" text-anchor="middle" fill="#222" >WT</text>
<text x="121.50" y="874.20" font-size="10.7" font-style="italic" text-anchor="middle" fill="#222">Aox4<tspan font-size="7.92" dy="-3.85">-/-</tspan></text>
<text x="164.00" y="874.20" font-size="10.7" font-weight="normal" font-style="italic" text-anchor="middle" fill="#222" >WT</text>
<text x="200.00" y="874.20" font-size="10.7" font-style="italic" text-anchor="middle" fill="#222">Aox4<tspan font-size="7.92" dy="-3.85">-/-</tspan></text>
<polyline points="71.60,877.20 71.60,884.70 136.80,884.70 136.80,877.20" fill="none" stroke="#666" stroke-width="1.0"/>
<text x="103.50" y="896.50" font-size="12.3" font-weight="normal" font-style="normal" text-anchor="middle" fill="#222" >ND</text>
<polyline points="149.50,877.20 149.50,884.70 213.80,884.70 213.80,877.20" fill="none" stroke="#666" stroke-width="1.0"/>
<text x="181.80" y="896.50" font-size="12.3" font-weight="normal" font-style="normal" text-anchor="middle" fill="#222" >HFD</text>
<text x="278.20" y="752.00" font-size="13.1" font-weight="bold" font-style="normal" text-anchor="start" fill="#111" >Triglycerides</text>
<line x1="277.10" y1="775.50" x2="277.10" y2="863.00" stroke="#222" stroke-width="1.2"/>
<line x1="274.30" y1="863.00" x2="437.20" y2="863.00" stroke="#222" stroke-width="1.25"/>
<line x1="274.30" y1="775.50" x2="277.10" y2="775.50" stroke="#222" stroke-width="1.2"/>
<text x="271.80" y="779.90" font-size="11.6" font-weight="normal" font-style="normal" text-anchor="end" fill="#1a1a1a" >140</text>
<line x1="274.30" y1="788.00" x2="277.10" y2="788.00" stroke="#222" stroke-width="1.2"/>
<text x="271.80" y="792.40" font-size="11.6" font-weight="normal" font-style="normal" text-anchor="end" fill="#1a1a1a" >120</text>
<line x1="274.30" y1="800.50" x2="277.10" y2="800.50" stroke="#222" stroke-width="1.2"/>
<text x="271.80" y="804.90" font-size="11.6" font-weight="normal" font-style="normal" text-anchor="end" fill="#1a1a1a" >100</text>
<line x1="274.30" y1="813.00" x2="277.10" y2="813.00" stroke="#222" stroke-width="1.2"/>
<text x="271.80" y="817.40" font-size="11.6" font-weight="normal" font-style="normal" text-anchor="end" fill="#1a1a1a" >80</text>
<line x1="274.30" y1="825.50" x2="277.10" y2="825.50" stroke="#222" stroke-width="1.2"/>
<text x="271.80" y="829.90" font-size="11.6" font-weight="normal" font-style="normal" text-anchor="end" fill="#1a1a1a" >60</text>
<line x1="274.30" y1="838.00" x2="277.10" y2="838.00" stroke="#222" stroke-width="1.2"/>
<text x="271.80" y="842.40" font-size="11.6" font-weight="normal" font-style="normal" text-anchor="end" fill="#1a1a1a" >40</text>
<line x1="274.30" y1="850.50" x2="277.10" y2="850.50" stroke="#222" stroke-width="1.2"/>
<text x="271.80" y="854.90" font-size="11.6" font-weight="normal" font-style="normal" text-anchor="end" fill="#1a1a1a" >20</text>
<line x1="274.30" y1="863.00" x2="277.10" y2="863.00" stroke="#222" stroke-width="1.2"/>
<text x="271.80" y="867.40" font-size="11.6" font-weight="normal" font-style="normal" text-anchor="end" fill="#1a1a1a" >0</text>
<polyline points="302.20,778.10 302.20,772.50 380.20,772.50 380.20,792.80" fill="none" stroke="#7a7a7a" stroke-width="1.0"/>
<polyline points="302.20,809.90 302.20,785.40 337.50,785.40 337.50,791.40" fill="none" stroke="#7a7a7a" stroke-width="1.0"/>
<path d="M330.60 765.80H335.80M333.20 763.20V768.40M331.33 763.93L335.07 767.67M331.33 767.67L335.07 763.93M337.20 765.80H342.40M339.80 763.20V768.40M337.93 763.93L341.67 767.67M337.93 767.67L341.67 763.93" stroke="#6e6e6e" stroke-width="0.9" fill="none"/>
<path d="M316.30 777.90H321.50M318.90 775.30V780.50M317.03 776.03L320.77 779.77M317.03 779.77L320.77 776.03" stroke="#6e6e6e" stroke-width="0.9" fill="none"/>
<line x1="302.00" y1="828.30" x2="302.00" y2="822.50" stroke="#222" stroke-width="1.2"/>
<line x1="299.20" y1="822.50" x2="304.80" y2="822.50" stroke="#222" stroke-width="1.5"/>
<rect x="286.40" y="828.30" width="31.20" height="34.70" fill="#0000FF" stroke="#1a1a1a" stroke-width="1.1"/>
<line x1="337.10" y1="813.40" x2="337.10" y2="797.30" stroke="#222" stroke-width="1.2"/>
<line x1="334.30" y1="797.30" x2="339.90" y2="797.30" stroke="#222" stroke-width="1.5"/>
<rect x="321.50" y="813.40" width="31.20" height="49.60" fill="#3399CC" stroke="#1a1a1a" stroke-width="1.1"/>
<line x1="379.85" y1="812.70" x2="379.85" y2="799.40" stroke="#222" stroke-width="1.2"/>
<line x1="377.05" y1="799.40" x2="382.65" y2="799.40" stroke="#222" stroke-width="1.5"/>
<rect x="364.30" y="812.70" width="31.10" height="50.30" fill="#FF6600" stroke="#1a1a1a" stroke-width="1.1"/>
<line x1="414.05" y1="809.30" x2="414.05" y2="787.80" stroke="#222" stroke-width="1.2"/>
<line x1="411.25" y1="787.80" x2="416.85" y2="787.80" stroke="#222" stroke-width="1.5"/>
<rect x="398.50" y="809.30" width="31.10" height="53.70" fill="#FFCC00" stroke="#1a1a1a" stroke-width="1.1"/>
<text x="0" y="0" font-size="11.5" text-anchor="middle" fill="#222" transform="translate(243.40,819.30) rotate(-90)">(mg/dl)</text>
<text x="301.20" y="874.80" font-size="10.7" font-weight="normal" font-style="italic" text-anchor="middle" fill="#222" >WT</text>
<text x="337.30" y="874.80" font-size="10.7" font-style="italic" text-anchor="middle" fill="#222">Aox4<tspan font-size="7.92" dy="-3.85">-/-</tspan></text>
<text x="379.00" y="874.80" font-size="10.7" font-weight="normal" font-style="italic" text-anchor="middle" fill="#222" >WT</text>
<text x="416.40" y="874.80" font-size="10.7" font-style="italic" text-anchor="middle" fill="#222">Aox4<tspan font-size="7.92" dy="-3.85">-/-</tspan></text>
<polyline points="286.40,877.80 286.40,885.30 352.70,885.30 352.70,877.80" fill="none" stroke="#666" stroke-width="1.0"/>
<text x="319.80" y="897.70" font-size="12.3" font-weight="normal" font-style="normal" text-anchor="middle" fill="#222" >ND</text>
<polyline points="364.30,877.80 364.30,885.30 429.60,885.30 429.60,877.80" fill="none" stroke="#666" stroke-width="1.0"/>
<text x="398.10" y="897.70" font-size="12.3" font-weight="normal" font-style="normal" text-anchor="middle" fill="#222" >HFD</text>
<text x="494.40" y="754.60" font-size="13.0" font-weight="bold" font-style="normal" text-anchor="start" fill="#111" >Cholesterol</text>
<line x1="493.40" y1="775.10" x2="493.40" y2="862.30" stroke="#222" stroke-width="1.2"/>
<line x1="490.60" y1="862.30" x2="653.30" y2="862.30" stroke="#222" stroke-width="1.25"/>
<line x1="490.60" y1="775.10" x2="493.40" y2="775.10" stroke="#222" stroke-width="1.2"/>
<text x="488.10" y="779.50" font-size="11.6" font-weight="normal" font-style="normal" text-anchor="end" fill="#1a1a1a" >250</text>
<line x1="490.60" y1="792.54" x2="493.40" y2="792.54" stroke="#222" stroke-width="1.2"/>
<text x="488.10" y="796.94" font-size="11.6" font-weight="normal" font-style="normal" text-anchor="end" fill="#1a1a1a" >200</text>
<line x1="490.60" y1="809.98" x2="493.40" y2="809.98" stroke="#222" stroke-width="1.2"/>
<text x="488.10" y="814.38" font-size="11.6" font-weight="normal" font-style="normal" text-anchor="end" fill="#1a1a1a" >150</text>
<line x1="490.60" y1="827.42" x2="493.40" y2="827.42" stroke="#222" stroke-width="1.2"/>
<text x="488.10" y="831.82" font-size="11.6" font-weight="normal" font-style="normal" text-anchor="end" fill="#1a1a1a" >100</text>
<line x1="490.60" y1="844.86" x2="493.40" y2="844.86" stroke="#222" stroke-width="1.2"/>
<text x="488.10" y="849.26" font-size="11.6" font-weight="normal" font-style="normal" text-anchor="end" fill="#1a1a1a" >50</text>
<line x1="490.60" y1="862.30" x2="493.40" y2="862.30" stroke="#222" stroke-width="1.2"/>
<text x="488.10" y="866.70" font-size="11.6" font-weight="normal" font-style="normal" text-anchor="end" fill="#1a1a1a" >0</text>
<polyline points="517.00,819.40 517.00,780.30 597.10,780.30 597.10,787.00" fill="none" stroke="#7a7a7a" stroke-width="1.0"/>
<polyline points="552.20,774.70 552.20,766.20 630.40,766.20 630.40,790.70" fill="none" stroke="#7a7a7a" stroke-width="1.0"/>
<path d="M535.10 774.00H540.30M537.70 771.40V776.60M535.83 772.13L539.57 775.87M535.83 775.87L539.57 772.13M541.70 774.00H546.90M544.30 771.40V776.60M542.43 772.13L546.17 775.87M542.43 775.87L546.17 772.13" stroke="#6e6e6e" stroke-width="0.9" fill="none"/>
<path d="M588.10 762.50H593.30M590.70 759.90V765.10M588.83 760.63L592.57 764.37M588.83 764.37L592.57 760.63M594.70 762.50H599.90M597.30 759.90V765.10M595.43 760.63L599.17 764.37M595.43 764.37L599.17 760.63" stroke="#6e6e6e" stroke-width="0.9" fill="none"/>
<line x1="519.00" y1="830.30" x2="519.00" y2="826.60" stroke="#222" stroke-width="1.2"/>
<line x1="516.20" y1="826.60" x2="521.80" y2="826.60" stroke="#222" stroke-width="1.5"/>
<rect x="503.70" y="830.30" width="30.60" height="32.00" fill="#0000FF" stroke="#1a1a1a" stroke-width="1.1"/>
<line x1="553.40" y1="831.30" x2="553.40" y2="828.20" stroke="#222" stroke-width="1.2"/>
<line x1="550.60" y1="828.20" x2="556.20" y2="828.20" stroke="#222" stroke-width="1.5"/>
<rect x="538.00" y="831.30" width="30.80" height="31.00" fill="#3399CC" stroke="#1a1a1a" stroke-width="1.1"/>
<line x1="596.90" y1="801.70" x2="596.90" y2="792.50" stroke="#222" stroke-width="1.2"/>
<line x1="594.10" y1="792.50" x2="599.70" y2="792.50" stroke="#222" stroke-width="1.5"/>
<rect x="581.40" y="801.70" width="31.00" height="60.60" fill="#FF6600" stroke="#1a1a1a" stroke-width="1.1"/>
<line x1="631.05" y1="805.40" x2="631.05" y2="799.30" stroke="#222" stroke-width="1.2"/>
<line x1="628.25" y1="799.30" x2="633.85" y2="799.30" stroke="#222" stroke-width="1.5"/>
<rect x="615.50" y="805.40" width="31.10" height="56.90" fill="#FFCC00" stroke="#1a1a1a" stroke-width="1.1"/>
<text x="0" y="0" font-size="11.5" text-anchor="middle" fill="#222" transform="translate(459.20,819.00) rotate(-90)">(mg/dl)</text>
<text x="519.00" y="875.80" font-size="10.7" font-weight="normal" font-style="italic" text-anchor="middle" fill="#222" >WT</text>
<text x="553.40" y="875.80" font-size="10.7" font-style="italic" text-anchor="middle" fill="#222">Aox4<tspan font-size="7.92" dy="-3.85">-/-</tspan></text>
<text x="596.10" y="875.80" font-size="10.7" font-weight="normal" font-style="italic" text-anchor="middle" fill="#222" >WT</text>
<text x="632.40" y="875.80" font-size="10.7" font-style="italic" text-anchor="middle" fill="#222">Aox4<tspan font-size="7.92" dy="-3.85">-/-</tspan></text>
<polyline points="503.70,878.80 503.70,886.30 568.80,886.30 568.80,878.80" fill="none" stroke="#666" stroke-width="1.0"/>
<text x="536.30" y="898.70" font-size="12.3" font-weight="normal" font-style="normal" text-anchor="middle" fill="#222" >ND</text>
<polyline points="581.40,878.80 581.40,886.30 646.60,886.30 646.60,878.80" fill="none" stroke="#666" stroke-width="1.0"/>
<text x="614.30" y="898.70" font-size="12.3" font-weight="normal" font-style="normal" text-anchor="middle" fill="#222" >HFD</text>
<line x1="2.00" y1="2.50" x2="683.00" y2="2.50" stroke="#111" stroke-width="1.3"/>
<line x1="2.50" y1="2.00" x2="2.50" y2="916.00" stroke="#111" stroke-width="1.3"/>
<line x1="682.50" y1="2.00" x2="682.50" y2="916.00" stroke="#111" stroke-width="1.3"/>
<line x1="2.00" y1="915.30" x2="683.00" y2="915.30" stroke="#111" stroke-width="1.3"/>
<line x1="2.00" y1="255.00" x2="263.00" y2="255.00" stroke="#2a2a2a" stroke-width="1.6"/>
<line x1="263.00" y1="2.00" x2="263.00" y2="724.70" stroke="#2a2a2a" stroke-width="1.6"/>
<line x1="439.60" y1="2.00" x2="439.60" y2="518.80" stroke="#2a2a2a" stroke-width="1.6"/>
<line x1="263.00" y1="518.80" x2="682.00" y2="518.80" stroke="#2a2a2a" stroke-width="1.6"/>
<line x1="2.00" y1="724.70" x2="682.00" y2="724.70" stroke="#2a2a2a" stroke-width="1.6"/>
</svg>
</body></html>
